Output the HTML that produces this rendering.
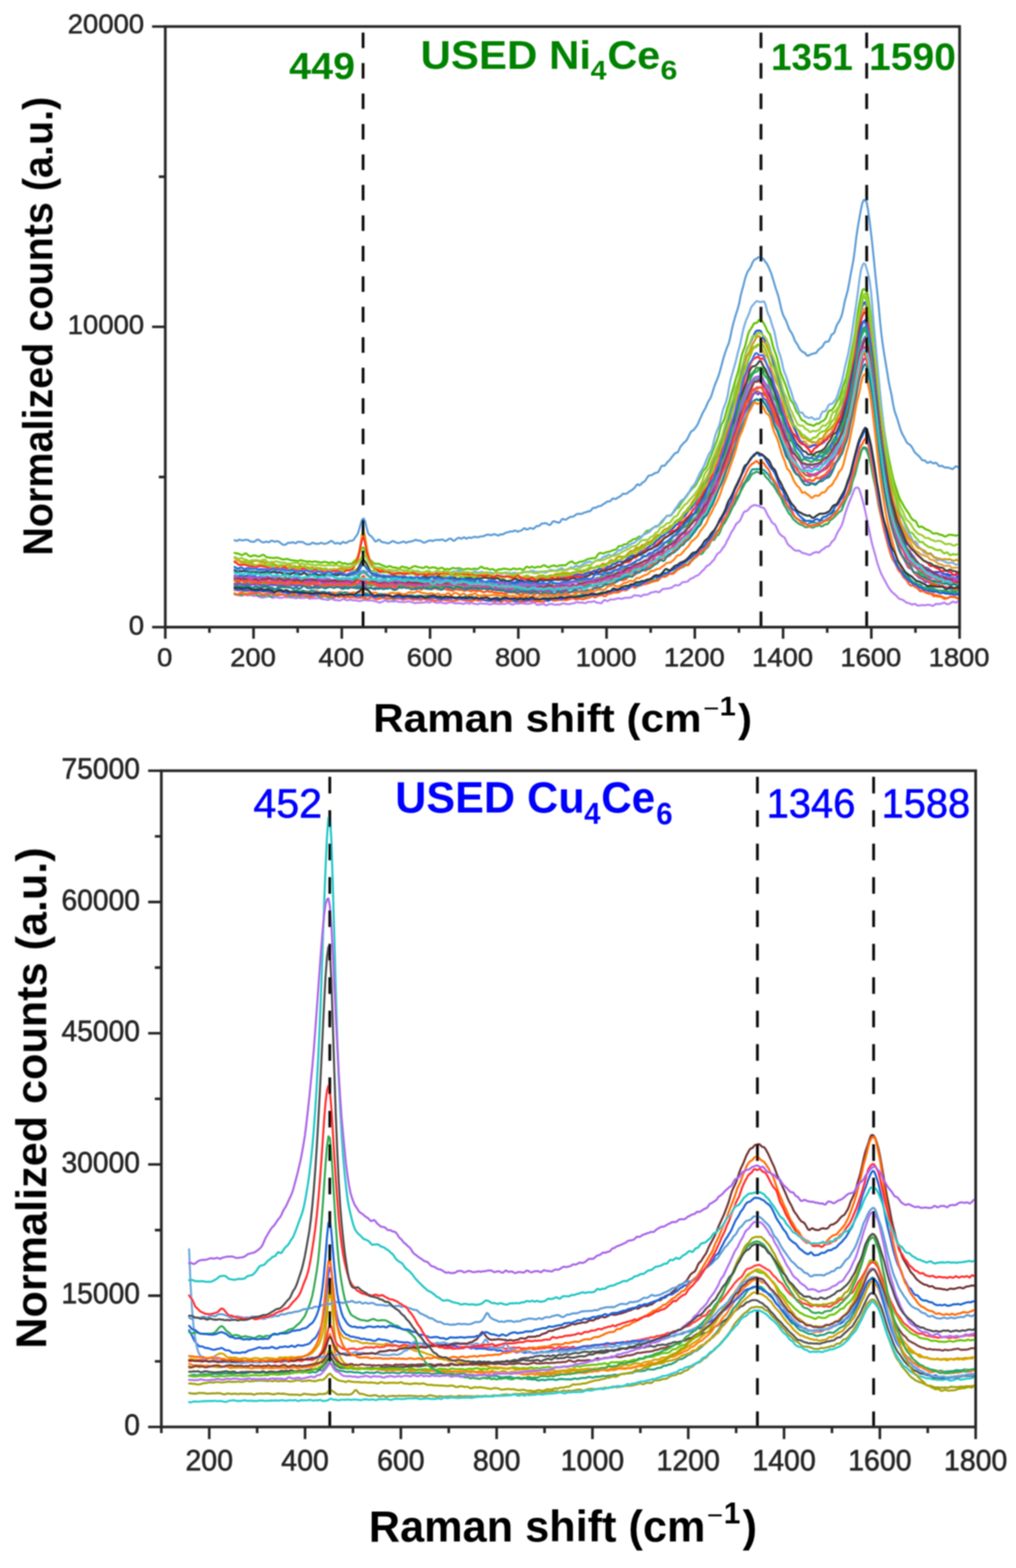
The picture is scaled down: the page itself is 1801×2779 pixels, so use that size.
<!DOCTYPE html><html><head><meta charset="utf-8"><title>Raman spectra</title><style>html,body{margin:0;padding:0;background:#fff}svg{display:block}text{font-family:"Liberation Sans", Arial, sans-serif;font-size:100px}</style></head><body>
<svg width="1801" height="2779" viewBox="0 0 1801 2779">
<rect width="1801" height="2779" fill="#fff"/>
<filter id="bl" filterUnits="userSpaceOnUse" x="0" y="0" width="1801" height="2779"><feGaussianBlur stdDeviation="0.85"/></filter>
<g filter="url(#bl)">
<defs><clipPath id="ct"><rect x="293" y="47" width="1408" height="1064.5"/></clipPath><clipPath id="cb"><rect x="286" y="1366" width="1443.5" height="1163"/></clipPath></defs>
<g clip-path="url(#ct)" fill="none" stroke-linejoin="round" stroke-linecap="round">
<path d="M415.8 1053.3l2.6 0.2 2.6 0.8 2.6 0.8 2.6 0.3 2.6 0 2.6-1.2 2.6-0.7 2.6 1.3 2.6 0.6 2.6-0.8 2.6-0.1 2.6 0.9 2.6 0.8 2.6-0.5 2.6 0 2.6 1.3 2.6 0.9 2.6 0.8 2.6 0.5 2.6-0.4 2.6-0.6 2.6-0.4 2.6-0.7 2.6-0.3 2.6 1.6 2.6 1.5 2.6-0.8 2.6-1.4 2.6 0.6 2.6 1.1 2.6 0.1 2.6 0.1 2.6-0.7 2.6-0.8 2.6 0.6 2.6-0.1 2.6-0.4 2.6 0.8 2.6 0.3 2.6-0.3 2.6 0.7 2.6 0.7 2.6-1.1 2.6-0.3 2.6 1.1 2.6-0.4 2.6 0.1 2.6-0.1 2.6-1.4 2.6 1 2.6 1.9 2.6-0.4 2.6-0.6 2.6 0.2 2.6 0 2.6 0.1 2.6-0.6 2.6 0.1 2.6 1.3 2.6 0.6 2.6 0 2.6 0.5 2.6 0.8 2.6 0 2.6-1.1 2.6-1.2 2.6 0.6 2.6 2 2.6 0.1 2.6-0.3 2.6 1.2 2.6-0.2 2.6-1.6 2.6-1.1 2.6 0.5 2.6 1.3 2.6 0.6 2.6-0.8 2.6-0.7 2.6 1 2.6 0.6 2.6-0.3 2.6 0.2 2.6 0.8 2.6 0.5 2.6-0.3 2.6-0.8 2.6-0.9 2.6 0.1 2.6 0.6 2.6 0.2 2.6 0.1 2.6-0.3 2.6 0.2 2.6 0.9 2.6 0.7 2.6 0.4 2.6 1.3 2.6 0.6 2.6-1.1 2.6-0.7 2.6-1.6 2.6-0.9 2.6 1.9 2.6 0.9 2.6-1 2.6-0.2 2.6 0.5 2.6 0 2.6-0.7 2.6 0.6 2.6 1.1 2.6-0.2 2.6 0.1 2.6 0.4 2.6-0.2 2.6-0.3 2.6-0.8 2.6 0 2.6 0.8 2.6 0.5 2.6 0.8 2.6 1.2 2.6-0.6 2.6-0.5 2.6 0.3 2.6-0.4 2.6-0.1 2.6-0.3 2.6-0.4 2.6-0.4 2.6 0.7 2.6 0.6 2.6-1.8 2.6-0.7 2.6 1.4 2.6 0.9 2.6 0.4 2.6-0.2 2.6-0.7 2.6 0.4 2.6 0.7 2.6 0.4 2.6 0.6 2.6-0.6 2.6-1.3 2.6-0.3 2.6 0.1 2.6 0.7 2.6 1 2.6 0.2 2.6-0.2 2.6-0.2 2.6 0.2 2.6 0.6 2.6 0.8 2.6-1.1 2.6-1.4 2.6 1.2 2.6 0.9 2.6-1.6 2.6-0.2 2.6 1.6 2.6 0.4 2.6 0.4 2.6 0.2 2.6-1.4 2.6-0.4 2.6 0.7 2.6 0.2 2.6-0.2 2.6 0.2 2.6 0.6 2.6 0.8 2.6-0.6 2.6-1.4 2.6 0.2 2.6 0.3 2.6 0.2 2.6 0.6 2.6-0.2 2.6-0.6 2.6 0.3 2.6 0.3 2.6-0.7 2.6-0.9 2.6 0.1 2.6 1 2.6 1.4 2.6 0.1 2.6-1.7 2.6-0.6 2.6 0.7 2.6-0.2 2.6-0.5 2.6-0.2 2.6 0.6 2.6 0.3 2.6 0.1 2.6 0.6 2.6-0.5 2.6-0.8 2.6-0.6 2.6-0.9 2.6 1.1 2.6 2.8 2.6 0.5 2.6-1.2 2.6 0 2.6-0.5 2.6-0.1 2.6 2.1 2.6 0.4 2.6-1.9 2.6-0.8 2.6 0.2 2.6 0.2 2.6 0.9 2.6 0.4 2.6-0.7 2.6 0.4 2.6-0.1 2.6-1.5 2.6-0.7 2.6 0.3 2.6 0.8 2.6 0.4 2.6 0 2.6-0.5 2.6-0.8 2.6-0.2 2.6-0.7 2.6-1.4 2.6-0.2 2.6 1.2 2.6-0.2 2.6-0.4 2.6 0.9 2.6 0.6 2.6-1 2.6-1.4 2.6 0 2.6 0.2 2.6-0.7 2.6-0.8 2.6 1.2 2.6 1.6 2.6-0.1 2.6 0.9 2.6 0.2 2.6-3 2.6-2.7 2.6 0.6 2.6 1.3 2.6-0.9 2.6-1.9 2.6-0.3 2.6 0.2 2.6-0.2 2.6-0.7 2.6-1 2.6-0.3 2.6 0.6 2.6 0.3 2.6-0.7 2.6-0.8 2.6-0.4 2.6 0.5 2.6-0.5 2.6-0.4 2.6-0.7 2.6-2.5 2.6-0.8 2.6 0.9 2.6-0.5 2.6 0.7 2.6 1.2 2.6-1.6 2.6-1.7 2.6 0.1 2.6 0.1 2.6-0.8 2.6-1.7 2.6-1.5 2.6-0.3 2.6-0.6 2.6-0.9 2.6 0.5 2.6 0.9 2.6-1 2.6-3 2.6-1.8 2.6-0.2 2.6-0.3 2.6-0.2 2.6-0.4 2.6-0.5 2.6-0.8 2.6-1.9 2.6-2 2.6-0.5 2.6 0.4 2.6-0.3 2.6-1.8 2.6-2.8 2.6-1 2.6-0.1 2.6-0.3 2.6-0.8 2.6-2.6 2.6-2.3 2.6-0.8 2.6-1.1 2.6-2 2.6-1.2 2.6-0.9 2.6-2.2 2.6-2.9 2.6-2.8 2.6-2.1 2.6-3.3 2.6-3.2 2.6-1 2.6-1.8 2.6-3.3 2.6-2.6 2.6-2.7 2.6-5 2.6-4.6 2.6-1.9 2.6-1.9 2.6-3.5 2.6-4 2.6-3 2.6-4.7 2.6-5.8 2.6-4.2 2.6-5.7 2.6-5.3 2.6-3.4 2.6-4.9 2.6-5 2.6-2.3 2.6-1.9 2.6-3.8 2.6-6 2.6-6 2.6-2.5 2.6-0.3 2.6-1.8 2.6-3.3 2.6-2.8 2.6-1.4 2.6-1.2 2.6-0.3 2.6 0.8 2.6 0.6 2.6 0.9 2.6 1.5 2.6 0.7 2.6 1.2 2.6 4.1 2.6 5.8 2.6 4.7 2.6 3.7 2.6 5.1 2.6 3.4 2.6 1 2.6 3.4 2.6 6.2 2.6 5.5 2.6 3.4 2.6 2.5 2.6 1.3 2.6 2 2.6 5.3 2.6 5.5 2.6 3.2 2.6 1.6 2.6 2.4 2.6 2.6 2.6 1.7 2.6 1 2.6-0.3 2.6 0 2.6 1.8 2.6 2 2.6 0.7 2.6 0.7 2.6 0.8 2.6 0.7 2.6 1 2.6-0.8 2.6-2.2 2.6-0.9 2.6-1 2.6-0.4 2.6 1.2 2.6-1.2 2.6-2.9 2.6-1.7 2.6-1.6 2.6-2.5 2.6-1 2.6-0.2 2.6-2.9 2.6-4.7 2.6-2.4 2.6-2.4 2.6-5.9 2.6-6 2.6-4.4 2.6-4.1 2.6-4.7 2.6-8.2 2.6-9.8 2.6-8 2.6-7.4 2.6-7 2.6-6.4 2.6-6.2 2.6-7.3 2.6-5.2 2.6-1.2 2.6-0.2 2.6 4 2.6 8.3 2.6 8.8 2.6 9.7 2.6 11.3 2.6 12.8 2.6 12.8 2.6 12.2 2.6 12.5 2.6 11.2 2.6 8.7 2.6 9.2 2.6 10.2 2.6 8 2.6 7.4 2.6 6.4 2.6 5 2.6 4.9 2.6 4.7 2.6 5.1 2.6 4.2 2.6 3.9 2.6 3.4 2.6 2.2 2.6 2.3 2.6 2.2 2.6 2.9 2.6 2.6 2.6 1.2 2.6 0.5 2.6 1.2 2.6 2.1 2.6 1.9 2.6 1 2.6 0.2 2.6 1.5 2.6 1.2 2.6-1.2 2.6-0.3 2.6 2.1 2.6 0.9 2.6-0.1 2.6-0.3 2.6-0.5 2.6 0.4 2.6-0.1 2.6-0.6 2.6 0 2.6 0.1 2.6 0.8 2.6 1 2.6-1.2 2.6-2.3 2.6-0.2 2.6 0.4 2.6-0.4 2.6-0.3 2.6-1.2 2.6-0.6 2.6 1.7 2.6 1.2 2.6-0.5 2.6-1.3 2.6-2.2 2.6-0.7 2.6 1.4 2.6 0.3 2.6-2.1 2.6-0.6 0.8 1.6" stroke="#b57ff0" stroke-width="3.6"/>
<path d="M415.8 980l2.6 0.6 2.6 0.1 2.6 1 2.6 1.3 2.6 0.9 2.6-0.9 2.6-2.2 2.6 0.3 2.6 2.2 2.6 2.1 2.6 0.8 2.6-1 2.6-0.9 2.6 0.2 2.6 0.9 2.6 0.9 2.6-0.3 2.6-1.1 2.6-1.5 2.6 0.1 2.6 2.5 2.6 1.7 2.6 0.1 2.6 0.6 2.6 0.4 2.6 0.1 2.6 0.1 2.6-0.6 2.6-0.1 2.6 0.6 2.6 0.8 2.6 1.2 2.6 0.5 2.6-0.3 2.6-0.2 2.6-0.3 2.6 0.9 2.6 1.1 2.6 0.2 2.6 0.6 2.6 0.1 2.6 0.4 2.6 0.9 2.6-1.2 2.6-0.8 2.6 0.7 2.6 0.6 2.6 0.7 2.6 0.5 2.6-0.1 2.6-0.2 2.6 0.4 2.6 0.5 2.6-0.6 2.6-0.3 2.6 0.8 2.6 0.1 2.6 0.5 2.6 0.9 2.6-0.8 2.6-0.7 2.6 0.2 2.6 0.6 2.6 1 2.6-0.1 2.6-0.9 2.6 0 2.6 1.4 2.6 1 2.6-1.5 2.6-1.6 2.6 0.3 2.6 1.9 2.6 1 2.6-1.1 2.6 1 2.6 1.4 2.6-1.1 2.6-0.1 2.6-0.2 2.6-2.7 2.6-2.9 2.6-1.7 2.6-3.8 2.6-6.6 2.6-6.2 2.6-4.4 2.6-0.5 2.6 5.2 2.6 6.4 2.6 4.7 2.6 4.1 2.6 3 2.6 2.3 2.6 2.6 2.6 0.9 2.6-0.2 2.6 0.1 2.6 0.5 2.6 1.3 2.6 1.2 2.6 0.7 2.6 1.7 2.6 0.5 2.6-1.4 2.6-0.5 2.6 1.2 2.6 1.4 2.6 0 2.6-0.1 2.6 1.2 2.6 0.8 2.6-1.8 2.6-1.9 2.6 0.5 2.6 1.2 2.6-0.4 2.6 0.8 2.6 2 2.6-1.1 2.6-2.1 2.6-0.9 2.6-0.8 2.6 0.6 2.6 1.3 2.6 0.3 2.6 0.2 2.6 1 2.6-0.2 2.6-1.8 2.6-0.4 2.6 1.7 2.6 0.9 2.6-0.8 2.6-0.6 2.6 0.2 2.6 0.4 2.6 1.5 2.6 0.5 2.6-0.9 2.6-1.1 2.6 0.6 2.6 2.3 2.6 0.1 2.6-1 2.6 0.8 2.6 0.2 2.6-1.9 2.6-0.8 2.6 0.8 2.6 0.3 2.6-0.4 2.6-0.1 2.6 0.4 2.6 1.4 2.6 0.5 2.6-0.6 2.6-0.3 2.6-0.7 2.6 0.3 2.6 1 2.6-0.2 2.6-0.7 2.6-0.2 2.6 0.9 2.6-0.3 2.6-2.3 2.6-1.8 2.6 0.8 2.6 2.1 2.6 0.1 2.6-0.5 2.6 1.5 2.6 1.2 2.6-0.9 2.6-0.2 2.6 1.6 2.6 1.4 2.6-0.9 2.6-1.6 2.6 0.1 2.6-0.1 2.6-1 2.6-0.1 2.6 0.3 2.6 0.3 2.6 0.7 2.6 0.5 2.6-0.8 2.6-1.4 2.6 0.4 2.6 1.1 2.6-0.2 2.6-0.9 2.6 0.1 2.6 1.5 2.6 0.2 2.6-2.7 2.6-2.7 2.6 0.6 2.6 1.3 2.6-1.1 2.6-0.8 2.6 1.5 2.6 0.4 2.6-1.4 2.6-0.4 2.6 0.6 2.6-0.4 2.6-2 2.6-0.8 2.6 1 2.6 1.7 2.6 1.1 2.6-1.3 2.6-1.1 2.6-0.7 2.6-0.4 2.6 1.3 2.6 0.5 2.6-1.2 2.6-0.6 2.6-0.1 2.6-0.5 2.6 0.5 2.6-0.4 2.6-2.6 2.6-1.9 2.6-1.3 2.6-0.9 2.6 2.1 2.6 1.9 2.6-0.4 2.6-1.1 2.6-1.5 2.6-0.5 2.6 0 2.6-1.1 2.6-0.9 2.6-1.5 2.6-1.1 2.6-0.5 2.6-0.6 2.6-0.4 2.6 0.1 2.6-0.5 2.6-3.1 2.6-4 2.6-1.7 2.6 0 2.6 0.9 2.6-0.3 2.6-1.8 2.6-0.5 2.6-0.1 2.6-1 2.6-1.1 2.6-0.9 2.6-0.7 2.6-0.6 2.6-2.9 2.6-3.3 2.6 0 2.6-0.1 2.6-2.2 2.6-0.8 2.6 0.1 2.6-1.9 2.6-2.8 2.6-1.2 2.6-1.7 2.6-1.7 2.6-0.2 2.6-0.7 2.6-2.4 2.6-1.5 2.6 0.6 2.6-1.2 2.6-3.2 2.6-3.1 2.6-2.8 2.6-0.8 2.6-0.1 2.6-2.1 2.6-1.7 2.6-1.5 2.6-2.2 2.6-0.2 2.6-0.7 2.6-2.6 2.6-2.2 2.6-3.1 2.6-3.9 2.6-3.5 2.6-2.6 2.6 0 2.6 0 2.6-2.4 2.6-2.6 2.6-3 2.6-3.8 2.6-1.5 2.6-2 2.6-4.9 2.6-3.9 2.6-2.9 2.6-3.3 2.6-3.4 2.6-3.6 2.6-4 2.6-3.2 2.6-3.1 2.6-2.5 2.6-2.2 2.6-4.4 2.6-5.3 2.6-3.9 2.6-4.7 2.6-6.8 2.6-3.9 2.6-1.7 2.6-4.6 2.6-7.4 2.6-6.6 2.6-5.8 2.6-6.4 2.6-6.9 2.6-7 2.6-6.4 2.6-8.2 2.6-10.9 2.6-8.4 2.6-4 2.6-6.1 2.6-9.7 2.6-9.6 2.6-7.8 2.6-9.1 2.6-10 2.6-8.3 2.6-9.3 2.6-9.1 2.6-7.7 2.6-10.2 2.6-12.5 2.6-10.9 2.6-7.3 2.6-6.3 2.6-10.2 2.6-10.8 2.6-6.8 2.6-3.5 2.6-4.3 2.6-5 2.6-1.4 2.6 0.1 2.6-3.2 2.6-3.4 2.6 0.6 2.6 3.4 2.6 4.4 2.6 4.7 2.6 6.5 2.6 4 2.6 2.8 2.6 9.4 2.6 11.4 2.6 8.1 2.6 6.4 2.6 8.1 2.6 12.1 2.6 11 2.6 6.6 2.6 6.3 2.6 6.6 2.6 6.4 2.6 7.7 2.6 8.7 2.6 7.7 2.6 3.4 2.6 3.2 2.6 6.9 2.6 6.8 2.6 3.5 2.6 3.5 2.6 5.8 2.6 3.3 2.6 0.6 2.6 2 2.6 2.7 2.6 1.4 2.6 0.8 2.6 0.4 2.6 1 2.6 0.7 2.6-2.3 2.6-1.7 2.6 0.5 2.6-1.8 2.6-2.3 2.6-0.8 2.6-1.7 2.6-3.1 2.6-6.2 2.6-6.3 2.6-1.7 2.6-0.2 2.6-2.9 2.6-3.8 2.6-5.1 2.6-5 2.6-3.8 2.6-6.7 2.6-8.3 2.6-8.1 2.6-6.9 2.6-7.8 2.6-12.1 2.6-13 2.6-12.7 2.6-13.5 2.6-12.2 2.6-14.9 2.6-20.6 2.6-18.3 2.6-13.5 2.6-13.1 2.6-9.9 2.6-2.9 2.6 1.4 2.6 2.9 2.6 9.8 2.6 16.6 2.6 18.6 2.6 23.8 2.6 24.4 2.6 22.1 2.6 26.3 2.6 26.5 2.6 21.3 2.6 18.4 2.6 20 2.6 20.2 2.6 16.7 2.6 15.5 2.6 15.1 2.6 12.6 2.6 11.9 2.6 11.4 2.6 9.5 2.6 7.9 2.6 7.9 2.6 7.8 2.6 5.7 2.6 4.4 2.6 5 2.6 4.4 2.6 4 2.6 3.6 2.6 3.9 2.6 5.1 2.6 3.6 2.6 1.9 2.6 0.6 2.6 3.4 2.6 6.1 2.6 1.9 2.6-0.9 2.6 0.5 2.6 2 2.6 2 2.6 1 2.6 1 2.6 1.1 2.6 2 2.6 2.4 2.6 0.3 2.6-0.3 2.6 0 2.6 1.2 2.6 1.3 2.6 0.1 2.6 1.2 2.6 1.5 2.6 0.2 2.6-1.5 2.6-1.6 2.6 0 2.6 0.6 2.6 0 2.6 0.7 2.6 0.4 2.6-0.9 2.6-0.1 0.8 1.2" stroke="#5fbf00" stroke-width="3.6"/>
<path d="M415.8 1007.9l2.6 0 2.6 0.3 2.6 0 2.6-0.7 2.6 0.1 2.6 0.6 2.6 0.4 2.6-0.5 2.6-0.2 2.6-0.4 2.6-1.2 2.6-0.2 2.6-0.1 2.6 1.1 2.6 2 2.6 0.2 2.6-0.7 2.6 0 2.6 0.5 2.6 1.2 2.6 1 2.6 0.3 2.6 0 2.6-1.1 2.6-0.1 2.6 0.4 2.6-0.7 2.6 0.2 2.6 1.7 2.6 1 2.6 0 2.6 0.2 2.6-1.9 2.6-1.8 2.6 0.6 2.6 0.8 2.6 0.4 2.6-0.3 2.6-0.3 2.6-0.2 2.6-1.3 2.6-0.7 2.6 1.1 2.6 1.5 2.6 0.5 2.6-0.6 2.6-0.4 2.6-0.2 2.6-0.5 2.6 0.6 2.6 2.1 2.6-0.3 2.6-1.4 2.6 0.9 2.6 0.9 2.6 0.4 2.6 0.1 2.6-2.1 2.6-2.4 2.6 1.3 2.6 3 2.6 0.7 2.6-1.2 2.6-0.7 2.6 1.1 2.6 0.1 2.6-1.7 2.6-0.1 2.6 1.8 2.6 1.7 2.6 0.4 2.6 0.2 2.6-0.3 2.6-1.5 2.6-0.7 2.6-1.1 2.6-1.6 2.6 1.3 2.6 1.8 2.6-1 2.6-0.3 2.6 1.9 2.6 0.9 2.6 0 2.6-0.4 2.6-0.4 2.6 1.8 2.6 0.3 2.6-1.5 2.6-0.7 2.6-0.4 2.6-0.1 2.6-0.2 2.6 0.6 2.6 1.6 2.6-0.1 2.6-0.8 2.6-0.5 2.6 0.1 2.6 1 2.6-0.4 2.6-1.4 2.6 0.3 2.6-0.1 2.6-2.4 2.6 0.3 2.6 2.9 2.6-1 2.6-2.3 2.6 0.9 2.6 1.8 2.6 0.9 2.6 0.4 2.6 0 2.6-0.5 2.6-0.5 2.6 0.5 2.6 1.1 2.6 0.2 2.6-0.4 2.6-0.1 2.6-0.9 2.6-1.3 2.6 0 2.6 0.3 2.6 0.3 2.6 0.5 2.6 0.4 2.6-0.3 2.6 0 2.6 0.1 2.6-0.9 2.6 0.5 2.6 1.3 2.6 0.3 2.6-0.4 2.6-0.3 2.6-0.5 2.6-0.5 2.6 1.8 2.6 1.7 2.6-0.2 2.6-0.5 2.6-1.9 2.6-2 2.6 0.9 2.6 2 2.6-0.9 2.6-2.2 2.6 0.3 2.6 0.6 2.6-1.7 2.6-1.4 2.6 1.1 2.6 1.7 2.6 0.3 2.6 0.2 2.6 1.4 2.6 0.6 2.6-0.4 2.6 0 2.6-0.4 2.6-1.8 2.6-0.7 2.6 1.8 2.6 1 2.6-0.6 2.6-0.9 2.6-0.1 2.6 1.5 2.6 1.6 2.6 0.7 2.6-1.1 2.6-1.6 2.6 0.4 2.6 1 2.6-0.3 2.6-0.9 2.6-0.1 2.6 0.7 2.6 1 2.6 1.2 2.6-1.3 2.6-1.3 2.6 1.6 2.6-0.2 2.6-1.3 2.6 0.6 2.6 0.3 2.6-0.6 2.6-0.4 2.6 1 2.6 0.9 2.6-0.5 2.6-0.4 2.6-0.4 2.6-1.2 2.6-1.1 2.6 0.2 2.6 0.5 2.6-1 2.6-1.1 2.6-0.3 2.6 0.4 2.6 1.3 2.6 0.2 2.6-0.1 2.6 0.8 2.6-0.3 2.6-0.4 2.6 0.8 2.6 0.6 2.6-0.8 2.6-2.1 2.6-1.7 2.6-0.3 2.6 0.8 2.6 0.7 2.6-0.2 2.6-1 2.6-0.8 2.6-1.5 2.6-1.1 2.6 1.6 2.6 1.7 2.6 0 2.6-0.3 2.6-1.8 2.6-2.7 2.6 0.2 2.6 0.7 2.6-2.2 2.6-1.5 2.6 0.9 2.6 0.4 2.6-1.2 2.6-1.7 2.6-1.7 2.6-1.5 2.6-1.1 2.6-0.8 2.6-0.6 2.6 1 2.6 1.1 2.6-1.4 2.6-1.8 2.6-1.1 2.6-1.3 2.6 0 2.6-1 2.6-2.9 2.6-1.3 2.6-0.6 2.6-1.7 2.6-1.3 2.6 1 2.6 1.3 2.6-1.7 2.6-2.2 2.6-1.5 2.6-2.8 2.6-2.2 2.6 0.4 2.6-1.5 2.6-3.2 2.6 0.1 2.6 0 2.6-2.8 2.6-1.8 2.6-1.2 2.6-1.9 2.6-0.7 2.6-0.9 2.6-3 2.6-2.2 2.6-0.9 2.6-1.8 2.6-3.5 2.6-2.8 2.6-0.6 2.6-1.4 2.6-1.3 2.6-1.5 2.6-3 2.6-2.9 2.6-2 2.6-0.6 2.6-0.4 2.6-2.3 2.6-3.5 2.6-3.5 2.6-2.7 2.6-2 2.6-2.8 2.6-2.6 2.6-0.1 2.6 0.2 2.6-1.8 2.6-4.4 2.6-4.9 2.6-3 2.6-3.6 2.6-4.2 2.6-3.7 2.6-2.3 2.6-1.3 2.6-2.7 2.6-3.8 2.6-3.5 2.6-3.1 2.6-5.2 2.6-4.3 2.6-2.1 2.6-3.9 2.6-5 2.6-5.8 2.6-5.9 2.6-4.8 2.6-4.1 2.6-4.6 2.6-6.6 2.6-6.3 2.6-6.4 2.6-4.6 2.6-3.5 2.6-8.4 2.6-11.1 2.6-9.5 2.6-6.8 2.6-5.8 2.6-8 2.6-12.4 2.6-10.6 2.6-6.6 2.6-6.5 2.6-9.5 2.6-14.9 2.6-14.1 2.6-9.3 2.6-9.4 2.6-8.7 2.6-9.6 2.6-11.4 2.6-9.1 2.6-10.6 2.6-12.9 2.6-11.2 2.6-9.2 2.6-7.2 2.6-5.3 2.6-6.5 2.6-8 2.6-4.6 2.6-2.4 2.6-3.5 2.6-2.2 2.6 0.7 2.6 1.1 2.6-0.1 2.6-0.8 2.6 0 2.6 5.3 2.6 10.8 2.6 7.3 2.6 4.9 2.6 9.2 2.6 8.3 2.6 7.5 2.6 12.5 2.6 13.6 2.6 9.3 2.6 6.9 2.6 9.9 2.6 12.3 2.6 8.6 2.6 5.8 2.6 8.2 2.6 9.1 2.6 6.5 2.6 8.2 2.6 9.4 2.6 4.9 2.6 3.9 2.6 7.3 2.6 6.3 2.6 1.2 2.6-0.6 2.6 3.7 2.6 3.9 2.6 0.1 2.6 1.9 2.6 0.3 2.6-1.4 2.6 1 2.6 2.3 2.6 0.8 2.6-1.7 2.6 0.9 2.6-1.9 2.6-7.4 2.6-4 2.6-0.2 2.6-1 2.6-4.7 2.6-5.4 2.6-2.2 2.6-0.1 2.6-1.7 2.6-3.6 2.6-2.9 2.6-6.2 2.6-8.8 2.6-7.4 2.6-8.3 2.6-11.4 2.6-13.1 2.6-10.5 2.6-10.5 2.6-13 2.6-13 2.6-16.7 2.6-18.5 2.6-16.5 2.6-17.7 2.6-18.9 2.6-20.8 2.6-17.1 2.6-8.4 2.6-4.2 2.6 1.6 2.6 8.3 2.6 10 2.6 11.6 2.6 20.3 2.6 30.7 2.6 31.4 2.6 28.8 2.6 28.9 2.6 27.9 2.6 27.2 2.6 25.8 2.6 24.3 2.6 23.5 2.6 21.8 2.6 19.3 2.6 16.6 2.6 14.8 2.6 13.3 2.6 12.2 2.6 10.3 2.6 10.6 2.6 11.3 2.6 9.1 2.6 6.6 2.6 4.6 2.6 4.9 2.6 7.2 2.6 6.4 2.6 5.4 2.6 5.3 2.6 3.7 2.6 5.9 2.6 4.1 2.6-1.1 2.6 2.7 2.6 5.7 2.6 2.9 2.6 2 2.6 3 2.6 3.2 2.6 1.3 2.6 0.2 2.6 0.7 2.6 1.3 2.6 0.9 2.6 1.1 2.6 2.9 2.6 2.9 2.6 2.6 2.6 0.1 2.6-0.9 2.6 1.1 2.6 0.8 2.6 1.2 2.6 1.8 2.6 0.5 2.6 0.5 2.6 0 2.6-0.7 2.6 0.7 2.6 2 2.6 0.9 2.6-0.4 2.6-0.4 0.8-0.4" stroke="#78aee2" stroke-width="3.6"/>
<path d="M415.8 988.5l2.6 1.3 2.6 2.3 2.6 1.4 2.6 1.1 2.6 0.8 2.6 0.2 2.6-0.3 2.6-0.6 2.6-0.3 2.6 0.8 2.6 1.3 2.6-0.2 2.6-1.6 2.6-0.7 2.6 0 2.6 0.4 2.6 1 2.6 1.3 2.6-0.9 2.6-0.2 2.6 2.1 2.6-0.4 2.6-0.9 2.6 1.2 2.6 0.3 2.6 0.6 2.6 1.6 2.6 0.8 2.6 1 2.6 0.7 2.6-0.1 2.6-0.4 2.6-0.5 2.6 0.8 2.6 0.3 2.6-2 2.6-0.4 2.6 1.7 2.6 1.6 2.6 0.2 2.6-0.5 2.6 1.1 2.6 1.3 2.6-2.4 2.6-0.9 2.6 2.7 2.6 0.1 2.6-0.4 2.6 0.3 2.6 0.3 2.6 1.4 2.6-0.5 2.6-1.1 2.6 1.4 2.6 1.1 2.6 0 2.6-0.5 2.6-0.4 2.6 0.8 2.6 0.7 2.6 0.5 2.6-0.4 2.6 1.3 2.6 1.8 2.6-0.8 2.6-0.4 2.6-1.1 2.6-1 2.6 1.8 2.6 0 2.6-2.1 2.6-0.7 2.6-0.3 2.6 0.9 2.6 1.2 2.6-1.3 2.6-2.3 2.6-0.7 2.6 0 2.6-1.1 2.6-1.8 2.6-4 2.6-6.3 2.6-5.7 2.6-8.5 2.6-14.9 2.6-16 2.6-5.2 2.6 10.5 2.6 15.9 2.6 13.9 2.6 10.9 2.6 5.9 2.6 2.7 2.6 3 2.6 1.6 2.6 0.7 2.6 1.8 2.6 0.9 2.6-0.3 2.6 1.6 2.6 1.9 2.6 0 2.6 0.9 2.6 1.3 2.6 0.2 2.6 1 2.6 1.3 2.6-0.7 2.6-0.5 2.6 1 2.6 0.9 2.6-0.8 2.6-0.9 2.6 0.5 2.6 0.4 2.6-0.1 2.6 0.6 2.6-0.8 2.6-1 2.6 1.3 2.6 0.2 2.6-1 2.6 0.8 2.6 0.5 2.6-1 2.6 0.7 2.6 2.3 2.6 0.5 2.6-0.5 2.6 0.2 2.6-0.2 2.6-0.7 2.6-0.5 2.6 0.2 2.6-0.5 2.6-0.2 2.6 0.7 2.6-1.1 2.6-1.3 2.6 1.2 2.6 1.4 2.6 0.4 2.6 0.1 2.6-1.1 2.6-0.3 2.6 1.2 2.6-0.4 2.6-0.8 2.6 0.7 2.6 0.8 2.6 0.9 2.6 0.3 2.6-1.7 2.6-1.5 2.6 1.4 2.6 1.5 2.6 0 2.6-0.7 2.6-0.7 2.6-0.9 2.6-0.6 2.6 0.4 2.6 0.4 2.6 0.5 2.6 1.4 2.6 1.3 2.6-0.2 2.6-0.6 2.6 1.3 2.6 0.6 2.6-1.4 2.6-0.2 2.6 0.7 2.6-0.1 2.6-0.3 2.6 0.3 2.6 1.3 2.6-0.1 2.6-1.2 2.6-0.2 2.6 0.8 2.6 0.7 2.6 0 2.6-1.2 2.6-0.5 2.6 0.4 2.6-1.1 2.6 0.1 2.6 1.1 2.6 0.5 2.6 1.8 2.6 1.3 2.6-0.8 2.6-1.2 2.6-0.4 2.6-0.2 2.6 0.6 2.6 0.6 2.6-0.6 2.6 0.2 2.6 0 2.6-0.3 2.6 0.6 2.6 0.4 2.6-0.9 2.6-1.6 2.6-1.2 2.6 0.3 2.6 1.4 2.6 0.5 2.6-0.8 2.6-0.3 2.6 0 2.6-1.4 2.6 0 2.6 0.4 2.6-1.6 2.6-1.2 2.6-0.3 2.6-0.2 2.6-0.3 2.6-1 2.6-0.2 2.6 0.2 2.6-0.6 2.6 0.2 2.6 0.8 2.6 0.4 2.6-1.2 2.6-0.8 2.6 0.1 2.6-1.3 2.6-1.2 2.6 1 2.6 1 2.6-1.9 2.6-1.7 2.6 0 2.6 0.4 2.6-0.1 2.6-1.9 2.6-1.7 2.6-0.3 2.6 0 2.6-1.6 2.6-1.7 2.6-0.5 2.6 0.2 2.6-1.8 2.6-2.5 2.6 0.7 2.6 0.3 2.6-1.1 2.6-1.7 2.6-3.3 2.6-1.5 2.6 1.8 2.6-0.3 2.6-3.7 2.6-2.5 2.6-1 2.6-0.3 2.6 0.5 2.6-0.2 2.6-0.3 2.6-1.9 2.6-3 2.6-2.4 2.6-2.5 2.6-0.1 2.6-0.2 2.6-3.1 2.6-2.7 2.6 0.5 2.6 0.3 2.6-2.9 2.6-2.5 2.6 0.1 2.6-1.2 2.6-3 2.6-0.9 2.6-0.2 2.6-1.5 2.6-2.4 2.6-2.6 2.6-2.8 2.6-2.7 2.6-0.6 2.6-0.2 2.6-3.2 2.6-3.5 2.6-2.1 2.6-1.6 2.6-0.3 2.6-1.9 2.6-3 2.6-0.3 2.6-1.8 2.6-4.5 2.6-2.6 2.6-1.3 2.6-1.5 2.6-2.2 2.6-3.5 2.6-4.4 2.6-2.7 2.6-2 2.6-4.1 2.6-2.8 2.6-3.4 2.6-5.3 2.6-2.9 2.6-3.5 2.6-5.6 2.6-3.4 2.6-3.9 2.6-5.9 2.6-4.9 2.6-4 2.6-4.4 2.6-5 2.6-5.4 2.6-4.5 2.6-6.7 2.6-8.4 2.6-5.5 2.6-6.7 2.6-8.4 2.6-5 2.6-5.3 2.6-7.5 2.6-7.9 2.6-10.3 2.6-8.9 2.6-5.8 2.6-8 2.6-10.1 2.6-8.8 2.6-8.8 2.6-8.9 2.6-7.7 2.6-9.9 2.6-11 2.6-9.9 2.6-8.8 2.6-8 2.6-9.4 2.6-7.6 2.6-4.8 2.6-4.7 2.6-6.8 2.6-6.6 2.6-3.8 2.6-4.5 2.6-4.7 2.6-2.1 2.6 1.2 2.6 5.3 2.6 3.7 2.6 0.9 2.6 2.9 2.6 5.5 2.6 6.2 2.6 5.8 2.6 7 2.6 8.4 2.6 8.7 2.6 8.8 2.6 8.9 2.6 7.9 2.6 8.5 2.6 8.4 2.6 7.1 2.6 8.3 2.6 8.3 2.6 8.3 2.6 6.2 2.6 4.8 2.6 8.9 2.6 8.6 2.6 4.7 2.6 1.6 2.6 1.6 2.6 4.3 2.6 5.2 2.6 4.2 2.6 1.5 2.6-0.5 2.6 1.5 2.6 3.1 2.6 0.9 2.6 0.8 2.6 1.6 2.6-0.7 2.6 0.6 2.6 0.3 2.6-4.1 2.6-2.8 2.6 0.6 2.6-1.9 2.6-4.9 2.6-3.2 2.6-3.2 2.6-2.5 2.6-1.4 2.6-3.1 2.6-3.2 2.6-3.5 2.6-4.6 2.6-5.9 2.6-6.6 2.6-5.1 2.6-5.5 2.6-7.7 2.6-8.5 2.6-8.3 2.6-10.7 2.6-12.7 2.6-13 2.6-14.3 2.6-17.3 2.6-20.1 2.6-17 2.6-13.4 2.6-15.4 2.6-15.1 2.6-7.6 2.6-2.8 2.6-0.6 2.6 3.9 2.6 10 2.6 15.4 2.6 20 2.6 24.9 2.6 25.9 2.6 24.4 2.6 23.7 2.6 25.6 2.6 23.9 2.6 20 2.6 21.1 2.6 21.7 2.6 18.7 2.6 15.6 2.6 13.1 2.6 12.5 2.6 12.7 2.6 11.2 2.6 9.8 2.6 8.4 2.6 6.1 2.6 7.5 2.6 9.2 2.6 6.2 2.6 4.2 2.6 5.1 2.6 5.3 2.6 4.6 2.6 3.5 2.6 2.3 2.6 3.1 2.6 3.3 2.6 2.7 2.6 3.6 2.6 2.9 2.6 0.6 2.6 1.3 2.6 1.9 2.6 0.5 2.6 1.9 2.6 3.7 2.6 0.9 2.6-1.4 2.6 1.1 2.6 3.8 2.6 2.3 2.6 0.5 2.6 0.9 2.6 1 2.6 0.3 2.6 1.1 2.6 0.1 2.6-0.9 2.6 0.8 2.6 0.3 2.6-0.8 2.6 0.5 2.6 1.3 2.6 1 2.6-0.3 2.6-1.5 2.6 1 2.6 2.2 0.8-0.2" stroke="#c99a00" stroke-width="3.6"/>
<path d="M415.8 994.3l2.6-0.6 2.6-0.7 2.6 1.1 2.6 2.4 2.6 1.5 2.6 0.5 2.6-0.7 2.6-1.7 2.6-1 2.6 2.9 2.6 3.2 2.6-0.4 2.6-0.6 2.6 1.1 2.6 0.4 2.6-0.9 2.6-0.4 2.6 0.8 2.6 0.4 2.6-0.4 2.6 0.8 2.6 1.4 2.6 0.9 2.6-0.7 2.6-0.3 2.6 1.1 2.6-0.6 2.6-0.8 2.6 0.6 2.6 0.9 2.6 0.1 2.6-1.5 2.6-0.3 2.6 2.3 2.6 2.4 2.6-0.5 2.6-2.6 2.6-0.9 2.6 0.8 2.6 1 2.6 1.5 2.6 0.6 2.6-0.4 2.6 0.7 2.6 0.7 2.6-1.5 2.6-0.2 2.6 2.7 2.6 0.8 2.6-0.9 2.6 1.2 2.6 0.9 2.6-1.9 2.6-0.5 2.6-0.2 2.6-1.2 2.6 1.4 2.6 1.6 2.6 0.4 2.6 0.7 2.6-0.2 2.6-0.7 2.6 0.4 2.6-0.6 2.6-1.7 2.6-0.2 2.6 0.7 2.6 0.3 2.6-0.3 2.6-0.2 2.6 0 2.6 0.1 2.6 1.5 2.6 1.1 2.6-0.1 2.6-1.4 2.6-2.5 2.6-1.1 2.6 0.2 2.6-0.9 2.6-2 2.6-2.3 2.6-4.5 2.6-7 2.6-9.7 2.6-14.5 2.6-14.3 2.6-3.7 2.6 9.7 2.6 13.3 2.6 11.1 2.6 9.3 2.6 5.4 2.6 4.3 2.6 5 2.6 2.3 2.6-0.6 2.6 0.7 2.6 3.1 2.6 0.7 2.6-0.7 2.6-0.3 2.6 0.4 2.6 1.5 2.6 1.4 2.6-0.2 2.6-0.8 2.6 2.1 2.6 2.1 2.6-1.2 2.6-2 2.6-0.8 2.6 1.2 2.6 0.6 2.6-1.2 2.6-0.4 2.6 0.7 2.6 0.1 2.6 0.4 2.6 1 2.6 0.1 2.6 0.4 2.6 0 2.6-0.4 2.6 0.4 2.6-1.2 2.6-0.5 2.6 1.6 2.6 1 2.6-0.6 2.6-1.1 2.6-0.3 2.6 0 2.6 0.3 2.6 0.9 2.6 0.9 2.6 0.3 2.6-1.1 2.6-0.3 2.6 0.2 2.6-1.1 2.6 1.5 2.6 2.4 2.6-0.3 2.6-1.2 2.6-2.5 2.6-1.2 2.6 2.1 2.6 1.2 2.6-0.3 2.6-0.5 2.6-0.9 2.6 0.5 2.6 0.7 2.6-0.1 2.6 0.8 2.6-0.3 2.6-1.2 2.6 0.9 2.6 1.9 2.6 0.6 2.6-0.4 2.6-1 2.6-0.1 2.6 1.1 2.6-0.5 2.6-0.9 2.6 0.2 2.6-0.3 2.6-0.3 2.6 0.5 2.6 0.4 2.6-0.4 2.6 1 2.6 1.6 2.6-0.4 2.6 0.1 2.6 1.3 2.6 1.3 2.6 0.7 2.6-0.8 2.6-0.9 2.6 0.1 2.6 0.1 2.6-1.2 2.6 0.1 2.6 1.4 2.6 0.9 2.6 0.7 2.6 0.2 2.6-0.6 2.6-0.7 2.6 0.6 2.6 0.9 2.6-0.1 2.6-0.4 2.6-1.6 2.6-1.5 2.6 0.9 2.6 2.3 2.6 1.7 2.6 0.7 2.6-1.1 2.6-1.5 2.6-0.1 2.6 0.2 2.6-0.1 2.6-1 2.6-0.7 2.6 1.2 2.6 0.9 2.6-0.6 2.6-0.6 2.6 1 2.6 1.1 2.6 0.2 2.6-0.9 2.6-3.2 2.6-1.4 2.6 1.4 2.6 0 2.6 0.2 2.6 1 2.6-0.4 2.6-0.5 2.6-1.2 2.6-0.8 2.6 1.1 2.6-0.7 2.6-1 2.6 0.2 2.6-1.1 2.6-1.2 2.6-0.2 2.6-0.5 2.6 0.5 2.6 0.3 2.6-3.1 2.6-2.6 2.6 0.3 2.6 1.3 2.6 1.2 2.6-0.4 2.6-0.8 2.6-1.4 2.6-1.5 2.6-0.1 2.6 0.3 2.6-0.2 2.6-1.9 2.6-1.6 2.6-0.3 2.6-1.8 2.6-2.1 2.6 0.8 2.6 0.3 2.6-2.4 2.6-3.8 2.6-2.2 2.6 0.9 2.6 0.8 2.6-1.7 2.6-1.9 2.6-1.1 2.6-2.6 2.6-1.8 2.6 0 2.6-1.2 2.6-2.2 2.6-0.8 2.6-0.1 2.6-1.5 2.6-0.7 2.6-0.6 2.6-1.9 2.6-1.2 2.6-0.1 2.6-0.7 2.6-3.2 2.6-4.9 2.6-2.8 2.6-0.7 2.6-0.5 2.6-0.3 2.6-1.4 2.6-1.6 2.6-0.5 2.6-1.7 2.6-2.9 2.6-1.6 2.6-1.6 2.6-2.8 2.6-2.9 2.6-2.5 2.6-1.5 2.6-1.4 2.6-2.3 2.6-1.9 2.6-1.7 2.6-3 2.6-3.9 2.6-3.5 2.6-1.5 2.6-0.1 2.6-2.5 2.6-3.9 2.6-3.2 2.6-2.5 2.6-3.4 2.6-4.4 2.6-2.5 2.6-2.9 2.6-5.7 2.6-3.8 2.6-2.5 2.6-3.7 2.6-4.2 2.6-4.8 2.6-3.5 2.6-3.2 2.6-4.7 2.6-5.4 2.6-6.2 2.6-6 2.6-5 2.6-2.7 2.6-3.9 2.6-8.1 2.6-7.9 2.6-9.3 2.6-9.4 2.6-6.2 2.6-6.2 2.6-7.7 2.6-8.1 2.6-7.7 2.6-7.9 2.6-9.9 2.6-11.1 2.6-9.7 2.6-8.7 2.6-8.3 2.6-8.5 2.6-9.5 2.6-10.2 2.6-9.4 2.6-6.9 2.6-5.7 2.6-8.7 2.6-9.6 2.6-4.9 2.6-5.3 2.6-7.6 2.6-4.2 2.6-0.5 2.6-2.1 2.6-3.3 2.6 1.3 2.6 3.6 2.6 4.8 2.6 6.2 2.6 3.6 2.6 1.7 2.6 4.7 2.6 8.4 2.6 9.5 2.6 7.7 2.6 6.9 2.6 6.9 2.6 4.6 2.6 4.2 2.6 6.8 2.6 11.2 2.6 12.3 2.6 11.4 2.6 9.4 2.6 4 2.6 2.6 2.6 4.3 2.6 5.5 2.6 6 2.6 5.1 2.6 3.4 2.6 4.4 2.6 6.3 2.6 4.8 2.6 1.2 2.6-1.5 2.6 0.4 2.6 3.9 2.6 3.3 2.6 0.3 2.6-0.5 2.6-0.1 2.6-0.8 2.6-0.9 2.6-1.1 2.6-2 2.6-1.2 2.6-0.6 2.6-1.5 2.6-2.8 2.6-3.3 2.6-2.4 2.6-2.3 2.6-1.6 2.6-3 2.6-5.1 2.6-4.2 2.6-5.4 2.6-4.2 2.6-2.4 2.6-5.8 2.6-7.8 2.6-7.1 2.6-9.2 2.6-11.7 2.6-11.1 2.6-11.3 2.6-12.8 2.6-13.9 2.6-14.6 2.6-16.9 2.6-17.7 2.6-15 2.6-12.7 2.6-12.1 2.6-11.4 2.6-6.2 2.6 1.5 2.6 5.7 2.6 6.7 2.6 13.3 2.6 22.6 2.6 23.9 2.6 26.4 2.6 27.9 2.6 23.6 2.6 21.6 2.6 21.9 2.6 23.3 2.6 22 2.6 18 2.6 16.8 2.6 16.1 2.6 15.1 2.6 13.7 2.6 10.6 2.6 7.9 2.6 8.6 2.6 10.1 2.6 8.9 2.6 6.7 2.6 6.1 2.6 5.8 2.6 6.7 2.6 6.8 2.6 5 2.6 4.1 2.6 4 2.6 4.2 2.6 5.3 2.6 4.3 2.6 2.8 2.6 2.1 2.6 0.9 2.6 2.1 2.6 2.6 2.6 0.2 2.6 0.7 2.6 1.6 2.6 0.1 2.6 2.1 2.6 3.4 2.6 0.8 2.6 0.6 2.6 1.2 2.6 1.4 2.6 2.4 2.6 1.8 2.6 1 2.6 0.5 2.6 0.8 2.6 1.5 2.6 0.1 2.6-0.9 2.6 0.2 2.6 1.6 2.6 2.1 2.6 0.4 2.6-0.6 2.6 0 2.6 0 2.6-0.4 0.8 0.4" stroke="#e0a030" stroke-width="3.6"/>
<path d="M415.8 1021l2.6-0.3 2.6 0 2.6 0.2 2.6-0.6 2.6 0.1 2.6 0.8 2.6 0.1 2.6-0.6 2.6-0.6 2.6 0.2 2.6 0.5 2.6 0.3 2.6 0 2.6 0 2.6 1.8 2.6 1.1 2.6-1.7 2.6 0.3 2.6 1.5 2.6 0.1 2.6-1.2 2.6-1.7 2.6 1.2 2.6 2 2.6-0.6 2.6-1.1 2.6-0.3 2.6 2.5 2.6 1.7 2.6-1.5 2.6-0.6 2.6 1.3 2.6 0.5 2.6-2.2 2.6-0.7 2.6 1.6 2.6-0.4 2.6-1.1 2.6-1 2.6 0.8 2.6 1.1 2.6-0.6 2.6 0.6 2.6 0.8 2.6 0 2.6 1.3 2.6 0.1 2.6-1.9 2.6 0.7 2.6 1 2.6 0.3 2.6 1.4 2.6 0.4 2.6-0.9 2.6-0.6 2.6-1 2.6-0.5 2.6 0.7 2.6-0.1 2.6 0.3 2.6 1.1 2.6 0.2 2.6-0.4 2.6-1 2.6-0.1 2.6 1.5 2.6 0.9 2.6-0.2 2.6-0.5 2.6-0.5 2.6 0.5 2.6 0.3 2.6-1.2 2.6 0.1 2.6 0.6 2.6-0.3 2.6 0.7 2.6 0.6 2.6 0.1 2.6 0.6 2.6 0 2.6-1.2 2.6-1.7 2.6 0.1 2.6 0.9 2.6-0.1 2.6 0.6 2.6 0.2 2.6-0.3 2.6-0.7 2.6-0.6 2.6 1.9 2.6 1.3 2.6-0.9 2.6 0.5 2.6 2.2 2.6 0.7 2.6-2.5 2.6-1.8 2.6 0.1 2.6-0.4 2.6 0.1 2.6 0.9 2.6 0.8 2.6 1.1 2.6-0.2 2.6-1.3 2.6 0.9 2.6 1.3 2.6-0.5 2.6 0 2.6 0.4 2.6-0.5 2.6 0.8 2.6 1.4 2.6-1.2 2.6-1.5 2.6 1.1 2.6-0.3 2.6-1.2 2.6 0.7 2.6 1.5 2.6-0.2 2.6-1.2 2.6-0.1 2.6 1.4 2.6 0.2 2.6-1.9 2.6-0.8 2.6 1.2 2.6 0.8 2.6-0.3 2.6-0.6 2.6 0.5 2.6 1.1 2.6-0.2 2.6 0.1 2.6 0.5 2.6-0.8 2.6-0.2 2.6 0.2 2.6 0.3 2.6 0.7 2.6-0.6 2.6-1.1 2.6-0.5 2.6 0.4 2.6 2.1 2.6 0.5 2.6-1.6 2.6-1.9 2.6-1 2.6 1.4 2.6 1.4 2.6-0.1 2.6 1.1 2.6-0.5 2.6-2.6 2.6 0 2.6 0.9 2.6-0.7 2.6-0.4 2.6 0.5 2.6 0.9 2.6 2 2.6 0.1 2.6-2.7 2.6-0.9 2.6 1 2.6 0.8 2.6 0.7 2.6-0.3 2.6-1.3 2.6-0.2 2.6 0.7 2.6-0.2 2.6-0.3 2.6 0 2.6 1 2.6 0.9 2.6-1.6 2.6-1.2 2.6 1.7 2.6 0.4 2.6-1.3 2.6-0.5 2.6 1.4 2.6 1.3 2.6-0.2 2.6 0.3 2.6-0.2 2.6-1.3 2.6-0.4 2.6-2 2.6-1.8 2.6 1.1 2.6 2 2.6 1.4 2.6 0.6 2.6-0.1 2.6-0.2 2.6-0.1 2.6-0.5 2.6-0.4 2.6 0.6 2.6 0.6 2.6-1 2.6-1.8 2.6-1.3 2.6-1 2.6 0 2.6 0.6 2.6 0.5 2.6-0.5 2.6-2.4 2.6-0.4 2.6 2.2 2.6 0.5 2.6-0.2 2.6 0.6 2.6-1.1 2.6-2.1 2.6-0.2 2.6-0.2 2.6-0.6 2.6 0.2 2.6-0.3 2.6-0.2 2.6-0.3 2.6-0.9 2.6-1.2 2.6-1.4 2.6-0.8 2.6-0.3 2.6 0.4 2.6 0.2 2.6 0.4 2.6-0.3 2.6-2.3 2.6-1 2.6-0.2 2.6-1.2 2.6-0.4 2.6-0.7 2.6-1.6 2.6 0.1 2.6-0.2 2.6-2.6 2.6-1 2.6 1.1 2.6 0.6 2.6 0 2.6-1.9 2.6-2.7 2.6-0.6 2.6 0 2.6-2.3 2.6-2.6 2.6 0 2.6-0.8 2.6-2.5 2.6-1 2.6 0.2 2.6 0.3 2.6 0 2.6-1.4 2.6-2.3 2.6-2.2 2.6-2.1 2.6-1.7 2.6-1 2.6-0.5 2.6 0.7 2.6-0.4 2.6-2.3 2.6-2 2.6-1.8 2.6-1.5 2.6-0.7 2.6-1.7 2.6-2.9 2.6-2 2.6-1.5 2.6-2.2 2.6-1.1 2.6-1 2.6-3.6 2.6-3.1 2.6-1 2.6-2.7 2.6-3.3 2.6-0.9 2.6-1.1 2.6-2.9 2.6-1.4 2.6-0.7 2.6-2.5 2.6-3 2.6-2.1 2.6-2.7 2.6-3 2.6-0.8 2.6-2.2 2.6-4.8 2.6-4.1 2.6-2 2.6-2 2.6-4.1 2.6-4.7 2.6-2.7 2.6-1.4 2.6-3.3 2.6-3.2 2.6-2.4 2.6-5.6 2.6-6.2 2.6-3.4 2.6-4.2 2.6-6.9 2.6-6.3 2.6-4 2.6-3.5 2.6-6.2 2.6-6.8 2.6-4.5 2.6-6.2 2.6-9.5 2.6-7.2 2.6-2.7 2.6-4.2 2.6-8.7 2.6-10.4 2.6-10.7 2.6-9.9 2.6-8 2.6-8.4 2.6-9.5 2.6-9.3 2.6-10 2.6-12.6 2.6-13.8 2.6-8.5 2.6-5.5 2.6-8.7 2.6-9.7 2.6-8.8 2.6-9.8 2.6-11.2 2.6-10.1 2.6-6.3 2.6-4.4 2.6-4.8 2.6-5.9 2.6-6.2 2.6-5.1 2.6-2.6 2.6-0.1 2.6-0.3 2.6 1.9 2.6 6.1 2.6 7.4 2.6 3.4 2.6 0.6 2.6 4.7 2.6 8.5 2.6 9.2 2.6 10.2 2.6 10.2 2.6 8.2 2.6 7.2 2.6 9.6 2.6 11 2.6 9.2 2.6 7.8 2.6 9.5 2.6 8.5 2.6 6 2.6 8.2 2.6 7.7 2.6 5 2.6 6.8 2.6 7.4 2.6 6.5 2.6 6.4 2.6 6.1 2.6 3.2 2.6 1.5 2.6 2.9 2.6 1.9 2.6 2.2 2.6 2.2 2.6-0.5 2.6-1 2.6-1.6 2.6-1.1 2.6 0.4 2.6 0.6 2.6-0.3 2.6-1.8 2.6-1.3 2.6-0.9 2.6-2.2 2.6-3 2.6-3.2 2.6-2.8 2.6-1.8 2.6-3.6 2.6-4 2.6-2.4 2.6-6.2 2.6-6.1 2.6-2.3 2.6-7.4 2.6-9.2 2.6-9 2.6-9.9 2.6-8.5 2.6-14.1 2.6-16 2.6-12.1 2.6-13.3 2.6-15.4 2.6-17.1 2.6-17.9 2.6-16.1 2.6-17.1 2.6-15 2.6-8 2.6-5.4 2.6-0.5 2.6 5.8 2.6 8.9 2.6 17.9 2.6 24.2 2.6 24 2.6 26.1 2.6 26.9 2.6 26.4 2.6 25.6 2.6 24.4 2.6 23.7 2.6 21.5 2.6 19.9 2.6 19.1 2.6 18.3 2.6 16.8 2.6 13.7 2.6 10.7 2.6 9.3 2.6 9.4 2.6 10.6 2.6 10.8 2.6 8.7 2.6 7 2.6 5.8 2.6 4.8 2.6 6.2 2.6 7.2 2.6 4.2 2.6 2.4 2.6 4.1 2.6 3.9 2.6 2.7 2.6 3.8 2.6 3.5 2.6 3.4 2.6 2.4 2.6 1 2.6 2.2 2.6 2.3 2.6 0.7 2.6 0.4 2.6 1.4 2.6 2.5 2.6 2 2.6 1 2.6 0.7 2.6-0.3 2.6 0.1 2.6 0 2.6-0.4 2.6 1.1 2.6 1.6 2.6 1.1 2.6 0.5 2.6-0.6 2.6 0.9 2.6 1.5 2.6-0.5 2.6-0.6 2.6 0.3 2.6 1.4 2.6 2.2 2.6-0.5 0.8-2.1" stroke="#1f50d0" stroke-width="3.6"/>
<path d="M415.8 1024l2.6 0.7 2.6-0.5 2.6 0.7 2.6 2.1 2.6 1 2.6-1.4 2.6-2 2.6-0.5 2.6 0.2 2.6-0.5 2.6 0.8 2.6 1.8 2.6-0.2 2.6-0.1 2.6 0.4 2.6-0.6 2.6-0.6 2.6 0.6 2.6 0.8 2.6-1.5 2.6-1.4 2.6 2.2 2.6 1.3 2.6-1.8 2.6-1.2 2.6 0.9 2.6 0.6 2.6-0.3 2.6 1 2.6 1 2.6-0.5 2.6-1.1 2.6-1 2.6 0.1 2.6 0.3 2.6-0.2 2.6 0.1 2.6 0.8 2.6 2.1 2.6 0.2 2.6-1.1 2.6 0.5 2.6-0.1 2.6-0.5 2.6 0.4 2.6-0.7 2.6 0.2 2.6 1.3 2.6-2.1 2.6-1.9 2.6 1.7 2.6 0.8 2.6-1.2 2.6 0.1 2.6 1.9 2.6 0.4 2.6-0.6 2.6-0.4 2.6-0.2 2.6 0.3 2.6 0.7 2.6 0.5 2.6 0.5 2.6 0.1 2.6-0.4 2.6 0.3 2.6-0.3 2.6-1.4 2.6 1 2.6 0.9 2.6-0.9 2.6-0.1 2.6 0 2.6-0.3 2.6 0 2.6 0.2 2.6 0.4 2.6-1.4 2.6-0.4 2.6 1.8 2.6-0.8 2.6-1.5 2.6 0.4 2.6-2.2 2.6-4.5 2.6-3.6 2.6-3.6 2.6-0.5 2.6 3.1 2.6 3.2 2.6 2.3 2.6 2 2.6 2.1 2.6 1.7 2.6 0.2 2.6-0.4 2.6 1.3 2.6 2.2 2.6 0.3 2.6-0.5 2.6 0.6 2.6 0.6 2.6 0.2 2.6-0.6 2.6-1.2 2.6-0.3 2.6-0.3 2.6-0.4 2.6-0.5 2.6-1 2.6 0.9 2.6 2.1 2.6 2.5 2.6 1.5 2.6-1.6 2.6-2.5 2.6-0.2 2.6 0.8 2.6-0.5 2.6 0.1 2.6 1.8 2.6 1.4 2.6-0.7 2.6-1.4 2.6-0.4 2.6 0.7 2.6 0.5 2.6-1.3 2.6-0.7 2.6 0.1 2.6-0.4 2.6 0.3 2.6 1.8 2.6 1.9 2.6-0.6 2.6-2.4 2.6-0.4 2.6 1.2 2.6 0.7 2.6-0.2 2.6 0 2.6 0.6 2.6-0.9 2.6-1.7 2.6 1 2.6 2.1 2.6 0.9 2.6-0.9 2.6-1.7 2.6-0.3 2.6 0.9 2.6 0.4 2.6 0.7 2.6-0.2 2.6-1.4 2.6-1.3 2.6 0.1 2.6 1.9 2.6 0.6 2.6-0.6 2.6 1.2 2.6 1.6 2.6-0.3 2.6-1.2 2.6-0.4 2.6-0.2 2.6-0.7 2.6-0.1 2.6 1 2.6 0.9 2.6 0.1 2.6-0.7 2.6-0.2 2.6 0.6 2.6 0.6 2.6 1.2 2.6 1.4 2.6-0.6 2.6-1.6 2.6-1 2.6-0.1 2.6 0.7 2.6-0.2 2.6-0.5 2.6 1 2.6 1.6 2.6 0.4 2.6 0.1 2.6 0.4 2.6-1.1 2.6-0.4 2.6 0.1 2.6-0.5 2.6 1.1 2.6 1.1 2.6 0.3 2.6 0 2.6-0.6 2.6-0.9 2.6-0.9 2.6 0.3 2.6 1 2.6 1.4 2.6 0.9 2.6-0.3 2.6-0.8 2.6-1 2.6-0.7 2.6-0.8 2.6 0 2.6 0.6 2.6 0.5 2.6 0 2.6-0.7 2.6 0.2 2.6 0.8 2.6-1.6 2.6-1.5 2.6 1.6 2.6 1.5 2.6 0.7 2.6-0.5 2.6-1.9 2.6-0.6 2.6-0.7 2.6-2.2 2.6-0.1 2.6 1.8 2.6-0.4 2.6-0.7 2.6 0 2.6-0.1 2.6-0.8 2.6-1.3 2.6-0.1 2.6-0.2 2.6-1.1 2.6-0.4 2.6 0.2 2.6-1 2.6-1.3 2.6 0.2 2.6 1 2.6 0.2 2.6-0.5 2.6-0.8 2.6-1.6 2.6-0.3 2.6 0.4 2.6-2.1 2.6-2.3 2.6-0.1 2.6-0.6 2.6-1.7 2.6 0.2 2.6 0.6 2.6-1.4 2.6-2.7 2.6-2.7 2.6-1.3 2.6 0.6 2.6 0.6 2.6-0.8 2.6-1.5 2.6-0.9 2.6-0.9 2.6-2.6 2.6-2.3 2.6-1 2.6-0.7 2.6 0.2 2.6-0.4 2.6-2.9 2.6-3.6 2.6-1.4 2.6-0.5 2.6-1.6 2.6-1.7 2.6-2 2.6-0.9 2.6-0.6 2.6-1.5 2.6-0.4 2.6-0.2 2.6-1.9 2.6-3.1 2.6-2.3 2.6-1.3 2.6-2.4 2.6-2.6 2.6-0.6 2.6-1.6 2.6-4.1 2.6-2.6 2.6 0.3 2.6 0.4 2.6-2.9 2.6-3.9 2.6-3.1 2.6-2 2.6-0.9 2.6-2.3 2.6-3.3 2.6-3.2 2.6-2.7 2.6-2.2 2.6-0.9 2.6-1.1 2.6-3.1 2.6-3.5 2.6-4.3 2.6-5.8 2.6-4.3 2.6-1.4 2.6-1.9 2.6-3.7 2.6-5.1 2.6-5.7 2.6-4.3 2.6-3.3 2.6-2.4 2.6-2.8 2.6-5.3 2.6-6.5 2.6-6.9 2.6-5.6 2.6-4.6 2.6-7.4 2.6-7.5 2.6-4.3 2.6-5.5 2.6-7.7 2.6-7.2 2.6-8.2 2.6-10.3 2.6-7.8 2.6-5 2.6-8.4 2.6-9.8 2.6-8.4 2.6-8.2 2.6-9.5 2.6-9.6 2.6-7.6 2.6-7.9 2.6-8.8 2.6-8 2.6-8.3 2.6-8 2.6-6 2.6-5.2 2.6-4.1 2.6-2.6 2.6-2.8 2.6-3.6 2.6-2.9 2.6 0.1 2.6 0.6 2.6-1.1 2.6 2.5 2.6 3.9 2.6 1.2 2.6 4.7 2.6 6.1 2.6 5 2.6 7.8 2.6 6.5 2.6 5.8 2.6 9.9 2.6 7.9 2.6 6.8 2.6 9.3 2.6 7 2.6 4.1 2.6 6.2 2.6 9.8 2.6 7.3 2.6 4.8 2.6 7.1 2.6 6.6 2.6 3.7 2.6 3.5 2.6 3.3 2.6 2.4 2.6 3.4 2.6 3.8 2.6 4 2.6 3.4 2.6 0.9 2.6 0.3 2.6 1.1 2.6 0.8 2.6-0.7 2.6-3.5 2.6-1.3 2.6 1.9 2.6 0.1 2.6-2.1 2.6-2.7 2.6-1.4 2.6-0.6 2.6-1.8 2.6-1.8 2.6-2.4 2.6-3.5 2.6-3.1 2.6-3.9 2.6-4.7 2.6-4.2 2.6-4.2 2.6-4 2.6-4.2 2.6-6.1 2.6-6.7 2.6-7.3 2.6-9 2.6-8.1 2.6-8 2.6-11.3 2.6-13.8 2.6-14.1 2.6-12.2 2.6-13.7 2.6-18.4 2.6-18.3 2.6-13.2 2.6-11.4 2.6-7.8 2.6-3.2 2.6-2.6 2.6 2.7 2.6 10.1 2.6 15.1 2.6 20.2 2.6 22.8 2.6 23.4 2.6 22.2 2.6 22.5 2.6 25.3 2.6 24.8 2.6 22.8 2.6 19 2.6 17.1 2.6 18.8 2.6 16.3 2.6 13 2.6 11.2 2.6 11.6 2.6 12.9 2.6 8.7 2.6 7.8 2.6 9.8 2.6 7.2 2.6 4.5 2.6 5.6 2.6 8.2 2.6 5.9 2.6 1.9 2.6 3.4 2.6 6.8 2.6 4.8 2.6 1.3 2.6 2.2 2.6 3.1 2.6 3.4 2.6 3.6 2.6 1.5 2.6 0.3 2.6 2.9 2.6 5.1 2.6 1 2.6-0.7 2.6 2.9 2.6 2.9 2.6 0.6 2.6 0.7 2.6 1.5 2.6 1.5 2.6 1.3 2.6 0.7 2.6 0.9 2.6 1.4 2.6 0.9 2.6-0.2 2.6-0.3 2.6 1.3 2.6 1.4 2.6 0.4 2.6 0.2 2.6 0.3 2.6 0.3 2.6-0.2 2.6 1.1 2.6 2.4 0.8 1" stroke="#3a9a3a" stroke-width="3.6"/>
<path d="M415.8 996.4l2.6 0.4 2.6 1.8 2.6 2.2 2.6 0.1 2.6-2.1 2.6-1.5 2.6 1.1 2.6 1.1 2.6-0.3 2.6 0.1 2.6 0.1 2.6 0.3 2.6 1.3 2.6 1.4 2.6 1.1 2.6 0.2 2.6-0.7 2.6-1.5 2.6-1.1 2.6-0.2 2.6 0.9 2.6 1 2.6 0 2.6 0 2.6-0.4 2.6 0.7 2.6 1.2 2.6-0.2 2.6-0.2 2.6-0.1 2.6-1.3 2.6-0.2 2.6 1.9 2.6 2.3 2.6 1 2.6-0.9 2.6 0.3 2.6 0.9 2.6-1.6 2.6-0.8 2.6 1.3 2.6 0.8 2.6-0.3 2.6-0.2 2.6 1.1 2.6-1.1 2.6-1.8 2.6 0.7 2.6 1.1 2.6 1.1 2.6 1 2.6-0.7 2.6-0.1 2.6 0.7 2.6-1 2.6-1.4 2.6 1.3 2.6 2.7 2.6 1.2 2.6-0.9 2.6-2 2.6-0.8 2.6 1.1 2.6 1.9 2.6 0.6 2.6-1 2.6 0 2.6 0.6 2.6-0.7 2.6-0.7 2.6 1 2.6 2.2 2.6 0.9 2.6-1.5 2.6-1.1 2.6 0.3 2.6 0.5 2.6-0.4 2.6-1.1 2.6-0.2 2.6 0.4 2.6 0.3 2.6-1.2 2.6-1.8 2.6-1.2 2.6-2.7 2.6-4.7 2.6-2.5 2.6 1.7 2.6 3.6 2.6 4.2 2.6 3.9 2.6 2.4 2.6-0.2 2.6-1.1 2.6 0.5 2.6 0.7 2.6 0.6 2.6 1.2 2.6 0.7 2.6-0.2 2.6-0.4 2.6 0.2 2.6 0.4 2.6 1 2.6 1.1 2.6 0.5 2.6-0.4 2.6 0.1 2.6 1.4 2.6-1.5 2.6-2.1 2.6 2 2.6 1.8 2.6-1.2 2.6-1.1 2.6 0.6 2.6 0.4 2.6 0.5 2.6-0.9 2.6-1.7 2.6 1.8 2.6 2.3 2.6-0.1 2.6-0.8 2.6-0.5 2.6 0.1 2.6 1.3 2.6 1.1 2.6-0.7 2.6 0 2.6 1.1 2.6 0.9 2.6-0.2 2.6-0.5 2.6 0.2 2.6 0.4 2.6-0.7 2.6-0.1 2.6 1 2.6 0.4 2.6-0.9 2.6 0.2 2.6 1.6 2.6 0.2 2.6-0.3 2.6-1.1 2.6-1.1 2.6 0.5 2.6 0.6 2.6-0.8 2.6-1.7 2.6-0.4 2.6 1.6 2.6 2.4 2.6 0 2.6-1.6 2.6 0.3 2.6 0.5 2.6 0.3 2.6 0.4 2.6-0.8 2.6-0.4 2.6 0.6 2.6 0.4 2.6 0.1 2.6-0.1 2.6-1.1 2.6-0.8 2.6 0.4 2.6 0.5 2.6 1.9 2.6 1.6 2.6-1.3 2.6-0.8 2.6 0.5 2.6 0.8 2.6 1 2.6-0.9 2.6-2 2.6-0.3 2.6 1.9 2.6 0.2 2.6-1 2.6-0.3 2.6-0.8 2.6 1 2.6 1.1 2.6-1.8 2.6-0.1 2.6 1.3 2.6-0.5 2.6-0.5 2.6 0 2.6 1.6 2.6 1.1 2.6-1.8 2.6-2.1 2.6-1.3 2.6 0.3 2.6 1.6 2.6 1.5 2.6 0.6 2.6 0 2.6 0.1 2.6 0.7 2.6 0.5 2.6-1.6 2.6-2.7 2.6-1.8 2.6 1 2.6 1.5 2.6 0.3 2.6 0.7 2.6 0.7 2.6-0.9 2.6-2.6 2.6-0.2 2.6 1.4 2.6-1 2.6-1.7 2.6-0.3 2.6 0.6 2.6 0.9 2.6-0.4 2.6-1.6 2.6-0.7 2.6 1.1 2.6-0.4 2.6-1.6 2.6-0.5 2.6-1.1 2.6-1 2.6-1.2 2.6-1.2 2.6 0 2.6 0.8 2.6 1 2.6-0.7 2.6-2.6 2.6-2.2 2.6-1.5 2.6-0.6 2.6 1 2.6 0 2.6-1.1 2.6-0.1 2.6 0.3 2.6-0.8 2.6-1.5 2.6-0.6 2.6-0.5 2.6-1 2.6-1.5 2.6-1.1 2.6-0.5 2.6-0.1 2.6-1.8 2.6-2.4 2.6-0.3 2.6-0.6 2.6-0.1 2.6-0.2 2.6-3.1 2.6-1.9 2.6-0.5 2.6-1.5 2.6-0.6 2.6-0.8 2.6-1.9 2.6-2.8 2.6-2.1 2.6-0.1 2.6-1.9 2.6-1.3 2.6 1.6 2.6-1.4 2.6-3.6 2.6-2.2 2.6-2.3 2.6-2.1 2.6 0.1 2.6 0.9 2.6-1 2.6-3.5 2.6-2.8 2.6-2.5 2.6-1.5 2.6-1.7 2.6-4.2 2.6-2.9 2.6-0.1 2.6 0.1 2.6-1.7 2.6-2.5 2.6-1.8 2.6-2.4 2.6-3.5 2.6-3.1 2.6-1.9 2.6-2.6 2.6-3.5 2.6-0.5 2.6 0.4 2.6-3.9 2.6-5.5 2.6-3.8 2.6-2 2.6-2.1 2.6-3.6 2.6-4 2.6-2.7 2.6-2.6 2.6-4.2 2.6-4.7 2.6-2.6 2.6-3.4 2.6-5.7 2.6-4.9 2.6-5.2 2.6-6.1 2.6-6.1 2.6-4.4 2.6-3.3 2.6-4.3 2.6-6.7 2.6-8.6 2.6-7.5 2.6-5.8 2.6-3.7 2.6-5.9 2.6-10.4 2.6-8.2 2.6-6.7 2.6-8.5 2.6-9.1 2.6-7.2 2.6-7.3 2.6-10.2 2.6-8.6 2.6-9.7 2.6-12.3 2.6-8.6 2.6-4.8 2.6-6.9 2.6-11.2 2.6-10.3 2.6-6.2 2.6-5.2 2.6-6.2 2.6-7.2 2.6-8.4 2.6-7.4 2.6-3.1 2.6-0.6 2.6-2.3 2.6-1.4 2.6 1.6 2.6-0.6 2.6-0.7 2.6 4 2.6 5.8 2.6 6.3 2.6 7.5 2.6 7.4 2.6 4.1 2.6 2.5 2.6 5.6 2.6 9 2.6 10.2 2.6 10 2.6 9.2 2.6 6.8 2.6 7.1 2.6 7.6 2.6 6.9 2.6 9.2 2.6 8.6 2.6 5.8 2.6 5.7 2.6 3.1 2.6 1.5 2.6 3.9 2.6 3.4 2.6 1.4 2.6 3.3 2.6 3.6 2.6 1.2 2.6 1.9 2.6 2.1 2.6 1.8 2.6 2.4 2.6 0 2.6-2.5 2.6-1.5 2.6-0.1 2.6-1.7 2.6-3.7 2.6-2.8 2.6-1.6 2.6-1.2 2.6-0.2 2.6-1.9 2.6-3.4 2.6-2.3 2.6-4.2 2.6-5.4 2.6-2 2.6-2.6 2.6-7.4 2.6-7.1 2.6-4.8 2.6-5.3 2.6-5 2.6-6 2.6-8.8 2.6-12.1 2.6-12.2 2.6-10.9 2.6-13.2 2.6-12.8 2.6-15.4 2.6-18.8 2.6-16.8 2.6-13.4 2.6-12.7 2.6-13.5 2.6-12.5 2.6-8.4 2.6 1.4 2.6 8.8 2.6 12.3 2.6 16.4 2.6 18.2 2.6 20 2.6 23.8 2.6 25.9 2.6 26.3 2.6 23.6 2.6 22 2.6 24.7 2.6 21.7 2.6 17.1 2.6 17.3 2.6 14.8 2.6 13.1 2.6 13.3 2.6 11.8 2.6 10.3 2.6 8 2.6 8.9 2.6 10.4 2.6 8.6 2.6 6.6 2.6 4.6 2.6 5.4 2.6 6.2 2.6 4.7 2.6 5.2 2.6 5.3 2.6 2 2.6 0.4 2.6 3 2.6 4.3 2.6 2.5 2.6 2.7 2.6 3.6 2.6 0.1 2.6-0.4 2.6 3.2 2.6 2.2 2.6 1.4 2.6 2.2 2.6 0.6 2.6 0.1 2.6 1.3 2.6 1.6 2.6 1.3 2.6 0.7 2.6 0 2.6-0.3 2.6 1.3 2.6 3.4 2.6 1.8 2.6-1.7 2.6-0.3 2.6 2.9 2.6 2.1 2.6-1.1 2.6-1.2 2.6 1.1 2.6 0.4 2.6-1.3 2.6-0.5 0.8 0.9" stroke="#84cc1c" stroke-width="3.6"/>
<path d="M415.8 1026.3l2.6-0.5 2.6-1.6 2.6 0.1 2.6 2.2 2.6 1.7 2.6-0.6 2.6-0.9 2.6-0.1 2.6-0.7 2.6-0.1 2.6 0.2 2.6-0.1 2.6 0.7 2.6 1.3 2.6-1.1 2.6-1.1 2.6 1.9 2.6 0.4 2.6-1.2 2.6 0.9 2.6 1.6 2.6 0 2.6-1.8 2.6-1.5 2.6 0.1 2.6 0.8 2.6 0.8 2.6 1.1 2.6 0.3 2.6-0.1 2.6-0.6 2.6-1.1 2.6 0.5 2.6 0.9 2.6-0.3 2.6 1 2.6 1.1 2.6 0.2 2.6 0.2 2.6-0.9 2.6-0.7 2.6 0.1 2.6 0 2.6 0.4 2.6 1 2.6 0.6 2.6-0.2 2.6 0 2.6 0 2.6-0.6 2.6 0.5 2.6 1.8 2.6 0.3 2.6-1.6 2.6-1.3 2.6-0.4 2.6-0.6 2.6-0.2 2.6 0.9 2.6 1.5 2.6 1.3 2.6 0.3 2.6-0.8 2.6-0.9 2.6-0.1 2.6 0.4 2.6 0 2.6-0.5 2.6 0.1 2.6 0.2 2.6 0.4 2.6 1.2 2.6 0.2 2.6-1.2 2.6-0.4 2.6 0.8 2.6-0.8 2.6-1.1 2.6 1.3 2.6 0.6 2.6-0.2 2.6 0.2 2.6-1.9 2.6-2.6 2.6-1 2.6-0.9 2.6-1.2 2.6-0.4 2.6 1.1 2.6 2.7 2.6 2.2 2.6 0.4 2.6 0.1 2.6 0.6 2.6 1.7 2.6 1.3 2.6-2.2 2.6-2 2.6 1.5 2.6 2.5 2.6 0.9 2.6 0 2.6-0.1 2.6-0.3 2.6-0.3 2.6-0.9 2.6 0.6 2.6 2.1 2.6 0 2.6 0.3 2.6 0.9 2.6-0.6 2.6-1.3 2.6-0.1 2.6 0.7 2.6-1.6 2.6-1.5 2.6 1.1 2.6 1.1 2.6 1.2 2.6 0.6 2.6-0.9 2.6-0.8 2.6-1.1 2.6-1 2.6 1.1 2.6 0.7 2.6 0.6 2.6 2.3 2.6 0.9 2.6-0.7 2.6-0.7 2.6-0.6 2.6-0.6 2.6-1.3 2.6-0.4 2.6 1.5 2.6 1.1 2.6-0.5 2.6 0.4 2.6 1.1 2.6-0.6 2.6-0.7 2.6-0.3 2.6-0.9 2.6 0.8 2.6 1.8 2.6 0.6 2.6-0.2 2.6-0.1 2.6-0.1 2.6-0.7 2.6-0.5 2.6 0.3 2.6 1.6 2.6 0.4 2.6-1.5 2.6-0.3 2.6 0 2.6 0.2 2.6-0.2 2.6-0.4 2.6 0.5 2.6 1.3 2.6 1.3 2.6-0.2 2.6 0 2.6 0.5 2.6-0.2 2.6-0.9 2.6 0.5 2.6 2 2.6 0.4 2.6-1 2.6-0.5 2.6 0.4 2.6 0.5 2.6 0 2.6-0.6 2.6 0 2.6 1.1 2.6 1.1 2.6 0.6 2.6-1.1 2.6-0.6 2.6 0.5 2.6 0.7 2.6 2.3 2.6 1.3 2.6-0.9 2.6-1.2 2.6-0.8 2.6 0 2.6-0.2 2.6-0.1 2.6 1.2 2.6 1.4 2.6-1.1 2.6-1 2.6 1.7 2.6-0.7 2.6-2.1 2.6 0.8 2.6 1.4 2.6-0.5 2.6-1.4 2.6 0.3 2.6 1 2.6-0.3 2.6-0.8 2.6-0.7 2.6 0.1 2.6 2 2.6 1 2.6-2 2.6-1.8 2.6 0.5 2.6-0.2 2.6-0.3 2.6 1.2 2.6 0.3 2.6 0 2.6-0.1 2.6-1.2 2.6-0.4 2.6 1.2 2.6 1.1 2.6-0.4 2.6-1.4 2.6-0.8 2.6 0 2.6 0.4 2.6-1 2.6-1.5 2.6-0.3 2.6-0.6 2.6-0.3 2.6 1.1 2.6-0.1 2.6-2 2.6-1.4 2.6 0.5 2.6 1.8 2.6 0.8 2.6-0.9 2.6-2.6 2.6-3 2.6-0.8 2.6 0 2.6-0.9 2.6-0.9 2.6-0.4 2.6-0.9 2.6 0.2 2.6 0.7 2.6-2.4 2.6-2.6 2.6-0.2 2.6 0 2.6-0.7 2.6-1.7 2.6-1.9 2.6-0.1 2.6 1.6 2.6 0.2 2.6-1.9 2.6-1 2.6-1.9 2.6-3.8 2.6-1 2.6 0.1 2.6-2.4 2.6-1.6 2.6-0.5 2.6-1 2.6 0.2 2.6-0.3 2.6-1.5 2.6-2.6 2.6-2.4 2.6-0.2 2.6-0.5 2.6-2.4 2.6-2.5 2.6-2.2 2.6-1.7 2.6-0.2 2.6-0.5 2.6-2.4 2.6-2.2 2.6-1.6 2.6-3.4 2.6-2.8 2.6-0.3 2.6-2 2.6-2.6 2.6-0.3 2.6-0.5 2.6-2.5 2.6-3.7 2.6-2.8 2.6-1.6 2.6-2.9 2.6-3.7 2.6-1.3 2.6-0.5 2.6-2.9 2.6-4 2.6-3.1 2.6-1.8 2.6-2 2.6-2.3 2.6-2.8 2.6-4.3 2.6-4.4 2.6-3.7 2.6-2.9 2.6-3.3 2.6-3.7 2.6-4.9 2.6-5.8 2.6-4.8 2.6-4.2 2.6-4.3 2.6-4.5 2.6-4.6 2.6-6 2.6-7.4 2.6-7.3 2.6-6.2 2.6-6.5 2.6-7.6 2.6-7.1 2.6-7.5 2.6-7.5 2.6-6.5 2.6-7.4 2.6-8.3 2.6-8.2 2.6-9.6 2.6-10.1 2.6-7.7 2.6-5.6 2.6-6.9 2.6-9.5 2.6-9.9 2.6-8.6 2.6-6 2.6-6.8 2.6-7.1 2.6-4.8 2.6-6.1 2.6-7.7 2.6-3.9 2.6-0.5 2.6 0.9 2.6 0.6 2.6-0.8 2.6 0.7 2.6 3.1 2.6 3.9 2.6 3.9 2.6 4.2 2.6 3.7 2.6 4.7 2.6 9.2 2.6 10.7 2.6 8.3 2.6 7.2 2.6 5.7 2.6 5 2.6 7.6 2.6 8.6 2.6 7.6 2.6 8.6 2.6 8.7 2.6 6.6 2.6 3.7 2.6 4.1 2.6 5.9 2.6 3.3 2.6 3.7 2.6 6.3 2.6 5.1 2.6 3.6 2.6 2 2.6 1.5 2.6 1.9 2.6 0.6 2.6 0.9 2.6 2.1 2.6 1.5 2.6 0.5 2.6 0.7 2.6 0.4 2.6-1.6 2.6-1 2.6-1.6 2.6-2.6 2.6 0.6 2.6-0.5 2.6-2.2 2.6-0.6 2.6-2 2.6-2.8 2.6-3.8 2.6-5 2.6-5.3 2.6-5.1 2.6-4.6 2.6-4.4 2.6-3.7 2.6-4.8 2.6-6.8 2.6-5.7 2.6-8.2 2.6-11.6 2.6-10.1 2.6-10 2.6-12.8 2.6-12.1 2.6-11.6 2.6-14.3 2.6-15.6 2.6-15.6 2.6-15.5 2.6-14.2 2.6-7.9 2.6-2.3 2.6 0.7 2.6 5.3 2.6 8.3 2.6 12.6 2.6 20.3 2.6 23.7 2.6 21 2.6 20.7 2.6 22.3 2.6 23.5 2.6 23.3 2.6 20.4 2.6 18.6 2.6 17 2.6 14.9 2.6 15 2.6 14.3 2.6 12.8 2.6 12.4 2.6 9.8 2.6 7.2 2.6 8.7 2.6 9.2 2.6 6.3 2.6 3.9 2.6 3.7 2.6 5 2.6 6.7 2.6 6.3 2.6 3.2 2.6 2 2.6 3.1 2.6 3.3 2.6 2.4 2.6 0.9 2.6 2.4 2.6 4.4 2.6 2.1 2.6 0.4 2.6 1.9 2.6 0.7 2.6 1.3 2.6 3.2 2.6 1.7 2.6 0.7 2.6 0.6 2.6-0.1 2.6 0 2.6 1.6 2.6 1.5 2.6 0.6 2.6 1.5 2.6 0.1 2.6-0.5 2.6 2.1 2.6 1.4 2.6 0.3 2.6 1.7 2.6 0.4 2.6-1.4 2.6 0.5 2.6 0.8 2.6 0.3 2.6 0.8 2.6 0 0.8-1.1" stroke="#d05090" stroke-width="3.6"/>
<path d="M415.8 996l2.6 0.8 2.6 2.4 2.6 1.9 2.6 0.5 2.6-0.3 2.6-0.7 2.6 0.2 2.6 0.6 2.6 0.6 2.6 1.3 2.6 0.4 2.6-0.4 2.6 1.2 2.6 0.6 2.6-0.6 2.6-0.2 2.6-1 2.6-0.6 2.6 0.7 2.6 0.8 2.6 0 2.6 0.9 2.6 1.5 2.6 0.1 2.6 0.6 2.6 0.6 2.6-0.7 2.6-0.5 2.6-0.9 2.6 1 2.6 2.4 2.6-1.4 2.6-2.5 2.6 0 2.6 0.9 2.6 2.1 2.6 2.4 2.6-0.3 2.6-2 2.6-0.1 2.6 1.6 2.6 0.3 2.6 0.5 2.6 1.2 2.6-1.2 2.6-2.9 2.6-0.2 2.6 1.2 2.6 0.6 2.6 1.8 2.6 2.4 2.6 0.2 2.6-1.8 2.6-1.5 2.6-1 2.6 0.9 2.6 2.4 2.6 0.6 2.6-1.4 2.6 0.3 2.6 1.9 2.6 0.5 2.6-2.2 2.6-0.7 2.6 1.3 2.6 0 2.6-1 2.6-0.3 2.6-0.2 2.6-0.3 2.6 1.3 2.6 1.2 2.6 0.9 2.6 0.9 2.6-2 2.6-2.8 2.6-0.2 2.6 0.1 2.6-0.5 2.6-0.6 2.6-3.1 2.6-4.9 2.6-4.2 2.6-6 2.6-11.2 2.6-13.7 2.6-11.7 2.6-3.3 2.6 10.5 2.6 14.1 2.6 9.8 2.6 7.8 2.6 6.5 2.6 4.6 2.6 2.4 2.6 0.2 2.6 1 2.6 3.4 2.6 1.9 2.6-1.3 2.6-0.3 2.6 1 2.6-0.3 2.6-0.5 2.6 1.2 2.6 2.2 2.6 1.7 2.6 0.1 2.6-0.7 2.6-0.7 2.6-0.1 2.6-0.3 2.6-0.4 2.6 1.3 2.6 0.5 2.6-0.2 2.6 0.3 2.6-1.1 2.6-0.5 2.6-0.2 2.6-0.8 2.6 0.6 2.6 1.4 2.6 1.6 2.6 0.8 2.6-0.8 2.6-0.8 2.6-0.7 2.6 0.5 2.6 1.9 2.6 0.7 2.6-1.5 2.6-2 2.6 0.4 2.6 1.2 2.6-0.5 2.6-1 2.6 0 2.6 1.1 2.6 0.4 2.6-1.7 2.6-1 2.6-0.1 2.6 0 2.6 1.1 2.6 0.3 2.6-0.8 2.6 0.2 2.6 0.7 2.6 0.4 2.6-0.2 2.6-1 2.6-0.3 2.6-0.1 2.6 0.4 2.6 2 2.6-0.5 2.6-1.5 2.6 2 2.6 0.9 2.6-2 2.6 0.4 2.6 1.4 2.6-0.1 2.6 1.2 2.6 0.8 2.6-0.7 2.6 0.2 2.6 0.6 2.6 0.1 2.6-0.1 2.6-0.5 2.6-0.6 2.6 0 2.6 1.5 2.6 1.7 2.6 0.1 2.6-1.8 2.6-1.8 2.6 0.8 2.6 1.3 2.6 0.4 2.6 0.4 2.6-0.2 2.6 0 2.6-0.2 2.6 0.2 2.6 0.9 2.6 0.8 2.6 0.8 2.6-0.7 2.6-3 2.6-1.8 2.6 2.4 2.6 3.1 2.6 0.6 2.6 0 2.6 1.4 2.6 0.1 2.6-0.7 2.6-0.3 2.6-1.6 2.6 0 2.6 2.1 2.6 1.3 2.6 0.9 2.6-0.4 2.6-1.9 2.6-0.9 2.6 0.3 2.6 0.7 2.6 0.4 2.6 0.4 2.6 0.7 2.6-1.4 2.6-2.1 2.6 0.2 2.6 1.8 2.6-0.2 2.6-2.1 2.6 0.3 2.6 2.4 2.6 0.1 2.6-1.9 2.6-0.4 2.6 0.6 2.6-0.2 2.6-1.4 2.6-1.5 2.6 0.6 2.6 1.4 2.6-0.6 2.6-1.5 2.6 0.2 2.6 1 2.6-0.1 2.6 0.2 2.6 0 2.6-0.2 2.6-0.6 2.6-1 2.6-1.4 2.6-2.1 2.6-1.2 2.6 0.7 2.6-0.2 2.6-0.8 2.6 1.1 2.6-0.8 2.6-3.6 2.6-2.3 2.6-0.5 2.6 0.7 2.6 0.4 2.6-1.8 2.6-1.8 2.6-0.2 2.6 0 2.6-0.5 2.6-2 2.6-3.1 2.6-0.9 2.6 0.7 2.6-0.6 2.6-2.3 2.6-1.8 2.6-0.5 2.6-0.3 2.6-0.1 2.6-2.1 2.6-3.8 2.6-1.6 2.6 0.4 2.6-1.5 2.6-2.7 2.6-0.9 2.6-1.2 2.6-2.3 2.6-2.3 2.6-2.1 2.6-1 2.6-0.1 2.6-1.4 2.6-1.2 2.6-0.4 2.6-2.5 2.6-2.7 2.6-1.4 2.6-2.9 2.6-2.3 2.6-1.3 2.6-2.4 2.6-2.8 2.6-1.8 2.6-0.7 2.6-1.4 2.6-3.4 2.6-4.2 2.6-1.3 2.6 0.1 2.6-1.7 2.6-2.8 2.6-3.2 2.6-4.6 2.6-2.8 2.6-0.7 2.6-3.4 2.6-3.3 2.6-1.5 2.6-2.9 2.6-3.5 2.6-4.4 2.6-3.4 2.6-2.7 2.6-4.7 2.6-4.7 2.6-4.7 2.6-4.5 2.6-4.2 2.6-4.6 2.6-4.2 2.6-3.2 2.6-4.2 2.6-6.8 2.6-7.6 2.6-4.8 2.6-2.4 2.6-6.7 2.6-7.9 2.6-5 2.6-8.4 2.6-10.9 2.6-6.5 2.6-5.4 2.6-9.5 2.6-9.3 2.6-7.2 2.6-7.5 2.6-7.2 2.6-7.2 2.6-9.6 2.6-10.8 2.6-10.4 2.6-9.4 2.6-4.6 2.6-4.8 2.6-10.5 2.6-10.8 2.6-7.7 2.6-5.5 2.6-6.3 2.6-6.8 2.6-4 2.6-3.3 2.6-1.3 2.6-1.5 2.6-1.2 2.6 3.6 2.6 0.6 2.6-1 2.6 2.4 2.6 3.5 2.6 5.6 2.6 4.6 2.6 3.8 2.6 8.6 2.6 9.9 2.6 8.7 2.6 6.5 2.6 5.1 2.6 7.3 2.6 9.4 2.6 8.1 2.6 7.7 2.6 9 2.6 6.6 2.6 5.8 2.6 6.4 2.6 5.4 2.6 6.1 2.6 3.8 2.6 1.5 2.6 3.5 2.6 4.7 2.6 4 2.6 2.4 2.6 1.7 2.6 0.5 2.6 1.5 2.6 3.8 2.6 2.2 2.6 3.2 2.6 3.9 2.6-1.9 2.6-4.8 2.6-1.9 2.6-1.1 2.6-3.1 2.6-1.9 2.6-0.8 2.6-3.8 2.6-3.2 2.6 0.4 2.6-1.3 2.6-4.3 2.6-2.4 2.6-2.1 2.6-3.8 2.6-4.7 2.6-6.2 2.6-6.1 2.6-5.3 2.6-4.3 2.6-4.4 2.6-8.3 2.6-9.5 2.6-11 2.6-12.5 2.6-8.8 2.6-11 2.6-16.5 2.6-15.2 2.6-13.9 2.6-15.6 2.6-17.3 2.6-16 2.6-11.7 2.6-7.8 2.6-5.8 2.6-1.5 2.6 9 2.6 16.4 2.6 14.8 2.6 16.5 2.6 20.8 2.6 22.2 2.6 23.5 2.6 25.5 2.6 25.7 2.6 22.1 2.6 20.8 2.6 21.9 2.6 18.2 2.6 15.6 2.6 18.3 2.6 16.8 2.6 11.9 2.6 11.1 2.6 10.2 2.6 8.6 2.6 9.5 2.6 8.8 2.6 6.8 2.6 6.8 2.6 6.9 2.6 5.7 2.6 5.5 2.6 5.6 2.6 4.6 2.6 4.1 2.6 4.8 2.6 2.9 2.6 1.4 2.6 3.1 2.6 3.4 2.6 2.5 2.6 2.2 2.6 2.1 2.6 2.5 2.6 1.9 2.6 1.3 2.6 1.6 2.6 2.2 2.6 3.3 2.6 0.9 2.6-0.7 2.6 1.7 2.6 1.8 2.6 1 2.6 1.4 2.6 1.8 2.6 1.9 2.6 0.3 2.6-0.4 2.6-0.5 2.6 0.7 2.6 1.1 2.6 0.2 2.6 2.5 2.6 3.5 2.6-0.3 2.6-2.5 2.6 0.6 2.6 2 0.8 0.2" stroke="#ff2424" stroke-width="3.6"/>
<path d="M415.8 1011.2l2.6-1.1 2.6-0.6 2.6-0.1 2.6 2.4 2.6 1.7 2.6-1.4 2.6-0.4 2.6-0.3 2.6-0.8 2.6 0.3 2.6 0.2 2.6 1 2.6 0.9 2.6-0.2 2.6-0.3 2.6-1.1 2.6-0.1 2.6 1 2.6 0 2.6 0.3 2.6 0.5 2.6-0.1 2.6 0.3 2.6 0.6 2.6 0.8 2.6-0.3 2.6-0.1 2.6 1 2.6 0.4 2.6-0.6 2.6-0.3 2.6 0.4 2.6-0.9 2.6-1 2.6 1.8 2.6 1.9 2.6-1.1 2.6-1.1 2.6 0.4 2.6-0.4 2.6 0 2.6 1 2.6 1 2.6 0.6 2.6-0.1 2.6-0.6 2.6-0.4 2.6 0.3 2.6 0.8 2.6-0.1 2.6 0.7 2.6 1.6 2.6 0.3 2.6-0.6 2.6-0.4 2.6-0.1 2.6 0.4 2.6 0 2.6-1 2.6 0.8 2.6 1.4 2.6 0 2.6-1 2.6-1.1 2.6 0.9 2.6 0.9 2.6-0.3 2.6 0.1 2.6-0.7 2.6-0.9 2.6 0.3 2.6 0 2.6 0.6 2.6 0.7 2.6-1.1 2.6-0.4 2.6 1.2 2.6 0.9 2.6-0.6 2.6-0.1 2.6-0.4 2.6-1.8 2.6 0.2 2.6 0.7 2.6-1.5 2.6-2.7 2.6-2 2.6-0.4 2.6 0.7 2.6 2.8 2.6 4 2.6 2.1 2.6 0.5 2.6-0.9 2.6-1 2.6 1.4 2.6 2.1 2.6-0.4 2.6-0.7 2.6 0.9 2.6 0.4 2.6 0.6 2.6 0.8 2.6-1.2 2.6-0.9 2.6 1 2.6 1.4 2.6 0.6 2.6-0.5 2.6-0.8 2.6-0.1 2.6-0.7 2.6-1.4 2.6 0.8 2.6 2.4 2.6-0.1 2.6-1.3 2.6 0.1 2.6-0.7 2.6 0.1 2.6 2 2.6 0.8 2.6 0.1 2.6 0.9 2.6 0.4 2.6-1 2.6-0.8 2.6 0.6 2.6 0.7 2.6 0.7 2.6-0.3 2.6-0.4 2.6 1.7 2.6-0.3 2.6-1 2.6 0.5 2.6-1.3 2.6-0.5 2.6 1.4 2.6 0.8 2.6 0 2.6-0.6 2.6-0.4 2.6-0.3 2.6-0.7 2.6 0 2.6 0 2.6 1.3 2.6 1.6 2.6-0.6 2.6 0.2 2.6 0.5 2.6-1 2.6-0.1 2.6 1.1 2.6 0.8 2.6-0.3 2.6-0.2 2.6 0.5 2.6 1.1 2.6 0.5 2.6-1 2.6 1.5 2.6 1.9 2.6-0.5 2.6-1.3 2.6-0.4 2.6 0.3 2.6 0.4 2.6-0.7 2.6-1.5 2.6-0.4 2.6 1.1 2.6 1.7 2.6 0.8 2.6 0.3 2.6-0.6 2.6 0.5 2.6 2.2 2.6 0.9 2.6 0.2 2.6 0.2 2.6-0.2 2.6 0.3 2.6 0 2.6-1.3 2.6-0.1 2.6 1.5 2.6 0.1 2.6-0.6 2.6 0.3 2.6 0.1 2.6-1.1 2.6-0.5 2.6 0.7 2.6 0.1 2.6-1.5 2.6 0.4 2.6 2.2 2.6 0.3 2.6-0.3 2.6 0.8 2.6 0.1 2.6 0.2 2.6 0.8 2.6 0.6 2.6 0.7 2.6 0.4 2.6-1.1 2.6-3.1 2.6-1.2 2.6 1.1 2.6 0.7 2.6-0.3 2.6-0.6 2.6 0.2 2.6 1 2.6 1.1 2.6 0 2.6 0.5 2.6 1 2.6-0.7 2.6-2 2.6-0.3 2.6 0.3 2.6-1.9 2.6-0.6 2.6 1.7 2.6 0.6 2.6-1.2 2.6-0.8 2.6 0.8 2.6 0.3 2.6-0.2 2.6 0.2 2.6-1.9 2.6-2.1 2.6-0.4 2.6-0.4 2.6-0.6 2.6-0.3 2.6 0.4 2.6 0.4 2.6-0.8 2.6-1.8 2.6-2.3 2.6-1.1 2.6 0.9 2.6 1 2.6-0.4 2.6-2.2 2.6-2.2 2.6-0.4 2.6 0.4 2.6-0.8 2.6-2 2.6-1 2.6-0.4 2.6-1.8 2.6-1.7 2.6-0.9 2.6-1.8 2.6-0.9 2.6 0 2.6-0.9 2.6-0.1 2.6-0.1 2.6-1.1 2.6-1.5 2.6-2.1 2.6-1.7 2.6-1.7 2.6 0.3 2.6 0.9 2.6-1.7 2.6-1.9 2.6-1.8 2.6-1.8 2.6-2.5 2.6-1.7 2.6 0.2 2.6-1.7 2.6-1.3 2.6-0.7 2.6-3 2.6-2 2.6-0.6 2.6-3.3 2.6-3.9 2.6 0.9 2.6 1.4 2.6-2.3 2.6-2.9 2.6-2.4 2.6-1.7 2.6-1.9 2.6-2.7 2.6-1.2 2.6-0.8 2.6-2.6 2.6-3.7 2.6-3.8 2.6-2.1 2.6-1.4 2.6-2.6 2.6-4.1 2.6-3.3 2.6-1.3 2.6-2.7 2.6-2.9 2.6-1.8 2.6-3.4 2.6-3.6 2.6-3.2 2.6-4.6 2.6-4.9 2.6-3.4 2.6-2.5 2.6-5.1 2.6-5 2.6-2.2 2.6-4.5 2.6-6.1 2.6-4.7 2.6-5.1 2.6-5.4 2.6-6.5 2.6-5.9 2.6-4.6 2.6-5.7 2.6-6.2 2.6-6.3 2.6-6.5 2.6-7.3 2.6-10.1 2.6-10.5 2.6-8.3 2.6-5.7 2.6-6.3 2.6-8.7 2.6-7.4 2.6-9.2 2.6-9.7 2.6-6.6 2.6-8.5 2.6-8.3 2.6-5.9 2.6-6.8 2.6-7.8 2.6-7.2 2.6-7.8 2.6-4.4 2.6-0.6 2.6-2.8 2.6-2.9 2.6-0.3 2.6-1.1 2.6-1.7 2.6 1.9 2.6 4 2.6 1.4 2.6 2.4 2.6 6.5 2.6 4 2.6 1.4 2.6 7.2 2.6 11.8 2.6 7.5 2.6 5.4 2.6 7.8 2.6 7.3 2.6 6.1 2.6 8.3 2.6 10.9 2.6 8 2.6 3.1 2.6 2.9 2.6 7.3 2.6 7.1 2.6 2.9 2.6 3.5 2.6 5.8 2.6 4.2 2.6 1.9 2.6 2.1 2.6 3.4 2.6 2.9 2.6 2.7 2.6 2.8 2.6 1.2 2.6-0.1 2.6 0.3 2.6-0.5 2.6-1.7 2.6-1 2.6 0.7 2.6 0.7 2.6-1.8 2.6-1.3 2.6-0.5 2.6-3.3 2.6-4.8 2.6-2.2 2.6 0.3 2.6-1.8 2.6-4 2.6-5 2.6-4 2.6-0.5 2.6-2.4 2.6-7 2.6-6.9 2.6-6.6 2.6-8.5 2.6-7.8 2.6-5.1 2.6-5.7 2.6-9.5 2.6-13.9 2.6-14.1 2.6-13.2 2.6-14.9 2.6-15.7 2.6-16 2.6-13 2.6-10.6 2.6-10.4 2.6-7.3 2.6-5.4 2.6-4.4 2.6 0.9 2.6 9.5 2.6 17.7 2.6 21.5 2.6 21 2.6 20.5 2.6 23.8 2.6 24.7 2.6 21.8 2.6 23 2.6 22.5 2.6 17.5 2.6 17.1 2.6 17.4 2.6 13.8 2.6 10.9 2.6 11.1 2.6 13 2.6 13.5 2.6 9.6 2.6 7.5 2.6 9 2.6 8.4 2.6 5.2 2.6 2.7 2.6 4.6 2.6 6.1 2.6 5.5 2.6 5 2.6 3.5 2.6 3.1 2.6 3.1 2.6 2.5 2.6 3.8 2.6 2.7 2.6 1 2.6 2.1 2.6 2.6 2.6 3.5 2.6 2.7 2.6 0.7 2.6 0.8 2.6 1.2 2.6 3 2.6 1.8 2.6-1 2.6 0.1 2.6 2 2.6 1.4 2.6 0.7 2.6 1.7 2.6 1.1 2.6 0.4 2.6-0.1 2.6 0 2.6 0.9 2.6 0.2 2.6 1 2.6 2.7 2.6 0.8 2.6-0.4 2.6-0.2 2.6 0.8 2.6 0.9 0.8-1" stroke="#4aa0c8" stroke-width="3.6"/>
<path d="M415.8 1011.1l2.6 1.4 2.6 1.1 2.6-0.4 2.6-0.6 2.6-0.3 2.6-0.2 2.6 0.2 2.6 0 2.6 0.7 2.6 2.4 2.6-0.1 2.6-1 2.6 0.3 2.6-0.2 2.6 0.3 2.6 0.3 2.6 0.3 2.6-0.2 2.6-0.6 2.6 0.3 2.6-0.8 2.6-1.2 2.6 1.5 2.6 1.3 2.6-1.3 2.6-0.9 2.6-0.5 2.6 0.7 2.6 1.6 2.6-0.6 2.6-0.4 2.6 1.2 2.6 2.1 2.6 2.1 2.6-1.9 2.6-1.8 2.6 2 2.6 0.2 2.6-1.5 2.6-1.1 2.6 0.6 2.6 2.1 2.6-0.4 2.6-0.6 2.6 1.3 2.6-1.1 2.6-2.2 2.6 0.1 2.6 2.8 2.6 2.5 2.6-1.1 2.6-1.4 2.6 0.5 2.6-1.4 2.6-1.6 2.6 2.2 2.6 2 2.6-0.5 2.6 0 2.6 0.3 2.6-0.6 2.6-0.7 2.6 0.9 2.6 1.3 2.6-0.6 2.6-0.7 2.6-0.1 2.6-0.9 2.6 0.4 2.6 1.4 2.6-1.3 2.6-2.2 2.6 0.3 2.6 1.3 2.6 0.6 2.6 1.3 2.6 0.3 2.6-1.9 2.6-1.3 2.6-0.5 2.6-0.8 2.6-1.1 2.6-1.9 2.6-4 2.6-5.1 2.6-5.9 2.6-5.5 2.6-0.4 2.6 3.2 2.6 3.7 2.6 5.3 2.6 5.9 2.6 4.7 2.6 2.5 2.6 0.2 2.6 0.9 2.6 1.8 2.6-0.3 2.6-0.5 2.6 1.2 2.6 1.1 2.6 0.4 2.6-0.1 2.6-1.1 2.6 0.7 2.6 0.8 2.6-1.7 2.6 0 2.6 0.6 2.6-0.3 2.6 1.2 2.6-0.1 2.6 0.3 2.6 1.5 2.6-1 2.6-0.6 2.6 1.1 2.6 0.4 2.6-0.1 2.6 0.7 2.6 0.4 2.6-0.2 2.6-0.9 2.6-0.9 2.6 1.3 2.6 0.7 2.6-0.9 2.6-0.9 2.6-1 2.6 0.2 2.6 1.2 2.6 0.5 2.6-0.8 2.6-0.9 2.6 0.4 2.6 2.1 2.6 0 2.6-2.8 2.6-0.6 2.6 1.3 2.6 0.8 2.6 1.1 2.6 0.6 2.6-0.5 2.6-0.2 2.6 0.8 2.6 0.5 2.6-1.2 2.6-0.9 2.6 0.4 2.6 1.2 2.6 0.9 2.6-0.8 2.6-0.4 2.6 1.4 2.6 0.1 2.6-1.2 2.6-0.5 2.6-0.1 2.6-0.2 2.6 0 2.6 1.2 2.6 1 2.6-0.6 2.6-0.8 2.6-0.2 2.6 0.7 2.6 0 2.6-1.3 2.6-0.7 2.6 0.3 2.6 0.3 2.6 0.5 2.6 0 2.6 0.1 2.6 0.8 2.6 0.6 2.6-0.9 2.6-0.9 2.6 1.5 2.6 1.6 2.6 0.2 2.6-0.2 2.6 0.3 2.6 1.8 2.6 0.6 2.6-0.8 2.6-0.1 2.6-0.7 2.6-1.3 2.6-1.1 2.6-0.2 2.6 1.6 2.6 1.9 2.6 1 2.6-0.4 2.6 0.1 2.6 0.7 2.6-1 2.6-1.3 2.6-0.1 2.6 0.5 2.6 0.5 2.6 0.5 2.6 0.8 2.6 0.2 2.6-2 2.6-1.7 2.6 0.5 2.6 1.2 2.6-0.1 2.6-0.7 2.6 0.2 2.6-0.3 2.6 0.4 2.6 0.3 2.6-1.1 2.6-0.2 2.6 0 2.6-0.3 2.6 0.4 2.6-0.1 2.6-0.4 2.6-0.1 2.6 0.1 2.6 0.6 2.6 0.5 2.6-0.8 2.6-1.1 2.6-1.6 2.6-0.3 2.6 1 2.6 0.4 2.6 0.4 2.6-0.7 2.6-0.7 2.6 0.8 2.6-1.1 2.6-2.7 2.6-1.4 2.6 0 2.6-1.3 2.6-2.1 2.6 0.5 2.6-0.1 2.6-2.4 2.6-0.4 2.6 0 2.6-1.4 2.6-0.8 2.6-0.6 2.6 0 2.6-0.4 2.6-1.9 2.6-0.6 2.6 0.6 2.6-1.5 2.6-2.3 2.6-0.7 2.6-1.1 2.6-1.6 2.6 0 2.6-0.2 2.6-2.7 2.6-2.5 2.6-1.7 2.6-1.2 2.6-0.5 2.6-1.4 2.6-1.3 2.6-0.8 2.6-2.5 2.6-1.8 2.6-0.9 2.6-1.4 2.6 0 2.6 0 2.6-2.2 2.6-1.7 2.6-1 2.6-1.9 2.6-2.3 2.6-0.6 2.6-0.4 2.6-2.4 2.6-1.7 2.6-0.3 2.6-1.3 2.6-1.8 2.6-2.1 2.6-3.1 2.6-3.7 2.6-2.9 2.6-1.5 2.6-1.5 2.6-2.2 2.6-1.3 2.6-0.9 2.6-2.2 2.6-2.2 2.6-1.3 2.6-1.7 2.6-2.3 2.6-2.1 2.6-2.6 2.6-3.9 2.6-3.2 2.6-2.8 2.6-3.5 2.6-2.8 2.6-2 2.6-2.1 2.6-1.3 2.6-1.9 2.6-5.8 2.6-6.2 2.6-3.2 2.6-5.5 2.6-5.8 2.6-3.8 2.6-6.2 2.6-5.9 2.6-4.8 2.6-5.3 2.6-3 2.6-3.4 2.6-5.9 2.6-4.9 2.6-4.3 2.6-8.5 2.6-9.9 2.6-5.8 2.6-5.4 2.6-7.5 2.6-8.1 2.6-7.8 2.6-6.9 2.6-6.7 2.6-8 2.6-10.3 2.6-12.3 2.6-11.7 2.6-9.1 2.6-8 2.6-6.3 2.6-5.1 2.6-6.4 2.6-6.9 2.6-6.1 2.6-9.6 2.6-9.9 2.6-5.4 2.6-3.3 2.6-0.6 2.6-0.3 2.6-2.5 2.6-3.2 2.6-3.5 2.6 0.9 2.6 6.1 2.6 4.6 2.6 3.4 2.6 5.7 2.6 5.9 2.6 4.1 2.6 4.8 2.6 8.1 2.6 9 2.6 8.3 2.6 7.1 2.6 6.1 2.6 8 2.6 7.9 2.6 7.1 2.6 7.8 2.6 8.2 2.6 5.2 2.6 2.2 2.6 5.4 2.6 5 2.6 3.8 2.6 6 2.6 5.1 2.6 3.1 2.6 2.3 2.6 3 2.6 3.6 2.6 2.4 2.6 0.5 2.6 1.8 2.6 3.4 2.6 0.1 2.6-1.1 2.6 1 2.6-0.1 2.6-2.5 2.6-1.3 2.6-0.9 2.6-0.8 2.6-0.7 2.6-2 2.6-1.7 2.6-3.2 2.6-4.6 2.6-3.9 2.6-3.2 2.6-4.9 2.6-5.8 2.6-1.8 2.6-0.9 2.6-4.4 2.6-6.1 2.6-6.3 2.6-6.1 2.6-8.7 2.6-10.9 2.6-8.4 2.6-8.4 2.6-11.4 2.6-14.2 2.6-16 2.6-15.2 2.6-12.1 2.6-11.7 2.6-18.7 2.6-20.1 2.6-12.9 2.6-4.5 2.6-1.8 2.6-1.7 2.6 6.4 2.6 12.9 2.6 12.3 2.6 14.6 2.6 20.6 2.6 26.1 2.6 24.8 2.6 23 2.6 26 2.6 24.9 2.6 20.4 2.6 17.3 2.6 17.2 2.6 17.4 2.6 16.3 2.6 14.6 2.6 13.9 2.6 12.3 2.6 8.2 2.6 8.7 2.6 10.2 2.6 8.1 2.6 5.9 2.6 5.6 2.6 6.9 2.6 7 2.6 6.5 2.6 5.5 2.6 3.4 2.6 2.8 2.6 3.4 2.6 2.8 2.6 2.3 2.6 2.9 2.6 2.7 2.6 2.4 2.6 2.6 2.6 2.3 2.6 2.7 2.6 2.3 2.6 1.1 2.6 1.5 2.6 1 2.6 0.5 2.6 1.2 2.6 2.3 2.6 1.7 2.6-0.1 2.6 0.9 2.6 1.5 2.6 0.5 2.6 0 2.6 0.8 2.6 2.4 2.6 2.3 2.6 0.2 2.6-1.4 2.6-0.7 2.6 1.5 2.6 1.1 2.6 0.1 2.6 1.1 2.6 1 2.6 1.1 0.8 1" stroke="#404040" stroke-width="3.6"/>
<path d="M415.8 987.4l2.6 0.7 2.6 1.8 2.6 0.8 2.6-1.4 2.6-0.6 2.6 2 2.6 1 2.6 0 2.6 2 2.6 1 2.6-1.2 2.6-0.7 2.6 0.1 2.6-0.1 2.6-0.3 2.6 0.6 2.6 0.8 2.6-0.3 2.6-1.2 2.6-0.6 2.6 0.2 2.6 2.7 2.6 3.4 2.6-0.5 2.6-2 2.6 0.3 2.6 0.3 2.6-1.5 2.6 0.3 2.6 1.4 2.6 0.2 2.6 0.5 2.6 0.3 2.6-0.4 2.6 1.1 2.6 1.3 2.6-0.3 2.6-0.3 2.6-0.2 2.6-0.6 2.6 0 2.6-1.1 2.6 0.6 2.6 2 2.6-0.5 2.6-0.7 2.6 1.6 2.6 1.3 2.6-1.6 2.6-0.6 2.6 1.8 2.6 0.1 2.6-0.2 2.6 0.8 2.6 0.5 2.6-0.5 2.6-1 2.6 0.8 2.6 0.7 2.6-0.2 2.6 0.8 2.6-0.1 2.6-0.9 2.6-0.2 2.6 0.2 2.6 0.4 2.6 0.4 2.6 0 2.6-0.7 2.6 0 2.6 1.2 2.6 0 2.6 0 2.6 1.1 2.6 0.4 2.6 0.3 2.6 1.4 2.6-0.4 2.6-1.3 2.6-0.7 2.6-1.7 2.6-1.1 2.6-1 2.6-2.6 2.6-3.4 2.6-4.1 2.6-4.4 2.6-2.4 2.6 1.8 2.6 4.5 2.6 5 2.6 4.6 2.6 4.2 2.6 2.3 2.6-0.6 2.6 0.2 2.6 1.2 2.6-0.3 2.6 0 2.6 0.8 2.6 0.4 2.6 1.6 2.6 2.2 2.6-0.1 2.6-1 2.6 0 2.6 0.9 2.6 0.7 2.6 0.1 2.6-0.6 2.6-0.9 2.6-0.8 2.6 0.2 2.6 0.9 2.6 0.4 2.6 0.3 2.6-0.6 2.6 0.7 2.6 2.4 2.6-0.4 2.6-2 2.6 0.1 2.6 1.3 2.6-0.5 2.6-0.5 2.6 1.9 2.6 1.5 2.6-0.3 2.6-0.8 2.6-0.6 2.6-0.7 2.6-1 2.6 1 2.6 1.7 2.6 0.6 2.6-0.2 2.6-1.8 2.6-0.9 2.6 0.7 2.6 0.7 2.6 0.8 2.6-1.3 2.6-0.7 2.6 1.5 2.6-0.7 2.6 0.3 2.6 3 2.6 0.9 2.6-1.6 2.6-1.5 2.6 0.4 2.6 0 2.6-0.6 2.6 0.1 2.6 0.6 2.6-0.2 2.6-0.2 2.6 0.1 2.6-0.5 2.6 1.1 2.6 0.8 2.6-1 2.6 0.7 2.6 1.6 2.6-0.2 2.6 0.3 2.6-0.5 2.6-1 2.6 0.3 2.6 0 2.6-1 2.6-0.9 2.6 1.5 2.6 2.1 2.6 0.5 2.6-0.8 2.6-1 2.6-0.9 2.6-0.5 2.6 0.4 2.6 0.3 2.6 0.1 2.6 0.2 2.6-0.5 2.6-0.7 2.6 0.4 2.6 2 2.6 1.4 2.6-0.9 2.6-0.2 2.6 1.2 2.6-1.2 2.6-1.5 2.6 0.8 2.6-0.4 2.6-2.6 2.6-0.3 2.6 1 2.6-0.9 2.6 0.4 2.6 0.4 2.6-0.9 2.6 1.3 2.6 1.4 2.6-0.2 2.6-0.2 2.6 0 2.6-1.4 2.6-1.6 2.6 0.4 2.6-0.2 2.6-0.6 2.6 0.4 2.6-0.3 2.6-0.1 2.6-0.1 2.6-0.4 2.6-0.2 2.6 0.2 2.6 0.4 2.6-0.7 2.6-1.2 2.6 0.2 2.6 0.7 2.6-0.3 2.6-1 2.6-1.2 2.6-1 2.6-0.1 2.6 0 2.6-0.1 2.6 1.4 2.6 0.3 2.6-1.9 2.6-0.8 2.6-0.3 2.6-1.7 2.6-1.5 2.6-0.4 2.6-0.9 2.6-0.3 2.6 0.7 2.6-1.1 2.6-2.7 2.6-2 2.6-1.7 2.6-1.4 2.6 0.3 2.6 0.1 2.6-0.5 2.6-0.8 2.6-0.2 2.6-1.7 2.6-1.8 2.6 0.5 2.6-1.4 2.6-2.2 2.6-0.3 2.6-0.1 2.6-1.2 2.6-0.9 2.6-0.9 2.6-1.8 2.6-1.3 2.6-1.5 2.6-1.6 2.6-0.9 2.6-1.4 2.6-1.5 2.6-1.7 2.6-1.7 2.6-0.6 2.6-0.3 2.6-0.9 2.6-2.1 2.6-2.9 2.6-3 2.6-1.3 2.6-0.3 2.6-0.3 2.6 0.3 2.6-0.7 2.6-3 2.6-2.3 2.6-0.6 2.6-2.4 2.6-3.6 2.6-1.1 2.6-2.5 2.6-4.9 2.6-1.5 2.6-0.7 2.6-2.1 2.6-2.4 2.6-2.2 2.6 0 2.6-1.3 2.6-3.5 2.6-3.7 2.6-2.9 2.6-0.6 2.6-2.4 2.6-4.6 2.6-4 2.6-3.2 2.6-3.5 2.6-3.3 2.6-1.2 2.6-2.8 2.6-3.8 2.6-2.3 2.6-2.7 2.6-3.3 2.6-3.1 2.6-3.5 2.6-3.8 2.6-4.6 2.6-5 2.6-5.7 2.6-8.2 2.6-6.6 2.6-3.1 2.6-2.8 2.6-5.4 2.6-7.4 2.6-6.2 2.6-5.1 2.6-6.2 2.6-7.2 2.6-6.2 2.6-5.9 2.6-6.2 2.6-9 2.6-10 2.6-7.8 2.6-8.8 2.6-10.1 2.6-9.7 2.6-7.6 2.6-6.7 2.6-11.3 2.6-10.2 2.6-5.9 2.6-9.9 2.6-11.5 2.6-7.8 2.6-8.7 2.6-10.1 2.6-7.9 2.6-6.5 2.6-5.8 2.6-7.3 2.6-6.8 2.6-0.7 2.6 0 2.6-4.4 2.6-1.5 2.6 0.4 2.6 0.8 2.6 2.7 2.6 1.7 2.6 3.4 2.6 4.8 2.6 8 2.6 9.1 2.6 5.3 2.6 5.4 2.6 6.8 2.6 8.7 2.6 10 2.6 7.2 2.6 7.5 2.6 10.2 2.6 10 2.6 6.8 2.6 4.4 2.6 6.9 2.6 9.8 2.6 6.3 2.6 4.3 2.6 6.5 2.6 5.2 2.6 5.4 2.6 4.8 2.6 1.5 2.6 0.8 2.6-0.4 2.6 1.6 2.6 4 2.6 1.4 2.6 1.2 2.6 3.3 2.6 0 2.6-2.2 2.6 0.5 2.6 0.5 2.6-1.1 2.6-0.9 2.6-2 2.6-4 2.6-2.6 2.6 0.8 2.6-0.7 2.6-3 2.6-2.2 2.6-4.8 2.6-8.1 2.6-5.5 2.6-0.7 2.6-2 2.6-4.3 2.6-3.3 2.6-8.1 2.6-11.3 2.6-6.4 2.6-4 2.6-9.4 2.6-14.2 2.6-12.1 2.6-12.2 2.6-14.8 2.6-13.1 2.6-15.2 2.6-19 2.6-15.6 2.6-12.4 2.6-13.3 2.6-11.3 2.6-6.2 2.6-1.2 2.6 4.2 2.6 10.3 2.6 17.4 2.6 22.7 2.6 24.3 2.6 21.9 2.6 18.6 2.6 23 2.6 29.7 2.6 25.2 2.6 19.1 2.6 19.8 2.6 19.7 2.6 18.1 2.6 16.5 2.6 12.6 2.6 9.8 2.6 11.1 2.6 12.8 2.6 10.5 2.6 7.4 2.6 7.1 2.6 8.5 2.6 7.8 2.6 5 2.6 5 2.6 7.1 2.6 5.2 2.6 2.3 2.6 2.5 2.6 3.3 2.6 4.3 2.6 4.2 2.6 3.2 2.6 2.9 2.6 2.3 2.6 1.5 2.6 0.6 2.6 1.1 2.6 2.7 2.6 1.8 2.6 0.1 2.6-0.2 2.6 1.8 2.6 1.8 2.6 0.4 2.6 1.4 2.6 0.7 2.6-0.8 2.6-0.1 2.6 0.3 2.6 0.9 2.6 1.7 2.6 2.1 2.6 1.2 2.6-0.6 2.6-0.3 2.6 0.4 2.6 1.2 2.6 1.6 2.6 0 2.6-1.9 2.6-0.5 2.6 1.2 0.8 0.3" stroke="#9acd32" stroke-width="3.6"/>
<path d="M415.8 1004.6l2.6 1.5 2.6 1.2 2.6-0.5 2.6-1.3 2.6 0.2 2.6 2.1 2.6 1 2.6-1.4 2.6-1.2 2.6 0.9 2.6 0.4 2.6 0.1 2.6 0.9 2.6-0.5 2.6-0.4 2.6 1.3 2.6 0.4 2.6-0.8 2.6 0.1 2.6 0.2 2.6-0.3 2.6 0.5 2.6 1.2 2.6-0.1 2.6-1.4 2.6-1.3 2.6 0.7 2.6 1.3 2.6-0.5 2.6-0.1 2.6 0.8 2.6-0.1 2.6-1 2.6 0.5 2.6 1.7 2.6 0.3 2.6 0.1 2.6-0.1 2.6-1 2.6 0.7 2.6 1.8 2.6 0.1 2.6 0.1 2.6 0.4 2.6-0.9 2.6-0.1 2.6 0.3 2.6-0.9 2.6-0.6 2.6 1.4 2.6 0.4 2.6-0.6 2.6 1.3 2.6 1.8 2.6-0.2 2.6-1.6 2.6-0.3 2.6 0.5 2.6 0.5 2.6 0.9 2.6 1 2.6-0.2 2.6-1 2.6-0.9 2.6 0 2.6 1.6 2.6 1.4 2.6-0.7 2.6-0.8 2.6 0.5 2.6-0.9 2.6-0.8 2.6 0.9 2.6 1.4 2.6 1.6 2.6 0.3 2.6-0.6 2.6-1.2 2.6-0.5 2.6-0.3 2.6-1.5 2.6-0.5 2.6 0.1 2.6-0.7 2.6-2.1 2.6-5.4 2.6-5 2.6 0.1 2.6 3.1 2.6 3.6 2.6 2.7 2.6 2.5 2.6 3.3 2.6 2.5 2.6-0.5 2.6-0.9 2.6 0.6 2.6 0.9 2.6 1.7 2.6 1.1 2.6-1.3 2.6-0.3 2.6 1.1 2.6 0.1 2.6-0.1 2.6 0.2 2.6 0 2.6 1.3 2.6 1.5 2.6-0.7 2.6-0.4 2.6 0 2.6-0.6 2.6-0.1 2.6-0.7 2.6-0.4 2.6 1.6 2.6 1.9 2.6-0.6 2.6-1.4 2.6 0.8 2.6 0.9 2.6-0.6 2.6-0.7 2.6-0.1 2.6 0.6 2.6 1.1 2.6 0.3 2.6-0.3 2.6 0.9 2.6 1.2 2.6-0.2 2.6-1 2.6-2.2 2.6-1.4 2.6 0.3 2.6 1.6 2.6 1.1 2.6-0.1 2.6 0.1 2.6 0.7 2.6 1 2.6 0.1 2.6-1.8 2.6-0.8 2.6 0.1 2.6-1.5 2.6 0.5 2.6 3.3 2.6 1.3 2.6 0 2.6 0 2.6-0.1 2.6-0.7 2.6-1.1 2.6 0 2.6 1 2.6 0.7 2.6 0.1 2.6-0.1 2.6 0 2.6 0.2 2.6 0.9 2.6 0.7 2.6-1.5 2.6-1.1 2.6 2.1 2.6 1.1 2.6-0.9 2.6 1.7 2.6 2.3 2.6-1.7 2.6-1.9 2.6-0.4 2.6-0.3 2.6 0.6 2.6 2 2.6 2.1 2.6-0.3 2.6-1.8 2.6-0.1 2.6 1.3 2.6 0.1 2.6 0 2.6 2 2.6 0.5 2.6-1.8 2.6-0.8 2.6 1.5 2.6 1.1 2.6-0.6 2.6-0.7 2.6-0.8 2.6-0.3 2.6-0.1 2.6 0.1 2.6 0.4 2.6-0.9 2.6-0.6 2.6 0.3 2.6 0.5 2.6 0.7 2.6-0.2 2.6 0.5 2.6 1.1 2.6 0 2.6 0 2.6-0.1 2.6-1.1 2.6-0.7 2.6 0.6 2.6 1 2.6 0.5 2.6-1.4 2.6-1.7 2.6-0.1 2.6 0.8 2.6 1.2 2.6 0.4 2.6-0.2 2.6 0.5 2.6-0.7 2.6-1.5 2.6-0.8 2.6-0.4 2.6 0.6 2.6 0.3 2.6-0.3 2.6-0.3 2.6-0.3 2.6-0.7 2.6-0.6 2.6-0.5 2.6-1.7 2.6-0.8 2.6 0.4 2.6-0.5 2.6-0.4 2.6-1.1 2.6-0.5 2.6 1.9 2.6 0.7 2.6-1 2.6-1.6 2.6-3.5 2.6-3.1 2.6 0.1 2.6-0.2 2.6-0.2 2.6 0.8 2.6-1.4 2.6-1.8 2.6 0 2.6-0.3 2.6-0.2 2.6 0.6 2.6-1.2 2.6-2.6 2.6-1 2.6 0.1 2.6-1 2.6-1.5 2.6-1.6 2.6-1.6 2.6-1 2.6 0 2.6 0.3 2.6-1.5 2.6-1.8 2.6-0.9 2.6-1.7 2.6-1.1 2.6-1.4 2.6-2.1 2.6-0.6 2.6-0.5 2.6-1.9 2.6-3.8 2.6-2.1 2.6 1.3 2.6-1 2.6-3.1 2.6-2 2.6 0.3 2.6-0.6 2.6-3.4 2.6-1.6 2.6-0.8 2.6-1 2.6-1.7 2.6-3.4 2.6-3.8 2.6-1.8 2.6-1 2.6-1.9 2.6-2 2.6-2.2 2.6-2.8 2.6-2.1 2.6-1.4 2.6-2.4 2.6-3 2.6-2.1 2.6-2.9 2.6-3.9 2.6-2.4 2.6-2.6 2.6-3.7 2.6-1.8 2.6-2.2 2.6-5 2.6-2.6 2.6-1.7 2.6-6.1 2.6-6.2 2.6-2 2.6-1.2 2.6-5.4 2.6-5.5 2.6-3 2.6-4.6 2.6-7.3 2.6-6.8 2.6-5 2.6-4.9 2.6-4.2 2.6-5.9 2.6-8.6 2.6-5.8 2.6-5 2.6-9 2.6-8.4 2.6-6.5 2.6-8.4 2.6-8.4 2.6-7.4 2.6-7.9 2.6-9 2.6-8.9 2.6-8.9 2.6-9.4 2.6-9.3 2.6-10.6 2.6-9.6 2.6-9 2.6-12.3 2.6-11.6 2.6-5.7 2.6-4.7 2.6-8.5 2.6-6.6 2.6-3.6 2.6-4 2.6-5.6 2.6-5.1 2.6-0.6 2.6 2.2 2.6 1.6 2.6 0.3 2.6-0.7 2.6 3 2.6 7.7 2.6 6.4 2.6 6.2 2.6 6.7 2.6 5.5 2.6 8.2 2.6 11.1 2.6 7.5 2.6 5.1 2.6 8.1 2.6 9.8 2.6 9.9 2.6 8.2 2.6 7.3 2.6 9.1 2.6 8.3 2.6 5 2.6 5.8 2.6 6.9 2.6 4.3 2.6 5.4 2.6 6.7 2.6 4.2 2.6 2.8 2.6 2.4 2.6 3.8 2.6 5.3 2.6 1.8 2.6-1.2 2.6 0.6 2.6 1.1 2.6-0.5 2.6 0.4 2.6 1.2 2.6-0.5 2.6-0.8 2.6-2.5 2.6-1.4 2.6 0.7 2.6-2 2.6-2.4 2.6-2 2.6-2.2 2.6-1.5 2.6-3.5 2.6-6 2.6-4.1 2.6-1.3 2.6-4.8 2.6-9.1 2.6-5.9 2.6-2.9 2.6-4.4 2.6-7.9 2.6-9.2 2.6-10.4 2.6-12.8 2.6-11.9 2.6-11.1 2.6-12.2 2.6-14.5 2.6-17.4 2.6-18 2.6-16.2 2.6-15 2.6-13.9 2.6-11.2 2.6-6 2.6 2.8 2.6 7.6 2.6 8.2 2.6 13.9 2.6 21.6 2.6 23.7 2.6 24 2.6 24.4 2.6 25.8 2.6 25.8 2.6 22.4 2.6 19.7 2.6 19.5 2.6 19.1 2.6 18.4 2.6 17.5 2.6 14.4 2.6 12.8 2.6 13 2.6 11.8 2.6 10.4 2.6 8.3 2.6 7.9 2.6 7 2.6 5.6 2.6 6.4 2.6 5.8 2.6 4.9 2.6 3.9 2.6 3.1 2.6 4.4 2.6 4.6 2.6 4 2.6 2.7 2.6 2.1 2.6 2.5 2.6 2.1 2.6 0.8 2.6 0.9 2.6 2.8 2.6 2.6 2.6 0.2 2.6-1 2.6 1.3 2.6 2.6 2.6 2.2 2.6 2 2.6 0.9 2.6 0.2 2.6 1.2 2.6 1.7 2.6 0.4 2.6-0.7 2.6 1.4 2.6 1.9 2.6-1.1 2.6-1 2.6 1.3 2.6 1.3 2.6 0.4 2.6-0.2 2.6 1.1 2.6 0.9 2.6-2 2.6-1.5 0.8 1.4" stroke="#2f70e0" stroke-width="3.6"/>
<path d="M415.8 1034l2.6-0.9 2.6-1.3 2.6 0.2 2.6 2.4 2.6 1.1 2.6-1.3 2.6-1.3 2.6-0.6 2.6 0.6 2.6 1.8 2.6 0.4 2.6-1.5 2.6-1 2.6 0.3 2.6 1.4 2.6 0.1 2.6-1.5 2.6-1.8 2.6-0.3 2.6 1.1 2.6 1.1 2.6 1.6 2.6 0.8 2.6-0.2 2.6 0.1 2.6 0.1 2.6-0.3 2.6-0.4 2.6-0.3 2.6-0.5 2.6 0.2 2.6-0.4 2.6-0.9 2.6 0.6 2.6 0.8 2.6 0.3 2.6-0.2 2.6 0.2 2.6 0.1 2.6-1.3 2.6-1.1 2.6 1 2.6 2.4 2.6 1.3 2.6-0.8 2.6-1.4 2.6-0.4 2.6 0.7 2.6-0.2 2.6-0.6 2.6 0.5 2.6-0.5 2.6 0.4 2.6 1.5 2.6 0 2.6 0.3 2.6 1.2 2.6 1 2.6-0.8 2.6-1.6 2.6-0.4 2.6 0.4 2.6 0.7 2.6-0.1 2.6 0.3 2.6 1.3 2.6-0.3 2.6-1.8 2.6-0.1 2.6 0.8 2.6-0.6 2.6-1.7 2.6-0.1 2.6 1.4 2.6-0.8 2.6-1.2 2.6 0.6 2.6 1.7 2.6 1.3 2.6-1.2 2.6 0.4 2.6 1.3 2.6-1.8 2.6-1.6 2.6-0.2 2.6 0.5 2.6 1.6 2.6 1.2 2.6-0.1 2.6-0.7 2.6-0.2 2.6 0.4 2.6-0.4 2.6-0.8 2.6-0.8 2.6-1.5 2.6 0.8 2.6 3 2.6 1.4 2.6 0.4 2.6-0.6 2.6-0.9 2.6 0.7 2.6 0.4 2.6-1.2 2.6-0.8 2.6 0.6 2.6 0 2.6-1 2.6-0.2 2.6 0.1 2.6 0.5 2.6 1.1 2.6 0.2 2.6-0.6 2.6-1.1 2.6 0.4 2.6 0.7 2.6-0.1 2.6 0.1 2.6-0.5 2.6 0.3 2.6 1.7 2.6 0.3 2.6-0.7 2.6-0.3 2.6-0.1 2.6 0.1 2.6 0.6 2.6-0.4 2.6 0.3 2.6 0.7 2.6-0.4 2.6 1.1 2.6 1.1 2.6-1.4 2.6-1.8 2.6-0.6 2.6-0.1 2.6-1.2 2.6-0.7 2.6 0.2 2.6 0.5 2.6 1.3 2.6 0.8 2.6-0.9 2.6-0.5 2.6 0.8 2.6 1.5 2.6 0.4 2.6-1.3 2.6 0.1 2.6 1.1 2.6-0.8 2.6-0.8 2.6 0.2 2.6-0.4 2.6 0.8 2.6 1.7 2.6-0.3 2.6-1.4 2.6-0.9 2.6 1 2.6 2.2 2.6-0.4 2.6-1.7 2.6-1 2.6 0.7 2.6 2.2 2.6 1.2 2.6-0.3 2.6-0.3 2.6 0.1 2.6-1.1 2.6-0.6 2.6 2 2.6 2.3 2.6-0.7 2.6-0.9 2.6 1 2.6 0 2.6-1 2.6-0.5 2.6 0.3 2.6 0.8 2.6 0.6 2.6 0.2 2.6-0.4 2.6-0.1 2.6 0 2.6 0.7 2.6 0.8 2.6-0.6 2.6-0.6 2.6 0.1 2.6 0.1 2.6-0.4 2.6 0.1 2.6 1.4 2.6 0.6 2.6-0.1 2.6 0.7 2.6 1 2.6-0.4 2.6-0.3 2.6 0.3 2.6 0.4 2.6-0.4 2.6-1.7 2.6-1.1 2.6 0.4 2.6 2 2.6 0.9 2.6-0.3 2.6 0.2 2.6-0.5 2.6-0.2 2.6-0.3 2.6-0.7 2.6-1.1 2.6-1.2 2.6 1.1 2.6 1.2 2.6-0.3 2.6 0.2 2.6 0.2 2.6 0.2 2.6-1 2.6-1.6 2.6 0.5 2.6 0.6 2.6-0.4 2.6-1.5 2.6-0.9 2.6 1.3 2.6 0.1 2.6-1.1 2.6 0.2 2.6-1.3 2.6-2 2.6 0.1 2.6 0.6 2.6 0 2.6-0.4 2.6-1.2 2.6-2 2.6-2 2.6-0.2 2.6 1 2.6-0.5 2.6-0.9 2.6 0.3 2.6-1 2.6-1.2 2.6-0.2 2.6-1.3 2.6-1.3 2.6 0.1 2.6-0.8 2.6-2 2.6-1.1 2.6-1.1 2.6-2 2.6-0.9 2.6-0.3 2.6-0.8 2.6-0.6 2.6-1.7 2.6-2.6 2.6-1.1 2.6-0.9 2.6-1.3 2.6-0.6 2.6-1.4 2.6-0.8 2.6-0.9 2.6-1.3 2.6-0.9 2.6-1.6 2.6-1.5 2.6-2.5 2.6-2.6 2.6-0.5 2.6-0.1 2.6-1.2 2.6-1 2.6-0.6 2.6-1.8 2.6-3.1 2.6-1.5 2.6-0.3 2.6-2.6 2.6-3.1 2.6-1 2.6-1.5 2.6-2.2 2.6-1.6 2.6-3.3 2.6-2.1 2.6 0.3 2.6-2.7 2.6-3.5 2.6-1.6 2.6-1.3 2.6-1.7 2.6-2.3 2.6-3.9 2.6-3.2 2.6-1.3 2.6-2.1 2.6-3.5 2.6-3.8 2.6-3.3 2.6-3.1 2.6-2.6 2.6-1 2.6-3 2.6-7.4 2.6-5.1 2.6-1.5 2.6-3.9 2.6-6.4 2.6-5.8 2.6-5.1 2.6-4.7 2.6-4.1 2.6-5 2.6-5.3 2.6-5.7 2.6-7.2 2.6-6.7 2.6-5.6 2.6-6 2.6-6.4 2.6-6.2 2.6-5.6 2.6-5.3 2.6-9 2.6-10.6 2.6-7.9 2.6-6.6 2.6-8.1 2.6-10.7 2.6-8.4 2.6-6.4 2.6-7.7 2.6-8.4 2.6-7.7 2.6-4.1 2.6-3.2 2.6-7.4 2.6-7.7 2.6-3.4 2.6-1.8 2.6-2.9 2.6-2 2.6 0.8 2.6 2.9 2.6 0.5 2.6-0.4 2.6 2.5 2.6 2 2.6 3.1 2.6 7 2.6 7.1 2.6 6.9 2.6 6.6 2.6 6.9 2.6 9.2 2.6 6.3 2.6 3.2 2.6 5.6 2.6 6.9 2.6 7.3 2.6 6.9 2.6 5.4 2.6 7 2.6 6.7 2.6 4.7 2.6 5.5 2.6 2.8 2.6 1.7 2.6 4.5 2.6 4.3 2.6 3.9 2.6 3 2.6 2.1 2.6 2.5 2.6 2.9 2.6 1.2 2.6 0.3 2.6 1.6 2.6-0.6 2.6-1.9 2.6 0.4 2.6 0.6 2.6-1.4 2.6-2.5 2.6-1.9 2.6-1.8 2.6-3.1 2.6-3.1 2.6 0.6 2.6-0.1 2.6-4.4 2.6-4.2 2.6-1.9 2.6-2.9 2.6-5.5 2.6-4.3 2.6-2.4 2.6-4.1 2.6-6.9 2.6-7.8 2.6-7.2 2.6-5.3 2.6-6.9 2.6-10.1 2.6-11 2.6-11.7 2.6-12 2.6-13.8 2.6-15 2.6-14.4 2.6-13.2 2.6-12.9 2.6-11.8 2.6-8.8 2.6-5 2.6 1.9 2.6 6.7 2.6 6.1 2.6 10.3 2.6 17.9 2.6 20.6 2.6 22.4 2.6 24.6 2.6 22.6 2.6 18.9 2.6 19.2 2.6 20.1 2.6 18.7 2.6 17.2 2.6 15.7 2.6 14.1 2.6 12.8 2.6 12.2 2.6 11.7 2.6 9.3 2.6 7.7 2.6 9.5 2.6 8.7 2.6 6.3 2.6 4.9 2.6 2.9 2.6 4.1 2.6 6 2.6 6 2.6 4.5 2.6 2.8 2.6 2.9 2.6 3.2 2.6 2 2.6 1.6 2.6 3 2.6 4.5 2.6 2.9 2.6 0.6 2.6 0.8 2.6 0.2 2.6-0.2 2.6 1.6 2.6 2.2 2.6 0.9 2.6 1 2.6 2.3 2.6 1.3 2.6 0.7 2.6 1.7 2.6 1.9 2.6 0.9 2.6 0.4 2.6 0.3 2.6 0.2 2.6 0.1 2.6-0.4 2.6 1.1 2.6 1.9 2.6 0.2 2.6 0 2.6-0.1 2.6 0.6 2.6 1.1 2.6 0.5 0.8 0.7" stroke="#b85c2e" stroke-width="3.6"/>
<path d="M415.8 1034.9l2.6 0.1 2.6 0.2 2.6 0.4 2.6 0.3 2.6 0 2.6 0.1 2.6-0.8 2.6-0.8 2.6 0.4 2.6-0.6 2.6-1.3 2.6 1.3 2.6 1.6 2.6-0.4 2.6-0.7 2.6 0.1 2.6 0.4 2.6 0.6 2.6 0 2.6-0.5 2.6-0.3 2.6 0.8 2.6 0.5 2.6-0.2 2.6 0.9 2.6-0.3 2.6-0.5 2.6 0.5 2.6-0.7 2.6 0.1 2.6 0.5 2.6-1 2.6-0.3 2.6 0.8 2.6-0.2 2.6-1.1 2.6 0 2.6 1.1 2.6 1.2 2.6 0.3 2.6-0.8 2.6-1.2 2.6-0.4 2.6-0.2 2.6 0 2.6 1.1 2.6 0.9 2.6-1 2.6-0.3 2.6 1.6 2.6-0.4 2.6-1 2.6-0.8 2.6-1.3 2.6 0.2 2.6 1.7 2.6 1.1 2.6 0 2.6 0 2.6-0.1 2.6 0 2.6 0.1 2.6-1.1 2.6-1.2 2.6 0.5 2.6 2.1 2.6 1 2.6-1.8 2.6-0.8 2.6 1.4 2.6 0.3 2.6-0.2 2.6 0.1 2.6 0.1 2.6 1 2.6 0.3 2.6-0.3 2.6 0.3 2.6-0.9 2.6-0.2 2.6 0.4 2.6-0.5 2.6-0.1 2.6-0.2 2.6 0.1 2.6 0.9 2.6 0.9 2.6 0.7 2.6-0.3 2.6-1.5 2.6-1.9 2.6 0.6 2.6 1.6 2.6-0.6 2.6-0.2 2.6 0.5 2.6-0.6 2.6-0.1 2.6 1 2.6 0.2 2.6 0.1 2.6 0.3 2.6-0.4 2.6 0.1 2.6 0.8 2.6-0.1 2.6-1.2 2.6-0.8 2.6 0.9 2.6 0.6 2.6-0.6 2.6-0.4 2.6-0.3 2.6 0.3 2.6 1.3 2.6 0.5 2.6 0.2 2.6-0.8 2.6-2 2.6 1 2.6 2 2.6-0.3 2.6-0.8 2.6-0.6 2.6 0.4 2.6 0.6 2.6-0.3 2.6-0.1 2.6 0.3 2.6 0.4 2.6-0.2 2.6 0.2 2.6 0.7 2.6-0.2 2.6-0.2 2.6-0.1 2.6 0 2.6 0.9 2.6 0.4 2.6-0.6 2.6-0.6 2.6 0.1 2.6-0.1 2.6 0.4 2.6 0.7 2.6-0.4 2.6 0 2.6 0.1 2.6-0.8 2.6-0.8 2.6-0.8 2.6-0.1 2.6 1.3 2.6 1.4 2.6-0.1 2.6-1.4 2.6-0.8 2.6 1.3 2.6 1.1 2.6-0.3 2.6-0.1 2.6 0.6 2.6 1.8 2.6 1.2 2.6-1.7 2.6-1.8 2.6 1.3 2.6 1.7 2.6 0 2.6-0.9 2.6-1.7 2.6 0.6 2.6 1.4 2.6-0.4 2.6 0.1 2.6-0.1 2.6 0.5 2.6 0.6 2.6 0 2.6-0.1 2.6-0.8 2.6 0.5 2.6 2.1 2.6-0.2 2.6-2.6 2.6-0.1 2.6 1.4 2.6-0.6 2.6 0.3 2.6 1 2.6 0.3 2.6-0.6 2.6-0.8 2.6 1.4 2.6 0.7 2.6-2 2.6 0.2 2.6 2.1 2.6 0.5 2.6-0.2 2.6-0.7 2.6-0.7 2.6 0.4 2.6 0.9 2.6-0.1 2.6-1 2.6-1 2.6-0.3 2.6 0.9 2.6 0.3 2.6 0.2 2.6 0 2.6-1 2.6 0.5 2.6 1.1 2.6-0.8 2.6-0.6 2.6 0.1 2.6-1.2 2.6-0.3 2.6 0.3 2.6-1.4 2.6-0.8 2.6 0.8 2.6-0.1 2.6-1.5 2.6 0.4 2.6 1.7 2.6 0.1 2.6-0.5 2.6 0.3 2.6-0.4 2.6-1.8 2.6-0.7 2.6-0.7 2.6-0.8 2.6 0.5 2.6-0.2 2.6-0.8 2.6-0.2 2.6-1 2.6-1.2 2.6-0.9 2.6-0.6 2.6 0.2 2.6 0.1 2.6-0.2 2.6-1 2.6-1.8 2.6-2.2 2.6-1.1 2.6-1 2.6-1.9 2.6-0.8 2.6 0.6 2.6 1.1 2.6-0.3 2.6-1.8 2.6-1.3 2.6-0.7 2.6-0.6 2.6-1.5 2.6-2.2 2.6-0.3 2.6-0.9 2.6-1.6 2.6-0.9 2.6-2.6 2.6-1.9 2.6 0.4 2.6-0.2 2.6-0.8 2.6-1.9 2.6-3.2 2.6-1.2 2.6 0.1 2.6-1.6 2.6-3.3 2.6-1.7 2.6 0.5 2.6-0.2 2.6-1.9 2.6-3.2 2.6-3.4 2.6-2.4 2.6-0.1 2.6 0 2.6-2.1 2.6-1.9 2.6-1.3 2.6-2.8 2.6-2.2 2.6-0.6 2.6-2.2 2.6-4.3 2.6-2.7 2.6-0.6 2.6-2.6 2.6-2.8 2.6-0.6 2.6-0.9 2.6-2.1 2.6-3.1 2.6-3 2.6-2.1 2.6-1.6 2.6-1.8 2.6-2.8 2.6-4.4 2.6-4.5 2.6-2.5 2.6-3.1 2.6-4.9 2.6-3.5 2.6-2.1 2.6-3.9 2.6-5.3 2.6-3.8 2.6-3.2 2.6-4.8 2.6-5.7 2.6-4.7 2.6-4.3 2.6-5.9 2.6-5 2.6-4.7 2.6-7.5 2.6-5.8 2.6-5.4 2.6-7.3 2.6-4.9 2.6-5.6 2.6-9 2.6-9.3 2.6-7.8 2.6-7.8 2.6-9.1 2.6-8.8 2.6-10.3 2.6-9.6 2.6-3.6 2.6-4 2.6-9.4 2.6-10.2 2.6-9.8 2.6-8.1 2.6-5.9 2.6-7.3 2.6-8.7 2.6-5.4 2.6-4.9 2.6-8.4 2.6-5.9 2.6-2.9 2.6-2 2.6-0.5 2.6-2.2 2.6-2.6 2.6 0.8 2.6 3.9 2.6 5.4 2.6 3.7 2.6 2.1 2.6 5.8 2.6 9.8 2.6 9.2 2.6 7.1 2.6 5.2 2.6 4 2.6 7.5 2.6 9.7 2.6 5.3 2.6 3.7 2.6 9.3 2.6 11.3 2.6 7.8 2.6 7.7 2.6 6.3 2.6 1.6 2.6 1.3 2.6 5.8 2.6 7.7 2.6 5.5 2.6 2.5 2.6 3.5 2.6 6.1 2.6 2.1 2.6-2 2.6 0.2 2.6 1.4 2.6 1 2.6 1.1 2.6 1.5 2.6-1 2.6-2.5 2.6 0.4 2.6 0.5 2.6-1 2.6 0.3 2.6-0.9 2.6-4.8 2.6-4.4 2.6-0.7 2.6-0.6 2.6-4.2 2.6-3.4 2.6 0.1 2.6-2.2 2.6-7.5 2.6-6.4 2.6-2.3 2.6-1.6 2.6-6.4 2.6-10.4 2.6-8.6 2.6-6.9 2.6-8.2 2.6-9.9 2.6-10.5 2.6-11.6 2.6-13.9 2.6-15.5 2.6-16.4 2.6-17.3 2.6-14.8 2.6-13.7 2.6-12.9 2.6-7.3 2.6-5.6 2.6-2.9 2.6 7.8 2.6 14.1 2.6 12.3 2.6 15.6 2.6 24.9 2.6 28.6 2.6 24.5 2.6 22.4 2.6 22.5 2.6 21.8 2.6 21.7 2.6 19.1 2.6 19.5 2.6 19.9 2.6 15.8 2.6 12.7 2.6 11.3 2.6 11 2.6 11 2.6 10.6 2.6 12.1 2.6 9.7 2.6 4.6 2.6 4.8 2.6 7.1 2.6 6.1 2.6 3.1 2.6 3.5 2.6 6.2 2.6 6 2.6 2.7 2.6 1.7 2.6 3.5 2.6 3.1 2.6 1.9 2.6 3.5 2.6 3.7 2.6 1.4 2.6 1.5 2.6 2.2 2.6 2.3 2.6 2.9 2.6 2.2 2.6 1.1 2.6 1.2 2.6 1.7 2.6 1.7 2.6 1.8 2.6 1.1 2.6 0.8 2.6 0.9 2.6 0.9 2.6 1.2 2.6 2.1 2.6 1.2 2.6-0.4 2.6 0.8 2.6 1.6 2.6 0.4 2.6 0.2 2.6 1 2.6 0 2.6-0.8 2.6 0.1 0.8 1" stroke="#22aa55" stroke-width="3.6"/>
<path d="M415.8 1036.4l2.6 0.3 2.6-1.4 2.6-0.9 2.6 0.4 2.6 0.6 2.6 1.1 2.6 0.2 2.6-1.3 2.6 0.2 2.6 1.3 2.6-0.4 2.6-0.6 2.6 0 2.6 0 2.6-0.5 2.6-0.2 2.6 1.4 2.6 1.2 2.6-0.6 2.6 0.3 2.6 0.7 2.6-0.2 2.6 0.1 2.6-1.5 2.6-0.8 2.6 1.1 2.6 0 2.6-0.3 2.6 1.1 2.6 0.9 2.6-0.6 2.6-0.7 2.6 0 2.6 0 2.6-0.3 2.6 0.1 2.6-0.2 2.6-0.3 2.6 0.5 2.6 0.2 2.6 0.3 2.6 0.6 2.6 0.3 2.6-0.9 2.6-0.4 2.6 0.7 2.6 0 2.6 0.8 2.6 1 2.6-1.1 2.6-0.7 2.6 2 2.6 1.2 2.6-0.8 2.6-1.4 2.6-1 2.6 0.7 2.6 1.2 2.6 0.2 2.6-0.1 2.6 0.6 2.6 0.4 2.6-0.2 2.6-0.7 2.6-0.4 2.6 0.9 2.6 0.5 2.6 0.4 2.6-0.4 2.6-0.8 2.6 0.5 2.6-0.1 2.6 0.3 2.6-1 2.6-0.7 2.6 2.9 2.6 0.1 2.6-2.3 2.6 0.2 2.6 1 2.6 0.4 2.6 0.2 2.6-1.2 2.6-0.9 2.6 0.9 2.6 0 2.6-1.6 2.6 0 2.6 1.7 2.6 0.8 2.6 0.5 2.6 0.4 2.6 0 2.6 0.7 2.6 1.3 2.6 0.2 2.6-1.5 2.6-1.9 2.6-0.5 2.6 1 2.6 0.1 2.6-0.9 2.6-0.1 2.6 0.8 2.6-0.5 2.6-0.8 2.6 1.3 2.6 1.8 2.6 0.2 2.6-1 2.6-1.3 2.6-0.7 2.6 0.6 2.6 0 2.6-1 2.6 0.7 2.6 1.2 2.6-0.6 2.6 0.2 2.6 1 2.6 0.3 2.6 0.2 2.6 1 2.6 0.5 2.6-1.5 2.6-0.4 2.6 0.8 2.6-1.5 2.6-1.7 2.6 1.1 2.6 0.7 2.6-0.4 2.6 1.1 2.6 0.8 2.6 0 2.6-0.6 2.6-0.9 2.6 0.3 2.6 1.1 2.6 0 2.6-0.3 2.6 0.3 2.6 0.2 2.6 0.5 2.6 0 2.6-0.2 2.6 0 2.6-0.5 2.6 0.3 2.6 0.8 2.6 0.1 2.6-0.4 2.6-0.5 2.6-0.2 2.6 0.6 2.6-0.2 2.6-1.6 2.6-0.1 2.6 0.7 2.6-0.1 2.6 0.6 2.6 0.8 2.6-1.2 2.6-1.7 2.6 0.4 2.6 1.5 2.6 1 2.6-0.9 2.6-1.1 2.6 0.8 2.6 0.2 2.6 0 2.6 0.1 2.6 0.2 2.6 0.8 2.6 1 2.6-0.5 2.6-1.3 2.6 0.8 2.6 0.8 2.6-0.1 2.6 1 2.6 0.9 2.6 0.3 2.6-0.1 2.6-0.4 2.6-0.2 2.6 0.5 2.6 0.7 2.6-0.1 2.6 0 2.6-0.3 2.6-1 2.6-0.1 2.6 1.3 2.6 0.7 2.6 0 2.6 0.2 2.6-0.4 2.6-0.2 2.6 0.8 2.6 0.5 2.6-1.3 2.6-1.5 2.6 0.8 2.6 0.5 2.6-0.9 2.6-0.3 2.6 0.7 2.6 1.7 2.6-1.2 2.6-2.6 2.6 1.1 2.6 1.5 2.6-0.8 2.6-0.1 2.6 0.9 2.6-0.3 2.6-0.9 2.6-0.4 2.6 0.3 2.6 0.9 2.6 1.2 2.6-0.2 2.6-1.5 2.6 0 2.6-1.1 2.6-1.7 2.6 0.2 2.6 0.1 2.6-0.4 2.6-0.5 2.6 0.2 2.6-0.4 2.6-1.1 2.6 0.7 2.6 0.9 2.6-1.2 2.6-1 2.6-0.2 2.6-1.5 2.6-2 2.6-0.4 2.6 0.8 2.6 0.6 2.6 0.4 2.6-0.9 2.6-1.8 2.6-1 2.6-0.3 2.6-0.2 2.6-0.3 2.6-1 2.6-1.7 2.6-1.4 2.6-1.1 2.6-1.3 2.6 0.3 2.6 1.3 2.6-0.8 2.6-1.6 2.6-1.4 2.6-2.2 2.6-1 2.6-0.1 2.6-1.3 2.6-1.4 2.6 0 2.6-0.9 2.6-2 2.6-1.7 2.6-1.3 2.6-0.7 2.6-0.3 2.6 0.2 2.6-0.6 2.6-0.6 2.6-0.6 2.6-3.2 2.6-2.9 2.6-0.5 2.6-1.2 2.6-2 2.6-1.4 2.6-2.4 2.6-2.4 2.6-0.7 2.6-0.7 2.6-1.1 2.6-1 2.6-1.4 2.6-2 2.6-1.2 2.6-0.1 2.6-2.2 2.6-2.6 2.6-1.1 2.6-1.6 2.6-2.3 2.6-3.1 2.6-3.4 2.6-2.5 2.6-0.8 2.6-0.9 2.6-2.8 2.6-3.8 2.6-1.6 2.6-0.4 2.6-2.2 2.6-3.1 2.6-4.3 2.6-4.1 2.6-3.2 2.6-3.3 2.6-2.4 2.6-2.5 2.6-4.6 2.6-4.5 2.6-2.9 2.6-2.7 2.6-4.2 2.6-5.5 2.6-3.8 2.6-3.6 2.6-4.9 2.6-5.2 2.6-6.8 2.6-7.6 2.6-6.6 2.6-6.6 2.6-5.3 2.6-4.3 2.6-7.7 2.6-9.9 2.6-6.5 2.6-2.8 2.6-6.3 2.6-9.9 2.6-7.6 2.6-7.5 2.6-8.8 2.6-6.3 2.6-6.7 2.6-10.4 2.6-10.3 2.6-8.9 2.6-7.7 2.6-5.9 2.6-5 2.6-4.3 2.6-4.5 2.6-7.2 2.6-7.1 2.6-5.1 2.6-2.6 2.6 2.4 2.6 1.8 2.6-2.8 2.6 0.6 2.6 6.1 2.6 4.1 2.6 0.9 2.6 3.8 2.6 7.1 2.6 6.5 2.6 6.7 2.6 7.8 2.6 6.4 2.6 5.5 2.6 7.2 2.6 9.7 2.6 7.2 2.6 4.3 2.6 7.3 2.6 8.4 2.6 6.4 2.6 6.2 2.6 6.5 2.6 4.9 2.6 3.8 2.6 4.9 2.6 6.2 2.6 4.5 2.6 1.2 2.6 2.2 2.6 4.8 2.6 3 2.6 1.5 2.6 0.7 2.6 0.5 2.6 1.2 2.6 0.7 2.6 0.7 2.6 0.8 2.6 0.7 2.6 0.1 2.6-1.3 2.6-1.8 2.6-2.5 2.6-3 2.6-2 2.6-2.3 2.6-0.7 2.6-0.1 2.6-3.7 2.6-4.1 2.6-1.8 2.6-2.9 2.6-5.9 2.6-6 2.6-4 2.6-3.8 2.6-6 2.6-7.8 2.6-8 2.6-6.8 2.6-6.6 2.6-8.9 2.6-11 2.6-11.5 2.6-12.8 2.6-14.2 2.6-13.2 2.6-14.4 2.6-15.7 2.6-13.2 2.6-9.7 2.6-8.2 2.6-7.5 2.6-1.1 2.6 5.2 2.6 9 2.6 14.8 2.6 17.2 2.6 18.8 2.6 22.7 2.6 21.8 2.6 22.2 2.6 24.6 2.6 22.4 2.6 19.3 2.6 17.4 2.6 18.1 2.6 15.8 2.6 12 2.6 13.1 2.6 12.9 2.6 9.9 2.6 8.3 2.6 7.1 2.6 9.1 2.6 10.1 2.6 7.9 2.6 5.9 2.6 4.8 2.6 4.2 2.6 4.2 2.6 5.3 2.6 5.3 2.6 2.5 2.6 0.7 2.6 2.7 2.6 4.1 2.6 3 2.6 2.2 2.6 2.7 2.6 2.2 2.6 0.8 2.6 1.5 2.6 2.7 2.6 2.2 2.6-0.7 2.6 0.5 2.6 2.2 2.6-0.4 2.6 0.7 2.6 2.8 2.6 0.9 2.6-1.1 2.6 0.1 2.6 1.1 2.6 1.5 2.6 0.6 2.6 0 2.6 0.5 2.6 0.7 2.6 1.6 2.6 1 2.6-0.8 2.6-0.6 2.6 1.5 2.6 0.2 2.6-1.5 2.6-1.2 0.8-0.6" stroke="#7a50c0" stroke-width="3.6"/>
<path d="M415.8 1019.7l2.6 0.4 2.6 1.8 2.6 2 2.6 0.2 2.6-1 2.6 0.2 2.6 1 2.6 0.2 2.6-1.1 2.6-1.5 2.6 0.1 2.6 1.1 2.6 0.1 2.6 0 2.6 0.6 2.6 0.8 2.6 0.2 2.6-1.7 2.6-1.1 2.6 0.5 2.6 0.3 2.6-0.6 2.6-0.6 2.6 1.8 2.6 2.3 2.6-0.3 2.6-1.9 2.6-1 2.6 0.2 2.6 0.5 2.6 1.5 2.6 1.6 2.6 0.7 2.6 0.1 2.6-0.3 2.6-0.4 2.6-0.7 2.6 0.5 2.6 0.6 2.6-1.6 2.6-0.2 2.6 1.4 2.6-0.6 2.6-0.8 2.6 0.3 2.6-0.2 2.6-0.3 2.6 0 2.6 0.7 2.6 0.5 2.6-0.5 2.6-0.3 2.6 0.8 2.6 1.2 2.6 0.6 2.6-0.1 2.6-0.3 2.6-0.6 2.6-0.1 2.6 0.3 2.6 0 2.6-0.8 2.6-1.1 2.6 0.6 2.6 1.5 2.6 0.3 2.6 0.2 2.6 0.3 2.6 0.3 2.6 0.9 2.6 1.5 2.6 0.2 2.6-2.4 2.6-1.2 2.6 1 2.6 0.1 2.6-0.1 2.6 0.4 2.6 0.5 2.6 0 2.6 0.8 2.6 1 2.6-1.2 2.6 0.3 2.6 1 2.6-1.5 2.6-0.9 2.6 0 2.6 0.2 2.6 1.1 2.6 0.7 2.6-0.2 2.6-1.5 2.6-2.4 2.6 0.3 2.6 2.4 2.6 0.8 2.6-0.8 2.6 0 2.6 1.3 2.6-0.4 2.6-2.2 2.6 0.7 2.6 3.1 2.6 1.1 2.6-1.3 2.6-1.6 2.6-0.3 2.6 1.3 2.6 0.8 2.6-1.3 2.6-0.9 2.6 0.7 2.6 0.3 2.6-0.5 2.6 0.7 2.6 0.8 2.6 0 2.6-0.3 2.6-1.2 2.6 0.1 2.6 1.2 2.6-1 2.6 0.1 2.6 1.9 2.6-1.2 2.6-1.1 2.6 1.6 2.6 0.9 2.6-0.1 2.6 0.5 2.6 1.2 2.6-0.1 2.6-1.7 2.6-1.2 2.6-0.6 2.6-0.5 2.6-0.4 2.6 0.1 2.6 1 2.6 1.3 2.6-1.5 2.6-3.2 2.6 0 2.6 1.9 2.6 0.7 2.6 0.5 2.6 0.2 2.6-0.5 2.6 1.1 2.6-0.2 2.6-0.3 2.6 2 2.6 0.8 2.6 0.4 2.6-0.3 2.6-0.8 2.6-0.2 2.6 0.2 2.6 0.4 2.6 0.5 2.6 0.5 2.6 0.3 2.6-0.3 2.6-0.4 2.6 0.1 2.6-0.4 2.6 0.2 2.6-0.1 2.6-0.9 2.6 1.5 2.6 1.4 2.6 0.5 2.6 0.7 2.6-0.9 2.6-0.3 2.6 0.7 2.6-0.6 2.6-1.3 2.6-0.7 2.6 0.2 2.6-0.7 2.6 0.5 2.6 2.4 2.6 0.3 2.6-1.1 2.6 0.3 2.6 0.8 2.6 0.8 2.6 0.9 2.6 0 2.6 0.6 2.6 0.3 2.6-1.8 2.6-2.5 2.6 0.1 2.6 1.7 2.6 0.5 2.6-0.8 2.6-0.4 2.6 1 2.6 1.3 2.6-0.4 2.6-2.2 2.6-0.6 2.6 3.2 2.6 1.5 2.6-1.6 2.6-0.7 2.6-0.3 2.6-0.7 2.6 1.3 2.6 2.2 2.6 0.3 2.6-1.1 2.6-0.7 2.6-0.2 2.6 0.3 2.6 0.2 2.6 0 2.6-0.7 2.6-1.1 2.6-1.5 2.6-0.7 2.6 1.2 2.6-0.2 2.6-1.9 2.6-0.2 2.6 0.2 2.6-0.8 2.6-0.9 2.6-0.2 2.6 0.1 2.6 0.5 2.6 1.1 2.6-0.1 2.6-1.2 2.6-0.9 2.6-0.6 2.6-0.6 2.6-0.2 2.6 0.6 2.6-0.3 2.6-2.4 2.6-0.8 2.6 0.2 2.6-1.2 2.6-1.2 2.6 0.7 2.6 1 2.6-0.8 2.6-2.8 2.6-2.1 2.6 0.2 2.6 0.3 2.6-0.7 2.6-1.6 2.6-0.8 2.6 1.5 2.6-0.7 2.6-3.9 2.6-1.8 2.6-0.8 2.6-2.4 2.6-0.2 2.6 1.1 2.6-2.2 2.6-2.5 2.6-0.1 2.6-1.2 2.6-2.1 2.6-0.1 2.6 0.2 2.6-0.9 2.6-1.9 2.6-1.7 2.6-1.3 2.6-1.6 2.6-0.9 2.6-0.9 2.6-1.3 2.6-2.6 2.6-3.6 2.6-2.4 2.6-1 2.6-0.2 2.6-1.1 2.6-2.1 2.6-1.6 2.6-1.5 2.6-2.4 2.6-2.2 2.6-1.9 2.6-1.7 2.6-0.9 2.6-0.6 2.6-1 2.6-1.8 2.6-2.8 2.6-3.4 2.6-2.2 2.6-3 2.6-4.4 2.6-1.9 2.6-2 2.6-1 2.6 0.4 2.6-4.3 2.6-3.9 2.6-1.2 2.6-3.5 2.6-3.3 2.6-3.1 2.6-3.2 2.6-2.6 2.6-4.4 2.6-3.9 2.6-4.2 2.6-7.6 2.6-6.8 2.6-2.3 2.6-2.5 2.6-3.7 2.6-4.3 2.6-7 2.6-6.9 2.6-5.2 2.6-5.2 2.6-7 2.6-6.5 2.6-4.3 2.6-7 2.6-8.5 2.6-5.9 2.6-5.2 2.6-7.4 2.6-9.6 2.6-8.3 2.6-6.7 2.6-8.9 2.6-11.5 2.6-9.4 2.6-6.2 2.6-6.9 2.6-10.9 2.6-11.8 2.6-6.7 2.6-5.8 2.6-9.5 2.6-8.6 2.6-2.8 2.6-0.6 2.6-4.1 2.6-4.1 2.6-1.6 2.6-0.8 2.6-0.7 2.6-0.4 2.6-0.4 2.6 2.9 2.6 6.3 2.6 4.7 2.6 1.9 2.6 2.5 2.6 5.9 2.6 10.5 2.6 10.6 2.6 5.5 2.6 5.2 2.6 7.9 2.6 8.2 2.6 7.3 2.6 4.6 2.6 3.8 2.6 8.5 2.6 9.8 2.6 7.1 2.6 6 2.6 6 2.6 5.8 2.6 4.2 2.6 2.9 2.6 4.1 2.6 3.9 2.6 3.1 2.6 4.6 2.6 5.6 2.6 3.3 2.6 0.2 2.6-0.7 2.6-0.7 2.6 0.4 2.6 2.3 2.6 0.3 2.6-2.8 2.6-1.3 2.6 0.6 2.6-1.9 2.6-2.8 2.6-0.6 2.6 0.9 2.6-1.4 2.6-5.3 2.6-3.6 2.6-1 2.6-1.2 2.6-2.5 2.6-4.6 2.6-5.6 2.6-4.4 2.6-4.1 2.6-6.4 2.6-6.6 2.6-5.5 2.6-5.8 2.6-9.2 2.6-10.7 2.6-7.8 2.6-8.7 2.6-13.8 2.6-14.3 2.6-11.9 2.6-15 2.6-17.4 2.6-16.2 2.6-14.4 2.6-9.5 2.6-6.9 2.6-8.6 2.6-3.3 2.6 6.6 2.6 10.5 2.6 14.6 2.6 18.7 2.6 19.5 2.6 22.7 2.6 26 2.6 27 2.6 25.6 2.6 21.5 2.6 17.5 2.6 16.6 2.6 16 2.6 15.8 2.6 16.8 2.6 14.2 2.6 10.7 2.6 10.9 2.6 11.6 2.6 9.4 2.6 8.6 2.6 7.6 2.6 6.6 2.6 7.6 2.6 6 2.6 3.8 2.6 4.7 2.6 4.9 2.6 3.6 2.6 3.3 2.6 3.3 2.6 2.5 2.6 2 2.6 1.7 2.6 2.2 2.6 3.3 2.6 3.1 2.6 2.4 2.6 0.5 2.6-0.1 2.6 2.4 2.6 1.7 2.6 1.4 2.6 3.2 2.6 1.7 2.6 0.5 2.6 1.5 2.6 1 2.6-0.8 2.6-1.3 2.6 0.7 2.6 1.6 2.6 1.7 2.6 1.1 2.6-1 2.6 0.3 2.6 1.4 2.6 0 2.6 0.3 2.6 1.1 2.6 0.7 2.6 0.3 2.6-0.4 2.6-1 0.8-0.4" stroke="#a060d8" stroke-width="3.6"/>
<path d="M415.8 1025.7l2.6 0.6 2.6-0.8 2.6-0.3 2.6 1.2 2.6-0.6 2.6-0.5 2.6 1 2.6 0.6 2.6 0.6 2.6 1 2.6 0.1 2.6-0.4 2.6-0.3 2.6-1.8 2.6 0.8 2.6 3.6 2.6-0.5 2.6-2.7 2.6-0.8 2.6 0.1 2.6-0.4 2.6-0.5 2.6-0.7 2.6 0 2.6 0.9 2.6 1.4 2.6 1.4 2.6 0.3 2.6-0.9 2.6-2.5 2.6-1.3 2.6 2.3 2.6 2.2 2.6-0.2 2.6-0.8 2.6-0.6 2.6-0.9 2.6 1.6 2.6 1.7 2.6-1.2 2.6-0.1 2.6 0.1 2.6-1 2.6 1.3 2.6 2 2.6-0.2 2.6-1.7 2.6-1.8 2.6-0.1 2.6 1.6 2.6 0.1 2.6-0.8 2.6 0.1 2.6-0.2 2.6 0.4 2.6 0.9 2.6 0.2 2.6 0.2 2.6 0.6 2.6 0.4 2.6-0.1 2.6-0.2 2.6-0.5 2.6 0 2.6 0.5 2.6 0.2 2.6-0.9 2.6-1.1 2.6 1.2 2.6 1.3 2.6-0.4 2.6-0.6 2.6 0.4 2.6 0.5 2.6-0.1 2.6-0.4 2.6-0.4 2.6 1 2.6 1.8 2.6 1.3 2.6-0.4 2.6-2.7 2.6-2.1 2.6 0.3 2.6 0.6 2.6 0.3 2.6 0.7 2.6 1.5 2.6 1.1 2.6-0.1 2.6-1.2 2.6-1.9 2.6-0.4 2.6 1.4 2.6 0.3 2.6 0.3 2.6 1.6 2.6 1 2.6-0.1 2.6-0.3 2.6-0.8 2.6-0.6 2.6 0 2.6-0.3 2.6 0.1 2.6 0.2 2.6 0.3 2.6 0.8 2.6-0.6 2.6-0.5 2.6 1.5 2.6 0.3 2.6-1.1 2.6-0.5 2.6-0.7 2.6-0.3 2.6 0.8 2.6 0 2.6-0.7 2.6 0.9 2.6 1.1 2.6-0.6 2.6-0.7 2.6 0.2 2.6 0.4 2.6 0.4 2.6 0.6 2.6 1.1 2.6-0.3 2.6-1.4 2.6 0.1 2.6 0.9 2.6 0.5 2.6-0.2 2.6-1.7 2.6-1.2 2.6 2.1 2.6 1 2.6-2 2.6 0.5 2.6 2 2.6-1 2.6-0.7 2.6 0.9 2.6-0.2 2.6 0.5 2.6 0.8 2.6-0.3 2.6 0.3 2.6-0.7 2.6-1.8 2.6 1.1 2.6 0.9 2.6-0.9 2.6-0.5 2.6 0 2.6 0.7 2.6 0.4 2.6 0 2.6 0.3 2.6 0.4 2.6-0.7 2.6-0.5 2.6 1.5 2.6 1.1 2.6-0.6 2.6-0.8 2.6-0.4 2.6 0.8 2.6 1.3 2.6 0 2.6-0.2 2.6 0.2 2.6 0.8 2.6 0.9 2.6-0.9 2.6 0 2.6 1 2.6-1.1 2.6-1.2 2.6 0.7 2.6 0.6 2.6 0.7 2.6 1.2 2.6 0.2 2.6-1.1 2.6-1.6 2.6 0.6 2.6 1 2.6-0.3 2.6 0.7 2.6 0.6 2.6 0 2.6 1.1 2.6 0 2.6-0.8 2.6 0.5 2.6 0.3 2.6 0.2 2.6-0.3 2.6-0.4 2.6 1.2 2.6 0.9 2.6-1.2 2.6-0.6 2.6 0.4 2.6-0.9 2.6-0.6 2.6 0.6 2.6 0.6 2.6 0.1 2.6-1 2.6-1.9 2.6-1.3 2.6 0.8 2.6 0.7 2.6 0.3 2.6 0.7 2.6-0.2 2.6 0.5 2.6-0.2 2.6-1.3 2.6-0.8 2.6 0.5 2.6 1.1 2.6-0.1 2.6-0.5 2.6 0.7 2.6-0.2 2.6-2 2.6-0.4 2.6 1.4 2.6 0.3 2.6-1.8 2.6-2.1 2.6 0.1 2.6 0.1 2.6-1 2.6-0.5 2.6-0.7 2.6-1 2.6-0.6 2.6 0.1 2.6 0.5 2.6-0.6 2.6-1.1 2.6-0.8 2.6-0.5 2.6-0.2 2.6-1.4 2.6-1.4 2.6 0.3 2.6-0.3 2.6-2.5 2.6-1.5 2.6-0.1 2.6-0.2 2.6-0.4 2.6-1.8 2.6-2.4 2.6-1.1 2.6 0.1 2.6 0.4 2.6-0.4 2.6-2.5 2.6-2.5 2.6-2.3 2.6-1.5 2.6-0.3 2.6 0.2 2.6-0.6 2.6-2.4 2.6-2.3 2.6-1.2 2.6-0.7 2.6-1.3 2.6-1.1 2.6-0.4 2.6-1.8 2.6-1.6 2.6 0.5 2.6-0.9 2.6-2.8 2.6-2.3 2.6-1.9 2.6-1.1 2.6-0.7 2.6-2.4 2.6-2.4 2.6-0.5 2.6-0.5 2.6-2 2.6-4.1 2.6-2.3 2.6 0 2.6-2.6 2.6-2.5 2.6-0.6 2.6-1 2.6-1.7 2.6-2.6 2.6-3.7 2.6-3.1 2.6-2.5 2.6-2.6 2.6-1.4 2.6-2.1 2.6-4.8 2.6-2.9 2.6-1.9 2.6-4 2.6-2.8 2.6-3 2.6-2.6 2.6 0.4 2.6-3.3 2.6-6.5 2.6-3.6 2.6-4 2.6-6.1 2.6-3.4 2.6-1.9 2.6-5.2 2.6-7.8 2.6-4.7 2.6-2.3 2.6-5.5 2.6-5.3 2.6-4.6 2.6-6.3 2.6-6.1 2.6-8.4 2.6-9.7 2.6-7.1 2.6-6.7 2.6-7.1 2.6-7.5 2.6-6.9 2.6-5.7 2.6-8.4 2.6-9.3 2.6-6.8 2.6-8.5 2.6-11.1 2.6-8 2.6-4.3 2.6-6.4 2.6-8.9 2.6-6.5 2.6-5.3 2.6-6.8 2.6-5.5 2.6-5.7 2.6-6.5 2.6-1.8 2.6 0.5 2.6-2.3 2.6-1.8 2.6 4.2 2.6 5.8 2.6 2.7 2.6 3.6 2.6 4.9 2.6 4 2.6 5 2.6 6.8 2.6 6.2 2.6 6.7 2.6 7.7 2.6 5.6 2.6 6.1 2.6 9.2 2.6 7.6 2.6 5 2.6 7.9 2.6 6.3 2.6 3.9 2.6 6.2 2.6 7.2 2.6 6 2.6 2.7 2.6 1.4 2.6 3.2 2.6 4 2.6 2.6 2.6 2.6 2.6 3.5 2.6 0.7 2.6-0.5 2.6 1.5 2.6 0.5 2.6-0.6 2.6 0.3 2.6 0.9 2.6-0.6 2.6-1.1 2.6-0.5 2.6-0.9 2.6-0.9 2.6-1.7 2.6-2.8 2.6-3 2.6-0.9 2.6-0.7 2.6-3.5 2.6-3.4 2.6-3.8 2.6-5.5 2.6-4.3 2.6-2.9 2.6-2.6 2.6-5.4 2.6-6.1 2.6-4.9 2.6-7.5 2.6-8.3 2.6-7.9 2.6-9.2 2.6-10.3 2.6-11.8 2.6-11.5 2.6-14.7 2.6-17.3 2.6-12.1 2.6-12.8 2.6-16.1 2.6-8.5 2.6-4.9 2.6-9.4 2.6-4.6 2.6 3.8 2.6 9.6 2.6 15.8 2.6 19.8 2.6 21.7 2.6 20.4 2.6 20.5 2.6 23.8 2.6 25.4 2.6 23.5 2.6 19.8 2.6 17.2 2.6 16 2.6 15.7 2.6 14.9 2.6 12.3 2.6 11.2 2.6 12.2 2.6 8.7 2.6 6.8 2.6 10.3 2.6 9.5 2.6 5.5 2.6 5.1 2.6 7.4 2.6 7.3 2.6 5.3 2.6 3.6 2.6 2 2.6 3.8 2.6 4.5 2.6 2.4 2.6 3.5 2.6 3.1 2.6 1.5 2.6 3.7 2.6 3.1 2.6-0.5 2.6 0.4 2.6 2.4 2.6 3.3 2.6 2.6 2.6-0.1 2.6 0.1 2.6 1.5 2.6 2.3 2.6 2.3 2.6 0.6 2.6 1.5 2.6 3.6 2.6 1.9 2.6-0.3 2.6-0.5 2.6 0.4 2.6 1.3 2.6 1 2.6 0.6 2.6 0.3 2.6 0.2 2.6 0.8 2.6 1.1 2.6 1 2.6 0.5 2.6 0.4 0.8 0.6" stroke="#8b3a3a" stroke-width="3.6"/>
<path d="M415.8 1027.3l2.6 0.7 2.6 1.1 2.6 0.8 2.6-0.1 2.6-0.6 2.6 0.3 2.6 1 2.6 0.4 2.6-0.9 2.6-0.9 2.6-0.7 2.6-0.1 2.6 2.1 2.6 1.6 2.6 0 2.6 0.5 2.6-0.8 2.6-2.3 2.6 0 2.6 1.5 2.6 0.4 2.6 0.4 2.6 0.3 2.6-0.9 2.6-1.3 2.6-0.3 2.6 0.9 2.6 0.3 2.6-0.2 2.6 0.3 2.6 0.3 2.6 0 2.6 0.5 2.6 0.7 2.6-0.7 2.6-0.8 2.6-0.8 2.6-0.7 2.6 2 2.6 2.7 2.6 0.4 2.6-0.3 2.6-1.2 2.6-0.8 2.6 1.5 2.6 0.2 2.6-1.1 2.6-1.1 2.6-0.9 2.6 0.3 2.6-0.2 2.6-0.1 2.6 1.5 2.6 1.1 2.6 0.2 2.6-1 2.6-1.5 2.6 0 2.6 1.6 2.6 1.5 2.6 0.8 2.6-0.1 2.6-1.7 2.6-0.1 2.6 3.1 2.6-0.1 2.6-2.1 2.6 0.4 2.6 0.4 2.6-0.4 2.6-1.1 2.6-0.7 2.6 0.4 2.6 0.1 2.6 0.2 2.6-0.7 2.6-1.1 2.6 1.1 2.6 2.2 2.6 0.8 2.6-0.4 2.6-0.4 2.6 0.1 2.6-0.1 2.6-0.5 2.6-0.2 2.6 0.3 2.6-0.1 2.6 0.5 2.6 0.2 2.6-1.2 2.6-0.2 2.6 0.5 2.6-0.4 2.6-0.3 2.6 0.4 2.6 0.9 2.6 1.4 2.6 0.8 2.6-0.8 2.6-0.4 2.6-1 2.6-0.6 2.6 2 2.6-0.3 2.6-1.9 2.6-0.5 2.6 1.2 2.6 2.2 2.6 0.2 2.6-1.3 2.6-0.8 2.6-0.8 2.6 0.6 2.6 0.6 2.6 0.2 2.6 0.4 2.6 0.4 2.6 0.3 2.6 0 2.6-0.2 2.6 0.4 2.6 1.3 2.6 0 2.6-1.7 2.6-0.2 2.6 1 2.6 0.3 2.6-1 2.6-0.9 2.6 0.5 2.6-0.2 2.6 0.3 2.6 0.4 2.6 0.1 2.6-0.1 2.6-1.2 2.6 0.1 2.6 1.5 2.6-0.3 2.6-2.3 2.6-0.2 2.6 1.9 2.6 0.8 2.6-0.3 2.6-0.6 2.6 0.1 2.6 1.2 2.6 0.5 2.6-0.7 2.6-1.9 2.6-0.5 2.6 1.4 2.6-0.1 2.6-0.2 2.6 1.6 2.6 0.6 2.6-1.3 2.6 0 2.6 0.3 2.6-0.6 2.6 1.4 2.6 1.7 2.6-0.8 2.6-1.5 2.6-0.6 2.6 1.1 2.6 0.9 2.6-0.3 2.6 0.8 2.6 1.1 2.6-0.3 2.6-1 2.6-1.9 2.6 0.1 2.6 3 2.6 1.6 2.6-0.1 2.6-0.1 2.6-0.3 2.6-1.1 2.6 0 2.6 2 2.6 1.7 2.6-0.9 2.6-2.7 2.6-0.1 2.6 2.8 2.6 0.8 2.6-2.1 2.6-1.6 2.6 0.1 2.6 0.7 2.6 0.2 2.6 0.6 2.6-0.1 2.6-0.9 2.6 1.3 2.6 1.7 2.6 0.5 2.6 0 2.6-1.4 2.6-0.7 2.6 0.7 2.6-1.6 2.6-1.3 2.6 1.9 2.6 2.2 2.6 0.2 2.6-0.2 2.6 0.6 2.6-0.1 2.6-1.1 2.6-1 2.6 0 2.6-0.2 2.6-1.8 2.6-0.8 2.6 1.2 2.6 0.3 2.6-0.7 2.6-0.4 2.6-0.9 2.6 0.4 2.6 1.9 2.6-0.9 2.6-2.3 2.6 0 2.6 1.1 2.6-0.1 2.6 0 2.6 0.4 2.6-0.3 2.6-0.3 2.6-0.8 2.6-0.7 2.6-0.3 2.6-1.1 2.6-1 2.6-0.9 2.6-1.2 2.6-0.6 2.6-0.2 2.6 0.1 2.6-0.2 2.6-0.2 2.6 0.2 2.6-1.1 2.6-1.7 2.6-0.6 2.6-0.1 2.6-0.8 2.6-1.5 2.6-0.6 2.6-0.6 2.6-1.4 2.6-1 2.6 0.3 2.6 0.8 2.6-0.5 2.6-1.7 2.6-1.7 2.6-2.8 2.6-0.9 2.6 1.8 2.6-0.9 2.6-3.7 2.6-2.4 2.6-0.6 2.6-0.7 2.6-1.4 2.6-1.9 2.6-1.8 2.6 0.3 2.6 0.9 2.6-1.4 2.6-1.8 2.6-0.9 2.6-1.2 2.6-1.2 2.6-1.8 2.6-2.2 2.6-0.6 2.6-0.2 2.6-1.9 2.6-3.7 2.6-3.2 2.6-1.3 2.6-1.3 2.6 0.2 2.6 0.5 2.6-2.4 2.6-1.4 2.6-0.7 2.6-3.4 2.6-3.4 2.6-0.2 2.6-2.1 2.6-4.3 2.6-1.1 2.6 0 2.6-2.4 2.6-2.9 2.6-3 2.6-2.8 2.6-1.6 2.6-3.1 2.6-2.9 2.6-0.7 2.6-3 2.6-3.8 2.6-1.7 2.6-2.4 2.6-3.6 2.6-4.3 2.6-4.2 2.6-5.1 2.6-4.3 2.6-2.5 2.6-3.3 2.6-4.7 2.6-3.7 2.6-4.3 2.6-6.3 2.6-5.8 2.6-3.9 2.6-4.4 2.6-8.1 2.6-8 2.6-3.5 2.6-3.4 2.6-7.1 2.6-7.8 2.6-7 2.6-7.3 2.6-7.5 2.6-7.2 2.6-7.4 2.6-7.6 2.6-9.3 2.6-8.9 2.6-7.5 2.6-7.5 2.6-6.9 2.6-7.6 2.6-9.6 2.6-8.4 2.6-6.6 2.6-6.1 2.6-4.3 2.6-6.4 2.6-7.6 2.6-3.2 2.6 0.1 2.6-2.4 2.6-3.2 2.6-0.3 2.6 0 2.6 1.1 2.6 0.1 2.6-0.8 2.6 3.7 2.6 8.4 2.6 8.2 2.6 5 2.6 5.3 2.6 5.9 2.6 7.2 2.6 9.4 2.6 6.5 2.6 6.7 2.6 6.8 2.6 6.3 2.6 8.8 2.6 7.1 2.6 7.2 2.6 9 2.6 6.1 2.6 2.9 2.6 2 2.6 3.5 2.6 5 2.6 6.5 2.6 5.5 2.6 1.9 2.6 0.7 2.6 0.2 2.6-0.2 2.6 1.2 2.6 2.6 2.6 3 2.6 2.2 2.6 0.7 2.6-0.6 2.6-1.1 2.6 0 2.6-0.5 2.6-1.3 2.6-2.2 2.6-2.6 2.6-1.6 2.6-1.7 2.6-2.8 2.6-3.6 2.6-2.7 2.6-4.8 2.6-2.7 2.6 1.5 2.6-3.1 2.6-7.5 2.6-6 2.6-4.3 2.6-4.9 2.6-6.3 2.6-6.8 2.6-7.7 2.6-7.7 2.6-6.2 2.6-12.6 2.6-17.9 2.6-12.7 2.6-13.6 2.6-18.4 2.6-16.1 2.6-12.6 2.6-11.9 2.6-12.2 2.6-7.5 2.6-2.7 2.6-1.6 2.6 2.7 2.6 7.8 2.6 14.9 2.6 21.6 2.6 21.7 2.6 20.6 2.6 22.6 2.6 24.2 2.6 22.3 2.6 20.2 2.6 19.4 2.6 18.5 2.6 18.9 2.6 18.7 2.6 14.6 2.6 11.1 2.6 11.8 2.6 11.7 2.6 10.6 2.6 9.8 2.6 8.8 2.6 8 2.6 5.7 2.6 3.9 2.6 3.5 2.6 5.5 2.6 6 2.6 3.9 2.6 3.9 2.6 4.6 2.6 3.5 2.6 1.3 2.6 1.1 2.6 4.7 2.6 4.3 2.6-0.7 2.6 0.5 2.6 2.3 2.6 0.7 2.6 2.4 2.6 3 2.6 2.2 2.6 2.3 2.6 1.9 2.6 1.9 2.6 0.3 2.6-0.7 2.6 0.7 2.6 0.4 2.6 0.5 2.6 1.4 2.6 0.4 2.6 0.6 2.6 0.8 2.6 0.1 2.6 0.8 2.6 1.7 2.6 1 2.6-0.5 2.6-1.5 2.6-1.5 2.6 0.2 2.6 1 2.6 0.7 0.8 0.7" stroke="#cc44aa" stroke-width="3.6"/>
<path d="M415.8 1028.7l2.6 0.4 2.6 0.6 2.6 0.5 2.6-0.8 2.6-0.5 2.6 1.7 2.6 0.8 2.6-0.8 2.6-1.6 2.6-0.5 2.6 3.1 2.6 2 2.6-2.2 2.6-0.5 2.6 1.8 2.6-0.3 2.6 0.3 2.6 0.8 2.6-1.8 2.6-1.1 2.6 1.1 2.6 1.4 2.6 0.3 2.6-0.7 2.6-0.3 2.6-0.3 2.6-1.1 2.6 1.3 2.6 1.3 2.6-1.8 2.6 0 2.6 1.3 2.6 0.8 2.6 0.7 2.6 0.4 2.6 1 2.6-1.2 2.6-3 2.6-0.2 2.6 2.1 2.6 0.6 2.6-1.1 2.6 0 2.6 0.2 2.6 0.4 2.6 0.6 2.6 0.6 2.6 0.3 2.6-0.5 2.6 0.9 2.6 0.7 2.6-1.1 2.6-1.3 2.6-0.5 2.6 0.4 2.6 0.2 2.6 0.3 2.6 1.7 2.6 2.4 2.6 1.5 2.6-0.9 2.6-2.1 2.6-1 2.6-0.1 2.6-0.1 2.6 0.8 2.6 1.3 2.6 1.2 2.6-0.8 2.6-2.8 2.6-0.1 2.6 2 2.6-0.3 2.6-1.9 2.6-0.4 2.6 1.2 2.6-0.2 2.6-0.1 2.6 1.8 2.6-0.3 2.6-1.3 2.6-1.8 2.6-3 2.6-1.5 2.6-0.5 2.6-2.6 2.6-4.5 2.6-1.3 2.6 3.6 2.6 4.7 2.6 3.6 2.6 0.9 2.6-0.1 2.6 0.8 2.6 1 2.6 1.4 2.6 1.7 2.6 0.2 2.6-1.1 2.6 0.8 2.6 1.3 2.6-0.7 2.6-0.7 2.6 0.4 2.6 1.2 2.6 0.6 2.6-1.1 2.6-0.8 2.6 1.4 2.6 1.3 2.6 0.3 2.6 0.5 2.6-0.3 2.6-0.7 2.6-0.5 2.6-0.1 2.6-1 2.6-0.4 2.6 2.4 2.6 1.3 2.6-0.6 2.6-0.1 2.6 0.6 2.6 0.1 2.6-0.4 2.6 1.1 2.6 1.7 2.6-1 2.6-1.9 2.6-0.1 2.6 1.5 2.6 0.3 2.6-0.9 2.6 0.5 2.6 0.1 2.6-0.7 2.6 0 2.6 1.3 2.6 0.5 2.6-0.7 2.6 0.5 2.6-0.4 2.6-1.8 2.6 0.9 2.6 2.4 2.6 0.3 2.6-0.1 2.6 1 2.6 0.2 2.6-2 2.6-1 2.6 1 2.6 0.7 2.6-0.4 2.6 0.3 2.6 1.2 2.6 0.4 2.6-0.6 2.6-0.8 2.6 0.8 2.6 1.5 2.6-0.9 2.6-1.2 2.6 1.2 2.6 0.8 2.6-0.6 2.6-0.6 2.6 0.7 2.6 1.6 2.6 0.6 2.6-0.9 2.6-1.3 2.6 0.8 2.6 0.8 2.6-0.8 2.6 0.9 2.6 1.3 2.6-0.2 2.6 0.3 2.6 0.5 2.6 0 2.6-0.2 2.6 0.9 2.6 0.5 2.6-1 2.6-0.7 2.6-0.7 2.6-0.1 2.6 0.6 2.6 0 2.6 0 2.6 1.5 2.6 1 2.6 0.6 2.6 1.3 2.6-1 2.6-1.3 2.6-0.4 2.6-1 2.6 0.1 2.6 1.2 2.6 0.1 2.6-0.3 2.6 1 2.6 0 2.6-1.1 2.6-1.1 2.6-0.3 2.6 2.4 2.6 1.4 2.6-1.9 2.6-1.2 2.6 0.2 2.6-1.2 2.6 0.1 2.6 2.1 2.6 1.3 2.6-0.3 2.6-1.6 2.6-1.1 2.6 0.8 2.6 1.4 2.6 0.6 2.6 0.3 2.6 0.2 2.6-0.3 2.6-0.8 2.6-1.8 2.6-1.7 2.6-0.4 2.6 0.5 2.6 0.3 2.6-1 2.6-0.8 2.6 0 2.6-0.1 2.6-0.2 2.6-0.3 2.6-0.4 2.6-0.7 2.6-0.8 2.6 0 2.6-0.3 2.6-1.2 2.6-2.3 2.6-0.6 2.6 1.2 2.6 0.1 2.6-0.7 2.6-1.7 2.6-2.8 2.6-1.3 2.6 0.8 2.6-0.6 2.6-0.7 2.6-1.1 2.6-1.8 2.6-0.8 2.6-0.3 2.6-0.4 2.6-0.9 2.6-1.7 2.6-0.8 2.6 0.7 2.6-0.3 2.6-0.9 2.6-1 2.6-2.4 2.6-3.7 2.6-2.8 2.6 0.4 2.6 1.3 2.6-0.5 2.6-1.5 2.6-2.7 2.6-2.6 2.6-1.1 2.6-0.7 2.6 0.6 2.6 1.2 2.6-1.4 2.6-3.8 2.6-3.5 2.6-1.7 2.6-0.4 2.6-1.2 2.6-2.4 2.6-1.9 2.6-0.3 2.6-1 2.6-3.2 2.6-2.2 2.6-0.4 2.6-0.6 2.6-1.4 2.6-0.5 2.6-1.6 2.6-3.7 2.6-3.4 2.6-3.6 2.6-2.9 2.6-2.1 2.6-2.2 2.6-1.4 2.6-1.4 2.6-1.7 2.6-2.8 2.6-3 2.6-3.1 2.6-2.4 2.6-1.7 2.6-3.4 2.6-3.8 2.6-4.1 2.6-3.8 2.6-2.8 2.6-2.8 2.6-3.9 2.6-4.9 2.6-4.4 2.6-3.8 2.6-4.7 2.6-5.6 2.6-5 2.6-5.4 2.6-5.3 2.6-5.4 2.6-6.1 2.6-6.3 2.6-6.8 2.6-7.4 2.6-6.8 2.6-7.3 2.6-7 2.6-6.2 2.6-8 2.6-6.3 2.6-6.2 2.6-9.5 2.6-10.3 2.6-9.1 2.6-6.9 2.6-7.7 2.6-7.4 2.6-6.7 2.6-9 2.6-9.2 2.6-10.4 2.6-8 2.6-2.3 2.6-3 2.6-6.7 2.6-6.3 2.6-3.5 2.6-0.3 2.6 0 2.6-1 2.6-1.6 2.6-0.5 2.6 4.2 2.6 4.7 2.6 3.9 2.6 5.6 2.6 4.8 2.6 5.1 2.6 6.7 2.6 5.5 2.6 5.2 2.6 9.1 2.6 10.5 2.6 6.6 2.6 6.1 2.6 8.2 2.6 7.4 2.6 6.3 2.6 6.6 2.6 7.3 2.6 7.2 2.6 6 2.6 5.1 2.6 4.1 2.6 3 2.6 5 2.6 4.6 2.6 2.7 2.6 3.3 2.6 3.1 2.6 2.6 2.6 3 2.6 1.9 2.6-0.5 2.6-0.8 2.6 1.3 2.6 1 2.6-1.2 2.6-3 2.6-1.4 2.6 1.1 2.6-1 2.6-1.7 2.6-1.4 2.6-1.5 2.6-1.6 2.6-3.7 2.6-2.3 2.6-2.5 2.6-5.4 2.6-4.4 2.6-1.7 2.6-1.2 2.6-4.1 2.6-6.3 2.6-7.6 2.6-5.7 2.6-4 2.6-8.1 2.6-10.9 2.6-10.6 2.6-9.1 2.6-9.9 2.6-13.1 2.6-13.6 2.6-15.1 2.6-16.2 2.6-15.2 2.6-12.8 2.6-12.6 2.6-13.3 2.6-5.9 2.6 3.9 2.6 10.1 2.6 12.1 2.6 11.9 2.6 13.3 2.6 16.5 2.6 23.4 2.6 25.5 2.6 21.6 2.6 21.9 2.6 22.2 2.6 19.8 2.6 19.8 2.6 19.5 2.6 16.3 2.6 12.6 2.6 12.4 2.6 14.4 2.6 11.2 2.6 9.3 2.6 8.7 2.6 6 2.6 6.7 2.6 6 2.6 6 2.6 8.5 2.6 4.6 2.6 2.1 2.6 5.1 2.6 4.8 2.6 2.6 2.6 2 2.6 2.9 2.6 4.1 2.6 3.4 2.6 2 2.6 1.1 2.6 1.3 2.6 1.6 2.6 1.9 2.6 2.7 2.6 0.7 2.6-0.5 2.6 1.6 2.6 2.9 2.6 2.6 2.6 1.1 2.6 0 2.6 0.3 2.6 1.7 2.6 1.8 2.6-0.1 2.6-1.2 2.6 0.8 2.6 2 2.6 1.2 2.6 0.7 2.6-2.1 2.6-2.6 2.6 2 2.6 2.6 2.6 1 2.6 1.3 2.6 0.3 2.6-1.2 0.8-0.7" stroke="#ff5500" stroke-width="3.6"/>
<path d="M415.8 1015.2l2.6 1.5 2.6-0.9 2.6-0.1 2.6 1.7 2.6 0.3 2.6 0 2.6-1.4 2.6-1.3 2.6 1.1 2.6 1.1 2.6 0.4 2.6-0.8 2.6-0.6 2.6 1 2.6 0.5 2.6-0.7 2.6 0.7 2.6 1.6 2.6 0 2.6-0.6 2.6-1 2.6-0.7 2.6 0.1 2.6 0.7 2.6 1.7 2.6 1 2.6-0.2 2.6-0.6 2.6-0.4 2.6 1 2.6 0.7 2.6-0.3 2.6-0.7 2.6-0.3 2.6-0.3 2.6-0.4 2.6 1.5 2.6 1.9 2.6 0.1 2.6-0.7 2.6-2 2.6-0.9 2.6 1.2 2.6 1.4 2.6 2.2 2.6 1.1 2.6-1.4 2.6-0.4 2.6 0.4 2.6-1 2.6-1.1 2.6-0.8 2.6-0.6 2.6 1 2.6 1.5 2.6 0 2.6 0.2 2.6 0.3 2.6-1.2 2.6-0.1 2.6 1.7 2.6-1.2 2.6-2.7 2.6 0.8 2.6 1.1 2.6-0.4 2.6 0.9 2.6 1.1 2.6 0.9 2.6 0.6 2.6 0.5 2.6 0.6 2.6-0.9 2.6 0.1 2.6 0.4 2.6-0.8 2.6 0.4 2.6 0.2 2.6 0.2 2.6 0.5 2.6-0.9 2.6-1.9 2.6-0.4 2.6 0.6 2.6 0.8 2.6 1 2.6 0.9 2.6 0.3 2.6-0.3 2.6 0.3 2.6 1.3 2.6 0.9 2.6-0.8 2.6-0.9 2.6 0.4 2.6 0 2.6 0.6 2.6 1.2 2.6 0.4 2.6-0.4 2.6-0.5 2.6-0.9 2.6-0.2 2.6 2.2 2.6 0.8 2.6-1.7 2.6-0.3 2.6-1 2.6-2.3 2.6 0.3 2.6 1.3 2.6 0.6 2.6 0.3 2.6 0.5 2.6 1.3 2.6 0.9 2.6-1.2 2.6-2.1 2.6 0.2 2.6 1.4 2.6 0 2.6-0.1 2.6 0.2 2.6 0.3 2.6 0 2.6 0.6 2.6 0.7 2.6-0.2 2.6 0.2 2.6 1.1 2.6-0.3 2.6-1.6 2.6 1.4 2.6 2.9 2.6 1.5 2.6-0.2 2.6-2.9 2.6-1.5 2.6 1.4 2.6 1.1 2.6-0.5 2.6-1.8 2.6-0.6 2.6 0 2.6-1.1 2.6-0.4 2.6 1.4 2.6 2.4 2.6 1.5 2.6 0.6 2.6-1.1 2.6-2.1 2.6 0.2 2.6 0.8 2.6-1.1 2.6-0.4 2.6 1 2.6 0.2 2.6 0.4 2.6 2 2.6 0.8 2.6-1 2.6 0.3 2.6 0.5 2.6-0.6 2.6-0.5 2.6 0.1 2.6 1.1 2.6 0.3 2.6-0.2 2.6 0.1 2.6 0.2 2.6 0.1 2.6 0.2 2.6 1.8 2.6 1.3 2.6-1.4 2.6-0.9 2.6 1.4 2.6 1.1 2.6-0.2 2.6-0.3 2.6 0.1 2.6 1 2.6 0.4 2.6-1.5 2.6 0.2 2.6 1.1 2.6-0.8 2.6-0.5 2.6 1 2.6 0.9 2.6-0.5 2.6 1.5 2.6 1.7 2.6-1 2.6 0.2 2.6 1 2.6 0.6 2.6 0.3 2.6-1.1 2.6-0.3 2.6-0.2 2.6-0.8 2.6 1 2.6 1.7 2.6 0.3 2.6-1.2 2.6-0.7 2.6 1.4 2.6 0.4 2.6-1.2 2.6 0 2.6-0.5 2.6-0.4 2.6 1.5 2.6 1.3 2.6 0.5 2.6-1 2.6-1.9 2.6 0.2 2.6 1 2.6-1 2.6-0.6 2.6-0.5 2.6-1 2.6 1.4 2.6 1.3 2.6 0.1 2.6-0.2 2.6-2.3 2.6-0.6 2.6 0.9 2.6-0.6 2.6-1.4 2.6-0.4 2.6 1.8 2.6 2 2.6-0.2 2.6-1.1 2.6-0.8 2.6-1.5 2.6-1.3 2.6 0.3 2.6-0.7 2.6-1.7 2.6-0.5 2.6-0.7 2.6-0.5 2.6 1.1 2.6-1.6 2.6-3.1 2.6 0.7 2.6 1.1 2.6-1 2.6-0.6 2.6-0.4 2.6-1.6 2.6-1.7 2.6-1.4 2.6-0.3 2.6 1.1 2.6-1.3 2.6-2.8 2.6-1.8 2.6-1.6 2.6-0.1 2.6 0.2 2.6-1.4 2.6-1.2 2.6-2.2 2.6-3.3 2.6-1.5 2.6 0.3 2.6-0.7 2.6-1.5 2.6 0.2 2.6 0.9 2.6-2.2 2.6-3.4 2.6-1.2 2.6-1.1 2.6-2.6 2.6-2.1 2.6-0.3 2.6-0.5 2.6-1.5 2.6-2.7 2.6-3.2 2.6-1.5 2.6 0.7 2.6-0.2 2.6-2.6 2.6-3.5 2.6-2 2.6-1.6 2.6-2.1 2.6-1.6 2.6-0.9 2.6-0.9 2.6-2.5 2.6-3.4 2.6-2.5 2.6-1.5 2.6-2.9 2.6-3.4 2.6-1.7 2.6-2 2.6-2.1 2.6-1.3 2.6-2.2 2.6-3.5 2.6-4.3 2.6-3.7 2.6-2.2 2.6-3.7 2.6-4.8 2.6-3.6 2.6-4.2 2.6-3.1 2.6-1.8 2.6-3.8 2.6-5.9 2.6-6.2 2.6-4.6 2.6-5.5 2.6-5.7 2.6-3.6 2.6-4.8 2.6-5.9 2.6-6.2 2.6-7.4 2.6-6.8 2.6-5.8 2.6-5 2.6-5.6 2.6-6.6 2.6-6.1 2.6-6.8 2.6-9.8 2.6-9 2.6-6.2 2.6-6.4 2.6-8 2.6-8 2.6-8.6 2.6-7.2 2.6-4.3 2.6-6.2 2.6-6.7 2.6-4.1 2.6-2.8 2.6-2.6 2.6-4.3 2.6-5.7 2.6-2.1 2.6 1.2 2.6-0.1 2.6-0.6 2.6 1.4 2.6 3.2 2.6 3 2.6 4.6 2.6 6.5 2.6 6 2.6 7.5 2.6 6.4 2.6 4.7 2.6 4.6 2.6 3 2.6 4.8 2.6 7.7 2.6 7 2.6 5.9 2.6 5.5 2.6 4.8 2.6 5.2 2.6 6.2 2.6 5.5 2.6 3.1 2.6 2.6 2.6 3 2.6 2.5 2.6 2.7 2.6 3.2 2.6 4.2 2.6 1.9 2.6-0.7 2.6 0.6 2.6-0.1 2.6-0.9 2.6 1.1 2.6 1.5 2.6-1.1 2.6-2.7 2.6-1.2 2.6 1.5 2.6 0.4 2.6-2.5 2.6-2.6 2.6-3.1 2.6-2.3 2.6-1 2.6-3.2 2.6-3.9 2.6-1.9 2.6-1.4 2.6-2.2 2.6-3.2 2.6-5.1 2.6-6.7 2.6-4.2 2.6-3.6 2.6-5.8 2.6-4.1 2.6-6.8 2.6-13.9 2.6-10.8 2.6-6.6 2.6-11.2 2.6-14.2 2.6-12.7 2.6-12.9 2.6-14.7 2.6-14.4 2.6-13.3 2.6-11.8 2.6-7.5 2.6-3.8 2.6 0.7 2.6 4.3 2.6 8.2 2.6 15.3 2.6 16.8 2.6 17.5 2.6 21.1 2.6 21.6 2.6 22.6 2.6 23.7 2.6 20.5 2.6 18.7 2.6 18.8 2.6 15.9 2.6 14.2 2.6 15.3 2.6 13.6 2.6 11.2 2.6 10.2 2.6 9.4 2.6 8.7 2.6 7.7 2.6 7.1 2.6 5.9 2.6 6.3 2.6 6.2 2.6 4.8 2.6 5.1 2.6 4.6 2.6 4.3 2.6 5.4 2.6 3.5 2.6 1.5 2.6 3.7 2.6 3 2.6 1.2 2.6 1.5 2.6 1 2.6 1.9 2.6 3.3 2.6 2.6 2.6 2.6 2.6 2.7 2.6 1.2 2.6 1 2.6 1.7 2.6 1.8 2.6 1.5 2.6-0.5 2.6 0.9 2.6 2.8 2.6 0.2 2.6-0.5 2.6 2.2 2.6 2.9 2.6 0.7 2.6-1.4 2.6 0.5 2.6 2.7 2.6 1.5 2.6 0.8 2.6 0.4 2.6 0.1 2.6 1.1 2.6 0.2 0.8-1.2" stroke="#22d0d0" stroke-width="3.6"/>
<path d="M415.8 1040.2l2.6-0.5 2.6-0.7 2.6 0.6 2.6 0.2 2.6 0 2.6 0.5 2.6-0.8 2.6-1 2.6 0.7 2.6 0.9 2.6 1.1 2.6 0.9 2.6-0.9 2.6-1.4 2.6-0.4 2.6 0.7 2.6 1.1 2.6 0.3 2.6-0.6 2.6-1 2.6-0.5 2.6 0.9 2.6 0.9 2.6 0.1 2.6 0.1 2.6 0.9 2.6 1.5 2.6 0.2 2.6-1.4 2.6-1.5 2.6-0.4 2.6-0.4 2.6 0 2.6 0.6 2.6-0.6 2.6 0.2 2.6 0.4 2.6-0.2 2.6 1.7 2.6 0.7 2.6-1.3 2.6-0.7 2.6 1.2 2.6 1.3 2.6-0.9 2.6-2.3 2.6-2 2.6 0.5 2.6 2.3 2.6 1.1 2.6 0 2.6 0.1 2.6-0.6 2.6-0.4 2.6 0.4 2.6 0 2.6 0.4 2.6-0.5 2.6-1.4 2.6 0.4 2.6 1.5 2.6 0.5 2.6-0.9 2.6-0.9 2.6-0.8 2.6-0.2 2.6 1.5 2.6 0.5 2.6-1.8 2.6-0.5 2.6 0.5 2.6 1.1 2.6 1.9 2.6 0.4 2.6-1.2 2.6-0.4 2.6 1 2.6-0.5 2.6-1.7 2.6 0.4 2.6 0.4 2.6-0.1 2.6 1.1 2.6 0.2 2.6-0.6 2.6 0 2.6 0.7 2.6 0.4 2.6 0.1 2.6 0 2.6-0.6 2.6-0.6 2.6-0.2 2.6 0.9 2.6 0.3 2.6-1.3 2.6 0.3 2.6 1.7 2.6-0.7 2.6-0.6 2.6 1.5 2.6-0.3 2.6-1 2.6 0.6 2.6-0.6 2.6-1.1 2.6 1.4 2.6 1.9 2.6 0.7 2.6-0.4 2.6-1.8 2.6-2.6 2.6 0.3 2.6 1.1 2.6-1.4 2.6 0.1 2.6 1 2.6-0.3 2.6 0.5 2.6 1.7 2.6 1.1 2.6-0.8 2.6-1.1 2.6 0.1 2.6-0.3 2.6-0.5 2.6 0.2 2.6-0.2 2.6 0.1 2.6 0.6 2.6 0.4 2.6-0.1 2.6 0.6 2.6 0.5 2.6-1.2 2.6-1.2 2.6-0.6 2.6 0.7 2.6 1.4 2.6 1.1 2.6 0.9 2.6-1.5 2.6-3.1 2.6-1 2.6 0.8 2.6 0.7 2.6 0 2.6 1 2.6 1.7 2.6-0.7 2.6-2.4 2.6-0.5 2.6 1.3 2.6 1 2.6 0.5 2.6 0.4 2.6 1 2.6 0.3 2.6-1.1 2.6-0.5 2.6-0.7 2.6-1.3 2.6 0.9 2.6 1.3 2.6 0.5 2.6 0.3 2.6-0.9 2.6-0.1 2.6 0.6 2.6-0.8 2.6-0.1 2.6 1.8 2.6 0.2 2.6-1.6 2.6 0 2.6 0.8 2.6 1.1 2.6 0.7 2.6 0.1 2.6-0.1 2.6 0.6 2.6-0.1 2.6-1.1 2.6 1.4 2.6 2.2 2.6-0.1 2.6 0.1 2.6 0.5 2.6-0.3 2.6-0.4 2.6 0 2.6 1.2 2.6 1 2.6-1.3 2.6-0.7 2.6 0.7 2.6-0.6 2.6-0.2 2.6 0.7 2.6 0.4 2.6 0.6 2.6 0.6 2.6-0.2 2.6-1.4 2.6-0.5 2.6 0.7 2.6 0.9 2.6 1.7 2.6 0.5 2.6-1.7 2.6-1.3 2.6 0.2 2.6 1.2 2.6 1 2.6-0.9 2.6-1.2 2.6 1.6 2.6 1.4 2.6-1.8 2.6-2.3 2.6-0.4 2.6 1.5 2.6 1.6 2.6-1.1 2.6-1 2.6 0.2 2.6-0.1 2.6-0.2 2.6-0.6 2.6-0.4 2.6-0.9 2.6-1.7 2.6 0.5 2.6 1.3 2.6 0.3 2.6-0.5 2.6 0.2 2.6 0.9 2.6-0.7 2.6-1.9 2.6 0.2 2.6 1.9 2.6-0.6 2.6-2.7 2.6-2 2.6-0.5 2.6-0.1 2.6-1.1 2.6-0.5 2.6-0.3 2.6-1.5 2.6-1.9 2.6-1.1 2.6-0.1 2.6 0.3 2.6 0 2.6-0.5 2.6-1.2 2.6-1.3 2.6-1.5 2.6-1.9 2.6-1.4 2.6-0.9 2.6-1 2.6-1.1 2.6-1 2.6-1.2 2.6-1.1 2.6-0.7 2.6 0.3 2.6 0.6 2.6-2.1 2.6-3.7 2.6-1.3 2.6-0.2 2.6-0.4 2.6-2.3 2.6-2.5 2.6 0.6 2.6-0.3 2.6-1.4 2.6-0.1 2.6-0.9 2.6-2.1 2.6-2.1 2.6-2.1 2.6-1.8 2.6-0.9 2.6-2.7 2.6-3.3 2.6-0.4 2.6 1.8 2.6-0.6 2.6-4.7 2.6-2.8 2.6-1.5 2.6-2.3 2.6-1.4 2.6-0.9 2.6-1.7 2.6-2.5 2.6-2 2.6-2.5 2.6-3.5 2.6-1.3 2.6-1.1 2.6-4.1 2.6-2.9 2.6-1.1 2.6-2.4 2.6-3.4 2.6-3 2.6-3.6 2.6-3.3 2.6-3.7 2.6-4.1 2.6-1.7 2.6-3.7 2.6-7.2 2.6-4.6 2.6-1.3 2.6-1.9 2.6-4.6 2.6-6.2 2.6-4.4 2.6-3.9 2.6-6.8 2.6-7.1 2.6-6.4 2.6-6.7 2.6-5.3 2.6-4.3 2.6-5.8 2.6-7.7 2.6-8.1 2.6-7.3 2.6-6.8 2.6-6.8 2.6-8.2 2.6-7.8 2.6-5.3 2.6-7.4 2.6-10.7 2.6-7.6 2.6-5.7 2.6-7.3 2.6-5.8 2.6-5.3 2.6-6.7 2.6-6.4 2.6-6.8 2.6-6.6 2.6-4.7 2.6-2.5 2.6-1.6 2.6-0.6 2.6 1 2.6 0.1 2.6-1.3 2.6 2 2.6 4.2 2.6 3.5 2.6 5.1 2.6 5.2 2.6 3.4 2.6 4.9 2.6 9 2.6 9.1 2.6 4.6 2.6 4.6 2.6 7.7 2.6 7.1 2.6 6.9 2.6 7 2.6 8.3 2.6 8.3 2.6 3.5 2.6 2.8 2.6 6.3 2.6 6.3 2.6 5.3 2.6 4.3 2.6 2.9 2.6 1.7 2.6 2.1 2.6 4.7 2.6 4.4 2.6 3.1 2.6 2.9 2.6 0.5 2.6-0.4 2.6 0.2 2.6-2.2 2.6-0.8 2.6 2.2 2.6 0.6 2.6-1.9 2.6-2.7 2.6-1.6 2.6 0.1 2.6-1.2 2.6-2.4 2.6-1.8 2.6-0.9 2.6-0.8 2.6-2.7 2.6-4.7 2.6-5.4 2.6-6.6 2.6-6.2 2.6-3.5 2.6-3.5 2.6-5.1 2.6-3.8 2.6-6.6 2.6-8.9 2.6-5.9 2.6-7.8 2.6-12.5 2.6-12.6 2.6-11.7 2.6-13 2.6-12.4 2.6-13.1 2.6-15.8 2.6-13 2.6-8.9 2.6-7.6 2.6-6.6 2.6-2.9 2.6 4.1 2.6 9.9 2.6 14.2 2.6 17.7 2.6 19.6 2.6 22.7 2.6 23.3 2.6 20.6 2.6 19.3 2.6 19 2.6 19.6 2.6 19.8 2.6 15.7 2.6 14 2.6 14.2 2.6 12.2 2.6 11.8 2.6 10.1 2.6 8.5 2.6 8.7 2.6 7.2 2.6 7.5 2.6 7.7 2.6 5.9 2.6 5.1 2.6 4.2 2.6 4.4 2.6 4 2.6 1.7 2.6 1.8 2.6 3.9 2.6 5.7 2.6 4.3 2.6 1 2.6 0.6 2.6 1.6 2.6 2.2 2.6 1.5 2.6 2 2.6 1.3 2.6 0.3 2.6 1.7 2.6 0.8 2.6 0.5 2.6 2 2.6 0.2 2.6-0.2 2.6 1.2 2.6 0.7 2.6 0.7 2.6 0.8 2.6 0.6 2.6 1.2 2.6 0.3 2.6-0.3 2.6 0.4 2.6 1.3 2.6 1.3 2.6-0.6 2.6-1.4 2.6 0.3 2.6 1.4 2.6 1.3 2.6 0.3 0.8-0.8" stroke="#178080" stroke-width="3.6"/>
<path d="M415.8 1046.2l2.6 0.1 2.6 0.2 2.6 0.2 2.6 0.4 2.6 0.9 2.6 0.5 2.6-0.2 2.6-1 2.6 0.1 2.6 1.4 2.6 0.4 2.6 0.1 2.6 0.6 2.6 0 2.6-1.1 2.6-1.9 2.6-0.4 2.6 1.4 2.6 0.5 2.6-0.2 2.6 0.4 2.6-0.4 2.6-0.8 2.6 0.2 2.6 0.8 2.6-0.3 2.6-0.7 2.6 0.7 2.6 0.9 2.6 0.6 2.6-0.2 2.6-0.6 2.6-0.3 2.6-0.4 2.6 0.8 2.6 2.1 2.6 0 2.6-1.9 2.6-1 2.6-0.5 2.6 0.8 2.6 0.9 2.6-0.5 2.6 0.1 2.6 0.6 2.6 0 2.6-1.2 2.6-0.4 2.6 0.3 2.6-0.3 2.6 0.8 2.6 1.3 2.6 1.6 2.6-0.7 2.6-3.3 2.6-1.1 2.6 1.9 2.6 2 2.6-0.5 2.6-0.9 2.6 0.1 2.6 0.6 2.6 0.8 2.6 0.3 2.6 0.3 2.6-0.6 2.6-0.5 2.6 0.5 2.6 0.2 2.6-0.2 2.6-0.8 2.6-0.7 2.6 0.2 2.6 1.1 2.6 1.2 2.6-0.7 2.6-0.8 2.6 0.9 2.6 0.7 2.6-0.8 2.6-1.1 2.6 0.8 2.6 0.5 2.6-1.3 2.6-0.8 2.6 0.2 2.6 0.2 2.6 0.7 2.6 0.9 2.6 0.5 2.6 0.3 2.6-0.3 2.6-0.6 2.6-0.1 2.6-0.2 2.6-0.2 2.6 1.1 2.6 1.3 2.6 0.3 2.6 0.4 2.6 0 2.6-0.9 2.6 0.4 2.6 0.6 2.6-1 2.6-1.4 2.6-0.3 2.6-0.2 2.6 0.6 2.6 0.5 2.6-0.8 2.6-0.2 2.6 1 2.6 1.1 2.6 0.4 2.6 0 2.6-0.7 2.6-1.4 2.6-1.4 2.6-0.2 2.6 0.7 2.6 0.4 2.6-0.6 2.6-1.4 2.6-0.5 2.6 0.6 2.6 1.6 2.6 0.8 2.6-0.1 2.6 0.5 2.6 0.9 2.6 0.3 2.6-0.8 2.6-0.4 2.6 0.3 2.6 1.4 2.6 0.9 2.6-1.7 2.6-0.5 2.6 1.9 2.6 0.6 2.6-0.8 2.6 0.4 2.6-0.3 2.6-2.2 2.6-0.1 2.6 2.5 2.6 0.9 2.6-2.3 2.6-1.9 2.6 0.2 2.6 1.3 2.6 1.3 2.6 0.7 2.6-0.5 2.6-1.7 2.6 1 2.6 3.1 2.6 0 2.6-2.1 2.6-0.5 2.6 0.3 2.6-1.3 2.6-0.9 2.6 2 2.6 2.1 2.6 0.1 2.6 0.2 2.6-0.4 2.6-1 2.6 0.5 2.6 0.6 2.6-0.1 2.6-0.3 2.6-0.4 2.6-0.1 2.6 0.1 2.6 0 2.6-0.2 2.6 0.4 2.6 0.7 2.6 0.2 2.6 0.5 2.6-0.5 2.6-1.6 2.6 0.7 2.6 1.2 2.6 0.3 2.6-0.1 2.6-0.4 2.6 0.5 2.6 0.9 2.6 0.6 2.6 0.2 2.6-1.3 2.6-1.2 2.6 1.5 2.6 0.6 2.6-1.8 2.6-0.3 2.6 2.3 2.6 0.5 2.6-1.7 2.6-0.2 2.6 1.8 2.6 0.7 2.6-1.4 2.6-1.7 2.6-0.5 2.6 0 2.6 0.4 2.6-0.1 2.6-0.3 2.6 0.1 2.6 0.4 2.6 0.7 2.6-0.4 2.6-0.9 2.6 0.3 2.6 0 2.6-1.2 2.6-0.5 2.6 0.8 2.6 0 2.6-2.2 2.6-0.9 2.6 2.5 2.6 1.7 2.6-0.6 2.6-0.3 2.6 0.1 2.6-1.2 2.6-2.3 2.6-1.6 2.6-0.6 2.6 0.7 2.6 0.4 2.6-0.5 2.6 0.4 2.6 0.5 2.6-0.9 2.6-2.2 2.6-0.7 2.6 0.9 2.6-0.1 2.6-1 2.6-1.1 2.6-0.9 2.6-0.3 2.6 0.4 2.6 0.5 2.6-0.2 2.6-1.5 2.6-3.2 2.6-1.8 2.6 0 2.6-1.2 2.6-1.3 2.6 1.1 2.6 1.6 2.6 0.1 2.6-0.1 2.6-1 2.6-1.8 2.6-2.1 2.6-1.2 2.6-0.1 2.6-1.1 2.6-1.6 2.6-0.8 2.6 0.4 2.6 0.3 2.6-2.5 2.6-2.9 2.6-0.3 2.6 0.4 2.6-1.7 2.6-1.7 2.6-0.9 2.6-1.5 2.6-0.7 2.6-1.1 2.6-2.9 2.6-2.4 2.6 0.2 2.6-0.4 2.6-1.9 2.6-1.2 2.6-0.2 2.6-0.5 2.6-2.7 2.6-1.9 2.6-1.4 2.6-2.9 2.6-1.4 2.6-0.2 2.6-0.4 2.6-1.4 2.6-2.3 2.6-2.5 2.6-3.8 2.6-2.7 2.6-0.1 2.6-0.9 2.6-2.6 2.6-2.9 2.6-3.4 2.6-2.8 2.6-2.2 2.6-3.4 2.6-4.5 2.6-2.9 2.6-1.5 2.6-2.7 2.6-2.3 2.6-3.2 2.6-5.2 2.6-3.8 2.6-3.1 2.6-3.8 2.6-3 2.6-4.7 2.6-6.9 2.6-5 2.6-4 2.6-5.8 2.6-5.2 2.6-4.4 2.6-5.2 2.6-6 2.6-6.3 2.6-7.8 2.6-7.9 2.6-5.5 2.6-6.5 2.6-7.3 2.6-7.4 2.6-8.2 2.6-7.2 2.6-7.1 2.6-7.9 2.6-8.8 2.6-10.1 2.6-9 2.6-6.2 2.6-5.6 2.6-7.3 2.6-7.4 2.6-8.1 2.6-8 2.6-4.4 2.6-4.3 2.6-5.8 2.6-4.8 2.6-0.6 2.6 2.3 2.6-0.4 2.6 0.3 2.6 2 2.6 2.1 2.6 5.4 2.6 5.7 2.6 2.9 2.6 1.5 2.6 4.1 2.6 9.4 2.6 10.3 2.6 7.5 2.6 5.4 2.6 5.8 2.6 8.1 2.6 9.2 2.6 8.8 2.6 7.2 2.6 5.8 2.6 8.4 2.6 6.7 2.6 1.9 2.6 4.1 2.6 6.1 2.6 6.2 2.6 5.1 2.6 3.7 2.6 3.3 2.6 1.9 2.6 4.7 2.6 4.7 2.6-0.8 2.6 0 2.6 2.7 2.6 1.7 2.6 1.8 2.6 3.1 2.6 0.4 2.6-2.8 2.6-1.3 2.6 0.3 2.6 0.4 2.6-1.9 2.6-3.2 2.6-1 2.6-0.2 2.6-1.8 2.6-4 2.6-3.4 2.6-1.6 2.6-1.7 2.6-3.7 2.6-5.1 2.6-3.2 2.6-4.8 2.6-6.3 2.6-3 2.6-3.1 2.6-7 2.6-10.4 2.6-10.9 2.6-8.4 2.6-9.4 2.6-13.2 2.6-12.6 2.6-12.4 2.6-15.7 2.6-15 2.6-10.7 2.6-10.1 2.6-14.3 2.6-11.3 2.6-5.1 2.6-1.2 2.6 7.3 2.6 12 2.6 12.1 2.6 16 2.6 20.1 2.6 21.5 2.6 22 2.6 23.3 2.6 22.8 2.6 21.6 2.6 18.8 2.6 16.8 2.6 16.8 2.6 15.2 2.6 13.1 2.6 11.6 2.6 10.5 2.6 10 2.6 9.6 2.6 9.8 2.6 9.6 2.6 7.9 2.6 5.8 2.6 6.2 2.6 4.7 2.6 3.5 2.6 5.1 2.6 3.4 2.6 2.7 2.6 2.6 2.6 1.8 2.6 4.3 2.6 3.4 2.6 1.4 2.6 3.7 2.6 3.6 2.6 1.5 2.6 0.7 2.6 0.5 2.6 1.6 2.6 2 2.6-0.7 2.6-0.3 2.6 2.6 2.6 1.4 2.6-0.6 2.6 0.8 2.6 2.3 2.6 1.8 2.6-0.2 2.6-1.4 2.6 1 2.6 3.4 2.6 1.4 2.6-0.4 2.6-0.8 2.6-1.4 2.6-1.3 2.6-0.8 2.6 0.7 2.6 0.8 2.6 0.4 2.6 1.8 2.6 0.9 0.8-1.1" stroke="#ff7f0e" stroke-width="3.6"/>
<path d="M415.8 1039.9l2.6 1.1 2.6-1.1 2.6-0.3 2.6 1.2 2.6 0.5 2.6 0.1 2.6-0.3 2.6 0.1 2.6 0.5 2.6-0.7 2.6-0.6 2.6 1.6 2.6 3 2.6 0.2 2.6-1.7 2.6 0.2 2.6 1 2.6 0.6 2.6 0.2 2.6-0.3 2.6 0 2.6-0.2 2.6-0.1 2.6 0.1 2.6 0.4 2.6 0 2.6-1 2.6 0.7 2.6 0 2.6-0.6 2.6 0.5 2.6 0.3 2.6 1.5 2.6 1.2 2.6-1.5 2.6-0.8 2.6 2 2.6 1.6 2.6-0.8 2.6-1.3 2.6-0.7 2.6-0.3 2.6 0.3 2.6 1.7 2.6 0.6 2.6-1.7 2.6-0.2 2.6 1.1 2.6 0.8 2.6 0.4 2.6-0.8 2.6-1.4 2.6-0.1 2.6 0.4 2.6 0.4 2.6 1.3 2.6 0.9 2.6-0.2 2.6-0.5 2.6 0.1 2.6-0.5 2.6 0.8 2.6 1.4 2.6-1.2 2.6 0.1 2.6 2.5 2.6 1.2 2.6 0.3 2.6 0.1 2.6-1.1 2.6-1.7 2.6-0.6 2.6 0.5 2.6-0.2 2.6-1.1 2.6 0.3 2.6 1.5 2.6 1.4 2.6 1.6 2.6 0.4 2.6-1 2.6 0.1 2.6 0.7 2.6-0.6 2.6-0.8 2.6 0.5 2.6 0.8 2.6-0.5 2.6-1.9 2.6-0.6 2.6 1.6 2.6 0.3 2.6-0.9 2.6 0.9 2.6 2.1 2.6 1 2.6-1.7 2.6-1.6 2.6-0.2 2.6-0.6 2.6 1.3 2.6 1 2.6-0.6 2.6 0.6 2.6 0.9 2.6 1.2 2.6 0.8 2.6-0.8 2.6-0.7 2.6 1.1 2.6 0.6 2.6-1.3 2.6-0.5 2.6 0.7 2.6 1.2 2.6 0 2.6-1.9 2.6-0.3 2.6-0.3 2.6-1.1 2.6 0.3 2.6 1.2 2.6 0.6 2.6-0.4 2.6-0.5 2.6 0.5 2.6 0.8 2.6-0.3 2.6-0.4 2.6 0 2.6-0.2 2.6-0.2 2.6 0.3 2.6 0.3 2.6 0.9 2.6 1.2 2.6 0.3 2.6-0.8 2.6-1.4 2.6-0.3 2.6 1.2 2.6 1.1 2.6-0.6 2.6-1.1 2.6 0.6 2.6 0.6 2.6 0.2 2.6 0.7 2.6-0.2 2.6-0.5 2.6 0.7 2.6 0.1 2.6-1.9 2.6-0.1 2.6 1.9 2.6-0.2 2.6-1.9 2.6-0.4 2.6 2.1 2.6 1.4 2.6-1.5 2.6-1.4 2.6 0.9 2.6 0.1 2.6 0.4 2.6 3.1 2.6 0.5 2.6-2.8 2.6-0.3 2.6 1.3 2.6-0.4 2.6-0.5 2.6 0.6 2.6 0.8 2.6 0.4 2.6-0.1 2.6-0.5 2.6-1 2.6-1.2 2.6 1.3 2.6 1.7 2.6-1.3 2.6-1.3 2.6 0.3 2.6 0.3 2.6 0.4 2.6 0.7 2.6 0.4 2.6 0.2 2.6 0 2.6-0.1 2.6 1.7 2.6 0.7 2.6-1.9 2.6-0.7 2.6-0.1 2.6-0.2 2.6 0.7 2.6 0.5 2.6-0.7 2.6-0.8 2.6-0.9 2.6-0.2 2.6 1.5 2.6 0.2 2.6-0.4 2.6 1.1 2.6 0.8 2.6-1.1 2.6-1.3 2.6 0 2.6 0.4 2.6 0.2 2.6 0 2.6 0.4 2.6 0.2 2.6-0.9 2.6-1.2 2.6 0 2.6 1.1 2.6-1.2 2.6-2.2 2.6 0.4 2.6 1.8 2.6 0.8 2.6-0.6 2.6-1 2.6-0.6 2.6-0.4 2.6 0.2 2.6 1.3 2.6 0.6 2.6-0.1 2.6-0.7 2.6-1.6 2.6-2.4 2.6-1.7 2.6 0.8 2.6 0.4 2.6-0.4 2.6 0.5 2.6-0.6 2.6-1.5 2.6-0.3 2.6 0.4 2.6 0.9 2.6 0.2 2.6-0.8 2.6-1.2 2.6-1.2 2.6-0.6 2.6 0.2 2.6 0 2.6-1.1 2.6 0.3 2.6 0.9 2.6-0.8 2.6-2.3 2.6-2.5 2.6-0.1 2.6 0.8 2.6-0.9 2.6-0.3 2.6 0.6 2.6 0 2.6-0.5 2.6-0.4 2.6-0.5 2.6-1.6 2.6-1.6 2.6-0.8 2.6-1.8 2.6-2 2.6-0.5 2.6-0.9 2.6-1.7 2.6-1.1 2.6-0.1 2.6 0.8 2.6 0.2 2.6-1.1 2.6-1.7 2.6-1.5 2.6-1.7 2.6-1.5 2.6-1.3 2.6-1.9 2.6-0.4 2.6 0.2 2.6 0.3 2.6-0.1 2.6-3.1 2.6-2.3 2.6 0.5 2.6-1.2 2.6-3.1 2.6-0.6 2.6-0.6 2.6-2 2.6-0.2 2.6-0.8 2.6-1.7 2.6-1.4 2.6-2.2 2.6-2.3 2.6-1.1 2.6-0.9 2.6-2.6 2.6-3 2.6-1.6 2.6-1.3 2.6-2.6 2.6-2.2 2.6-0.6 2.6-1.2 2.6-2.9 2.6-2.3 2.6-0.6 2.6-1.5 2.6-4.1 2.6-4.8 2.6-3.1 2.6-2.7 2.6-2.6 2.6-2.7 2.6-2.9 2.6-3.8 2.6-4.5 2.6-3.5 2.6-2.3 2.6-3.1 2.6-4.7 2.6-4.2 2.6-5.1 2.6-5.3 2.6-3.5 2.6-5.2 2.6-6.9 2.6-5.2 2.6-3.9 2.6-5.1 2.6-4.8 2.6-2.5 2.6-2.9 2.6-6.4 2.6-8.2 2.6-4.8 2.6-2.6 2.6-4.4 2.6-4.8 2.6-4 2.6-5.2 2.6-4 2.6 0 2.6-0.1 2.6-0.4 2.6 0.2 2.6 0 2.6 0.3 2.6 0.6 2.6 0.9 2.6 2.8 2.6 2.5 2.6 2.2 2.6 5 2.6 2.6 2.6 2.6 2.6 5.8 2.6 3.6 2.6 3.8 2.6 7.6 2.6 6.1 2.6 2.5 2.6 4.4 2.6 4.9 2.6 3.5 2.6 4.2 2.6 3.8 2.6 3.7 2.6 4 2.6 3.9 2.6 3.3 2.6 2.6 2.6 1.7 2.6 1 2.6 1.4 2.6 0.5 2.6 0.5 2.6 3.2 2.6 2.8 2.6-0.6 2.6-1.7 2.6-1.3 2.6-0.6 2.6 0.6 2.6 0.6 2.6 0.3 2.6-0.3 2.6-2.5 2.6-1.7 2.6-0.1 2.6-0.4 2.6-0.9 2.6-1.7 2.6-1.5 2.6-1.6 2.6-3.4 2.6-3.9 2.6-2.7 2.6-0.7 2.6-1.6 2.6-3.3 2.6-3.3 2.6-2.9 2.6-2.9 2.6-4.5 2.6-6.3 2.6-6.1 2.6-5.7 2.6-7.4 2.6-10 2.6-10.1 2.6-9.2 2.6-10.1 2.6-10 2.6-7.5 2.6-5.2 2.6-3.3 2.6-1.6 2.6-1.6 2.6 1.6 2.6 5.7 2.6 6.3 2.6 10.7 2.6 14.5 2.6 15 2.6 16.4 2.6 14.9 2.6 12.4 2.6 12.4 2.6 12.9 2.6 10.8 2.6 8.7 2.6 10.2 2.6 9.8 2.6 8 2.6 8.1 2.6 7.7 2.6 7.4 2.6 5.2 2.6 3.6 2.6 6 2.6 5.9 2.6 3.7 2.6 2 2.6 0.7 2.6 2.2 2.6 2.5 2.6 2.4 2.6 3.1 2.6 3.3 2.6 2.9 2.6 2 2.6 1.5 2.6 1.5 2.6 0.8 2.6 0 2.6 1.2 2.6 3 2.6 1.8 2.6-0.7 2.6 0 2.6 2.3 2.6 1.6 2.6-0.6 2.6 0.7 2.6 2 2.6 0.8 2.6 0.8 2.6-1 2.6-1.2 2.6 1.1 2.6 1.2 2.6 0.9 2.6-0.7 2.6-1.5 2.6 1 2.6 2.4 2.6 1 2.6-1.1 2.6-1 2.6 0.7 2.6 1 2.6 1.7 0.8 1.1" stroke="#1a9090" stroke-width="3.6"/>
<path d="M415.8 1051.7l2.6 1.1 2.6 1.4 2.6 0.3 2.6 0 2.6 0.5 2.6-0.4 2.6-1.7 2.6-0.8 2.6 0.5 2.6 0.8 2.6 0.1 2.6-0.6 2.6-0.6 2.6 0.1 2.6 1.2 2.6 1.5 2.6 0.9 2.6-0.1 2.6-0.3 2.6 0.2 2.6-0.7 2.6-1.7 2.6 1.1 2.6 2.5 2.6 0.4 2.6-0.9 2.6-1.7 2.6-0.5 2.6 0.9 2.6-0.1 2.6-0.5 2.6-1 2.6-0.3 2.6 0.8 2.6 0.5 2.6 0.7 2.6 1.2 2.6 0.3 2.6-0.8 2.6-0.1 2.6 0.4 2.6 0 2.6 0.4 2.6 0.7 2.6-0.8 2.6-1.1 2.6-0.2 2.6 0.3 2.6 1.9 2.6 0.7 2.6-1.5 2.6-0.6 2.6 0.5 2.6-0.6 2.6-0.9 2.6 0.3 2.6 1.1 2.6 1.4 2.6 0.7 2.6-0.9 2.6-1.5 2.6 0.2 2.6 1.8 2.6 1 2.6-0.9 2.6 0 2.6 1.7 2.6-1.1 2.6-3 2.6 0.9 2.6 2 2.6-0.7 2.6-1.2 2.6 0.3 2.6 1.2 2.6 0.2 2.6-0.9 2.6-0.3 2.6-0.1 2.6 0.5 2.6 0.2 2.6-0.5 2.6 0.6 2.6 0.6 2.6 0.4 2.6 0.2 2.6 0.1 2.6 0 2.6-1.1 2.6-1.7 2.6-0.7 2.6 0.9 2.6 1 2.6-0.2 2.6-0.4 2.6 0.7 2.6 0.9 2.6-0.1 2.6-0.1 2.6 0.1 2.6 0.1 2.6 0.1 2.6 1.3 2.6 1.7 2.6-0.4 2.6-1.2 2.6 0.5 2.6 1.5 2.6-0.1 2.6-1.1 2.6-0.9 2.6-0.1 2.6 1.1 2.6 0.4 2.6-1.1 2.6-0.8 2.6-0.1 2.6 0.2 2.6 0.3 2.6 0.4 2.6-0.2 2.6-0.5 2.6 0.4 2.6 0.8 2.6 0.2 2.6 0 2.6-0.6 2.6-2.1 2.6-1.2 2.6 1.4 2.6 1 2.6-0.2 2.6-0.3 2.6-0.1 2.6 0.1 2.6-0.5 2.6-1.1 2.6 1.5 2.6 2.4 2.6-0.3 2.6 0.4 2.6 1.6 2.6-0.3 2.6-0.9 2.6-0.3 2.6 0.2 2.6 0.3 2.6-1.5 2.6-1 2.6 0.7 2.6 0.7 2.6 0.3 2.6-0.4 2.6-1 2.6-0.8 2.6 0 2.6 0.7 2.6 0.4 2.6 0.9 2.6 1 2.6 0 2.6-0.8 2.6-0.4 2.6-0.8 2.6-0.3 2.6 0.8 2.6 0.2 2.6-0.2 2.6 0.9 2.6 0.5 2.6-0.6 2.6-0.7 2.6-0.3 2.6 0.6 2.6 0.9 2.6-0.7 2.6-0.4 2.6 0.8 2.6 0.5 2.6 0.2 2.6-0.9 2.6-1.1 2.6 1.3 2.6 1.2 2.6-0.6 2.6-0.9 2.6 0.4 2.6 1.7 2.6 0.3 2.6-0.3 2.6-0.2 2.6-0.4 2.6 1.2 2.6 0.6 2.6-0.3 2.6-1.2 2.6-1.6 2.6-0.7 2.6-0.1 2.6 1.4 2.6 1.5 2.6 0 2.6 0.3 2.6-0.4 2.6-0.7 2.6-0.4 2.6-0.4 2.6-0.5 2.6-1.3 2.6-0.5 2.6 0.1 2.6 0 2.6 0.4 2.6-0.2 2.6-0.2 2.6 1.1 2.6 0.1 2.6-0.3 2.6 0 2.6 0 2.6-0.2 2.6-1.1 2.6-0.5 2.6 0.2 2.6 0.4 2.6 1.5 2.6 0.8 2.6-1.2 2.6-2.4 2.6-1.7 2.6 0.5 2.6-0.1 2.6-1.2 2.6-0.5 2.6 0.8 2.6 0.5 2.6 0.6 2.6 0.8 2.6 0 2.6-1.5 2.6-2 2.6-0.1 2.6 0.5 2.6 0 2.6-0.2 2.6-0.6 2.6-1 2.6-1.2 2.6 0.2 2.6 0.9 2.6-1.5 2.6-1.4 2.6 0.9 2.6-0.3 2.6-1.7 2.6-1.4 2.6-0.1 2.6 0.1 2.6-1.1 2.6-1.1 2.6-0.9 2.6-1 2.6 0.8 2.6 1.4 2.6-0.5 2.6-1.4 2.6-1.3 2.6-1.3 2.6-1.4 2.6-1.5 2.6-0.8 2.6 0.2 2.6 1 2.6-0.5 2.6-1.7 2.6-1 2.6-0.8 2.6-0.3 2.6-0.9 2.6-2.4 2.6-0.1 2.6 1.6 2.6-0.7 2.6-2.3 2.6-1.5 2.6 0.1 2.6-0.3 2.6-2 2.6-1.8 2.6-1.4 2.6-1.2 2.6-1.2 2.6-1.3 2.6-0.4 2.6-0.5 2.6-1.6 2.6-0.3 2.6 0.3 2.6-1.4 2.6-2.2 2.6-2.3 2.6-1.1 2.6-0.6 2.6-2 2.6-1 2.6-1.1 2.6-2.2 2.6-0.7 2.6-1.4 2.6-3.7 2.6-2.1 2.6-1.2 2.6-2.9 2.6-2.1 2.6-1.8 2.6-3 2.6-1.5 2.6-0.1 2.6-1.4 2.6-3.7 2.6-3.5 2.6-2.1 2.6-2.6 2.6-5.3 2.6-5.3 2.6-1.2 2.6-0.1 2.6-4.7 2.6-3.5 2.6-1 2.6-5 2.6-7.2 2.6-5.1 2.6-3.2 2.6-4.3 2.6-5.3 2.6-4.6 2.6-5.1 2.6-6.2 2.6-4.5 2.6-3.7 2.6-5.7 2.6-4.6 2.6-5.4 2.6-6.5 2.6-4.8 2.6-4.8 2.6-5 2.6-3.3 2.6-1.8 2.6-3.3 2.6-5.1 2.6-3.5 2.6-1.2 2.6-1.2 2.6-1.4 2.6 1 2.6 1.6 2.6-0.7 2.6-0.3 2.6 2.5 2.6 4.5 2.6 3.1 2.6 2.2 2.6 3.8 2.6 3.2 2.6 3 2.6 3.5 2.6 4 2.6 4.8 2.6 4.2 2.6 3.6 2.6 4.7 2.6 6.9 2.6 5.2 2.6 3.6 2.6 5.4 2.6 4.4 2.6 2.5 2.6 3.8 2.6 4.1 2.6 2.2 2.6 2 2.6 2.2 2.6 1.8 2.6 1.3 2.6 0.5 2.6 1.6 2.6 2 2.6 0.3 2.6-0.7 2.6-0.2 2.6 0.5 2.6 1.2 2.6-0.8 2.6-1.6 2.6-0.3 2.6-1.1 2.6-0.1 2.6 1.6 2.6-0.4 2.6-2.4 2.6-1 2.6 0 2.6-2.2 2.6-4.1 2.6-2.4 2.6-1.6 2.6-2.7 2.6-2.5 2.6-2.8 2.6-3.1 2.6-1.3 2.6-2.6 2.6-7 2.6-6.4 2.6-5.8 2.6-6 2.6-2.9 2.6-6.4 2.6-12.4 2.6-8.9 2.6-6.5 2.6-10.4 2.6-10.3 2.6-7.9 2.6-9.8 2.6-8.6 2.6-2 2.6 2.3 2.6 4.4 2.6 6.9 2.6 8.5 2.6 11.5 2.6 14.2 2.6 12.5 2.6 11.2 2.6 15.3 2.6 16.1 2.6 11.9 2.6 9.5 2.6 11.6 2.6 12.8 2.6 9.7 2.6 8.3 2.6 9.6 2.6 8.8 2.6 6.4 2.6 5.3 2.6 6 2.6 5.4 2.6 3 2.6 2.5 2.6 3.8 2.6 3.4 2.6 2.7 2.6 4.1 2.6 3.8 2.6 2.2 2.6 1.1 2.6 2.5 2.6 3.3 2.6 0.2 2.6-1 2.6 1.4 2.6 2 2.6 1.9 2.6 2.7 2.6 1.6 2.6 0.7 2.6 0.3 2.6-0.4 2.6-0.7 2.6-0.3 2.6-0.4 2.6 0.4 2.6 2.4 2.6 1.3 2.6 0.3 2.6 1.1 2.6 0.1 2.6-0.1 2.6 0.5 2.6-0.8 2.6 0 2.6 2.6 2.6 1.3 2.6-1.1 2.6-0.5 2.6-0.2 2.6-0.2 2.6-0.8 2.6-0.9 2.6 0.5 0.8 1.1" stroke="#30a060" stroke-width="3.6"/>
<path d="M415.8 1052.4l2.6 1.8 2.6-0.3 2.6-1.7 2.6-1.1 2.6 0.4 2.6 0.9 2.6 1 2.6 0.7 2.6-0.9 2.6-0.9 2.6 0.2 2.6-0.4 2.6-0.3 2.6-0.4 2.6-0.5 2.6-0.4 2.6 0.3 2.6 1.9 2.6 1 2.6-0.2 2.6-0.5 2.6-0.7 2.6 0.1 2.6 0.2 2.6 0 2.6 0.1 2.6 0.4 2.6 1.1 2.6-0.5 2.6-0.6 2.6 1.2 2.6-0.2 2.6-0.8 2.6 1.2 2.6 2 2.6-0.8 2.6-1.5 2.6-0.3 2.6-1.1 2.6-0.2 2.6 1.2 2.6 0.8 2.6 0.8 2.6 0.5 2.6-0.4 2.6-0.1 2.6 0.7 2.6-0.2 2.6-0.8 2.6 0.8 2.6 2.2 2.6 0.6 2.6-1.2 2.6-1.1 2.6-0.6 2.6-1 2.6-1 2.6 0.6 2.6 1.3 2.6 0.5 2.6-0.5 2.6-0.4 2.6 0.5 2.6 0.5 2.6-0.6 2.6 0 2.6 2.5 2.6 1 2.6-2 2.6-0.7 2.6 1.1 2.6-0.7 2.6-1.3 2.6 1.9 2.6 2 2.6-0.7 2.6-0.7 2.6 0.6 2.6 0.1 2.6-0.3 2.6 0.2 2.6 0 2.6 0.4 2.6 0.6 2.6 0.1 2.6-0.2 2.6-0.5 2.6 0.6 2.6 1 2.6 0.6 2.6-0.1 2.6-1 2.6-1.4 2.6 0 2.6 1.3 2.6 1.7 2.6 0.2 2.6-0.6 2.6-0.5 2.6-1 2.6 0.1 2.6 0.3 2.6-0.1 2.6 0 2.6 0.1 2.6 0.5 2.6-0.6 2.6-0.7 2.6 0.6 2.6 0.9 2.6 0.3 2.6-0.3 2.6-0.3 2.6 1.3 2.6 1 2.6-0.8 2.6-0.8 2.6-0.1 2.6-0.6 2.6 0.2 2.6 1.8 2.6 0.4 2.6-0.8 2.6 0.3 2.6-0.3 2.6 0.7 2.6 0.8 2.6-1.8 2.6-1.2 2.6 1.5 2.6 1.1 2.6-0.4 2.6 0.4 2.6-0.2 2.6-0.3 2.6 1.3 2.6 0.7 2.6-0.9 2.6-0.4 2.6 0.7 2.6-0.3 2.6-1 2.6 0.3 2.6 0.8 2.6 0 2.6-0.5 2.6-0.1 2.6 0.9 2.6 0.8 2.6-0.2 2.6-0.5 2.6-0.9 2.6-1.2 2.6-0.1 2.6 0.7 2.6 0.9 2.6 0.4 2.6 0 2.6 0.4 2.6 0.6 2.6 0.1 2.6-0.4 2.6-1.2 2.6-1 2.6 0.7 2.6 1 2.6 0 2.6 0 2.6-0.6 2.6-1.3 2.6 0 2.6 2.2 2.6 1 2.6-0.6 2.6-0.4 2.6 0.2 2.6 1.3 2.6 0.1 2.6-1.3 2.6-0.1 2.6 1.9 2.6 0.1 2.6-2 2.6-1 2.6 0.8 2.6 1.4 2.6 0.1 2.6-0.8 2.6-0.1 2.6 0.4 2.6-0.3 2.6-0.3 2.6 0.9 2.6 0.7 2.6 0 2.6-0.3 2.6-0.4 2.6 0.1 2.6-0.5 2.6-1 2.6 0.4 2.6 0.3 2.6-0.3 2.6 0.6 2.6 0.3 2.6 0 2.6 0.3 2.6-0.2 2.6 0.1 2.6 0.6 2.6-0.6 2.6-1.2 2.6-0.4 2.6-1 2.6-1.2 2.6 0.8 2.6 1.3 2.6 0.2 2.6-0.4 2.6-0.3 2.6-0.5 2.6-0.3 2.6 0.6 2.6-0.5 2.6-0.1 2.6 0.5 2.6-1 2.6-0.4 2.6-0.5 2.6-1.6 2.6 0.3 2.6 1.5 2.6 0.4 2.6-0.4 2.6-1 2.6 0.1 2.6 1 2.6-0.2 2.6-0.9 2.6-0.8 2.6-0.4 2.6-0.7 2.6-1.5 2.6-0.9 2.6 1.3 2.6 1 2.6-1.5 2.6-1.7 2.6-0.4 2.6-0.4 2.6 0.2 2.6 1.5 2.6-0.3 2.6-2.4 2.6-1.3 2.6-0.6 2.6-0.4 2.6-1.1 2.6-0.8 2.6 0.4 2.6 0 2.6-0.7 2.6-1.4 2.6-1.6 2.6-0.8 2.6 0.4 2.6 0.2 2.6-1.7 2.6-2.1 2.6-1.7 2.6-1.1 2.6 0.9 2.6 1.2 2.6-0.8 2.6-2 2.6-1 2.6-0.2 2.6-1.6 2.6-0.9 2.6 0 2.6-0.9 2.6-0.7 2.6-0.8 2.6-1.3 2.6-0.7 2.6-0.7 2.6-0.7 2.6-0.1 2.6-1.3 2.6-2.8 2.6-2.6 2.6-0.7 2.6 0.5 2.6-0.7 2.6-1.6 2.6-2.4 2.6-1.3 2.6 0.8 2.6-0.5 2.6-2 2.6-2.7 2.6-2.5 2.6-2 2.6-1.4 2.6-1.7 2.6-2.1 2.6-1.7 2.6 0.4 2.6 0.7 2.6-2.2 2.6-3.6 2.6-4 2.6-2.7 2.6-1.7 2.6-2.3 2.6-2 2.6-2.8 2.6-4 2.6-2 2.6-0.7 2.6-1.8 2.6-3.6 2.6-4.2 2.6-3.3 2.6-3.2 2.6-3.3 2.6-3.4 2.6-3.7 2.6-3.4 2.6-4.1 2.6-5.9 2.6-6.2 2.6-5 2.6-3.4 2.6-3.8 2.6-6 2.6-7.5 2.6-5.1 2.6-3.1 2.6-5.5 2.6-7.1 2.6-6.2 2.6-5.8 2.6-4.9 2.6-5.2 2.6-6.1 2.6-4.4 2.6-5.1 2.6-6.5 2.6-5.3 2.6-3.9 2.6-3.5 2.6-2.4 2.6-1.2 2.6-2.5 2.6-1.1 2.6 2.7 2.6 2.5 2.6-0.9 2.6-2 2.6 1.9 2.6 4.6 2.6 3.3 2.6 2.6 2.6 5.2 2.6 7.1 2.6 4.6 2.6 3.3 2.6 4.3 2.6 5.3 2.6 5.5 2.6 6.5 2.6 4.7 2.6 1.1 2.6 4.1 2.6 7 2.6 5.6 2.6 2.9 2.6 1.5 2.6 4 2.6 6.5 2.6 5 2.6 2.2 2.6 1.6 2.6 2.4 2.6 3.2 2.6 1.4 2.6 0.7 2.6 0.9 2.6 0.8 2.6 2.4 2.6 1.3 2.6-1.5 2.6-1.2 2.6 0.6 2.6-0.2 2.6-1.7 2.6-0.4 2.6-0.1 2.6-1.1 2.6-1.7 2.6-1.8 2.6-0.9 2.6-0.4 2.6-1.6 2.6-2.7 2.6-3 2.6-2.1 2.6-1.4 2.6-3.1 2.6-4.5 2.6-4.2 2.6-4.2 2.6-4.7 2.6-3.8 2.6-4.4 2.6-4.6 2.6-5.8 2.6-8.6 2.6-9.3 2.6-8.8 2.6-8.9 2.6-8.9 2.6-9.6 2.6-10.9 2.6-11.1 2.6-6.1 2.6-2.9 2.6-6.2 2.6-3.8 2.6 3.3 2.6 7.7 2.6 10.7 2.6 13.3 2.6 13.9 2.6 15.1 2.6 17.2 2.6 15.5 2.6 14.7 2.6 14.8 2.6 13.8 2.6 12.6 2.6 10.6 2.6 10.3 2.6 10.7 2.6 9.4 2.6 8.7 2.6 7.9 2.6 5.4 2.6 4 2.6 5 2.6 6 2.6 4.3 2.6 2.2 2.6 3.8 2.6 4.7 2.6 2.6 2.6 2.3 2.6 3.9 2.6 4.1 2.6 2.1 2.6-0.3 2.6 0.6 2.6 2.4 2.6 1 2.6 1.7 2.6 3.7 2.6 1.1 2.6-0.9 2.6 0.7 2.6 1.8 2.6 1.3 2.6 1 2.6 0.2 2.6 0 2.6 2.8 2.6 2 2.6-1.6 2.6-0.7 2.6 1.4 2.6 1.4 2.6 0.6 2.6 0.3 2.6 0.8 2.6 0.9 2.6 0.2 2.6-1.4 2.6-1.5 2.6 0.7 2.6-0.1 2.6-0.5 2.6 2 2.6 1 2.6-0.3 0.8 0.4" stroke="#ff6010" stroke-width="3.6"/>
<path d="M415.8 1044.2l2.6 0.2 2.6 1.6 2.6-0.4 2.6-0.9 2.6 1.5 2.6 0.6 2.6-0.6 2.6 0.5 2.6-0.3 2.6-0.8 2.6 0.6 2.6 0.6 2.6 0.3 2.6 0.9 2.6 0 2.6-0.8 2.6-0.5 2.6 0.3 2.6 1.3 2.6 0.2 2.6-0.9 2.6 0.4 2.6 0.8 2.6 0.5 2.6 0.3 2.6 0.7 2.6 0.7 2.6-1.8 2.6-2 2.6 0 2.6 1 2.6 0.9 2.6 0.3 2.6 0.4 2.6 0.2 2.6 1.5 2.6 1.2 2.6-2.1 2.6-1.6 2.6 0.8 2.6 0.9 2.6-0.5 2.6 0.8 2.6 2.5 2.6 0.1 2.6-1.4 2.6-0.3 2.6 0.1 2.6-0.6 2.6 0 2.6 2 2.6 1.1 2.6-0.3 2.6-0.1 2.6-0.7 2.6-0.1 2.6 0.3 2.6-1.3 2.6-1.4 2.6-0.5 2.6-0.3 2.6 1.1 2.6 0.7 2.6-0.5 2.6-0.2 2.6 0.4 2.6 2.4 2.6 2.4 2.6-0.5 2.6-1.7 2.6-0.5 2.6 0.1 2.6 0.3 2.6 1.3 2.6 0 2.6-1.3 2.6 0.2 2.6-0.1 2.6-0.9 2.6 0.6 2.6 1.5 2.6 1 2.6 0.6 2.6-0.8 2.6 0 2.6 0.3 2.6-2.1 2.6-1.1 2.6 1.1 2.6 0.1 2.6 0.2 2.6 0.8 2.6 0 2.6 1 2.6 1.9 2.6 0.2 2.6-1.2 2.6-1.1 2.6-0.2 2.6 0.4 2.6 1.4 2.6-0.1 2.6-2.8 2.6-1 2.6 2.2 2.6 1 2.6 0.2 2.6 1.1 2.6 0.9 2.6-0.1 2.6-1 2.6-0.3 2.6 0.9 2.6 1 2.6 0.7 2.6-1.1 2.6-1.4 2.6-0.1 2.6 0.3 2.6 0.9 2.6 0.5 2.6 0 2.6-0.4 2.6 0.3 2.6 0.9 2.6-1.1 2.6-0.9 2.6 0.7 2.6 0.5 2.6-0.1 2.6-0.4 2.6 0.7 2.6 0.7 2.6-0.8 2.6-0.8 2.6 0.4 2.6 0.5 2.6 0.4 2.6 0.6 2.6 1 2.6 0.5 2.6-1.3 2.6-1.1 2.6 1 2.6 0.3 2.6-1 2.6-0.1 2.6 0.3 2.6-0.3 2.6 0 2.6 1 2.6-0.1 2.6-1.1 2.6 0.8 2.6 1.1 2.6-0.8 2.6-0.1 2.6 0.7 2.6-0.5 2.6-0.9 2.6-0.5 2.6 0.6 2.6 0.7 2.6-0.8 2.6 0.2 2.6 1.2 2.6 0.6 2.6-0.1 2.6 0.1 2.6 1 2.6 0.8 2.6 0.1 2.6-0.2 2.6 0.8 2.6-0.3 2.6-1.4 2.6 0.1 2.6 0.6 2.6 0.3 2.6 0.4 2.6 0.1 2.6-1.5 2.6-1.2 2.6 0.2 2.6 0.2 2.6-0.4 2.6-0.1 2.6 0.2 2.6 0.5 2.6 0.9 2.6 1.7 2.6 0.6 2.6-1.8 2.6-1.7 2.6 0.3 2.6 1.3 2.6 0 2.6-0.1 2.6 0.4 2.6-0.2 2.6-0.6 2.6-0.6 2.6-0.4 2.6 0.1 2.6-0.4 2.6-0.6 2.6 0.6 2.6 0.2 2.6-0.4 2.6 0.3 2.6 0.4 2.6 0.4 2.6 1.6 2.6 0.5 2.6-1.6 2.6-0.9 2.6-1.5 2.6-0.5 2.6 1.2 2.6-0.3 2.6-0.5 2.6 0.5 2.6 0.5 2.6-0.6 2.6-1.5 2.6-1.7 2.6-0.6 2.6 1.4 2.6 0 2.6-1.2 2.6 0.7 2.6 0.6 2.6-0.6 2.6-0.8 2.6-0.1 2.6 0.5 2.6-1 2.6-2.2 2.6-0.5 2.6 0.9 2.6 0.5 2.6-0.4 2.6-0.6 2.6 0.1 2.6 0 2.6-0.1 2.6-0.4 2.6-0.9 2.6-0.5 2.6-0.2 2.6-0.8 2.6-0.6 2.6 0 2.6-0.4 2.6-1.3 2.6-1.8 2.6-0.9 2.6 0.3 2.6 0.1 2.6-1.5 2.6-2.1 2.6 0.3 2.6 1.1 2.6-0.4 2.6-0.8 2.6 0 2.6-0.3 2.6-1.1 2.6-0.6 2.6-1.8 2.6-2.8 2.6-0.4 2.6 1.2 2.6 0.2 2.6-0.4 2.6-0.4 2.6-1.6 2.6-1.6 2.6-1.3 2.6-1.9 2.6-0.8 2.6-1.2 2.6-2.4 2.6-0.8 2.6-0.7 2.6-2.2 2.6-0.4 2.6 0.6 2.6-0.7 2.6-0.4 2.6-1.4 2.6-3.8 2.6-1.1 2.6 0.8 2.6-0.5 2.6-1.4 2.6-2.4 2.6-1.5 2.6-1.4 2.6-2.2 2.6-0.9 2.6-1.2 2.6-2 2.6-1.6 2.6-1.8 2.6-1.9 2.6-2.1 2.6-2.1 2.6-1.1 2.6-1.7 2.6-3.1 2.6-2.5 2.6-1.9 2.6-1 2.6-1.5 2.6-3.4 2.6-3.3 2.6-2.2 2.6-1.8 2.6-1.8 2.6-3.6 2.6-4.3 2.6-2.4 2.6-2.6 2.6-4.5 2.6-5 2.6-5.2 2.6-4.8 2.6-4.9 2.6-3.9 2.6-2.9 2.6-3.7 2.6-5.1 2.6-4.6 2.6-4.4 2.6-6.2 2.6-5.3 2.6-3.9 2.6-5.2 2.6-8.5 2.6-8.1 2.6-5.6 2.6-5.2 2.6-5.4 2.6-6.7 2.6-6.3 2.6-4.6 2.6-5.5 2.6-5.1 2.6-3.7 2.6-4 2.6-3.3 2.6-4 2.6-4 2.6-1.3 2.6-1.7 2.6 1.3 2.6 3.5 2.6-0.6 2.6-1 2.6 3.2 2.6 4.7 2.6 4 2.6 5 2.6 4.5 2.6 3.1 2.6 2.8 2.6 3.8 2.6 5.6 2.6 6.8 2.6 8 2.6 6.4 2.6 2.9 2.6 3.9 2.6 7.8 2.6 6.2 2.6 2.1 2.6 3.6 2.6 6.1 2.6 4.6 2.6 2.3 2.6 1 2.6 2.5 2.6 3.9 2.6 3.1 2.6 2.3 2.6 1.9 2.6 2.4 2.6 2.1 2.6 0.7 2.6-0.1 2.6-0.2 2.6 0.4 2.6 1 2.6-1.6 2.6-2.4 2.6-0.5 2.6 1.3 2.6 1.1 2.6-2.3 2.6-3.2 2.6-0.8 2.6-0.5 2.6-1.7 2.6-2.3 2.6-1.3 2.6-1.1 2.6-3.7 2.6-5.5 2.6-3.5 2.6-1.3 2.6-3.3 2.6-5.1 2.6-3.1 2.6-3.3 2.6-6.9 2.6-8.6 2.6-7.3 2.6-6.4 2.6-8 2.6-9.9 2.6-10.8 2.6-10.4 2.6-9.2 2.6-9.2 2.6-9.8 2.6-6.4 2.6-4.5 2.6-7.1 2.6-2.1 2.6 4.5 2.6 7 2.6 9.5 2.6 13.3 2.6 15.7 2.6 14.8 2.6 15.4 2.6 17.4 2.6 17 2.6 15 2.6 13.7 2.6 11.3 2.6 10.4 2.6 11.8 2.6 12 2.6 10.2 2.6 8 2.6 7.2 2.6 7.5 2.6 7.7 2.6 6.8 2.6 4.4 2.6 3.7 2.6 3 2.6 3.3 2.6 5.2 2.6 3.5 2.6 1.8 2.6 2.9 2.6 2.2 2.6 1.6 2.6 2.3 2.6 1.9 2.6 0.2 2.6 1.4 2.6 3.1 2.6 1.2 2.6 0.3 2.6 1.9 2.6 2 2.6 0.2 2.6 0.2 2.6 1.3 2.6 0.3 2.6 0.4 2.6 0.9 2.6-0.1 2.6-0.4 2.6 0.2 2.6 1.4 2.6 1.5 2.6-0.6 2.6-0.7 2.6 0.9 2.6 0.9 2.6-0.3 2.6 0.6 2.6 0.7 2.6-0.5 2.6 1 2.6 0.7 2.6-0.7 2.6-0.1 2.6-0.1 0.8 0" stroke="#1560d0" stroke-width="3.6"/>
<path d="M415.8 1041.6l2.6 0 2.6 0.3 2.6-0.2 2.6 0.5 2.6 1 2.6-0.5 2.6-0.1 2.6 0.2 2.6-0.7 2.6-0.4 2.6 1.8 2.6 1.8 2.6-0.3 2.6-0.1 2.6 0.3 2.6 0 2.6-0.4 2.6-0.7 2.6 0.6 2.6 0.7 2.6-0.4 2.6-0.4 2.6 0.1 2.6 0.8 2.6 0.9 2.6 1.4 2.6 1.9 2.6-0.5 2.6-1.9 2.6-0.7 2.6-1.2 2.6 0.6 2.6 2.3 2.6-1.1 2.6-1.3 2.6 1.9 2.6 1 2.6 0.2 2.6 0.5 2.6 0 2.6-0.4 2.6 0 2.6 0.7 2.6 0.2 2.6 0.1 2.6-0.4 2.6 0.3 2.6 0.8 2.6 0.2 2.6 0.6 2.6-0.3 2.6-0.3 2.6 0.9 2.6-0.7 2.6-0.6 2.6 0.5 2.6-0.7 2.6 0.5 2.6 1.4 2.6-0.5 2.6-0.1 2.6 0.6 2.6-0.6 2.6 0 2.6 2 2.6 0.9 2.6-1 2.6 0.5 2.6 0.9 2.6 0.2 2.6 0.3 2.6-1.7 2.6-0.6 2.6 1.7 2.6-0.4 2.6-0.5 2.6 0.4 2.6-0.6 2.6-1 2.6 0 2.6 0.9 2.6-0.1 2.6-2.1 2.6-2 2.6-1.2 2.6-2.9 2.6-2.2 2.6-0.1 2.6 0.5 2.6 1.4 2.6 1.2 2.6 2.2 2.6 3.3 2.6 2.1 2.6 1.6 2.6 0.2 2.6-1 2.6 0.3 2.6 0.8 2.6-0.4 2.6-0.8 2.6-0.1 2.6 1 2.6 0.6 2.6-1 2.6 0.1 2.6 2.6 2.6 0.4 2.6-1.7 2.6-0.9 2.6-0.8 2.6-0.8 2.6 0.7 2.6 1.6 2.6 0.4 2.6-0.3 2.6-0.3 2.6-0.1 2.6 0.5 2.6 0.8 2.6 0.3 2.6 0.1 2.6 0.2 2.6 0.4 2.6-0.3 2.6-1.3 2.6-0.6 2.6 0.7 2.6 2 2.6 1.3 2.6-0.9 2.6-1.5 2.6-1.2 2.6-0.7 2.6-0.3 2.6 0 2.6 0.9 2.6 1.4 2.6 0.5 2.6-0.4 2.6 0.6 2.6 0.3 2.6-1 2.6-0.5 2.6 0.3 2.6 0.4 2.6-0.6 2.6 0.1 2.6 1.2 2.6 1 2.6 0.7 2.6-0.8 2.6-1 2.6 0.4 2.6-0.1 2.6 0.1 2.6 0.7 2.6-0.1 2.6-0.8 2.6-0.8 2.6 0.2 2.6 1.3 2.6 1.8 2.6-0.6 2.6-1.7 2.6 1.3 2.6 0.7 2.6-1 2.6 0.2 2.6-0.8 2.6-0.8 2.6 0.3 2.6 0.8 2.6 1.8 2.6 0.6 2.6-1.1 2.6-0.5 2.6-0.2 2.6 0.2 2.6 1.5 2.6 0.8 2.6-1.4 2.6-0.9 2.6-1.2 2.6-0.7 2.6 1.1 2.6 1.2 2.6 0.3 2.6-0.6 2.6-0.2 2.6 0.1 2.6 0.4 2.6 0.8 2.6-0.5 2.6-1.2 2.6 0.6 2.6 1.8 2.6-1 2.6-1.7 2.6 1.4 2.6 0.2 2.6-2.4 2.6-0.6 2.6 2.2 2.6 1.8 2.6 0.2 2.6-0.1 2.6 0.3 2.6-0.4 2.6-0.9 2.6-0.6 2.6-0.2 2.6 0.7 2.6 0.4 2.6-1.1 2.6-0.2 2.6 0.8 2.6-0.3 2.6-0.7 2.6-0.1 2.6-0.3 2.6-1 2.6-0.2 2.6 0.8 2.6 0.7 2.6 0.2 2.6-0.9 2.6-1.4 2.6-0.6 2.6 0.4 2.6 0.6 2.6 0 2.6-0.3 2.6-0.1 2.6-0.7 2.6-0.4 2.6 0 2.6-0.8 2.6-0.8 2.6-0.4 2.6-0.2 2.6-1.3 2.6-1.2 2.6 0 2.6 0.3 2.6 0.5 2.6 0.6 2.6 0 2.6-1 2.6-1 2.6-0.2 2.6 0.3 2.6-1.1 2.6-2.2 2.6-0.4 2.6 0.6 2.6-2.2 2.6-3.3 2.6 0 2.6 2.1 2.6 1.5 2.6-1.7 2.6-2.8 2.6-1.3 2.6-1 2.6-0.9 2.6-0.6 2.6 0.2 2.6-0.7 2.6-2.3 2.6 0 2.6-0.2 2.6-2.3 2.6-1.2 2.6 0 2.6 0 2.6-1.2 2.6-0.9 2.6 0.2 2.6-0.9 2.6-1.4 2.6-0.7 2.6-0.3 2.6-1.1 2.6-2.4 2.6-2.2 2.6-1.3 2.6 0 2.6 0.5 2.6-0.9 2.6-2.1 2.6-2.8 2.6-3.5 2.6-2.4 2.6 0.5 2.6 1.8 2.6-0.1 2.6-2 2.6-2.6 2.6-2.8 2.6-1.1 2.6-0.6 2.6-2.4 2.6-2 2.6-0.8 2.6-1.2 2.6-1.2 2.6-1.9 2.6-2.6 2.6-2.7 2.6-3 2.6-2.9 2.6-1.6 2.6-0.2 2.6-1.2 2.6-2.9 2.6-3.4 2.6-2.9 2.6-3.3 2.6-4.7 2.6-3.2 2.6-1.6 2.6-2.6 2.6-3.7 2.6-4 2.6-3 2.6-2.7 2.6-3.7 2.6-4.3 2.6-6.2 2.6-5.5 2.6-3.7 2.6-4.9 2.6-4.8 2.6-6.3 2.6-8 2.6-5.6 2.6-3.9 2.6-4.8 2.6-6 2.6-6 2.6-5.5 2.6-5.1 2.6-5.8 2.6-5.2 2.6-6.1 2.6-8.4 2.6-5 2.6-1.4 2.6-2.9 2.6-4.5 2.6-4 2.6-2.6 2.6-1.7 2.6-2.7 2.6-3.2 2.6 0.2 2.6 2 2.6 0.5 2.6 1.6 2.6 2.5 2.6 2 2.6 2.3 2.6 2.1 2.6 3.9 2.6 6.3 2.6 4.3 2.6 1.8 2.6 4.5 2.6 7.7 2.6 6.3 2.6 3.9 2.6 5.2 2.6 5.9 2.6 4.5 2.6 5.1 2.6 5.3 2.6 5.2 2.6 4.7 2.6 3.8 2.6 2.6 2.6 2.9 2.6 4.4 2.6 2.5 2.6 1.6 2.6 1.2 2.6 1.4 2.6 1.8 2.6 0.4 2.6 1.4 2.6 0.2 2.6-0.7 2.6 2.3 2.6 2.4 2.6-0.6 2.6-1.9 2.6-1.7 2.6-1.7 2.6-1.6 2.6-0.1 2.6 0.3 2.6-0.6 2.6-0.5 2.6-1.6 2.6-1.1 2.6-2 2.6-4.6 2.6-3.6 2.6-1.7 2.6-0.4 2.6-2.8 2.6-4.8 2.6-4.5 2.6-4.5 2.6-4.7 2.6-5 2.6-6.9 2.6-8.7 2.6-6.6 2.6-7.4 2.6-11.2 2.6-10.9 2.6-9.9 2.6-10 2.6-9.8 2.6-8 2.6-5.7 2.6-5.8 2.6-5.7 2.6-3.6 2.6 1.8 2.6 8.4 2.6 10.2 2.6 11.6 2.6 14.9 2.6 15.4 2.6 17 2.6 17.6 2.6 14.6 2.6 14.9 2.6 15.7 2.6 13.9 2.6 10.5 2.6 7.5 2.6 8.5 2.6 9.9 2.6 9.9 2.6 8.8 2.6 5 2.6 4.3 2.6 7.2 2.6 6.9 2.6 4.5 2.6 3.8 2.6 4 2.6 4.3 2.6 3.7 2.6 2.6 2.6 2.1 2.6 1.8 2.6 1.4 2.6 1.8 2.6 2.6 2.6 2.4 2.6 1.8 2.6 0.9 2.6 0.6 2.6 1.3 2.6 1.4 2.6 1.2 2.6 1.3 2.6 2 2.6 1 2.6-1.2 2.6 0.2 2.6 0.6 2.6 0 2.6 1 2.6 0.1 2.6 0 2.6 0.3 2.6-0.5 2.6 0.5 2.6 1.8 2.6 1.8 2.6 0.1 2.6-1.8 2.6-1.5 2.6 0.6 2.6 1.1 2.6 0 2.6-1 2.6 0.1 2.6 1.2 0.8 0.2" stroke="#303030" stroke-width="3.6"/>
<path d="M415.8 957.3l2.6 1.3 2.6-0.3 2.6-1.8 2.6 0.3 2.6 1.1 2.6-0.4 2.6-0.6 2.6-0.2 2.6 0 2.6 1.7 2.6 1.5 2.6 0.1 2.6 0.4 2.6-1 2.6-2.3 2.6-0.7 2.6 1.3 2.6 1.9 2.6 1.7 2.6 0 2.6-1.2 2.6-0.1 2.6 1.1 2.6-0.8 2.6-2 2.6 0.2 2.6 1.4 2.6-0.2 2.6-0.7 2.6 0.7 2.6 1.8 2.6 2.3 2.6 1.4 2.6 0.6 2.6-0.7 2.6-2.5 2.6-0.9 2.6 0.5 2.6-0.8 2.6-0.3 2.6 1.4 2.6 0.3 2.6-2.4 2.6-0.4 2.6 0.9 2.6-0.7 2.6 1.3 2.6 1.9 2.6 0.9 2.6 0.6 2.6-0.1 2.6-1 2.6-1.9 2.6 0.4 2.6 1.3 2.6 0 2.6 0.5 2.6-1 2.6-1.2 2.6 0.9 2.6 1.1 2.6-0.5 2.6-0.6 2.6-1.1 2.6-2 2.6-1 2.6 1.2 2.6 2.6 2.6 0.9 2.6-1.2 2.6 0.3 2.6 1.7 2.6-1.9 2.6-2.1 2.6 1.5 2.6 0.7 2.6-1.5 2.6-1.7 2.6-0.8 2.6 0.1 2.6-1.3 2.6-3.7 2.6-3.5 2.6-4.1 2.6-8 2.6-9.5 2.6-7.3 2.6-2.2 2.6 5.2 2.6 10.8 2.6 9.8 2.6 3.7 2.6 1.6 2.6 2.8 2.6 3.5 2.6 3.6 2.6-0.8 2.6-2.7 2.6 0.7 2.6 2.9 2.6 1.1 2.6 0 2.6 0.8 2.6 0.9 2.6 0.1 2.6-1.2 2.6-1.8 2.6-1.1 2.6 1.2 2.6 1.5 2.6 0.6 2.6 0.3 2.6-0.8 2.6-0.9 2.6-0.9 2.6 0.7 2.6 1.6 2.6-1.3 2.6-0.8 2.6 0.1 2.6-1 2.6-0.7 2.6-1.3 2.6-0.2 2.6 1.1 2.6 0.1 2.6 0.6 2.6 1.7 2.6 1.4 2.6-0.4 2.6-1.6 2.6-1 2.6-1.1 2.6 0.3 2.6 1 2.6-1.1 2.6-0.9 2.6 0 2.6-0.1 2.6 0.2 2.6-0.6 2.6-0.2 2.6 1.7 2.6 0.9 2.6-1.6 2.6-1.8 2.6-1 2.6 0.9 2.6 2.9 2.6-0.2 2.6-2.4 2.6-1.8 2.6-1 2.6 1.4 2.6 0.5 2.6-2.4 2.6 0.2 2.6 2.3 2.6-1.4 2.6-1.1 2.6 1 2.6-0.5 2.6-1.2 2.6-0.3 2.6 0.7 2.6 0.1 2.6-0.9 2.6-0.5 2.6-0.3 2.6-0.4 2.6-1.2 2.6-1.2 2.6-0.3 2.6 0.7 2.6 0.7 2.6-1.3 2.6-0.7 2.6 0.5 2.6 1.2 2.6 0.8 2.6-2 2.6-0.4 2.6 0.4 2.6-1.9 2.6-1.3 2.6-0.5 2.6-0.8 2.6-0.7 2.6-0.2 2.6-0.3 2.6-1.4 2.6 0.6 2.6 1.6 2.6-1 2.6-0.8 2.6-1 2.6-2.9 2.6-0.3 2.6 2.1 2.6-0.4 2.6-2 2.6-0.1 2.6 0.9 2.6 0.2 2.6-2.6 2.6-2.3 2.6 0.4 2.6-1.2 2.6-2.6 2.6-1 2.6-0.3 2.6-0.4 2.6 0.9 2.6 1.9 2.6 0.6 2.6-2.6 2.6-3.7 2.6-0.4 2.6 1.3 2.6 0.4 2.6 1.1 2.6-1.5 2.6-4.5 2.6-1.1 2.6 1.4 2.6 0.1 2.6-1.9 2.6-1.9 2.6-1 2.6-0.5 2.6-0.2 2.6-1.8 2.6-2.2 2.6-0.7 2.6-0.2 2.6 0.4 2.6-0.6 2.6-1.7 2.6-0.4 2.6-0.8 2.6-1.4 2.6 0.3 2.6-1.8 2.6-3.5 2.6-1.3 2.6 0.2 2.6-1.2 2.6-1.6 2.6-0.2 2.6-0.7 2.6-2.1 2.6-1.6 2.6-1.6 2.6-2 2.6-0.4 2.6-0.2 2.6-2.7 2.6-2.4 2.6 0.7 2.6 0.2 2.6-1.8 2.6-1.5 2.6-1.2 2.6-2.8 2.6-2 2.6 0.4 2.6 0 2.6-1.6 2.6-2.4 2.6-1.4 2.6-1.7 2.6-2 2.6-2.5 2.6-4.1 2.6-1.3 2.6 2 2.6-1.7 2.6-3.3 2.6-1.1 2.6-2.2 2.6-4.1 2.6-4 2.6-1.4 2.6-0.1 2.6-1.2 2.6-1.8 2.6-1.3 2.6-0.4 2.6-1.6 2.6-4.7 2.6-5.1 2.6-1.1 2.6 0.5 2.6-2.6 2.6-3.7 2.6-2.5 2.6-2.7 2.6-3.7 2.6-3.1 2.6-3.3 2.6-1.7 2.6-0.2 2.6-4.7 2.6-5.8 2.6-3 2.6-3.1 2.6-2.5 2.6-2.1 2.6-4.6 2.6-5.6 2.6-4.9 2.6-2.3 2.6-1.6 2.6-3.4 2.6-3.3 2.6-4.6 2.6-6.2 2.6-5.8 2.6-5.9 2.6-4.9 2.6-4.3 2.6-6.1 2.6-5.9 2.6-3.9 2.6-5.4 2.6-8.3 2.6-8.3 2.6-6.9 2.6-6.1 2.6-7 2.6-8.8 2.6-9.1 2.6-10 2.6-8.8 2.6-7.8 2.6-7.1 2.6-6.1 2.6-10.7 2.6-12.9 2.6-10.9 2.6-9 2.6-9 2.6-7.7 2.6-9.5 2.6-13.7 2.6-10.1 2.6-9.3 2.6-10.9 2.6-7.8 2.6-6 2.6-3.4 2.6-4.5 2.6-6.4 2.6-4.6 2.6-2.4 2.6-0.6 2.6-2.5 2.6-0.5 2.6 1.5 2.6 0.5 2.6 3.1 2.6 3.8 2.6 3 2.6 5.5 2.6 5.8 2.6 6.5 2.6 8.6 2.6 8.8 2.6 8.8 2.6 7.5 2.6 8.6 2.6 11.6 2.6 11 2.6 8.2 2.6 5.2 2.6 4.8 2.6 7.1 2.6 7 2.6 4.6 2.6 4 2.6 5.7 2.6 7 2.6 3.9 2.6 4.1 2.6 5.4 2.6 3.4 2.6 2.7 2.6 1 2.6 1.6 2.6 3.7 2.6 1 2.6-1.5 2.6-1.1 2.6-0.9 2.6-0.9 2.6-0.2 2.6-2 2.6-3.9 2.6-2.3 2.6-1.5 2.6-2.9 2.6-4.8 2.6-3 2.6 0.2 2.6-0.7 2.6-5.4 2.6-6.5 2.6-1.4 2.6-2.7 2.6-8.6 2.6-6.4 2.6-3.4 2.6-5.4 2.6-6.7 2.6-10.9 2.6-13.4 2.6-9.4 2.6-9.6 2.6-13.4 2.6-14.6 2.6-13.7 2.6-13.7 2.6-19.7 2.6-21.9 2.6-16.9 2.6-15.2 2.6-14 2.6-12.2 2.6-5.6 2.6-0.1 2.6 4.8 2.6 14.8 2.6 19.1 2.6 21.1 2.6 23.8 2.6 25.3 2.6 26.7 2.6 23.7 2.6 24.6 2.6 28.9 2.6 25 2.6 19.9 2.6 17.2 2.6 15.2 2.6 16.1 2.6 16.1 2.6 12.5 2.6 12 2.6 15.5 2.6 12.3 2.6 7.3 2.6 7.5 2.6 8.7 2.6 8.6 2.6 6.8 2.6 4.8 2.6 4.9 2.6 5.3 2.6 3.2 2.6 1.5 2.6 2.1 2.6 3.7 2.6 5.1 2.6 3.9 2.6 2.4 2.6 2.4 2.6 2.3 2.6 3.4 2.6 3.1 2.6-0.2 2.6 0.9 2.6 3.4 2.6 0.2 2.6-1.8 2.6 0.4 2.6 2.1 2.6 0.2 2.6-1.1 2.6 1.8 2.6 3.6 2.6 1 2.6-1 2.6 1.1 2.6 1.9 2.6 0.2 2.6-0.2 2.6 0.7 2.6 0.8 2.6 1.2 2.6-0.2 2.6-3.1 2.6-1.6 2.6 1.3 2.6 2.1 0.8 1" stroke="#5b9bd5" stroke-width="3.6"/>
</g>
<g clip-path="url(#cb)" fill="none" stroke-linejoin="round" stroke-linecap="round">
<path d="M335.2 2468.8l2.6 0.4 2.6 0.8 2.6-0.1 2.6 0 2.6 0 2.6-0.6 2.6-0.7 2.6 0.1 2.6 0.3 2.6-0.2 2.6 0.6 2.6 0.6 2.6 0 2.6-0.1 2.6-0.4 2.6-0.3 2.6 0.4 2.6-0.1 2.6-0.4 2.6 0 2.6 0.1 2.6 0.7 2.6 0.9 2.6 0.5 2.6-0.5 2.6-1.1 2.6-0.1 2.6 0.8 2.6 0.2 2.6-0.4 2.6-0.2 2.6 0.2 2.6 0.6 2.6-0.2 2.6-0.7 2.6 0.4 2.6-0.1 2.6-0.1 2.6 0.7 2.6-0.4 2.6-0.2 2.6 0.2 2.6 0.3 2.6 1 2.6-0.2 2.6-1.3 2.6-0.2 2.6-0.1 2.6-0.2 2.6 0.4 2.6 0.1 2.6-0.4 2.6-0.2 2.6 0.1 2.6 0.4 2.6 0.7 2.6 0.4 2.6-0.3 2.6-0.3 2.6-0.5 2.6-0.5 2.6 0.5 2.6 0.2 2.6-0.4 2.6 0.4 2.6 0.5 2.6 0.2 2.6 0.6 2.6 0.3 2.6-0.3 2.6 0.1 2.6 0.2 2.6-0.2 2.6 0 2.6 0.7 2.6 0.3 2.6-1.1 2.6-1.2 2.6-0.1 2.6 0.5 2.6 0.3 2.6 0.1 2.6 0.6 2.6 0.1 2.6-0.1 2.6 0.4 2.6-0.4 2.6-1 2.6-0.4 2.6 0.4 2.6-0.1 2.6-0.3 2.6-0.3 2.6-1.1 2.6-3.5 2.6-3 2.6 1.4 2.6 2.3 2.6 1.2 2.6 2.1 2.6 1.9 2.6 0.3 2.6-0.5 2.6-0.1 2.6 0.6 2.6-0.2 2.6-0.2 2.6 0.4 2.6 0.1 2.6-0.4 2.6-1.3 2.6-2.3 2.6-3.5 2.6-0.6 2.6 3.3 2.6 2.7 2.6 0.7 2.6 0 2.6 0.7 2.6 0.8 2.6 0.9 2.6 0.7 2.6 0.3 2.6-0.1 2.6-0.3 2.6-0.6 2.6 0 2.6 0.6 2.6 1.2 2.6 0.8 2.6-0.8 2.6-1.2 2.6 0.6 2.6 1.8 2.6 0 2.6-1.3 2.6-0.2 2.6 0 2.6-0.4 2.6 0.2 2.6 0.7 2.6-0.4 2.6-0.9 2.6 0.3 2.6 0.4 2.6-0.3 2.6 0.1 2.6 0.3 2.6-0.5 2.6-0.2 2.6 0.2 2.6 0.2 2.6 0.4 2.6-0.2 2.6 0.2 2.6 0.6 2.6-0.4 2.6-0.5 2.6 0.4 2.6 0.5 2.6 0.1 2.6-0.2 2.6-1.3 2.6-0.8 2.6 0.3 2.6 0.7 2.6 0.4 2.6 0.6 2.6 0.6 2.6-0.3 2.6-0.7 2.6 0.4 2.6 0.6 2.6-0.1 2.6-0.3 2.6 0.1 2.6-0.2 2.6-0.5 2.6 0 2.6 0.7 2.6 0.1 2.6 0.1 2.6-0.5 2.6-0.9 2.6 0.2 2.6 0.6 2.6-0.1 2.6-0.3 2.6 0 2.6 0.2 2.6 0.1 2.6 0 2.6 0.1 2.6 0.1 2.6 0 2.6-0.5 2.6-0.3 2.6 0.5 2.6 0 2.6-0.2 2.6-0.2 2.6-0.6 2.6 0.4 2.6 1.1 2.6 0 2.6-0.9 2.6-1 2.6-0.1 2.6 0.8 2.6 0 2.6-0.5 2.6-0.4 2.6-0.7 2.6-0.5 2.6-0.1 2.6-0.3 2.6 0.1 2.6 0.5 2.6 0.4 2.6-0.3 2.6-1 2.6-0.6 2.6 0.1 2.6 0.6 2.6 0 2.6-0.8 2.6-0.6 2.6 0.1 2.6 0.4 2.6 0.1 2.6-0.6 2.6-0.2 2.6-0.2 2.6-0.5 2.6 0 2.6-0.1 2.6-0.2 2.6 0.1 2.6 0.2 2.6-0.4 2.6-0.7 2.6-0.1 2.6-0.2 2.6-0.8 2.6-0.3 2.6 0.1 2.6-0.5 2.6-0.5 2.6 0.3 2.6 0.1 2.6 0.1 2.6 1 2.6 0.1 2.6-1.3 2.6-0.9 2.6 0.2 2.6 0.5 2.6-0.3 2.6-0.6 2.6 0.5 2.6 0.2 2.6-0.9 2.6-0.5 2.6-0.3 2.6-0.6 2.6-0.3 2.6 0.4 2.6 1 2.6 0.5 2.6-0.9 2.6-1 2.6-0.8 2.6-0.4 2.6 0 2.6-0.1 2.6 0.3 2.6 0.4 2.6 0.1 2.6-0.4 2.6-0.9 2.6-0.4 2.6 0.1 2.6-1 2.6-0.5 2.6 1.1 2.6 0.1 2.6-1 2.6-1.1 2.6-0.9 2.6 0.3 2.6 0.9 2.6 0.3 2.6-0.5 2.6-0.6 2.6-0.1 2.6-0.5 2.6-0.7 2.6-0.1 2.6-0.3 2.6-0.1 2.6 0.2 2.6-0.6 2.6-0.6 2.6-0.6 2.6-0.5 2.6-0.8 2.6-1.4 2.6 0.1 2.6 1.6 2.6 0 2.6-1.9 2.6-0.9 2.6 0.2 2.6 0.2 2.6 0.2 2.6-1.5 2.6-2.7 2.6-0.7 2.6 0.2 2.6-0.3 2.6 0 2.6-1.1 2.6-1 2.6 0 2.6-0.3 2.6-0.9 2.6-1.7 2.6-1.9 2.6-0.9 2.6-0.7 2.6-0.4 2.6-0.6 2.6-1.9 2.6-0.6 2.6 0 2.6-1.3 2.6-1.5 2.6-1.7 2.6-0.9 2.6-0.8 2.6-3 2.6-1.9 2.6-0.7 2.6-2.2 2.6-2.2 2.6-1.6 2.6-1.1 2.6-0.7 2.6-1.7 2.6-2.5 2.6-2.6 2.6-0.9 2.6-1.6 2.6-3.5 2.6-2.6 2.6-1.9 2.6-2.5 2.6-3.3 2.6-2.7 2.6-1.6 2.6-2.1 2.6-3.1 2.6-3.4 2.6-2.9 2.6-2.8 2.6-3.3 2.6-3.1 2.6-3.5 2.6-3.8 2.6-4.1 2.6-4.7 2.6-4 2.6-3.2 2.6-2.8 2.6-2.7 2.6-3.2 2.6-2.7 2.6-2.6 2.6-2.2 2.6-1.5 2.6-2.4 2.6-2.8 2.6-2 2.6-0.9 2.6-0.2 2.6-0.6 2.6-0.6 2.6 0.5 2.6 0.5 2.6-0.2 2.6 0.9 2.6 2.5 2.6 2 2.6 0.6 2.6 1.5 2.6 3.2 2.6 3.9 2.6 3 2.6 2 2.6 2.6 2.6 3 2.6 3.3 2.6 3.3 2.6 3.5 2.6 2.6 2.6 1.9 2.6 3.8 2.6 3.5 2.6 2.5 2.6 1.9 2.6 2.3 2.6 3.4 2.6 1.9 2.6 1.1 2.6 1.8 2.6 2.1 2.6 2.5 2.6 2.3 2.6 1 2.6 0 2.6 0.1 2.6 0.4 2.6 0.4 2.6 1 2.6 0.9 2.6 0.9 2.6 0.7 2.6-0.2 2.6 0.1 2.6-1 2.6-1.1 2.6 0.7 2.6-0.1 2.6-1 2.6-0.5 2.6-0.3 2.6-1.1 2.6-1 2.6 0.7 2.6-1.1 2.6-2.8 2.6-0.9 2.6 0.1 2.6-1.1 2.6-2.9 2.6-3.1 2.6-0.8 2.6-0.7 2.6-2.3 2.6-3 2.6-3.6 2.6-3.4 2.6-3.3 2.6-4.1 2.6-4.5 2.6-4.1 2.6-3.7 2.6-4.5 2.6-5.7 2.6-6 2.6-6.3 2.6-6.1 2.6-3.3 2.6-2.6 2.6-2.7 2.6-0.6 2.6 0.9 2.6 2.9 2.6 4.1 2.6 4.8 2.6 6.6 2.6 8 2.6 9.3 2.6 9.6 2.6 8.4 2.6 7.4 2.6 7.3 2.6 7 2.6 7.2 2.6 7.1 2.6 6.1 2.6 5.8 2.6 4.1 2.6 2.9 2.6 4.5 2.6 4.7 2.6 2.8 2.6 3 2.6 3.2 2.6 3.1 2.6 3.3 2.6 2.9 2.6 2 2.6 1.8 2.6 2.2 2.6 1.3 2.6 1 2.6 1.3 2.6 0.6 2.6 0.8 2.6 1.5 2.6 0.9 2.6 1.5 2.6 1.1 2.6-0.1 2.6 0.3 2.6 1.3 2.6 0.9 2.6 0.3 2.6 0.1 2.6 0.1 2.6 0.4 2.6 0 2.6-0.2 2.6-0.1 2.6-0.1 2.6 0.6 2.6-0.2 2.6-1.5 2.6-0.2 2.6 0.6 2.6 0 2.6 0.1 2.6 0.1 2.6-0.5 2.6-0.7 2.6 0.2 2.6 0.5 2.6-0.8 2.6-0.4 2.6 0.3 2.6-0.3 2.6-0.1 2.6-0.1 2.6-0.9 2.6-0.7 0.7 0.4" stroke="#9c9c12" stroke-width="3.6"/>
<path d="M335.2 2484.9l2.6 0.6 2.6-0.7 2.6-0.9 2.6-0.1 2.6 0.3 2.6 0.1 2.6-0.2 2.6-0.2 2.6-0.4 2.6 0 2.6 0 2.6-0.4 2.6 0.1 2.6-0.1 2.6 0.1 2.6 0 2.6-0.4 2.6 0.1 2.6 0.4 2.6 0.1 2.6-0.2 2.6 0.1 2.6 0.4 2.6 0.8 2.6 0.4 2.6-0.9 2.6-1.1 2.6-0.5 2.6-0.2 2.6-0.4 2.6 0 2.6 1 2.6 0.4 2.6-0.4 2.6 0.2 2.6-0.3 2.6-0.7 2.6-0.2 2.6 0.6 2.6 0.7 2.6-0.4 2.6-0.3 2.6 0.6 2.6-0.2 2.6 0.2 2.6 0.3 2.6-0.8 2.6 0 2.6-0.2 2.6-0.2 2.6 0.8 2.6-0.1 2.6-0.2 2.6 0.1 2.6-0.2 2.6-0.3 2.6 0.3 2.6-0.2 2.6-0.3 2.6 0.3 2.6 0.2 2.6-0.3 2.6-0.6 2.6 0.1 2.6 0.7 2.6 0.3 2.6-0.5 2.6-0.4 2.6-0.2 2.6 0.3 2.6 0.2 2.6-0.8 2.6 0.5 2.6 1.3 2.6-0.1 2.6-1.2 2.6-0.3 2.6 0.4 2.6 0 2.6 0 2.6-0.2 2.6-0.5 2.6 0 2.6 0.9 2.6 0.2 2.6-0.7 2.6 0.3 2.6 0.1 2.6-0.9 2.6 0.5 2.6 1.4 2.6 0.1 2.6-0.5 2.6-0.2 2.6-1.2 2.6-1.9 2.6-0.1 2.6 1.2 2.6 0.3 2.6 0 2.6 0.9 2.6 0.3 2.6-0.7 2.6-0.3 2.6-0.1 2.6 0.1 2.6 0.1 2.6-0.6 2.6 0.2 2.6 0.5 2.6-0.1 2.6-0.5 2.6-0.1 2.6 0.4 2.6 0.1 2.6 0.4 2.6 0.4 2.6-0.5 2.6-0.8 2.6-0.4 2.6 0.2 2.6 0.6 2.6 0.2 2.6-0.5 2.6-0.3 2.6 0.5 2.6 0.8 2.6-0.3 2.6-1.3 2.6-0.2 2.6 0.3 2.6-0.3 2.6 0.1 2.6-0.2 2.6-0.1 2.6 0.8 2.6 0.8 2.6 0 2.6-0.9 2.6-0.8 2.6-0.2 2.6 0.1 2.6 0 2.6 0.1 2.6 0.5 2.6-0.3 2.6-0.3 2.6-0.3 2.6-0.5 2.6-0.1 2.6-0.1 2.6 0.3 2.6 0 2.6-0.6 2.6 0.1 2.6 0.8 2.6 0.5 2.6 0.3 2.6-0.3 2.6-0.4 2.6-0.1 2.6-0.1 2.6-0.2 2.6 0.4 2.6 0.6 2.6-0.1 2.6 0 2.6-0.1 2.6-0.8 2.6-0.4 2.6 0.9 2.6 0.5 2.6-1.7 2.6-1.3 2.6 0.8 2.6 0.6 2.6-0.3 2.6-0.7 2.6-0.3 2.6 0.2 2.6 0.3 2.6 0.4 2.6 0.3 2.6-0.1 2.6-0.2 2.6-0.3 2.6 0.1 2.6 0 2.6-0.4 2.6-0.2 2.6 0.4 2.6 0.3 2.6 0 2.6-0.7 2.6-0.6 2.6-0.1 2.6-0.4 2.6-0.3 2.6 0.3 2.6-0.2 2.6-0.4 2.6-0.1 2.6 0.1 2.6-0.4 2.6-0.4 2.6 0.5 2.6 0.4 2.6-0.9 2.6-0.9 2.6 0.1 2.6 0.5 2.6-0.1 2.6 0 2.6 0 2.6-0.3 2.6-0.1 2.6-0.3 2.6-0.3 2.6 0.2 2.6-0.8 2.6-1 2.6 0.2 2.6 1 2.6 1 2.6 0.4 2.6-1.3 2.6-0.8 2.6 1.4 2.6 0.3 2.6-1.4 2.6 0 2.6 0.8 2.6-0.6 2.6-0.3 2.6 0 2.6-0.3 2.6-0.3 2.6-0.6 2.6-0.1 2.6 0.9 2.6 0.2 2.6-0.7 2.6-0.6 2.6-0.1 2.6 0 2.6-0.6 2.6-0.3 2.6 0.3 2.6-0.2 2.6-0.6 2.6-0.3 2.6-0.8 2.6-0.2 2.6 0.5 2.6 1 2.6 0.7 2.6-1 2.6-1 2.6-0.1 2.6-0.2 2.6 0.1 2.6-0.6 2.6 0.1 2.6 0.4 2.6-0.4 2.6-0.3 2.6 0.3 2.6-0.1 2.6-1 2.6-1.2 2.6-0.6 2.6-0.2 2.6 0.5 2.6 0.1 2.6-0.5 2.6-0.7 2.6-1 2.6-0.9 2.6 0.1 2.6-0.1 2.6-0.3 2.6 0.7 2.6-0.1 2.6-1.2 2.6-0.6 2.6-0.5 2.6-0.5 2.6 0.1 2.6-0.4 2.6-0.8 2.6-0.8 2.6-0.5 2.6-0.1 2.6 0.5 2.6 0 2.6-0.9 2.6-0.4 2.6-1.3 2.6-1.6 2.6 0.8 2.6 0.1 2.6-1.4 2.6-0.3 2.6-0.1 2.6-0.9 2.6-1.1 2.6-0.6 2.6-0.4 2.6-0.4 2.6-0.3 2.6-0.5 2.6-0.7 2.6-0.6 2.6-0.3 2.6-1 2.6-1 2.6 0.3 2.6-0.4 2.6-1.5 2.6-0.7 2.6-0.4 2.6-1.6 2.6-1.2 2.6 0.2 2.6-0.5 2.6-0.9 2.6-0.6 2.6-1.2 2.6-1.1 2.6-0.8 2.6-1.1 2.6-0.4 2.6-1.1 2.6-2.5 2.6-1.4 2.6 0.5 2.6-1.5 2.6-2.2 2.6-0.5 2.6-1 2.6-0.7 2.6-0.6 2.6-1.5 2.6-1.5 2.6-1.1 2.6-1.5 2.6-1.4 2.6-1.1 2.6-2.5 2.6-3.2 2.6-1.4 2.6-1.1 2.6-1.7 2.6-2.9 2.6-3.2 2.6-1.4 2.6-1.1 2.6-1.9 2.6-2.7 2.6-2.9 2.6-2.1 2.6-2.1 2.6-2.9 2.6-3.2 2.6-3.1 2.6-2.8 2.6-2.8 2.6-3.4 2.6-3.9 2.6-2.9 2.6-2.6 2.6-3.3 2.6-2.5 2.6-2.3 2.6-4.1 2.6-4.3 2.6-2.8 2.6-2 2.6-1 2.6-1.1 2.6-3.1 2.6-2.7 2.6-0.5 2.6-1.1 2.6-1.9 2.6-0.2 2.6 0.1 2.6-0.2 2.6 0.7 2.6 1 2.6 1.3 2.6 1.7 2.6 1.3 2.6 1.9 2.6 3 2.6 2.8 2.6 2.3 2.6 1.7 2.6 2.2 2.6 2.7 2.6 2.8 2.6 3.2 2.6 3.8 2.6 3.6 2.6 2.9 2.6 2.5 2.6 1.9 2.6 3 2.6 3.8 2.6 2.8 2.6 1.4 2.6 2.4 2.6 3.6 2.6 2.2 2.6 1.4 2.6 1.1 2.6 0 2.6 1.2 2.6 2.4 2.6 1.2 2.6 0.6 2.6 1.4 2.6 2.1 2.6-0.1 2.6-0.7 2.6 0.4 2.6 0.1 2.6 0 2.6-0.4 2.6 0 2.6 0.8 2.6 0 2.6-1.2 2.6-1.2 2.6 0 2.6-1.2 2.6-1.6 2.6 0.7 2.6-0.5 2.6-1.4 2.6-0.7 2.6-1.2 2.6-1 2.6-1.2 2.6-2 2.6-1.4 2.6-2.3 2.6-2.8 2.6-2 2.6-3.1 2.6-3.8 2.6-3 2.6-2.8 2.6-2.7 2.6-3.6 2.6-5.3 2.6-5.4 2.6-4.4 2.6-5.3 2.6-6 2.6-5.1 2.6-5.1 2.6-3.8 2.6-3.5 2.6-4.1 2.6-1.5 2.6 1.9 2.6 3.3 2.6 3.3 2.6 4.7 2.6 5.8 2.6 7 2.6 8.2 2.6 8 2.6 8.4 2.6 8 2.6 6.2 2.6 5.8 2.6 6.6 2.6 6.3 2.6 5.7 2.6 5.3 2.6 4.3 2.6 3.8 2.6 3.4 2.6 3.9 2.6 3.8 2.6 1.8 2.6 1.3 2.6 2.7 2.6 2.6 2.6 2.1 2.6 1.7 2.6 1.6 2.6 1.6 2.6 1.4 2.6 1.1 2.6 0.9 2.6 0.8 2.6 0 2.6 0.6 2.6 1.5 2.6 0.4 2.6 0 2.6 0.4 2.6 0.9 2.6 0.8 2.6-0.2 2.6 0.3 2.6 0.9 2.6-0.3 2.6-0.1 2.6 0.6 2.6-0.2 2.6-0.7 2.6-0.5 2.6 0.2 2.6 1.5 2.6 0.9 2.6-0.6 2.6-0.6 2.6-0.5 2.6-1.4 2.6-0.7 2.6 1.3 2.6 0.8 2.6-0.7 2.6-0.2 2.6-0.4 2.6-0.8 2.6 0 2.6 0 2.6-0.5 2.6-0.6 2.6-0.7 2.6 0.4 0.7 1.6" stroke="#22cccc" stroke-width="3.6"/>
<path d="M335.2 2438.3l2.6-0.5 2.6-0.8 2.6-0.4 2.6 0.3 2.6 0.7 2.6-0.4 2.6-0.8 2.6 0.1 2.6 0.1 2.6-0.8 2.6-0.1 2.6 0.6 2.6-0.8 2.6-0.1 2.6 0.5 2.6-0.5 2.6-0.6 2.6 0 2.6 0.2 2.6 0 2.6 0.1 2.6-0.4 2.6-0.5 2.6 0 2.6 0.1 2.6-0.1 2.6-0.2 2.6 0.4 2.6 0.3 2.6-0.4 2.6-0.1 2.6-0.1 2.6-0.6 2.6-0.2 2.6 0.4 2.6 0.9 2.6 0.2 2.6-0.6 2.6-0.2 2.6-0.5 2.6-0.9 2.6-0.8 2.6-0.2 2.6 0.8 2.6 0.7 2.6-0.1 2.6 0 2.6 0.1 2.6-0.1 2.6-0.7 2.6 0 2.6 1 2.6 0.4 2.6-0.5 2.6-0.3 2.6 0.1 2.6 0.3 2.6-0.2 2.6-1.1 2.6 0 2.6 1 2.6 0 2.6-0.5 2.6 0.2 2.6-0.5 2.6-0.6 2.6 0.7 2.6 0.4 2.6 0 2.6 0.6 2.6 0.3 2.6-1 2.6-0.1 2.6-0.1 2.6-0.8 2.6 0.5 2.6 0.8 2.6-0.4 2.6-0.9 2.6 0.1 2.6 0.7 2.6 0.5 2.6-0.5 2.6-0.9 2.6 0.2 2.6 0.7 2.6-0.8 2.6-2.3 2.6-1.4 2.6 0.9 2.6-0.3 2.6-2.8 2.6-2.6 2.6-3.1 2.6-4.1 2.6-1.5 2.6 2.4 2.6 3.5 2.6 2.7 2.6 2.8 2.6 2.1 2.6 0.9 2.6 0.7 2.6 0 2.6 0.5 2.6 0.9 2.6 0.4 2.6 0.5 2.6-0.4 2.6-0.4 2.6 0.6 2.6 0.4 2.6 0.5 2.6-0.3 2.6-0.1 2.6 0.6 2.6 0.5 2.6 0.8 2.6 0 2.6-1.1 2.6-0.9 2.6 0.2 2.6 0.8 2.6 0 2.6 0.1 2.6 0.4 2.6-1 2.6-1.1 2.6 0.4 2.6 1.1 2.6 0.6 2.6 0.2 2.6-0.2 2.6-0.5 2.6-0.5 2.6 0.4 2.6 0.3 2.6-0.8 2.6-0.1 2.6 0.8 2.6 0.2 2.6 0.3 2.6 0.4 2.6-0.8 2.6-1.3 2.6-0.4 2.6 0.9 2.6 0.8 2.6-0.1 2.6-0.6 2.6 0.2 2.6 0.7 2.6-0.2 2.6 0.2 2.6 0.5 2.6-0.7 2.6-0.3 2.6 0.1 2.6 0.4 2.6 0.4 2.6-0.1 2.6-0.4 2.6 0 2.6 0.8 2.6 0.9 2.6 0.1 2.6-0.4 2.6-0.3 2.6-0.2 2.6-0.4 2.6 0.2 2.6 0.3 2.6-0.2 2.6 0.7 2.6 0.2 2.6-0.6 2.6 0.4 2.6 0.1 2.6-0.9 2.6 0.8 2.6 1.5 2.6-0.4 2.6-0.6 2.6 0 2.6-0.5 2.6-0.5 2.6 0.2 2.6 0.3 2.6 1 2.6 0.7 2.6-0.2 2.6 0.3 2.6-0.1 2.6 0.3 2.6 1.1 2.6 0.3 2.6-0.4 2.6-0.7 2.6-0.2 2.6 0.1 2.6-0.3 2.6 0.6 2.6 1.3 2.6 0.4 2.6-0.1 2.6 0.1 2.6-0.2 2.6-0.4 2.6 0 2.6 0.3 2.6 1 2.6 0.9 2.6 0.6 2.6 0.2 2.6-0.6 2.6-0.5 2.6 0.2 2.6-0.4 2.6-0.1 2.6 1.2 2.6 0.8 2.6 0.3 2.6-0.2 2.6-0.5 2.6 0 2.6 0.6 2.6 0.4 2.6-0.9 2.6 0 2.6 1.8 2.6 0.7 2.6-0.2 2.6 0.4 2.6 0.5 2.6-0.3 2.6-0.2 2.6 1.4 2.6 1 2.6-0.4 2.6-0.9 2.6-0.3 2.6 0.7 2.6 0.2 2.6-0.8 2.6-0.5 2.6 0 2.6 0 2.6-0.3 2.6 0.6 2.6 0.9 2.6-0.8 2.6-0.8 2.6-0.3 2.6-0.2 2.6 0.3 2.6 0.3 2.6 0.3 2.6-0.2 2.6-0.1 2.6 0.4 2.6-0.3 2.6-1.1 2.6-0.4 2.6 0.5 2.6 0.4 2.6-0.7 2.6-0.7 2.6-0.3 2.6-0.2 2.6 0.2 2.6-0.6 2.6-1.2 2.6-0.2 2.6 0.7 2.6 0.6 2.6-0.4 2.6-1.1 2.6-0.2 2.6 0.2 2.6-0.3 2.6-0.6 2.6-0.7 2.6 0.2 2.6 0.5 2.6-0.6 2.6-0.5 2.6-0.1 2.6-0.3 2.6-0.6 2.6-0.7 2.6 0.3 2.6 0.5 2.6-0.6 2.6-0.9 2.6-0.4 2.6-0.3 2.6-0.5 2.6-0.3 2.6-0.4 2.6-0.8 2.6 0.4 2.6 0.2 2.6-1.4 2.6-1.2 2.6-0.7 2.6-0.3 2.6 0.2 2.6 0 2.6-0.4 2.6-0.2 2.6-0.7 2.6-1.7 2.6-0.8 2.6 0.6 2.6 0.2 2.6 0 2.6-0.1 2.6-1 2.6-1.2 2.6-0.7 2.6 0 2.6-0.6 2.6-2.4 2.6-1.1 2.6 0.6 2.6-1.2 2.6-1.5 2.6 0.2 2.6-0.6 2.6-1.8 2.6-1.2 2.6-1.4 2.6-2.4 2.6-1.6 2.6-0.3 2.6-0.4 2.6-1.3 2.6-1.7 2.6-1.6 2.6-2.1 2.6-1.2 2.6-0.7 2.6-2.2 2.6-2.3 2.6-0.8 2.6-0.7 2.6-1.7 2.6-2.2 2.6-2.3 2.6-2 2.6-2.3 2.6-3.1 2.6-2.5 2.6-0.9 2.6-1.9 2.6-3.4 2.6-3.3 2.6-2.6 2.6-2.6 2.6-2.9 2.6-3.3 2.6-4.4 2.6-3.5 2.6-1.1 2.6-2.1 2.6-4.5 2.6-4.6 2.6-4.2 2.6-4.1 2.6-4.9 2.6-4.4 2.6-2.2 2.6-2.9 2.6-3.5 2.6-3.2 2.6-4.1 2.6-2.9 2.6-2.2 2.6-3.7 2.6-4.2 2.6-3.4 2.6-2.3 2.6-0.9 2.6-0.6 2.6-1.4 2.6-1.7 2.6-0.2 2.6 1.2 2.6-0.3 2.6 0.2 2.6 2.2 2.6 2.4 2.6 2.8 2.6 3 2.6 1.8 2.6 0.6 2.6 2.6 2.6 4 2.6 4.6 2.6 4.8 2.6 2.9 2.6 2.2 2.6 3.4 2.6 4.4 2.6 3.5 2.6 3.2 2.6 3.6 2.6 3.3 2.6 2.7 2.6 3.4 2.6 3.2 2.6 0.7 2.6 1.8 2.6 3.5 2.6 2.5 2.6 2.6 2.6 1.4 2.6 0.4 2.6 1.3 2.6 1.3 2.6 1.3 2.6 1.3 2.6 0.8 2.6-0.2 2.6 0.1 2.6 1.5 2.6 1.4 2.6 0.6 2.6-0.2 2.6-1.1 2.6-0.3 2.6-0.1 2.6-0.6 2.6-1 2.6-1.5 2.6-1.2 2.6-0.2 2.6 0.5 2.6 0.3 2.6-1.4 2.6-2.1 2.6-1.8 2.6-2.3 2.6-1.8 2.6-1.1 2.6-1 2.6-2.2 2.6-3.5 2.6-2.6 2.6-2.2 2.6-3.4 2.6-4 2.6-4.4 2.6-4.3 2.6-4.7 2.6-6.1 2.6-6.1 2.6-5.8 2.6-6 2.6-5.7 2.6-5.9 2.6-5.8 2.6-5.2 2.6-4.1 2.6-3.3 2.6-1.3 2.6 2.2 2.6 3.4 2.6 3.2 2.6 5 2.6 7.8 2.6 8.7 2.6 8.4 2.6 8.9 2.6 9.4 2.6 9.3 2.6 7.9 2.6 7.8 2.6 8.5 2.6 7.1 2.6 5.8 2.6 5.7 2.6 5.8 2.6 5.9 2.6 5.1 2.6 4 2.6 3.6 2.6 3.7 2.6 3 2.6 1 2.6 1.5 2.6 3.5 2.6 3.2 2.6 1.6 2.6 0.9 2.6 1.8 2.6 1.7 2.6 0.7 2.6 0.9 2.6 1.6 2.6 1.4 2.6 1.2 2.6 0.8 2.6 0.6 2.6 0.3 2.6 0.1 2.6 0.5 2.6 0.6 2.6 0.3 2.6 0.8 2.6 0.5 2.6-0.6 2.6 0.2 2.6 1 2.6 0.5 2.6-0.1 2.6-0.3 2.6-0.2 2.6 0 2.6-0.4 2.6-0.2 2.6-0.5 2.6-1 2.6 0.3 2.6 0.3 2.6-0.2 2.6-0.2 2.6-0.9 2.6-0.5 2.6 0.6 2.6 0.2 2.6-0.1 2.6 0.2 2.6-0.8 2.6-1 2.6 0 0.7 0.4" stroke="#1f9e7a" stroke-width="3.6"/>
<path d="M335.2 2431l2.6 0.4 2.6-0.4 2.6-0.6 2.6 0.3 2.6 0 2.6-0.5 2.6 0.8 2.6 1.3 2.6-0.4 2.6-1.1 2.6-0.4 2.6 0.2 2.6 0.4 2.6 0.5 2.6 0.2 2.6 0.4 2.6 0.1 2.6 0 2.6-0.2 2.6-0.3 2.6 0 2.6-0.2 2.6-0.5 2.6-0.2 2.6-0.6 2.6 0.4 2.6 0.9 2.6 0.1 2.6-0.1 2.6-0.7 2.6 0.2 2.6 1.5 2.6 0.6 2.6-0.4 2.6-0.7 2.6-0.5 2.6 0.4 2.6-0.1 2.6-0.6 2.6 0 2.6 0.1 2.6-0.1 2.6 0.1 2.6 0.2 2.6 0.1 2.6 0.2 2.6 0.1 2.6 0.1 2.6-0.5 2.6-1 2.6 0.3 2.6 1.3 2.6 0.3 2.6-0.9 2.6-0.7 2.6 0.1 2.6 0 2.6 0.5 2.6 0.4 2.6-0.3 2.6-0.4 2.6-0.8 2.6-0.8 2.6 0.3 2.6 0.4 2.6-0.8 2.6 0.4 2.6 0.5 2.6-1.5 2.6-0.2 2.6 1.3 2.6 0.4 2.6 0.2 2.6-0.5 2.6-0.8 2.6 0 2.6 0.3 2.6 0.1 2.6-0.3 2.6-0.8 2.6-0.6 2.6-0.2 2.6-0.7 2.6-0.2 2.6-0.3 2.6-0.1 2.6 0.3 2.6-0.1 2.6-0.8 2.6-1.7 2.6-2.3 2.6-2.7 2.6-3 2.6-4 2.6-4.8 2.6-2.5 2.6 1.9 2.6 5.1 2.6 5.1 2.6 2.6 2.6 1.3 2.6 2 2.6 1.5 2.6 0.2 2.6 0 2.6 0.1 2.6 0.1 2.6 0.5 2.6 0 2.6-0.6 2.6 0.4 2.6 1.1 2.6 0 2.6 0.1 2.6 0.2 2.6-1 2.6-0.7 2.6 0.6 2.6 0.6 2.6-0.6 2.6-0.9 2.6 0 2.6 0.3 2.6-0.8 2.6-0.5 2.6 1 2.6 0.6 2.6 0.2 2.6 0.3 2.6-1.1 2.6-0.9 2.6 0.7 2.6-0.2 2.6-1 2.6-0.1 2.6 0.5 2.6 0.3 2.6-0.1 2.6-0.5 2.6-0.3 2.6-0.2 2.6 0.4 2.6 0.5 2.6-0.5 2.6-0.2 2.6 0.1 2.6-0.3 2.6-0.4 2.6-0.2 2.6 0.1 2.6 0.3 2.6-0.6 2.6-1 2.6 0.1 2.6 0.6 2.6 0.2 2.6 0 2.6-0.1 2.6-0.6 2.6-0.7 2.6-0.4 2.6-0.5 2.6 0.5 2.6 1.1 2.6 0 2.6 0.3 2.6 0.7 2.6-0.3 2.6-1.3 2.6-1.2 2.6 0.3 2.6 0.5 2.6 0.1 2.6 0 2.6-0.4 2.6 0.3 2.6 0.6 2.6-1.6 2.6-2 2.6 0.6 2.6 0.9 2.6 0.1 2.6 0.4 2.6-0.6 2.6-0.1 2.6 0.9 2.6-0.1 2.6-0.6 2.6-0.3 2.6-0.2 2.6-0.8 2.6-0.7 2.6-0.2 2.6-0.3 2.6 0.1 2.6 0.6 2.6 0 2.6-0.4 2.6-0.3 2.6 0.1 2.6-0.5 2.6-0.8 2.6 0.8 2.6 0.7 2.6-0.8 2.6-0.6 2.6 0.1 2.6-0.6 2.6-0.5 2.6 0.3 2.6 0.2 2.6-0.3 2.6-0.6 2.6-0.1 2.6 0.1 2.6-1.2 2.6-0.7 2.6 1.2 2.6 0 2.6-1 2.6-0.9 2.6-0.9 2.6 0.7 2.6 0.3 2.6-1.4 2.6-1.6 2.6-0.6 2.6-0.1 2.6-0.5 2.6 0 2.6 0.6 2.6-1 2.6-1 2.6 0.4 2.6-0.8 2.6-1.3 2.6-0.2 2.6-0.1 2.6-0.7 2.6-0.3 2.6 0.5 2.6 0.9 2.6 0.2 2.6-1.1 2.6-0.5 2.6 1.5 2.6-0.1 2.6-1.8 2.6 0.3 2.6 1.2 2.6-0.9 2.6-1.5 2.6-0.2 2.6 0.8 2.6-0.6 2.6-1.6 2.6 0 2.6 0.8 2.6 0.3 2.6-0.6 2.6-1.1 2.6-0.5 2.6-0.6 2.6 0 2.6 0.8 2.6-0.5 2.6-0.9 2.6-0.7 2.6-0.8 2.6-0.1 2.6 0.3 2.6 0.2 2.6 0.5 2.6-0.3 2.6-1 2.6 0 2.6 0.4 2.6-0.2 2.6-0.2 2.6-0.8 2.6-0.8 2.6 0.5 2.6-0.1 2.6-1 2.6-0.3 2.6 0.4 2.6 0.3 2.6-0.5 2.6-0.3 2.6 0.1 2.6-0.4 2.6-0.8 2.6-1.4 2.6-0.7 2.6 0.2 2.6-0.1 2.6 0.7 2.6 0.8 2.6-1.1 2.6-1.6 2.6 0.1 2.6 0.2 2.6-0.6 2.6 0.7 2.6 0.7 2.6-1 2.6-1.3 2.6-0.3 2.6 0.7 2.6 1 2.6-0.7 2.6-1.2 2.6-0.4 2.6-0.3 2.6-0.4 2.6 0.6 2.6 0.8 2.6-0.8 2.6-2 2.6-0.5 2.6 0.2 2.6-0.7 2.6-0.2 2.6 0.4 2.6 0.2 2.6-0.9 2.6-1.2 2.6-0.5 2.6-0.6 2.6-1.4 2.6-0.6 2.6 0.3 2.6 0 2.6-0.4 2.6-0.8 2.6-0.6 2.6-0.9 2.6-1 2.6-1 2.6-0.8 2.6-0.1 2.6-0.6 2.6-1.3 2.6-1 2.6-0.7 2.6-0.5 2.6-0.9 2.6-1.6 2.6-1.4 2.6-1.6 2.6-1.1 2.6-0.1 2.6-0.5 2.6-1.3 2.6-0.9 2.6-1.7 2.6-3.1 2.6-2.7 2.6-1.6 2.6-0.7 2.6-1.5 2.6-1.9 2.6-2 2.6-2.2 2.6-1.8 2.6-1.7 2.6-1.5 2.6-1.1 2.6-2.4 2.6-3.7 2.6-3.7 2.6-2.4 2.6-1.9 2.6-1.9 2.6-2.2 2.6-2.4 2.6-0.8 2.6-0.9 2.6-3 2.6-2.3 2.6-0.7 2.6-1.1 2.6-1.5 2.6-0.9 2.6-0.1 2.6 0.1 2.6 0.3 2.6 1.2 2.6 2 2.6 1.1 2.6 1.2 2.6 2.7 2.6 2.3 2.6 1.5 2.6 2.9 2.6 3.6 2.6 2.6 2.6 2.4 2.6 3 2.6 3.7 2.6 3 2.6 2.3 2.6 2.3 2.6 2.6 2.6 3.6 2.6 2.6 2.6 2.4 2.6 3.3 2.6 2.7 2.6 2.6 2.6 2.2 2.6 2.2 2.6 3.1 2.6 2.9 2.6 1.8 2.6 0.5 2.6 0.5 2.6 1.4 2.6 1.3 2.6 1 2.6 0.4 2.6 1 2.6 0.4 2.6-0.4 2.6 0.5 2.6 0.3 2.6-0.1 2.6-0.1 2.6 0.4 2.6 0.3 2.6-1 2.6-1.1 2.6-0.4 2.6-0.8 2.6-1 2.6-0.1 2.6-0.5 2.6-0.9 2.6-0.1 2.6-1.1 2.6-2.4 2.6-1.7 2.6-0.3 2.6-0.6 2.6-2 2.6-2.7 2.6-2.5 2.6-2.3 2.6-2.2 2.6-2.9 2.6-2.1 2.6-1.7 2.6-3.9 2.6-4.3 2.6-4.3 2.6-4.2 2.6-3.9 2.6-5.4 2.6-6.2 2.6-5.8 2.6-5.4 2.6-5.5 2.6-5 2.6-3.5 2.6-2.1 2.6 0 2.6 0.7 2.6 2.5 2.6 5.5 2.6 5.6 2.6 5.1 2.6 6.2 2.6 7.8 2.6 8.4 2.6 8.9 2.6 9 2.6 7.2 2.6 6.3 2.6 7.4 2.6 7.2 2.6 6.1 2.6 5.2 2.6 4.7 2.6 3.3 2.6 3.1 2.6 4.2 2.6 4 2.6 3.2 2.6 2.9 2.6 3.1 2.6 1.7 2.6 1.4 2.6 3 2.6 2.6 2.6 1.1 2.6 0.6 2.6 1.8 2.6 2.2 2.6 0.8 2.6-0.3 2.6 0.5 2.6 1.2 2.6 0.9 2.6 0.3 2.6 0.3 2.6 1.5 2.6 2.1 2.6 1.1 2.6-0.3 2.6-0.4 2.6 0.7 2.6 0.1 2.6-0.3 2.6 0.4 2.6-0.1 2.6-1 2.6-0.4 2.6-0.1 2.6-0.4 2.6 0 2.6 0.6 2.6 0.8 2.6 0.4 2.6-0.5 2.6-0.9 2.6-1 2.6-0.7 2.6-0.5 2.6-0.3 2.6-0.1 2.6 0.2 2.6 0.3 2.6 0 2.6-0.2 2.6-0.2 2.6-0.7 0.7-0.3" stroke="#505050" stroke-width="3.6"/>
<path d="M335.2 2424l2.6 0.5 2.6-1 2.6-0.8 2.6-0.6 2.6-0.4 2.6 0.9 2.6 0.5 2.6-1 2.6-1 2.6 0.3 2.6 1.2 2.6 0.4 2.6-0.7 2.6-0.8 2.6 0.1 2.6 0.5 2.6 0.2 2.6 0.4 2.6 0.2 2.6 0 2.6 0.2 2.6-0.1 2.6-0.4 2.6-0.5 2.6-0.4 2.6 0.3 2.6 1.4 2.6 1.4 2.6-0.1 2.6-0.8 2.6 0 2.6 0.2 2.6-0.4 2.6-0.3 2.6 0.2 2.6 0 2.6 0 2.6 0.4 2.6 0.1 2.6-0.5 2.6 0 2.6 1 2.6 0.7 2.6-0.8 2.6-0.5 2.6 0.1 2.6-0.4 2.6 0 2.6 0.3 2.6-0.1 2.6-0.3 2.6-0.2 2.6 0.7 2.6 0.5 2.6-0.2 2.6 0.3 2.6-0.4 2.6-0.7 2.6 0 2.6-0.1 2.6 0 2.6 0.4 2.6 0 2.6-0.9 2.6-0.1 2.6 1 2.6 0.4 2.6-0.4 2.6 0 2.6-0.6 2.6-0.7 2.6-0.4 2.6-0.3 2.6 0.6 2.6 1 2.6-0.3 2.6-1.6 2.6-0.8 2.6 0.7 2.6-0.1 2.6-1.4 2.6-0.7 2.6-1 2.6-0.9 2.6-0.4 2.6-1.4 2.6-2.7 2.6-3.7 2.6-4.3 2.6-5.7 2.6-8.3 2.6-12.5 2.6-19.8 2.6-27.5 2.6-28.9 2.6-14.1 2.6 14 2.6 28.9 2.6 26.3 2.6 19.9 2.6 13.7 2.6 8.7 2.6 5.9 2.6 4.3 2.6 3.5 2.6 2.6 2.6 1.5 2.6 1.5 2.6 1 2.6 0.6 2.6 0.8 2.6 1.5 2.6 1.6 2.6 0.5 2.6-0.7 2.6-0.4 2.6 0.8 2.6 0.2 2.6-0.1 2.6 0.7 2.6 0.3 2.6 0.2 2.6 0.4 2.6-0.3 2.6-0.5 2.6 0.3 2.6-0.1 2.6-0.6 2.6 0.9 2.6 1.3 2.6 0.6 2.6-0.1 2.6 0.2 2.6 0.9 2.6 0 2.6-0.4 2.6-0.3 2.6 0 2.6 0.7 2.6-0.4 2.6-0.8 2.6 0.3 2.6 0.4 2.6-0.2 2.6-0.6 2.6-0.5 2.6 0.3 2.6 0.3 2.6 0.7 2.6 0.4 2.6-0.4 2.6 0.5 2.6 0.7 2.6 0 2.6-0.2 2.6-0.6 2.6-0.7 2.6 0.1 2.6 0.8 2.6 0.7 2.6 0.2 2.6 0.4 2.6-0.7 2.6-0.9 2.6 0.8 2.6 0.3 2.6-0.5 2.6-0.2 2.6 0.3 2.6 0.9 2.6 0 2.6-0.7 2.6 0.3 2.6 0.2 2.6 0.3 2.6 0.7 2.6-0.2 2.6-0.5 2.6-0.2 2.6 0.7 2.6 0.5 2.6-0.1 2.6 0.4 2.6-0.1 2.6-0.4 2.6-0.1 2.6-0.6 2.6-0.2 2.6 0.7 2.6 0.1 2.6-0.8 2.6-0.2 2.6 0.1 2.6 0.3 2.6 0.6 2.6 0.3 2.6-0.3 2.6-0.9 2.6-0.9 2.6 0.5 2.6 1.4 2.6 0.4 2.6-0.3 2.6 0.3 2.6-0.3 2.6-1.4 2.6-0.1 2.6 1.3 2.6 0.5 2.6 0.2 2.6 0.4 2.6-0.5 2.6-1.1 2.6-0.6 2.6 0.2 2.6 0.7 2.6 1.9 2.6 0.6 2.6-1.6 2.6-0.6 2.6 0.1 2.6-0.2 2.6 1.1 2.6 0.7 2.6-0.8 2.6-1.2 2.6 0.6 2.6 0.8 2.6-0.7 2.6-0.2 2.6 0.6 2.6-0.1 2.6-0.8 2.6-0.2 2.6 0.6 2.6 0.6 2.6-0.1 2.6-0.1 2.6 0.5 2.6 0.4 2.6 0.3 2.6 0 2.6-0.4 2.6-0.7 2.6 0 2.6 0.9 2.6 0.1 2.6-0.1 2.6 0 2.6-0.6 2.6-0.5 2.6-0.3 2.6-0.6 2.6-0.6 2.6 0 2.6 0.1 2.6 0.3 2.6 0.6 2.6-0.1 2.6-1 2.6-1 2.6-0.3 2.6 1 2.6 0.6 2.6-0.4 2.6 0 2.6-0.3 2.6-1.5 2.6-0.7 2.6 0.9 2.6 0.6 2.6-0.3 2.6 0.1 2.6 0.1 2.6-0.9 2.6-0.8 2.6 0 2.6 0.4 2.6 0.1 2.6 0.2 2.6-0.4 2.6-0.8 2.6 1 2.6 0.4 2.6-0.5 2.6-0.3 2.6-0.7 2.6-0.4 2.6-0.2 2.6-0.4 2.6-0.1 2.6-0.1 2.6-0.2 2.6-0.6 2.6-0.3 2.6 0.4 2.6 0.2 2.6-0.4 2.6-0.4 2.6 0 2.6 0.3 2.6-0.6 2.6-1 2.6-0.3 2.6-0.8 2.6-0.7 2.6 0.1 2.6 0 2.6-0.2 2.6-0.4 2.6-0.5 2.6-0.8 2.6-0.1 2.6 0.4 2.6-0.9 2.6-1.5 2.6 0.1 2.6 0.7 2.6-0.6 2.6-0.9 2.6 0.3 2.6 0 2.6-1 2.6-1.2 2.6-1.7 2.6-0.7 2.6 0 2.6-0.8 2.6-0.5 2.6-0.4 2.6-1 2.6-1 2.6-0.8 2.6-1.7 2.6-1.7 2.6-1.2 2.6-1.1 2.6-1.1 2.6-1 2.6-1 2.6-0.7 2.6-1.5 2.6-2.3 2.6-1.3 2.6 0.2 2.6-1.3 2.6-3.2 2.6-2.5 2.6-1.5 2.6-1.2 2.6-0.9 2.6-1.1 2.6-2.3 2.6-3.5 2.6-2.5 2.6-1.2 2.6-1.4 2.6-2.4 2.6-2.9 2.6-1.9 2.6-2.2 2.6-4.6 2.6-4.3 2.6-2.2 2.6-2.9 2.6-3.2 2.6-2.9 2.6-3.5 2.6-3.1 2.6-3.5 2.6-3.9 2.6-3.5 2.6-3 2.6-3.3 2.6-3.4 2.6-3.1 2.6-3.3 2.6-2.3 2.6-2 2.6-2.7 2.6-2 2.6-2.1 2.6-2.5 2.6-2.1 2.6-1.2 2.6 0 2.6 1.1 2.6 1 2.6 0.1 2.6 0.4 2.6 1.4 2.6 1.8 2.6 1.6 2.6 2.1 2.6 3.1 2.6 2.1 2.6 2.2 2.6 4.3 2.6 3.8 2.6 2.9 2.6 2.9 2.6 2.6 2.6 2.9 2.6 3.9 2.6 3.8 2.6 3.8 2.6 3.2 2.6 2.9 2.6 2.7 2.6 2.4 2.6 3.1 2.6 3.2 2.6 2.7 2.6 2.3 2.6 2.1 2.6 2.2 2.6 1.8 2.6 0.2 2.6 0.9 2.6 1.9 2.6 0.5 2.6 0.7 2.6 1.4 2.6 0.6 2.6 0.2 2.6 1.1 2.6 0.1 2.6-0.4 2.6 1.7 2.6 0.7 2.6-1.2 2.6-0.6 2.6-0.2 2.6-0.4 2.6-1.3 2.6-2.6 2.6-0.9 2.6 0.4 2.6-1 2.6-1.9 2.6-1.7 2.6-1.5 2.6-2 2.6-1.2 2.6-1 2.6-2.1 2.6-3.1 2.6-3.6 2.6-2 2.6-2 2.6-4 2.6-3.9 2.6-2.4 2.6-4 2.6-6.5 2.6-5.4 2.6-4.5 2.6-6.2 2.6-5.6 2.6-5.2 2.6-7.1 2.6-6.5 2.6-4.9 2.6-5.2 2.6-3.6 2.6-0.3 2.6 2 2.6 3.3 2.6 2.7 2.6 4.4 2.6 8.1 2.6 7.5 2.6 5.7 2.6 6.3 2.6 8.1 2.6 8.6 2.6 8 2.6 6.6 2.6 5.6 2.6 5.9 2.6 5.5 2.6 5.5 2.6 4.5 2.6 3.6 2.6 4.1 2.6 3.3 2.6 3.6 2.6 3.6 2.6 2 2.6 1.3 2.6 2.2 2.6 2.8 2.6 1.5 2.6 0.1 2.6 0.7 2.6 1.6 2.6 2.3 2.6 2.5 2.6 0.1 2.6-0.6 2.6 0.7 2.6 0.8 2.6 0.6 2.6 0.8 2.6 0.9 2.6 0.3 2.6-0.1 2.6 0.3 2.6-0.3 2.6-0.6 2.6 0.4 2.6 1.1 2.6 0.7 2.6-0.6 2.6-1.1 2.6-0.1 2.6 0.6 2.6 0.2 2.6-0.3 2.6-0.1 2.6 1 2.6 0 2.6-2 2.6-0.6 2.6 0.4 2.6 0.2 2.6 0.2 2.6-0.6 2.6-0.5 2.6 0.1 2.6 0.2 2.6-0.3 2.6-0.8 2.6-0.5 2.6 0 2.6 0.3 0.7 0.4" stroke="#c9a000" stroke-width="3.6"/>
<path d="M335.2 2417.3l2.6 0.7 2.6 0.9 2.6 0.6 2.6 0.6 2.6 0.3 2.6-0.1 2.6-0.6 2.6-0.3 2.6 0.5 2.6 0.7 2.6 0.1 2.6-0.5 2.6-0.1 2.6 1.2 2.6 0.1 2.6-1.4 2.6 0.5 2.6 0.7 2.6-1.2 2.6-0.8 2.6 1.3 2.6 1.6 2.6 0 2.6-0.1 2.6 0.5 2.6-0.3 2.6-0.8 2.6 0.3 2.6 0 2.6-0.4 2.6 0.1 2.6 0.5 2.6 0.5 2.6 0.1 2.6 0.8 2.6 0.5 2.6-0.8 2.6 0.1 2.6 0.5 2.6 0.3 2.6 0.6 2.6 0.5 2.6-0.4 2.6-1.3 2.6-0.8 2.6 1 2.6 0.4 2.6-0.6 2.6 0.7 2.6 1.5 2.6 0 2.6-1.5 2.6-0.8 2.6 0.8 2.6 0.7 2.6 0.1 2.6 0.2 2.6-0.2 2.6-0.3 2.6-0.1 2.6-0.1 2.6 0.2 2.6-0.3 2.6-0.1 2.6 0.6 2.6 0.2 2.6-0.6 2.6-0.5 2.6 0.3 2.6-0.4 2.6-0.1 2.6 0.2 2.6 0.4 2.6 1 2.6-0.4 2.6-0.8 2.6-0.3 2.6-0.2 2.6 0.2 2.6-0.4 2.6-0.8 2.6 0.3 2.6 0.1 2.6-1.1 2.6-0.6 2.6-0.8 2.6-1.3 2.6-1.1 2.6-1.8 2.6-3.4 2.6-4.7 2.6-6 2.6-8.9 2.6-12.6 2.6-11.8 2.6-4.7 2.6 6.3 2.6 12.3 2.6 10.7 2.6 8.6 2.6 6.5 2.6 4.3 2.6 2.8 2.6 2.5 2.6 1.4 2.6 0.2 2.6 1.5 2.6 2.3 2.6 0.6 2.6-0.1 2.6 0.1 2.6 0.3 2.6 1.3 2.6 1.2 2.6-0.2 2.6-0.8 2.6-0.6 2.6-0.3 2.6 0.1 2.6 0.7 2.6 0.4 2.6 0 2.6 0.4 2.6 0.6 2.6-0.2 2.6-1 2.6-0.6 2.6 0.9 2.6 1.1 2.6 0 2.6 0.4 2.6 0 2.6-0.2 2.6 1 2.6 0.4 2.6-1 2.6-1.4 2.6 0.3 2.6 1.1 2.6 0.1 2.6-0.3 2.6 0.2 2.6 0 2.6-0.4 2.6 0.2 2.6 0.6 2.6 0.6 2.6-0.3 2.6-0.8 2.6 0.6 2.6 1.2 2.6-0.8 2.6-0.7 2.6 0.2 2.6-0.9 2.6-0.5 2.6 0.6 2.6 0.3 2.6 0.1 2.6 0.2 2.6 0 2.6 0.7 2.6 1.1 2.6 0 2.6-1 2.6 0.2 2.6 0.8 2.6-0.4 2.6-0.1 2.6 1.3 2.6 0.1 2.6-1.2 2.6 0.1 2.6 1.2 2.6 0.2 2.6-1 2.6-0.6 2.6 1.2 2.6 0.9 2.6-0.9 2.6-0.2 2.6 0.9 2.6-0.1 2.6-0.9 2.6-0.1 2.6 0.3 2.6 0.1 2.6-0.1 2.6-0.5 2.6 0.3 2.6 1.2 2.6 0.4 2.6-0.6 2.6-0.6 2.6 1.1 2.6 1 2.6-0.3 2.6 0 2.6 0.2 2.6 0.2 2.6 0.7 2.6-0.5 2.6-1.5 2.6 0.4 2.6 0.8 2.6-0.9 2.6 0.1 2.6 1.3 2.6 0 2.6-0.4 2.6 0.2 2.6 0.1 2.6 0.6 2.6 0.1 2.6-0.6 2.6-0.3 2.6 0.4 2.6 0.6 2.6 0.7 2.6-0.2 2.6-1.2 2.6 0.4 2.6 0.7 2.6-0.4 2.6-0.1 2.6 0.5 2.6 1.1 2.6 0.6 2.6-0.3 2.6-0.1 2.6 0 2.6-0.4 2.6-0.5 2.6-0.2 2.6 1.1 2.6 0.8 2.6-1 2.6 0 2.6 0.8 2.6-0.4 2.6-0.2 2.6 0.3 2.6-0.3 2.6-0.4 2.6-0.4 2.6-0.1 2.6 0.5 2.6-0.5 2.6-0.5 2.6 1.1 2.6 0.5 2.6-0.6 2.6-0.9 2.6 0.1 2.6 0.4 2.6-0.2 2.6-0.6 2.6-0.7 2.6 0.2 2.6 0.1 2.6-0.1 2.6 0.1 2.6 0.1 2.6-0.2 2.6-0.4 2.6-0.5 2.6-0.2 2.6 0.3 2.6 0.4 2.6 0 2.6-0.6 2.6-0.7 2.6-0.9 2.6-0.1 2.6 0.3 2.6-0.8 2.6-0.6 2.6 0.7 2.6-0.3 2.6-1.6 2.6-0.3 2.6-0.3 2.6-0.4 2.6 0.9 2.6 0.7 2.6 0 2.6-1.1 2.6-0.6 2.6 0.5 2.6-0.1 2.6-0.7 2.6-1.1 2.6-0.9 2.6 0.2 2.6 0.2 2.6 0.1 2.6 0.2 2.6-0.4 2.6-0.7 2.6-0.3 2.6 0.3 2.6-0.8 2.6-0.9 2.6 0.4 2.6-0.9 2.6-1.5 2.6-0.2 2.6-0.7 2.6-0.7 2.6 0.5 2.6-0.8 2.6-1.7 2.6-0.6 2.6-0.2 2.6-0.5 2.6-0.4 2.6 0.1 2.6-0.2 2.6-1 2.6-1.1 2.6-0.9 2.6-1.2 2.6-1.1 2.6-0.8 2.6-1 2.6-0.7 2.6-1.5 2.6-1.9 2.6-0.2 2.6 0.1 2.6-1.1 2.6-1 2.6-1.6 2.6-1.4 2.6-0.5 2.6-1.1 2.6-2 2.6-1.3 2.6-0.4 2.6-1.5 2.6-2.5 2.6-2 2.6-1.1 2.6-0.9 2.6-1.9 2.6-2.5 2.6-2.2 2.6-1.8 2.6-1.1 2.6-1.5 2.6-2.6 2.6-2.4 2.6-2.1 2.6-2.3 2.6-2.4 2.6-2.6 2.6-3.6 2.6-4.2 2.6-2.9 2.6-1.5 2.6-1.7 2.6-3.5 2.6-4.5 2.6-3.7 2.6-2.9 2.6-2.4 2.6-3.7 2.6-4.9 2.6-3.8 2.6-3.1 2.6-4.5 2.6-4.8 2.6-3.9 2.6-4.6 2.6-4.5 2.6-2.8 2.6-2.5 2.6-3.3 2.6-3.1 2.6-1.5 2.6-2.1 2.6-2.6 2.6-2.1 2.6-2.2 2.6-1.2 2.6-0.6 2.6 0 2.6 0.4 2.6 1.2 2.6 2.3 2.6 1.2 2.6-0.2 2.6 0.2 2.6 2.6 2.6 4.3 2.6 3.7 2.6 2.3 2.6 2.5 2.6 3.1 2.6 4 2.6 6.1 2.6 4.8 2.6 3.4 2.6 3.5 2.6 3 2.6 3.1 2.6 3.7 2.6 3.4 2.6 2.8 2.6 3.3 2.6 3.9 2.6 2.6 2.6 1.8 2.6 3.1 2.6 2.7 2.6 1.7 2.6 1.7 2.6 1.6 2.6 1.2 2.6 0.8 2.6 1.3 2.6 2.2 2.6 0.7 2.6-0.4 2.6 1.4 2.6 1.9 2.6 0.1 2.6-1 2.6 0.1 2.6 0.5 2.6-0.5 2.6-1.4 2.6-1.7 2.6-0.8 2.6 0.2 2.6-0.3 2.6-1.5 2.6-1.9 2.6-1.4 2.6-1.4 2.6-1.2 2.6-1.4 2.6-1.3 2.6-1.7 2.6-2.6 2.6-2.2 2.6-1.6 2.6-1.4 2.6-2.4 2.6-3.6 2.6-4 2.6-4.7 2.6-5 2.6-5.1 2.6-4.4 2.6-4.9 2.6-6.5 2.6-6 2.6-6.4 2.6-7.5 2.6-7.5 2.6-8 2.6-6.5 2.6-3.5 2.6-2 2.6-0.3 2.6 1.6 2.6 3.5 2.6 4.5 2.6 5.6 2.6 8.2 2.6 10.1 2.6 9.8 2.6 9.3 2.6 10.8 2.6 10.6 2.6 8.9 2.6 8.1 2.6 7.8 2.6 8.2 2.6 8.5 2.6 6.3 2.6 4.2 2.6 5.4 2.6 6.6 2.6 5.7 2.6 4.7 2.6 3.8 2.6 3 2.6 3 2.6 2.7 2.6 1.9 2.6 2.4 2.6 2.2 2.6 1.6 2.6 2.5 2.6 2.2 2.6 0.3 2.6 0.3 2.6 1.7 2.6 1.7 2.6 1.3 2.6 1 2.6 1.3 2.6 2 2.6 0.6 2.6-0.4 2.6-0.4 2.6-1 2.6-0.3 2.6 1.2 2.6 0.8 2.6-0.1 2.6 0.3 2.6 1.2 2.6 0.3 2.6-0.6 2.6 0.3 2.6 0.5 2.6-0.2 2.6-0.3 2.6-1 2.6 0 2.6 0.8 2.6-0.9 2.6-0.7 2.6-0.1 2.6-1.4 2.6-0.9 2.6 0.7 2.6 1.2 2.6 0.3 2.6-0.5 2.6-1.2 2.6-1.5 2.6-0.5 0.7 0.3" stroke="#ff7f0e" stroke-width="3.6"/>
<path d="M335.2 2438.5l2.6 0.3 2.6 0.5 2.6 0.4 2.6-0.1 2.6-0.1 2.6-0.3 2.6-0.9 2.6 0.2 2.6 0.4 2.6-0.1 2.6 0.1 2.6-0.4 2.6-0.6 2.6-0.1 2.6 0.8 2.6 0.8 2.6 0.3 2.6-0.1 2.6-0.4 2.6-0.1 2.6-0.2 2.6-0.4 2.6 0.3 2.6 0.8 2.6-0.7 2.6-0.7 2.6 0.3 2.6-0.3 2.6-0.6 2.6 0.2 2.6 0.4 2.6 0.1 2.6 0.1 2.6-0.5 2.6 0.1 2.6 0.6 2.6 0.4 2.6-0.2 2.6-0.5 2.6 0.2 2.6-0.2 2.6-0.7 2.6-0.2 2.6 0.1 2.6-0.1 2.6-0.1 2.6 0.4 2.6 0.3 2.6-0.3 2.6-0.2 2.6-0.2 2.6-0.2 2.6 0.4 2.6-0.2 2.6-1.6 2.6-0.5 2.6 0.5 2.6-0.2 2.6 0.2 2.6 0.7 2.6 0.1 2.6-0.5 2.6-0.3 2.6-0.3 2.6 0 2.6-0.3 2.6-0.5 2.6 0.3 2.6-0.3 2.6-1.4 2.6-1 2.6-0.2 2.6 0.5 2.6 0 2.6-0.7 2.6-0.1 2.6 0.2 2.6-0.3 2.6 0 2.6 0 2.6-0.6 2.6-0.7 2.6-0.7 2.6-0.7 2.6-1.9 2.6-1.7 2.6 0.4 2.6-0.8 2.6-2.5 2.6-1.4 2.6-2.5 2.6-4.1 2.6-4.3 2.6-6.9 2.6-8.2 2.6-3.6 2.6 2.8 2.6 5.5 2.6 6.4 2.6 6.1 2.6 4.7 2.6 2.8 2.6 1.3 2.6 0.9 2.6 0.4 2.6 0.3 2.6 1.6 2.6 1.7 2.6-0.5 2.6-1.2 2.6-0.2 2.6 0.9 2.6 1.4 2.6-0.1 2.6 0 2.6 0.6 2.6-0.5 2.6-1.2 2.6 0.2 2.6 0.6 2.6-0.4 2.6-0.1 2.6 0.8 2.6-0.4 2.6-0.3 2.6 0.3 2.6-0.3 2.6-0.1 2.6-0.2 2.6 0 2.6 0.7 2.6 0.7 2.6 0.1 2.6-0.3 2.6-0.6 2.6-0.3 2.6 0.4 2.6-0.1 2.6-0.6 2.6 0.5 2.6 0 2.6-0.3 2.6 0.5 2.6 0.2 2.6 0 2.6 0.8 2.6 1 2.6 0.2 2.6-1.1 2.6-1.2 2.6-0.5 2.6-0.1 2.6 0.8 2.6 1.4 2.6 0.7 2.6-0.4 2.6-0.3 2.6-0.3 2.6-0.4 2.6 0.1 2.6-0.4 2.6 0.3 2.6 1 2.6-0.5 2.6-1.4 2.6 0 2.6 0.9 2.6 0.9 2.6-0.2 2.6-1 2.6-0.7 2.6 0.2 2.6 0.5 2.6-0.2 2.6 0.3 2.6 1.1 2.6 0 2.6-1.3 2.6-1 2.6 0.3 2.6 0.9 2.6 0.3 2.6 0 2.6-0.1 2.6-0.4 2.6 0.2 2.6 0.4 2.6 0.6 2.6-0.1 2.6-0.9 2.6-0.8 2.6 0 2.6 0.7 2.6-0.3 2.6-1 2.6-0.3 2.6 0.4 2.6 0.8 2.6 0.6 2.6-0.4 2.6-0.6 2.6 0.8 2.6 0.7 2.6-1.1 2.6-1.2 2.6 0 2.6 0.3 2.6 0 2.6 0.1 2.6 0.5 2.6-0.2 2.6-1 2.6-0.3 2.6 0.5 2.6 0.7 2.6 0 2.6 0.5 2.6 0.1 2.6-1.2 2.6-1.1 2.6-0.4 2.6 0.4 2.6 0.6 2.6 0.3 2.6 0.5 2.6 0.1 2.6-0.4 2.6-0.3 2.6 0.3 2.6 0.4 2.6-0.5 2.6-0.5 2.6-0.6 2.6 0.2 2.6 1.2 2.6-0.3 2.6-0.4 2.6 0.7 2.6 0.2 2.6-0.7 2.6-0.9 2.6-0.1 2.6 0.3 2.6-0.6 2.6-0.7 2.6 0.5 2.6 1.2 2.6 0.1 2.6-0.9 2.6-0.7 2.6 0.2 2.6 0.7 2.6-0.3 2.6-0.9 2.6-0.5 2.6 0 2.6 0.8 2.6 0.4 2.6-1 2.6-1.5 2.6 0 2.6 1.6 2.6 0.3 2.6-1.4 2.6-0.1 2.6 1 2.6-0.1 2.6-1.1 2.6-0.6 2.6-0.3 2.6-0.2 2.6 0.1 2.6-0.3 2.6-0.6 2.6 0 2.6-0.2 2.6 0 2.6 0.1 2.6-1.2 2.6-0.3 2.6 0.5 2.6-0.7 2.6-1.1 2.6 0.5 2.6 1.2 2.6-0.4 2.6-1.8 2.6-1.3 2.6 0.1 2.6 0.4 2.6-0.3 2.6 0 2.6-0.2 2.6 0.2 2.6 0 2.6-1.3 2.6-0.8 2.6 0.6 2.6 0.3 2.6-0.5 2.6-1.1 2.6-0.8 2.6-0.9 2.6-0.2 2.6 1.1 2.6-0.1 2.6-1.4 2.6-1.2 2.6-0.1 2.6 0 2.6-1.1 2.6-1.4 2.6-1 2.6 0.1 2.6 0.3 2.6-0.2 2.6-0.9 2.6-1.5 2.6-1 2.6-0.2 2.6-1 2.6-1.3 2.6-0.6 2.6-0.2 2.6-0.1 2.6-0.2 2.6-0.4 2.6-1.5 2.6-2.7 2.6-1.7 2.6-0.1 2.6-0.5 2.6-2.1 2.6-1.9 2.6-1.1 2.6-1.3 2.6-0.6 2.6-0.4 2.6-1.5 2.6-2.9 2.6-2.9 2.6-1.1 2.6-0.7 2.6-1.8 2.6-1.7 2.6-1.5 2.6-1.8 2.6-2.4 2.6-3 2.6-3.1 2.6-1.8 2.6-1.3 2.6-2 2.6-1.8 2.6-2.3 2.6-3.6 2.6-3.4 2.6-2.9 2.6-3.5 2.6-3.4 2.6-2.8 2.6-2.1 2.6-3.4 2.6-4.6 2.6-3.5 2.6-3.6 2.6-3.7 2.6-3.9 2.6-4.8 2.6-3.5 2.6-2.7 2.6-3.1 2.6-3.1 2.6-4 2.6-4.7 2.6-3.5 2.6-3.4 2.6-3.8 2.6-3.1 2.6-2.8 2.6-1.9 2.6-2.4 2.6-2.5 2.6-1.4 2.6-1.6 2.6-1 2.6 0.8 2.6 1.5 2.6 0.8 2.6 0.5 2.6 0.3 2.6 0.6 2.6 2.6 2.6 2.9 2.6 1.9 2.6 2.7 2.6 3.1 2.6 1.8 2.6 2.8 2.6 3.8 2.6 3.8 2.6 4.4 2.6 3.4 2.6 2.7 2.6 2.6 2.6 2.9 2.6 4.3 2.6 3.8 2.6 2.3 2.6 2.4 2.6 2.8 2.6 2.9 2.6 2.6 2.6 2.2 2.6 2 2.6 2.4 2.6 1.6 2.6 0.9 2.6 1.9 2.6 1.3 2.6 0.7 2.6 1 2.6 0.7 2.6 0.8 2.6 0.8 2.6 1.6 2.6 0.6 2.6-1.6 2.6-1.6 2.6 0.1 2.6 1.1 2.6 0.1 2.6 0.1 2.6-0.2 2.6-1.9 2.6-1.7 2.6-1.4 2.6-0.5 2.6-0.1 2.6-1 2.6-1.8 2.6-1.8 2.6-2.4 2.6-2.8 2.6-0.7 2.6-0.4 2.6-3.1 2.6-3.5 2.6-2.2 2.6-2 2.6-2.7 2.6-3.2 2.6-3.9 2.6-5 2.6-5.4 2.6-5.7 2.6-6.5 2.6-5.4 2.6-5.1 2.6-6.8 2.6-6.2 2.6-4.5 2.6-6.5 2.6-6.3 2.6-1.6 2.6 0.7 2.6 0.5 2.6 0.8 2.6 2.9 2.6 6.9 2.6 7.7 2.6 7.7 2.6 9.7 2.6 8.8 2.6 6.1 2.6 6.5 2.6 7.7 2.6 6.8 2.6 6.1 2.6 7.1 2.6 6.4 2.6 4 2.6 4 2.6 5 2.6 4.5 2.6 4 2.6 3.3 2.6 2.2 2.6 2.5 2.6 2.7 2.6 2.1 2.6 2 2.6 1.7 2.6 1.3 2.6 0.6 2.6 0.7 2.6 2.2 2.6 2 2.6 0.8 2.6 0.4 2.6 0.6 2.6 0.3 2.6 0.3 2.6 0.8 2.6 1.4 2.6 1.1 2.6 0 2.6-0.2 2.6 0.1 2.6 0.6 2.6 1 2.6 0 2.6-0.2 2.6 0.6 2.6 0.1 2.6-0.3 2.6-0.6 2.6-0.8 2.6-0.1 2.6 0.9 2.6 0.6 2.6-0.8 2.6-0.9 2.6-0.4 2.6-0.6 2.6-0.3 2.6 0.4 2.6 0.5 2.6 0.1 2.6-0.7 2.6-1.2 2.6 0.7 2.6 0.7 2.6-0.8 2.6 0.1 2.6-0.7 0.7-1.2" stroke="#66c400" stroke-width="3.6"/>
<path d="M335.2 2409.3l2.6-0.4 2.6-0.3 2.6 0.7 2.6 0.6 2.6-0.3 2.6 0.6 2.6 0.7 2.6-1.2 2.6-1.3 2.6-0.1 2.6-0.5 2.6-0.9 2.6-0.2 2.6-0.1 2.6-0.8 2.6-0.7 2.6-0.6 2.6-1.8 2.6-1.8 2.6-1.1 2.6-1 2.6 0 2.6 0.4 2.6 1.3 2.6 2.9 2.6 2 2.6 0.3 2.6 0.3 2.6 0.4 2.6 0 2.6-0.3 2.6 0 2.6 1.3 2.6 1 2.6-0.6 2.6-0.3 2.6-0.2 2.6-0.4 2.6 0.6 2.6 0.6 2.6 0.3 2.6 0.3 2.6-0.7 2.6-0.8 2.6-0.5 2.6 0.2 2.6 0.6 2.6 0.6 2.6 0.5 2.6-0.4 2.6-0.8 2.6-0.5 2.6 0 2.6 0 2.6 0.3 2.6 0.4 2.6 0 2.6 0.3 2.6 0.8 2.6-0.3 2.6-1.7 2.6-1.2 2.6 0.5 2.6 0.6 2.6-0.9 2.6-0.2 2.6 0.9 2.6-0.6 2.6-0.8 2.6 0.1 2.6 0.3 2.6 0.5 2.6-0.3 2.6-0.7 2.6-0.1 2.6-0.2 2.6-0.1 2.6-0.5 2.6-1.2 2.6-0.4 2.6-0.2 2.6-1.3 2.6-1.4 2.6-2 2.6-2.8 2.6-2.9 2.6-3.3 2.6-3.5 2.6-5 2.6-7.7 2.6-10.2 2.6-13.8 2.6-19.4 2.6-24.6 2.6-24.6 2.6-12.2 2.6 9.4 2.6 22.9 2.6 21.9 2.6 15.8 2.6 11.2 2.6 7.8 2.6 5.6 2.6 3.9 2.6 3.5 2.6 2 2.6 0.3 2.6 0.9 2.6 1.2 2.6 1.7 2.6 1.7 2.6-0.3 2.6-0.6 2.6 0.1 2.6 0.6 2.6 1.4 2.6 1.1 2.6 0.8 2.6 0.4 2.6-0.6 2.6-0.3 2.6 0.8 2.6 0.6 2.6-0.1 2.6-0.1 2.6-0.1 2.6 0.7 2.6 0.6 2.6 0.2 2.6 0.4 2.6 0.1 2.6 0.3 2.6-0.1 2.6-1.7 2.6-0.3 2.6 1.1 2.6 0.6 2.6-0.1 2.6-0.1 2.6 0.8 2.6 1 2.6 0.7 2.6 0.7 2.6 0.3 2.6 0.4 2.6 0.7 2.6 0.1 2.6-0.2 2.6 0.6 2.6 1.8 2.6 1.2 2.6 0.4 2.6 1.7 2.6 1.1 2.6 0.5 2.6 0.3 2.6-0.1 2.6 0.5 2.6 1 2.6 1.1 2.6 0.8 2.6 1.2 2.6 1 2.6 0.5 2.6 0.6 2.6 1 2.6 1.7 2.6 1.6 2.6 1.2 2.6 1.2 2.6 0.2 2.6-0.2 2.6 1 2.6 1 2.6-0.5 2.6 1 2.6 1.5 2.6-0.3 2.6-0.2 2.6 0 2.6 0.4 2.6 1.5 2.6 0.8 2.6 0.4 2.6 0.7 2.6-0.2 2.6 0.2 2.6 1 2.6 0.1 2.6-0.2 2.6 1.1 2.6 1.3 2.6 0.1 2.6-0.3 2.6 0 2.6 0 2.6 0.5 2.6 1.1 2.6 0.7 2.6-0.2 2.6-0.9 2.6 0.4 2.6 1.4 2.6 0.3 2.6 0.7 2.6 1.4 2.6 0 2.6-0.7 2.6-0.1 2.6 0.5 2.6 0.2 2.6 0 2.6 0.7 2.6 0.8 2.6-0.2 2.6 0.2 2.6 0.4 2.6-0.9 2.6-0.3 2.6 0.5 2.6 0.3 2.6 1.5 2.6 1 2.6 0.1 2.6-0.6 2.6-0.8 2.6 0.5 2.6 0.7 2.6-0.4 2.6-0.3 2.6 0.8 2.6 0.7 2.6-0.4 2.6-0.2 2.6 0.2 2.6-0.1 2.6 0.4 2.6 0.5 2.6-0.6 2.6-0.4 2.6 0.4 2.6 0 2.6 0.2 2.6 0.5 2.6 0 2.6-0.4 2.6-0.1 2.6 0.1 2.6 0.3 2.6 0.7 2.6 0.4 2.6-0.2 2.6-0.4 2.6-0.3 2.6-0.4 2.6-0.1 2.6 0.3 2.6-0.5 2.6-1.3 2.6-0.5 2.6 0.3 2.6-0.5 2.6 0.1 2.6 0.9 2.6 0.2 2.6 0 2.6-0.5 2.6-0.3 2.6 0 2.6-0.6 2.6-0.3 2.6-0.2 2.6-0.2 2.6 0.7 2.6 0.2 2.6-0.8 2.6-0.4 2.6 0 2.6 0.1 2.6 0 2.6-0.1 2.6-0.2 2.6-0.5 2.6-0.6 2.6-1.7 2.6-1.2 2.6 1.4 2.6 0.9 2.6-0.8 2.6 0.1 2.6 0 2.6-0.9 2.6-0.6 2.6-0.5 2.6-0.3 2.6-0.5 2.6-0.9 2.6-0.1 2.6 0.6 2.6 0.2 2.6-0.4 2.6-1 2.6-1.1 2.6-0.6 2.6-0.1 2.6-0.2 2.6 0.6 2.6 0.5 2.6-1.1 2.6-1.7 2.6-0.7 2.6-0.1 2.6-0.6 2.6-0.2 2.6-0.2 2.6-1.3 2.6-1.5 2.6-0.4 2.6 0.3 2.6-0.1 2.6-1.3 2.6-1.8 2.6-0.9 2.6 0.3 2.6-0.1 2.6-0.9 2.6-1.4 2.6-1.5 2.6-1.1 2.6-1.6 2.6-0.6 2.6-0.2 2.6-0.9 2.6-0.8 2.6-1.8 2.6-3 2.6-1.4 2.6-0.3 2.6-1.9 2.6-2.3 2.6-1.1 2.6-1.6 2.6-2 2.6-1.4 2.6-1.6 2.6-2 2.6-1.8 2.6-1.6 2.6-2.8 2.6-2.4 2.6-2 2.6-2.8 2.6-1.6 2.6-1.3 2.6-3.4 2.6-4.7 2.6-3.8 2.6-2.2 2.6-2.6 2.6-4.4 2.6-4.4 2.6-2.8 2.6-3 2.6-4.5 2.6-4.1 2.6-3.9 2.6-4.5 2.6-4.4 2.6-3.5 2.6-3.7 2.6-4.7 2.6-5.2 2.6-4.2 2.6-3.1 2.6-3.7 2.6-4.2 2.6-4.1 2.6-2.3 2.6-2.6 2.6-4.7 2.6-2.9 2.6-1.1 2.6-1.7 2.6-1.7 2.6-1.6 2.6-1.8 2.6-0.9 2.6 0.1 2.6 0.9 2.6 1.4 2.6 1.1 2.6 1.8 2.6 2.1 2.6 2.8 2.6 3.1 2.6 2.6 2.6 3.8 2.6 4 2.6 2.7 2.6 4.6 2.6 7 2.6 5.4 2.6 2.7 2.6 2.4 2.6 3.4 2.6 4.3 2.6 4.2 2.6 3.3 2.6 3.9 2.6 4.2 2.6 2.9 2.6 2.9 2.6 3.9 2.6 3.4 2.6 1.8 2.6 1 2.6 1.9 2.6 2.5 2.6 2.4 2.6 1.3 2.6 0.9 2.6 1.3 2.6 0.9 2.6 1.2 2.6 0.9 2.6 0 2.6-0.4 2.6 0.1 2.6 0.5 2.6 0 2.6 0.8 2.6 1 2.6-0.6 2.6-2.6 2.6-1.4 2.6 0.5 2.6-0.7 2.6-1 2.6-0.9 2.6-2.1 2.6-2 2.6-0.9 2.6-1.5 2.6-2.8 2.6-2.1 2.6-1.5 2.6-3 2.6-2.6 2.6-2 2.6-5 2.6-5 2.6-3.4 2.6-4.9 2.6-5.2 2.6-5.4 2.6-5.4 2.6-5.2 2.6-7.7 2.6-8.9 2.6-6.3 2.6-7.2 2.6-8.2 2.6-5.7 2.6-3.2 2.6-1.9 2.6-1.3 2.6 0.9 2.6 2.6 2.6 2.9 2.6 5.9 2.6 9.1 2.6 9.1 2.6 8.5 2.6 10 2.6 10.4 2.6 8.8 2.6 9 2.6 10 2.6 8.8 2.6 6.7 2.6 6 2.6 6.4 2.6 6.4 2.6 5.3 2.6 5.1 2.6 4.7 2.6 4.1 2.6 3.2 2.6 3 2.6 3.4 2.6 2.7 2.6 2.5 2.6 2.6 2.6 2 2.6 2.1 2.6 2.2 2.6 0.6 2.6-0.1 2.6 1.7 2.6 2.5 2.6 1.2 2.6-0.5 2.6-0.2 2.6 1.3 2.6 1.1 2.6 0.4 2.6 0.6 2.6 0.6 2.6-0.1 2.6-0.4 2.6 0.4 2.6 0.6 2.6-0.7 2.6-0.7 2.6 0.5 2.6 1.4 2.6 0.8 2.6-1.6 2.6-1.4 2.6 0.4 2.6 0.4 2.6-0.8 2.6-0.4 2.6 1.4 2.6 0.3 2.6-1 2.6 0.6 2.6 0.8 2.6-1.1 2.6-0.7 2.6 0.1 2.6-0.7 2.6 0 2.6 0.3 2.6-1.7 2.6-2 0.7 0.2" stroke="#d6a300" stroke-width="3.6"/>
<path d="M335.2 2412.3l2.6 0.1 2.6-0.9 2.6 0 2.6 0.8 2.6-0.4 2.6-1.2 2.6-0.1 2.6 0.2 2.6 0.1 2.6 0.3 2.6 0.6 2.6 0.7 2.6 0.6 2.6 0.3 2.6-0.3 2.6-0.1 2.6-0.4 2.6-0.6 2.6-0.3 2.6 0.2 2.6 0.3 2.6-0.3 2.6-0.4 2.6 0.4 2.6 1.1 2.6 1.2 2.6-0.8 2.6-1.2 2.6 0.7 2.6 0.1 2.6-0.5 2.6 0.1 2.6-0.3 2.6 0.1 2.6 1.2 2.6 0 2.6-0.6 2.6 0.7 2.6 0 2.6-0.8 2.6 0.1 2.6-0.3 2.6-0.1 2.6 0.6 2.6 0.5 2.6-0.3 2.6-0.3 2.6 0 2.6-0.5 2.6-0.4 2.6 0.1 2.6 0 2.6-0.1 2.6-0.1 2.6-0.1 2.6 0.2 2.6 0.6 2.6 1 2.6 0.4 2.6-1.2 2.6-0.5 2.6 1.1 2.6 0.6 2.6-0.7 2.6-1.1 2.6-0.3 2.6 0.9 2.6 0.5 2.6-0.7 2.6-0.7 2.6-0.2 2.6 0 2.6 0.1 2.6-0.7 2.6-0.2 2.6 1.2 2.6 0.1 2.6-2 2.6-1.4 2.6 0.8 2.6 0.4 2.6-0.6 2.6 0.5 2.6 0.6 2.6-1.4 2.6-1.7 2.6-0.2 2.6-1.8 2.6-4 2.6-4.1 2.6-4.6 2.6-5.7 2.6-8.9 2.6-11.9 2.6-11.9 2.6-6.7 2.6 3 2.6 9.5 2.6 10.2 2.6 7.6 2.6 4.2 2.6 2.5 2.6 2.1 2.6 2 2.6 1.5 2.6 1.1 2.6 0.5 2.6-0.4 2.6-0.8 2.6-0.6 2.6 0.1 2.6-0.2 2.6 0.3 2.6 1.3 2.6-0.1 2.6-1.1 2.6-0.2 2.6-0.2 2.6-1.3 2.6-0.9 2.6-0.1 2.6 0.3 2.6 0.1 2.6-0.6 2.6 0.6 2.6 0.5 2.6-1.3 2.6-0.8 2.6 0.7 2.6 0.7 2.6-0.6 2.6-0.2 2.6-0.2 2.6-1.7 2.6-1 2.6 0.3 2.6-0.2 2.6 0.7 2.6 0.4 2.6-0.9 2.6-0.1 2.6 1.2 2.6 0.6 2.6-0.8 2.6-1.1 2.6-0.8 2.6-0.4 2.6 0.8 2.6 0.5 2.6 0 2.6 0.1 2.6 0.1 2.6 0.5 2.6 0.5 2.6 0.9 2.6 0.3 2.6-0.7 2.6 0.2 2.6-0.1 2.6-0.9 2.6-0.3 2.6-0.5 2.6-0.5 2.6 0.6 2.6 1 2.6 0.4 2.6-0.8 2.6 0 2.6 0.8 2.6-0.3 2.6-0.1 2.6 0.4 2.6-0.8 2.6-0.5 2.6 1.2 2.6 0.7 2.6-0.2 2.6 0.6 2.6 0.4 2.6-1.1 2.6-1.3 2.6 0.2 2.6 1.6 2.6 0.7 2.6-0.4 2.6 0.2 2.6 0.1 2.6-0.2 2.6 0 2.6-0.1 2.6 0.1 2.6-0.4 2.6-1 2.6 0.5 2.6 1.7 2.6 0.5 2.6-0.2 2.6 0.1 2.6-0.3 2.6-1.2 2.6 0.3 2.6 1.1 2.6-0.2 2.6-0.3 2.6 0.2 2.6-0.1 2.6-0.7 2.6-0.1 2.6 0.3 2.6 0.5 2.6 0.2 2.6-0.2 2.6 0 2.6 1 2.6 1.3 2.6 0.2 2.6-0.6 2.6-0.9 2.6-0.1 2.6 0 2.6-0.7 2.6 0.2 2.6 1 2.6-0.9 2.6-0.5 2.6 1.5 2.6 0.7 2.6-0.6 2.6 0.1 2.6 0.4 2.6-0.6 2.6-1.1 2.6 0.5 2.6 1.7 2.6 1 2.6-0.6 2.6-0.7 2.6 0.2 2.6-0.2 2.6-0.7 2.6 0.1 2.6 0.1 2.6-0.8 2.6-0.7 2.6 0.1 2.6 0.3 2.6-0.3 2.6 0.1 2.6 1.2 2.6 0.6 2.6-1.4 2.6-1.9 2.6 0.2 2.6 1.6 2.6 0 2.6-0.8 2.6-0.5 2.6 0 2.6 0.9 2.6 0.3 2.6-1.5 2.6-0.4 2.6 1.6 2.6 0.5 2.6-0.5 2.6-0.5 2.6-0.7 2.6-0.6 2.6-0.6 2.6-0.2 2.6-0.4 2.6-0.4 2.6 0.5 2.6 0 2.6-0.5 2.6-0.2 2.6-0.7 2.6 0.1 2.6 0.1 2.6-0.9 2.6-0.6 2.6 0.4 2.6 0.9 2.6-0.4 2.6-1.3 2.6-0.5 2.6-0.5 2.6-0.5 2.6-0.1 2.6-0.6 2.6-0.5 2.6 0.4 2.6 0 2.6-0.7 2.6-0.5 2.6 0.2 2.6 0.2 2.6-1.1 2.6-0.9 2.6 0.4 2.6 0.1 2.6-0.6 2.6 0 2.6 0 2.6-1.6 2.6-0.6 2.6 0.3 2.6-0.8 2.6-1 2.6-0.3 2.6-0.6 2.6-0.6 2.6-0.2 2.6-0.8 2.6-1 2.6 0.3 2.6 0.1 2.6-1.6 2.6-1.2 2.6 0.3 2.6-0.4 2.6-1.1 2.6-0.5 2.6-0.2 2.6-1.2 2.6-1.9 2.6-0.2 2.6 0.1 2.6-1.2 2.6-1.4 2.6-0.6 2.6 0.1 2.6-1.4 2.6-1.5 2.6 0.1 2.6-1.2 2.6-2 2.6-1.2 2.6-1.1 2.6-0.9 2.6-0.5 2.6-2.1 2.6-2.7 2.6-1 2.6-1.3 2.6-1.9 2.6-2 2.6-1.6 2.6-2 2.6-2.1 2.6-0.8 2.6-0.5 2.6-2.8 2.6-4 2.6-2.3 2.6-0.6 2.6-1.2 2.6-3.7 2.6-4.7 2.6-3 2.6-1.3 2.6-0.7 2.6-2.2 2.6-3.4 2.6-3.3 2.6-3.5 2.6-3.4 2.6-3.7 2.6-3.2 2.6-3.2 2.6-4 2.6-3.5 2.6-2.7 2.6-2.8 2.6-2.4 2.6-1.5 2.6-2.6 2.6-4.2 2.6-4.6 2.6-3.5 2.6-1.1 2.6-0.3 2.6-1.1 2.6-1.4 2.6-1.6 2.6-1.2 2.6-0.5 2.6-0.6 2.6-0.2 2.6 1.5 2.6 1.9 2.6 1.2 2.6 1.8 2.6 1.7 2.6 1.1 2.6 1.9 2.6 3.3 2.6 3.6 2.6 2.4 2.6 2.3 2.6 3.2 2.6 3.2 2.6 1.8 2.6 1.7 2.6 2.8 2.6 4.1 2.6 4.3 2.6 3.1 2.6 3 2.6 2.5 2.6 1.6 2.6 2.7 2.6 2.5 2.6 2 2.6 1.2 2.6 0.7 2.6 2 2.6 2.6 2.6 1 2.6 0.2 2.6 1.1 2.6 0.7 2.6 1.4 2.6 1.9 2.6-0.7 2.6-1.7 2.6-0.1 2.6 1.4 2.6 0.9 2.6-1.2 2.6-0.5 2.6 1.4 2.6 0.5 2.6-0.7 2.6 0.1 2.6 1 2.6-0.2 2.6-1.6 2.6-2.1 2.6-1.6 2.6-0.9 2.6-1.6 2.6-3 2.6-2.1 2.6 0.3 2.6 0.1 2.6-2.1 2.6-2 2.6-2.2 2.6-2.9 2.6-1.8 2.6-1.1 2.6-3 2.6-4.9 2.6-5.3 2.6-4.9 2.6-3.4 2.6-3.2 2.6-4.4 2.6-4.5 2.6-4.3 2.6-4.6 2.6-5 2.6-3.7 2.6-2 2.6-0.9 2.6 0.6 2.6 2.3 2.6 3.5 2.6 4.5 2.6 7 2.6 7.8 2.6 5.9 2.6 6.5 2.6 7.7 2.6 7.1 2.6 6.9 2.6 6.6 2.6 6 2.6 4.9 2.6 5.6 2.6 6 2.6 3.9 2.6 2.8 2.6 3.5 2.6 4.1 2.6 3.9 2.6 2.5 2.6 1.7 2.6 2 2.6 2.5 2.6 2.4 2.6 1.6 2.6 1.8 2.6 1.9 2.6 1.4 2.6 1.2 2.6 0.7 2.6-0.3 2.6-0.1 2.6 1.2 2.6 1.8 2.6 0.9 2.6 0.1 2.6 0.6 2.6 0.6 2.6 0.7 2.6 0.3 2.6-0.3 2.6 1.1 2.6 0.4 2.6-0.8 2.6-0.1 2.6-0.5 2.6-0.2 2.6 0.5 2.6 0.8 2.6 0.9 2.6-0.3 2.6-1 2.6 0 2.6 0.7 2.6 0 2.6-0.6 2.6-1 2.6-1 2.6-0.3 2.6-0.1 2.6-0.8 2.6-0.6 2.6 0.3 2.6 0.5 2.6-0.6 2.6-0.2 2.6 0.6 2.6-1 0.7-0.5" stroke="#ff3a3a" stroke-width="3.6"/>
<path d="M335.2 2357.7l2.6 4.7 2.6 5 2.6 5.6 2.6 4.6 2.6 3.1 2.6 3.2 2.6 2.4 2.6-0.1 2.6 0 2.6 1.5 2.6 1.3 2.6 0.1 2.6 0.3 2.6 0.8 2.6 0.9 2.6 0.9 2.6 0.3 2.6-0.6 2.6-0.9 2.6-0.2 2.6-0.7 2.6-1 2.6 1 2.6 2 2.6 1.1 2.6 0.2 2.6 0.1 2.6 1.4 2.6 2.1 2.6 0.9 2.6-0.2 2.6-0.1 2.6 0.2 2.6 0.2 2.6 0.1 2.6-1.1 2.6-0.3 2.6 0.7 2.6-1.2 2.6-1.8 2.6-0.9 2.6-0.6 2.6-0.6 2.6-0.9 2.6-0.6 2.6-1 2.6-1.2 2.6-0.4 2.6 0.6 2.6 1 2.6-0.2 2.6-0.5 2.6 0.2 2.6 0 2.6-0.4 2.6-1.3 2.6 0 2.6 1.3 2.6 1 2.6 0.2 2.6-1.3 2.6-1.4 2.6 0.2 2.6-0.1 2.6-0.9 2.6 0.1 2.6 0.7 2.6 0 2.6-1.2 2.6-1.1 2.6 1.2 2.6 1.2 2.6-1.4 2.6-1.8 2.6 0.1 2.6 0.6 2.6 0.1 2.6-0.3 2.6-1 2.6-0.6 2.6-0.7 2.6-1.3 2.6-2.2 2.6-3.3 2.6-2.4 2.6-1.7 2.6-3.7 2.6-5.2 2.6-5.1 2.6-7.1 2.6-11.5 2.6-16 2.6-19.8 2.6-23.5 2.6-22.5 2.6-10.9 2.6 8.3 2.6 22.4 2.6 24.1 2.6 19.6 2.6 13.7 2.6 9.3 2.6 7.3 2.6 5.5 2.6 3.3 2.6 3 2.6 2.6 2.6 0.6 2.6 1.2 2.6 1.7 2.6 0.3 2.6 0.1 2.6 0.8 2.6 0.7 2.6 0.3 2.6 0.7 2.6 1.3 2.6 0.2 2.6-0.5 2.6 0.6 2.6 0.9 2.6 0.3 2.6 0 2.6 0.4 2.6 1.1 2.6 0.7 2.6-0.3 2.6-1.6 2.6-1.6 2.6 0.3 2.6 0.9 2.6 0.4 2.6-0.1 2.6 0.6 2.6 0.5 2.6 0.5 2.6 1.7 2.6 1.4 2.6-1 2.6-1.6 2.6 0 2.6 1 2.6 0.8 2.6 0.1 2.6 0.2 2.6 0.3 2.6 0.2 2.6 0 2.6-0.2 2.6 0.8 2.6 0.9 2.6 0.2 2.6 0.1 2.6 0.5 2.6 0.6 2.6-0.3 2.6-0.8 2.6 0.1 2.6 0 2.6 0.4 2.6 1.1 2.6 0.2 2.6-0.3 2.6 0.1 2.6-0.4 2.6-0.3 2.6 0.8 2.6 0.1 2.6-0.9 2.6 0.7 2.6 0.8 2.6 0.1 2.6 0.7 2.6 0 2.6 0 2.6 1 2.6-0.1 2.6-1.3 2.6-0.2 2.6 1.2 2.6 0.5 2.6 0.3 2.6 1.2 2.6 0.6 2.6 0.5 2.6 1.4 2.6 0.4 2.6-1.5 2.6-1.4 2.6-0.2 2.6 1.3 2.6 1.9 2.6-0.6 2.6-0.8 2.6 1.3 2.6 0.8 2.6-0.6 2.6-0.2 2.6 0.2 2.6 0.1 2.6-0.1 2.6 0.3 2.6 1 2.6 0.5 2.6 0.2 2.6 0.3 2.6-0.4 2.6-0.4 2.6 1.1 2.6 1.2 2.6-0.1 2.6-0.5 2.6 0.8 2.6 1.3 2.6 0.2 2.6-0.9 2.6-0.3 2.6 0.6 2.6 0.1 2.6-0.4 2.6-0.3 2.6 1.3 2.6 1.5 2.6-0.3 2.6-1 2.6-0.5 2.6 0.5 2.6 1.2 2.6 0.6 2.6-0.5 2.6-0.7 2.6-0.8 2.6 0.6 2.6 1.9 2.6 0.7 2.6-1.2 2.6-0.7 2.6 0.4 2.6-0.6 2.6-1.2 2.6 0.4 2.6 0.9 2.6-0.7 2.6-0.6 2.6-0.2 2.6-0.6 2.6-1.1 2.6-0.8 2.6 0.9 2.6 0.9 2.6-0.5 2.6-1.6 2.6-1.1 2.6 0.2 2.6 0.2 2.6 0 2.6 0.1 2.6-0.1 2.6-0.4 2.6-1.1 2.6-0.8 2.6 0.3 2.6 0.1 2.6-0.3 2.6-0.7 2.6-0.7 2.6-0.5 2.6-0.8 2.6-1.1 2.6 0 2.6 0.8 2.6 0.2 2.6-0.9 2.6-0.9 2.6-0.5 2.6-0.5 2.6-0.3 2.6-0.2 2.6 0.1 2.6-0.1 2.6-0.6 2.6-0.3 2.6-0.4 2.6-0.9 2.6-0.8 2.6 0.2 2.6 1.2 2.6 0.5 2.6-0.1 2.6-0.1 2.6-1.6 2.6-0.8 2.6 0.4 2.6-0.4 2.6-0.6 2.6-0.4 2.6 0.5 2.6 0.4 2.6-0.6 2.6-0.5 2.6-0.7 2.6-1.2 2.6-0.3 2.6-0.1 2.6 0.5 2.6 0.6 2.6 0 2.6-0.5 2.6-1.3 2.6-0.8 2.6 0.5 2.6 0.4 2.6-0.3 2.6 0.6 2.6 0.4 2.6-1 2.6-0.4 2.6-0.7 2.6-1 2.6-0.4 2.6-0.9 2.6-1.5 2.6-0.9 2.6-0.1 2.6 0.2 2.6-0.6 2.6-0.7 2.6 0.2 2.6-0.3 2.6-0.8 2.6-0.8 2.6-0.8 2.6-0.7 2.6-0.4 2.6-0.3 2.6-0.5 2.6-0.9 2.6-1.7 2.6-1.1 2.6 0.1 2.6-0.4 2.6-1.3 2.6-0.8 2.6 0.1 2.6-1.3 2.6-2.3 2.6-0.6 2.6 0.4 2.6-0.9 2.6-1.7 2.6-1.7 2.6-2.2 2.6-2.7 2.6-1.8 2.6-0.7 2.6-1.3 2.6-1.2 2.6-1.5 2.6-2.4 2.6-2.8 2.6-3.1 2.6-1.5 2.6-2.2 2.6-3.2 2.6-1.3 2.6-1.7 2.6-2.5 2.6-2.7 2.6-3.7 2.6-2.6 2.6-1.2 2.6-2.3 2.6-2.6 2.6-1.8 2.6-2.5 2.6-2.9 2.6-2.7 2.6-3.1 2.6-2.6 2.6-1.5 2.6-0.8 2.6-0.5 2.6-1.2 2.6-1.7 2.6-0.7 2.6 0.1 2.6 0.3 2.6 1.3 2.6 1.4 2.6 0.6 2.6 2.1 2.6 2.1 2.6 0.7 2.6 1.5 2.6 2.9 2.6 2.8 2.6 2.2 2.6 2.8 2.6 3.8 2.6 4.1 2.6 3 2.6 2.3 2.6 3.6 2.6 3.1 2.6 2.1 2.6 3.1 2.6 3.2 2.6 3.2 2.6 4 2.6 2.9 2.6 1.6 2.6 0.9 2.6 2.1 2.6 3.1 2.6 1.8 2.6 1 2.6 1.6 2.6 1.3 2.6 0.4 2.6 0.7 2.6 2.1 2.6 1.8 2.6 0.2 2.6 0 2.6 0.1 2.6-0.6 2.6-0.5 2.6-0.1 2.6 0.1 2.6 0.4 2.6 0.3 2.6-0.3 2.6-0.9 2.6-1.1 2.6-0.9 2.6-0.8 2.6-1 2.6-1.1 2.6-1.6 2.6-0.9 2.6-0.5 2.6-1.6 2.6-0.8 2.6-0.8 2.6-1.5 2.6-1.8 2.6-3 2.6-2.4 2.6-1.5 2.6-3.1 2.6-3.9 2.6-3.4 2.6-3.6 2.6-3.6 2.6-4.2 2.6-5.3 2.6-5.6 2.6-5.5 2.6-5.4 2.6-5.3 2.6-6 2.6-6.1 2.6-4.1 2.6-1.7 2.6-1.4 2.6-1.1 2.6 0.4 2.6 2.3 2.6 4.2 2.6 5.7 2.6 7.1 2.6 9.4 2.6 9.8 2.6 9.1 2.6 8.7 2.6 8.7 2.6 9.1 2.6 8.9 2.6 7.6 2.6 6.5 2.6 6.8 2.6 6.5 2.6 5.1 2.6 4 2.6 3.7 2.6 4.9 2.6 5.6 2.6 4.7 2.6 4.2 2.6 3.5 2.6 2 2.6 1.3 2.6 2.6 2.6 3.1 2.6 2 2.6 1.6 2.6 1.2 2.6 1.4 2.6 2.5 2.6 1.3 2.6 0.4 2.6 1.7 2.6 1.9 2.6 0.9 2.6 0.9 2.6 1.2 2.6 0.4 2.6-1 2.6-0.9 2.6 1.4 2.6 2.1 2.6 0.7 2.6-0.9 2.6-0.1 2.6 0.7 2.6 0.3 2.6 0.8 2.6 0 2.6-0.6 2.6-0.3 2.6-1.2 2.6-0.8 2.6 0.2 2.6-0.5 2.6-0.7 2.6-0.3 2.6-0.5 2.6 0 2.6 0 2.6-1.2 2.6-0.5 2.6 0.2 2.6-0.4 2.6-0.3 2.6 0.1 2.6 0.2 0.7-0.3" stroke="#1f60dc" stroke-width="3.6"/>
<path d="M335.2 2214l2.6 62.7 2.6 43.2 2.6 29.8 2.6 19.9 2.6 14.1 2.6 10.6 2.6 5.9 2.6 3 2.6 2.9 2.6 1.7 2.6 1.1 2.6 2.2 2.6 2.3 2.6 0.7 2.6-0.5 2.6-2.2 2.6-4 2.6-3.4 2.6 4.4 2.6 3.1 2.6 0.9 2.6 1.1 2.6 0.7 2.6-0.2 2.6-0.2 2.6 0.4 2.6 0.5 2.6 0 2.6-0.3 2.6 0.1 2.6 0.6 2.6 0.3 2.6-0.4 2.6-0.3 2.6 0.5 2.6 0.4 2.6-0.2 2.6-0.5 2.6-0.4 2.6 0.3 2.6-0.5 2.6-1 2.6 0.6 2.6 0.5 2.6-0.4 2.6 0.4 2.6 0.2 2.6-0.2 2.6 0.3 2.6-0.4 2.6-1 2.6 0 2.6 0.6 2.6 0.1 2.6-0.8 2.6-0.1 2.6 0.4 2.6-0.6 2.6-1 2.6 0.1 2.6 0.3 2.6-0.2 2.6 0 2.6-0.1 2.6 0.4 2.6 0.6 2.6-1.2 2.6-1.4 2.6-0.2 2.6 0.7 2.6 0 2.6-0.9 2.6-0.6 2.6-0.9 2.6-0.4 2.6 0.6 2.6 0.4 2.6 0.4 2.6 0.1 2.6-1.3 2.6-1.4 2.6-0.4 2.6-0.2 2.6-0.4 2.6 0.5 2.6 0.3 2.6-0.1 2.6-0.3 2.6-0.3 2.6-0.3 2.6-0.6 2.6-0.9 2.6-0.1 2.6-0.1 2.6-0.7 2.6-0.4 2.6-0.7 2.6 0 2.6 0.7 2.6-1 2.6-1.4 2.6 0 2.6 0.1 2.6-0.7 2.6-0.8 2.6-0.5 2.6-0.5 2.6-0.5 2.6 0.6 2.6 0.4 2.6-0.4 2.6-0.8 2.6-1.2 2.6-0.1 2.6 1.4 2.6 0.5 2.6-0.2 2.6 0 2.6 0.3 2.6 0.4 2.6 0.5 2.6 0.6 2.6-0.6 2.6-1.4 2.6 0.1 2.6 1.2 2.6 0.2 2.6 0.2 2.6 0.8 2.6 0.2 2.6 0.6 2.6 0.7 2.6 0 2.6-0.3 2.6 0.5 2.6 0.2 2.6-0.5 2.6-0.3 2.6-0.8 2.6-0.2 2.6 0.8 2.6 0.2 2.6-0.7 2.6-1 2.6-1.5 2.6-2.4 2.6-1.7 2.6-0.1 2.6-1.8 2.6-3.7 2.6-3.8 2.6-3.3 2.6-2.7 2.6-0.3 2.6 2.2 2.6 0.6 2.6-0.7 2.6 0.9 2.6 1.4 2.6 0.8 2.6 0.3 2.6-0.3 2.6-0.6 2.6-0.6 2.6-0.4 2.6-0.5 2.6 0 2.6-0.4 2.6-1.3 2.6 0.4 2.6 0.8 2.6-0.9 2.6-0.8 2.6 0 2.6 1.1 2.6 1.2 2.6 0.4 2.6 0.5 2.6-0.3 2.6-1.4 2.6-1.1 2.6 0.3 2.6 0.2 2.6 0.4 2.6 0.4 2.6-0.2 2.6 0.6 2.6 1.3 2.6 0.3 2.6-0.3 2.6-0.6 2.6 0.1 2.6 1.2 2.6 0.2 2.6-1.6 2.6-0.9 2.6 1.1 2.6 1.6 2.6-0.1 2.6-2.1 2.6-3.5 2.6-4 2.6 1.8 2.6 4.9 2.6 4.9 2.6 2.6 2.6 1.1 2.6 0.3 2.6 0.1 2.6 0.4 2.6-0.5 2.6-0.7 2.6 0 2.6-1.1 2.6-5.1 2.6-4.7 2.6 5.9 2.6 5 2.6 2.3 2.6 0.2 2.6 0 2.6 1.2 2.6 1.4 2.6 0.7 2.6 0.7 2.6 0 2.6 0.2 2.6 0 2.6-1.3 2.6 0.6 2.6 1.9 2.6 0.6 2.6-0.2 2.6 0.4 2.6 0.5 2.6 0.2 2.6 0.4 2.6-0.9 2.6-1.2 2.6 0.5 2.6 0.2 2.6-0.8 2.6 0 2.6 0.5 2.6 0 2.6-0.4 2.6-0.2 2.6-0.4 2.6-0.8 2.6-0.6 2.6 0.3 2.6 1 2.6 0.6 2.6-0.3 2.6-0.9 2.6-1 2.6 1 2.6 0.7 2.6-1.6 2.6-0.8 2.6 0.2 2.6-0.1 2.6 0 2.6-0.6 2.6-0.6 2.6-0.6 2.6-0.1 2.6-0.1 2.6-0.5 2.6-0.1 2.6-0.7 2.6-0.6 2.6 0.5 2.6-0.7 2.6-1.6 2.6 0.1 2.6 1.1 2.6-0.1 2.6-0.7 2.6-0.1 2.6 0.1 2.6-0.2 2.6-0.4 2.6 0 2.6-0.9 2.6-0.8 2.6 0.7 2.6 0.7 2.6 0.1 2.6-1.2 2.6-1.4 2.6 0.8 2.6 0 2.6-1.5 2.6-1 2.6-1 2.6-0.5 2.6 0.4 2.6 0.5 2.6 0 2.6-0.7 2.6-1.2 2.6-0.4 2.6 0.5 2.6 0.9 2.6-0.2 2.6-0.7 2.6-0.3 2.6-0.7 2.6-1.5 2.6-1.5 2.6-0.3 2.6 0.8 2.6 0 2.6-0.6 2.6-0.2 2.6-0.4 2.6-0.4 2.6 0.4 2.6-0.1 2.6-0.9 2.6-1.1 2.6-0.1 2.6-0.5 2.6-1.1 2.6-0.8 2.6-0.9 2.6-1.5 2.6-1.1 2.6 0.6 2.6-0.4 2.6-1.8 2.6-1.1 2.6-0.7 2.6-0.9 2.6-1.3 2.6-1.3 2.6-0.4 2.6 0 2.6-1 2.6-1.6 2.6-0.8 2.6-1.1 2.6-1.2 2.6-1.1 2.6-2 2.6-1 2.6-0.4 2.6-1.3 2.6-1.6 2.6-1.8 2.6-1.5 2.6-2.1 2.6-1.7 2.6-0.8 2.6-2.2 2.6-3.4 2.6-2.9 2.6-2.7 2.6-3.2 2.6-3.2 2.6-2.3 2.6-2.4 2.6-2.1 2.6-2.3 2.6-2.6 2.6-2.2 2.6-3.5 2.6-4.2 2.6-2.2 2.6-2.3 2.6-3.5 2.6-3 2.6-3.7 2.6-4.2 2.6-3.7 2.6-2.9 2.6-2 2.6-1.6 2.6-1.6 2.6-1.5 2.6-2.1 2.6-2 2.6-0.6 2.6-0.2 2.6 0.1 2.6 1.7 2.6 2.3 2.6 0.5 2.6-0.1 2.6 0.3 2.6 2.2 2.6 4.1 2.6 2.8 2.6 2.2 2.6 3.4 2.6 3.6 2.6 3.9 2.6 4 2.6 2.9 2.6 4.9 2.6 6.3 2.6 3.2 2.6 1.5 2.6 2.5 2.6 5.1 2.6 4.4 2.6 2.2 2.6 3.1 2.6 3.3 2.6 2.9 2.6 3.3 2.6 2.5 2.6 1.6 2.6 2 2.6 2.3 2.6 1.9 2.6 1.7 2.6 2.9 2.6 1.6 2.6-0.1 2.6 0.5 2.6 0.7 2.6 0.4 2.6 0.9 2.6 0.3 2.6-1 2.6-0.5 2.6 0 2.6-1.4 2.6-0.4 2.6 0.7 2.6-0.2 2.6-0.3 2.6-0.5 2.6-0.8 2.6-0.5 2.6-1 2.6-1.6 2.6-1.3 2.6-0.7 2.6-1.5 2.6-3.4 2.6-3 2.6-1 2.6-1.1 2.6-1.9 2.6-2.5 2.6-2.5 2.6-2.7 2.6-3.8 2.6-4.8 2.6-4.8 2.6-4.8 2.6-5.8 2.6-6.6 2.6-5.7 2.6-4.6 2.6-5.7 2.6-7.7 2.6-8 2.6-6.8 2.6-6.3 2.6-4.8 2.6-1.7 2.6 0.3 2.6 2.1 2.6 3.7 2.6 4.4 2.6 5.9 2.6 9.4 2.6 10.6 2.6 7.9 2.6 8.3 2.6 10.5 2.6 11 2.6 10.3 2.6 8.7 2.6 8.7 2.6 8.7 2.6 7.1 2.6 6.6 2.6 6.1 2.6 5.5 2.6 6.3 2.6 5.5 2.6 4.1 2.6 3.4 2.6 3.5 2.6 4.5 2.6 3.3 2.6 1.5 2.6 2.3 2.6 2.7 2.6 2.1 2.6 2.3 2.6 1.6 2.6 1.7 2.6 1.2 2.6 0.4 2.6 1.9 2.6 1.8 2.6 0.2 2.6 0.2 2.6 1.8 2.6 1.5 2.6 0.7 2.6 1 2.6 0.6 2.6-0.2 2.6-0.1 2.6 0.3 2.6-0.2 2.6-0.7 2.6 0.6 2.6 1.4 2.6 0.4 2.6-0.5 2.6-0.7 2.6-0.3 2.6 0.2 2.6 0.4 2.6 0.4 2.6-0.5 2.6-1.3 2.6-0.5 2.6-0.2 2.6-0.7 2.6-1.1 2.6-0.5 2.6 0.2 2.6 0.4 2.6 0.4 2.6-0.4 2.6-0.7 2.6-0.9 0.7-0.9" stroke="#6aa6dc" stroke-width="3.6"/>
<path d="M335.2 2411l2.6 0.1 2.6 0.2 2.6 0.2 2.6 0.3 2.6 0.4 2.6 0.1 2.6-0.1 2.6 0.4 2.6 0.4 2.6-0.5 2.6-0.7 2.6 0.3 2.6 0.9 2.6-0.1 2.6-0.7 2.6 0.1 2.6 0.2 2.6 0.6 2.6 0.8 2.6 0.1 2.6-0.4 2.6-0.1 2.6-0.4 2.6-0.9 2.6 0.3 2.6 0.3 2.6-1 2.6 0.2 2.6 1.4 2.6 0.4 2.6-0.7 2.6-0.2 2.6 0.3 2.6-0.5 2.6-0.2 2.6 0 2.6 0.1 2.6-0.2 2.6-0.5 2.6 0.2 2.6 0.2 2.6-0.1 2.6 0.7 2.6-0.2 2.6-0.5 2.6-0.1 2.6 0.4 2.6 0.8 2.6-0.6 2.6-0.9 2.6 0.6 2.6 0.6 2.6-0.5 2.6-0.1 2.6-0.1 2.6-0.6 2.6 0.6 2.6 0.4 2.6-0.4 2.6-0.1 2.6-0.2 2.6-0.3 2.6-0.1 2.6-0.4 2.6-0.5 2.6 0.1 2.6 0.7 2.6-0.2 2.6-0.5 2.6 0.5 2.6 1.1 2.6-0.5 2.6-1.4 2.6-0.6 2.6 0.1 2.6-0.4 2.6-0.4 2.6 0.6 2.6-0.2 2.6-1.2 2.6-0.2 2.6 0.5 2.6-0.5 2.6-1.2 2.6 0 2.6-0.5 2.6-1.2 2.6-0.6 2.6-1.8 2.6-2.7 2.6-2.5 2.6-4 2.6-5.8 2.6-6.9 2.6-7.9 2.6-4.1 2.6 3 2.6 6.5 2.6 7.1 2.6 5.8 2.6 3.5 2.6 2.3 2.6 1.7 2.6 0.7 2.6-0.2 2.6 1 2.6 1.2 2.6-0.2 2.6 0 2.6 0.2 2.6-0.3 2.6 0.1 2.6 0 2.6-0.8 2.6-0.3 2.6 0.5 2.6-0.4 2.6-1 2.6-0.5 2.6 0.2 2.6-0.1 2.6-0.2 2.6-0.1 2.6-0.3 2.6-0.1 2.6 0.5 2.6 0.7 2.6-0.8 2.6-2.1 2.6-1.2 2.6-0.3 2.6 0.1 2.6-0.3 2.6-0.5 2.6-0.2 2.6-0.9 2.6-0.5 2.6 0.8 2.6-0.1 2.6-0.3 2.6 0.4 2.6-0.9 2.6-1.9 2.6-0.4 2.6-0.2 2.6-0.2 2.6-0.2 2.6-0.7 2.6 0.2 2.6 0.2 2.6-1 2.6-0.3 2.6 0.3 2.6 0.6 2.6 1.1 2.6-0.2 2.6-1.8 2.6-1 2.6 0.4 2.6 0.3 2.6 0.5 2.6-0.2 2.6-1.4 2.6-1.2 2.6-0.7 2.6 0.1 2.6 0.8 2.6-0.3 2.6-0.5 2.6 0.4 2.6-0.2 2.6-0.6 2.6-0.7 2.6-0.7 2.6 0.1 2.6 1.1 2.6 0.3 2.6-1.8 2.6-1.2 2.6 0 2.6 0 2.6-0.5 2.6-0.2 2.6 0.5 2.6 0.3 2.6-0.1 2.6-0.3 2.6-0.2 2.6 0.2 2.6-0.3 2.6-1.7 2.6-0.7 2.6 0.1 2.6-2.1 2.6-1.7 2.6-1.3 2.6-3 2.6-3.7 2.6-4.2 2.6-2.3 2.6 2.2 2.6 4 2.6 3.3 2.6 2.4 2.6 1.5 2.6 0.7 2.6-0.1 2.6-0.4 2.6 0.1 2.6-0.4 2.6-0.6 2.6 0.5 2.6 0.4 2.6 0.1 2.6 0.5 2.6 0.2 2.6 1 2.6-0.1 2.6-1 2.6 0.6 2.6 0.9 2.6-0.7 2.6-0.8 2.6-0.2 2.6-1.3 2.6-1.5 2.6-0.1 2.6 0.5 2.6 0.4 2.6-1.2 2.6-1.9 2.6-0.4 2.6 0.5 2.6-0.6 2.6 0 2.6 0.1 2.6-1.2 2.6-0.2 2.6-0.3 2.6-2 2.6-1.2 2.6-0.7 2.6-0.7 2.6-1.4 2.6-2.1 2.6-0.7 2.6 0.2 2.6-0.4 2.6-1.4 2.6-1.1 2.6-0.5 2.6-0.6 2.6-1.3 2.6-0.5 2.6 0.1 2.6-0.7 2.6-1.1 2.6-1.4 2.6-0.6 2.6-1.1 2.6-1.9 2.6 0.4 2.6 0.6 2.6-0.8 2.6-1.1 2.6-0.3 2.6-0.4 2.6-1 2.6 0 2.6 0.3 2.6-0.6 2.6-1.7 2.6-1.9 2.6 0.3 2.6 0.5 2.6-1.1 2.6-1.6 2.6-0.9 2.6-0.2 2.6-1.5 2.6-1.8 2.6 0.5 2.6 0.9 2.6-0.6 2.6-1.2 2.6-1.2 2.6-1.6 2.6-0.8 2.6 0.4 2.6 0.4 2.6-0.2 2.6-0.8 2.6-0.8 2.6-0.4 2.6-0.6 2.6-1 2.6-0.7 2.6-0.8 2.6-1.6 2.6-0.7 2.6-0.5 2.6-1.5 2.6-0.8 2.6-1 2.6-0.3 2.6 0.8 2.6-1.2 2.6-2.1 2.6-1.1 2.6-0.7 2.6 0 2.6 0.7 2.6-1.1 2.6-1.4 2.6-0.2 2.6-1.4 2.6-2.2 2.6-2 2.6-1.6 2.6-0.6 2.6-0.1 2.6-1.5 2.6-2.5 2.6-2.1 2.6-1.4 2.6-1.4 2.6-0.9 2.6-1.1 2.6-2.7 2.6-2.3 2.6-1.5 2.6-2.7 2.6-3.7 2.6-2.7 2.6-1 2.6-0.9 2.6-1.6 2.6-2.1 2.6-2.1 2.6-3.5 2.6-4.6 2.6-3.6 2.6-2.2 2.6-1.5 2.6-2.2 2.6-5 2.6-6.5 2.6-3.7 2.6-2.1 2.6-4.2 2.6-4.3 2.6-3.5 2.6-5 2.6-6.2 2.6-5.5 2.6-4.8 2.6-4.7 2.6-5.1 2.6-5.5 2.6-6.3 2.6-6.7 2.6-5.8 2.6-5.6 2.6-5.7 2.6-6 2.6-7 2.6-6.7 2.6-7.3 2.6-9.2 2.6-8.4 2.6-5.8 2.6-5.5 2.6-5.8 2.6-7.1 2.6-8.7 2.6-7.1 2.6-5.3 2.6-5.8 2.6-6.5 2.6-6.6 2.6-4.8 2.6-4.6 2.6-2.9 2.6-0.6 2.6-3 2.6-2.7 2.6-0.2 2.6-0.9 2.6 0.2 2.6 2.9 2.6 1.8 2.6 0.4 2.6 3.1 2.6 4.8 2.6 4.8 2.6 5.8 2.6 6.1 2.6 5.4 2.6 5.7 2.6 7.3 2.6 7.1 2.6 5.1 2.6 5.2 2.6 6 2.6 5.8 2.6 5.6 2.6 5.9 2.6 6.4 2.6 5.8 2.6 4.5 2.6 4.9 2.6 6.2 2.6 4.4 2.6 3 2.6 4.2 2.6 3.9 2.6 3.3 2.6 2.1 2.6 0.9 2.6 3 2.6 4.9 2.6 4.3 2.6 1.4 2.6-2.1 2.6-1.3 2.6 1.8 2.6 1.1 2.6 0.3 2.6 0.4 2.6-1.2 2.6-1.7 2.6-0.5 2.6 0.4 2.6 0.5 2.6-0.4 2.6-2.1 2.6-3.5 2.6-1.6 2.6-0.1 2.6-1.4 2.6-1.8 2.6-2.1 2.6-3.2 2.6-3.2 2.6-2.7 2.6-1.5 2.6-1.9 2.6-4.4 2.6-4.2 2.6-5.9 2.6-7.9 2.6-5.4 2.6-5.4 2.6-7.1 2.6-8.7 2.6-9.2 2.6-8.2 2.6-10 2.6-11.6 2.6-11.8 2.6-10.5 2.6-7.6 2.6-7.5 2.6-8.7 2.6-5.9 2.6-0.8 2.6 2.1 2.6 4.8 2.6 7.9 2.6 9.6 2.6 11.8 2.6 14.8 2.6 15.4 2.6 15 2.6 15.6 2.6 14.1 2.6 12.6 2.6 13.6 2.6 13.5 2.6 11.3 2.6 10.1 2.6 10.3 2.6 9.2 2.6 7.5 2.6 7.6 2.6 7.9 2.6 5.7 2.6 4.3 2.6 4.7 2.6 4.3 2.6 4.4 2.6 4.7 2.6 3 2.6 2.6 2.6 3.8 2.6 3.5 2.6 2.2 2.6 2 2.6 1.8 2.6 1.7 2.6 1.5 2.6 0.6 2.6 0.6 2.6 1.7 2.6 0.9 2.6-0.7 2.6 0.2 2.6 2.4 2.6 1.4 2.6-0.1 2.6 0.3 2.6 0.2 2.6 0.4 2.6 0.8 2.6-0.1 2.6 0.7 2.6 0.6 2.6-1.5 2.6-1.1 2.6 0.4 2.6 0.3 2.6-0.2 2.6-0.8 2.6-1 2.6-0.5 2.6 0.1 2.6 1 2.6 0.3 2.6-1.7 2.6-1.5 2.6-0.2 2.6-0.4 2.6-0.9 2.6-0.3 2.6 0.5 2.6-0.7 0.7-0.8" stroke="#6e2f2f" stroke-width="3.6"/>
<path d="M335.2 2422.1l2.6 1 2.6 0.2 2.6-1.3 2.6-1.2 2.6-0.4 2.6 0.8 2.6 0.8 2.6-0.3 2.6 0.1 2.6 0.7 2.6 0.7 2.6 0.1 2.6-0.7 2.6-0.7 2.6-0.4 2.6-0.2 2.6-0.7 2.6-0.5 2.6 0.2 2.6 0.3 2.6 0.9 2.6 0.5 2.6 0.2 2.6-0.4 2.6-1.3 2.6-0.4 2.6-0.2 2.6-0.4 2.6 0.1 2.6 0.9 2.6 0.9 2.6-0.7 2.6-0.3 2.6 0.3 2.6-0.5 2.6 0.4 2.6 1.1 2.6-0.2 2.6-0.6 2.6 0.7 2.6-0.8 2.6-1.5 2.6 0.5 2.6 1 2.6 0.2 2.6-0.2 2.6-0.3 2.6 0.3 2.6 0.8 2.6-0.3 2.6-0.8 2.6 0.6 2.6-0.5 2.6-1.2 2.6 1 2.6 1.2 2.6-0.6 2.6-0.8 2.6 0.2 2.6 0.7 2.6 0.7 2.6-0.7 2.6-0.9 2.6-0.7 2.6-0.6 2.6 1.2 2.6 2 2.6 0 2.6-1.1 2.6-0.8 2.6-0.6 2.6 0.2 2.6 1.4 2.6 0.1 2.6-1.2 2.6 0.5 2.6 0.9 2.6-0.7 2.6-0.6 2.6 0.2 2.6-0.6 2.6-0.9 2.6 0 2.6-0.4 2.6-0.5 2.6-0.9 2.6-0.8 2.6-0.4 2.6-1 2.6-0.4 2.6-1.1 2.6-3.2 2.6-3.9 2.6-4 2.6-3.5 2.6-2.3 2.6 0.8 2.6 4.3 2.6 5 2.6 3 2.6 2.4 2.6 2.4 2.6 2.2 2.6 0.8 2.6 0.6 2.6 1.2 2.6-0.3 2.6-0.4 2.6 0.2 2.6-1.3 2.6 0 2.6 1.5 2.6 0.3 2.6-0.1 2.6 0.4 2.6-0.2 2.6-1 2.6-0.5 2.6 0.7 2.6 0.5 2.6 0.2 2.6 0.1 2.6-0.2 2.6 0.5 2.6 0.1 2.6-0.1 2.6 0.7 2.6-0.1 2.6-0.6 2.6 0.2 2.6 0.6 2.6-0.2 2.6-0.9 2.6-0.5 2.6 0.2 2.6 0.5 2.6 0.1 2.6 0.6 2.6 0.4 2.6-1.4 2.6-1 2.6 0.8 2.6 0.1 2.6-0.5 2.6-0.1 2.6-0.2 2.6 0.5 2.6 0.7 2.6-0.1 2.6-0.1 2.6-0.4 2.6-0.3 2.6 0.3 2.6 0.2 2.6-0.4 2.6-0.3 2.6 0 2.6-0.3 2.6-0.1 2.6 0 2.6 0 2.6 0 2.6-0.3 2.6 0 2.6 0.2 2.6 0.9 2.6 0.8 2.6-0.4 2.6-0.8 2.6-0.2 2.6-0.4 2.6 0.1 2.6 1.4 2.6 0.6 2.6-0.7 2.6-0.4 2.6-0.5 2.6-1.3 2.6-0.2 2.6 1.7 2.6 0.8 2.6-0.3 2.6 0.4 2.6-0.7 2.6-1.1 2.6 0.2 2.6 0 2.6 0.1 2.6 0.8 2.6-0.2 2.6-0.6 2.6 0.2 2.6 0.5 2.6-0.1 2.6-0.6 2.6-0.2 2.6 0.2 2.6 0.4 2.6 0.5 2.6-0.9 2.6-0.5 2.6 0.7 2.6 0 2.6-0.5 2.6-0.6 2.6-0.4 2.6 0.4 2.6 0.6 2.6-0.1 2.6-0.5 2.6-0.4 2.6 0.4 2.6 0.6 2.6 0.2 2.6 0.2 2.6 0.1 2.6-0.3 2.6-0.5 2.6-0.2 2.6 0.4 2.6 0.2 2.6-0.3 2.6-0.7 2.6-0.6 2.6-0.2 2.6 0.6 2.6 0.8 2.6 0 2.6 0 2.6 0.3 2.6 0 2.6-0.4 2.6-0.6 2.6-0.9 2.6-0.7 2.6 0.8 2.6 0.7 2.6 0 2.6 0.1 2.6-0.2 2.6-0.2 2.6-0.3 2.6-0.5 2.6 0.2 2.6 0.5 2.6-0.4 2.6-0.4 2.6 0.1 2.6 0 2.6-0.5 2.6-0.5 2.6 0.1 2.6 0.3 2.6-0.7 2.6-0.4 2.6 0.2 2.6-0.2 2.6-1.3 2.6-1.5 2.6 0.7 2.6 1.1 2.6 0.5 2.6 0.4 2.6-1.2 2.6-1.5 2.6 0.2 2.6 0.5 2.6-0.2 2.6 0 2.6 0 2.6-0.7 2.6-0.2 2.6 0.4 2.6 0.4 2.6 0.6 2.6-0.9 2.6-2.3 2.6-1.5 2.6 0.2 2.6 1.1 2.6 0 2.6-0.9 2.6-0.9 2.6-0.2 2.6-0.1 2.6-0.2 2.6-0.2 2.6-0.5 2.6-0.4 2.6-0.5 2.6-0.3 2.6 0.4 2.6 0.6 2.6 0.3 2.6-0.8 2.6-0.8 2.6-0.5 2.6-1.2 2.6-0.1 2.6 0.2 2.6-0.6 2.6-0.4 2.6-0.6 2.6-1.1 2.6-1.2 2.6-0.7 2.6 0 2.6-0.1 2.6-0.7 2.6-0.3 2.6-0.3 2.6-0.7 2.6 0 2.6-0.1 2.6-0.6 2.6-0.4 2.6-1.1 2.6-0.9 2.6-0.2 2.6-0.6 2.6-1.2 2.6-1 2.6-0.4 2.6 0 2.6-0.5 2.6-1.6 2.6-0.9 2.6 0.2 2.6-0.6 2.6-1.3 2.6-1 2.6-1.3 2.6-1.8 2.6-1.1 2.6-0.7 2.6-1.4 2.6-1 2.6 0 2.6-1.1 2.6-2.6 2.6-1.2 2.6 0.7 2.6-1.5 2.6-2.4 2.6-1.5 2.6-1.9 2.6-1.2 2.6-0.7 2.6-2.1 2.6-2.2 2.6-1.8 2.6-2.5 2.6-2.1 2.6-1.9 2.6-2.2 2.6-2.2 2.6-2.2 2.6-2.7 2.6-3.2 2.6-2.9 2.6-3.6 2.6-3.9 2.6-2.3 2.6-1.7 2.6-2.6 2.6-3.3 2.6-3 2.6-2.3 2.6-2.9 2.6-4.6 2.6-4.6 2.6-4.5 2.6-3 2.6-1.1 2.6-3 2.6-4.8 2.6-3.6 2.6-2.1 2.6-1.4 2.6-2.5 2.6-3.6 2.6-1.6 2.6-1.2 2.6-1.1 2.6-0.4 2.6-1.7 2.6-0.7 2.6 1.2 2.6 0.9 2.6 0.4 2.6 1 2.6 2.4 2.6 3.6 2.6 2.9 2.6 3.2 2.6 3.8 2.6 2.4 2.6 1.9 2.6 3.3 2.6 3.1 2.6 2.4 2.6 3.1 2.6 3.7 2.6 4.2 2.6 4.2 2.6 3.3 2.6 3.4 2.6 3.9 2.6 2.6 2.6 1.4 2.6 2.4 2.6 3.5 2.6 3 2.6 1.9 2.6 2.2 2.6 2.3 2.6 1.2 2.6 0 2.6 1.6 2.6 3.1 2.6 1.8 2.6 0.1 2.6-0.3 2.6 0.5 2.6 1.6 2.6 1.1 2.6-0.4 2.6 0.3 2.6 0.8 2.6-0.5 2.6-0.4 2.6-0.4 2.6-1.4 2.6-1.6 2.6-0.3 2.6 0.5 2.6-0.9 2.6-1.7 2.6-0.8 2.6-1.8 2.6-1.4 2.6 0.4 2.6-1.2 2.6-2.5 2.6-3 2.6-2.9 2.6-1.5 2.6-1.8 2.6-2.8 2.6-3.1 2.6-4.4 2.6-4.3 2.6-2.6 2.6-3.6 2.6-4.2 2.6-4.7 2.6-6.7 2.6-5.6 2.6-5 2.6-7 2.6-6.7 2.6-5.9 2.6-5.6 2.6-3.1 2.6-2.4 2.6-2.4 2.6 0.2 2.6 3.1 2.6 5.1 2.6 5.7 2.6 5.8 2.6 6.5 2.6 7 2.6 7 2.6 8 2.6 9.1 2.6 7.6 2.6 6.5 2.6 7 2.6 6.8 2.6 6.3 2.6 5.6 2.6 4.9 2.6 4.3 2.6 3.8 2.6 3.7 2.6 3 2.6 1.7 2.6 2.7 2.6 3.8 2.6 2 2.6 1.2 2.6 1.7 2.6 1.2 2.6 1.3 2.6 1.7 2.6 1.6 2.6 1.2 2.6 1.1 2.6 0.9 2.6 0.6 2.6 1 2.6 1.1 2.6 0 2.6-0.5 2.6 0.8 2.6 0.6 2.6-0.3 2.6 0.2 2.6 0.3 2.6 0.1 2.6 0 2.6 0.8 2.6 0.4 2.6-1.4 2.6 0 2.6 0.9 2.6-0.4 2.6-0.2 2.6-0.3 2.6-0.8 2.6-0.3 2.6-0.4 2.6-0.5 2.6 0.6 2.6 1.5 2.6 0.1 2.6-0.5 2.6 0.3 2.6-0.3 2.6-0.5 2.6-0.7 2.6-1.1 2.6-0.1 2.6 0 2.6-0.4 0.7 0.3" stroke="#7b3a3a" stroke-width="3.6"/>
<path d="M335.2 2452.1l2.6-0.4 2.6 0.8 2.6 0.1 2.6 0 2.6 1 2.6 0.2 2.6-0.3 2.6-0.4 2.6-1 2.6-0.7 2.6 0 2.6-0.4 2.6-0.7 2.6-0.5 2.6 0.1 2.6 0.5 2.6-0.3 2.6-0.7 2.6-0.2 2.6 0.1 2.6 0.5 2.6 0.3 2.6-0.1 2.6-0.4 2.6-0.3 2.6-0.4 2.6-0.3 2.6 0.5 2.6 0 2.6 0 2.6 0 2.6-0.2 2.6-0.2 2.6-0.1 2.6 0.5 2.6 0.2 2.6-0.4 2.6-0.9 2.6-0.9 2.6 0.2 2.6 0.9 2.6 0 2.6-0.3 2.6-0.2 2.6-0.5 2.6-0.2 2.6 0.1 2.6-0.1 2.6-0.4 2.6 0.3 2.6 0.2 2.6 0 2.6 0.9 2.6-0.2 2.6-0.9 2.6 0.7 2.6 0.6 2.6-1.2 2.6-0.4 2.6 1.2 2.6 0.5 2.6-0.7 2.6-0.3 2.6 0.5 2.6 0 2.6-0.7 2.6 0.2 2.6 1 2.6 0.2 2.6-0.5 2.6-0.3 2.6-0.5 2.6-0.7 2.6-0.5 2.6 0.3 2.6 0.8 2.6 1 2.6-0.3 2.6-0.5 2.6 0.1 2.6-0.7 2.6-0.2 2.6 0.4 2.6 0.5 2.6 0.5 2.6 0 2.6-0.6 2.6-0.9 2.6-0.8 2.6 0.1 2.6 0 2.6-1.3 2.6-2.4 2.6-3 2.6-3.1 2.6-1.4 2.6 2 2.6 3.3 2.6 2.1 2.6 1.6 2.6 1.8 2.6 1.2 2.6 0.6 2.6 0.7 2.6 0.2 2.6 0.8 2.6 0.7 2.6-1.4 2.6-0.8 2.6 1.2 2.6 0.5 2.6 0 2.6 0.5 2.6 0 2.6-0.2 2.6 0.3 2.6 0.3 2.6 0.3 2.6-0.2 2.6-0.2 2.6 0.5 2.6 0.4 2.6-0.3 2.6-0.3 2.6 0.4 2.6 0.2 2.6 0.2 2.6 1 2.6 0.1 2.6-1.6 2.6-0.8 2.6 0.7 2.6 0.8 2.6 0.4 2.6-0.4 2.6-0.4 2.6 0.2 2.6-0.1 2.6-0.2 2.6 0.2 2.6 0.2 2.6 0.3 2.6-0.4 2.6-1 2.6 0.1 2.6 1.5 2.6 0.9 2.6-0.4 2.6 0.3 2.6 0.6 2.6 0 2.6-0.3 2.6-0.5 2.6-0.2 2.6 0 2.6 0.3 2.6 0.4 2.6-0.2 2.6-0.6 2.6 0.1 2.6 1 2.6 1.1 2.6 0.5 2.6-0.1 2.6-0.2 2.6 0.3 2.6 0.8 2.6 0 2.6-0.1 2.6 0.3 2.6 0.1 2.6 0 2.6 0.2 2.6 0.2 2.6 0.2 2.6 0.3 2.6-0.1 2.6-0.7 2.6-0.3 2.6 0.5 2.6 1.3 2.6 1 2.6 0.1 2.6-0.8 2.6-0.7 2.6 0 2.6 0.8 2.6 0.6 2.6-0.5 2.6 0.1 2.6 1.5 2.6 1.2 2.6-0.4 2.6-1.1 2.6-0.6 2.6 0.5 2.6 0.3 2.6-0.6 2.6 0 2.6 0.8 2.6 0.1 2.6 0.3 2.6 0.8 2.6 0.3 2.6 0.4 2.6 0.3 2.6-0.7 2.6-0.8 2.6-0.1 2.6 0.4 2.6 0.5 2.6 1.2 2.6 0.9 2.6-0.2 2.6-0.4 2.6-0.2 2.6-0.7 2.6 0.2 2.6 0.6 2.6-0.1 2.6-0.1 2.6 0.4 2.6 0.7 2.6 0.4 2.6 0.3 2.6 0 2.6-0.7 2.6-0.2 2.6 0.8 2.6 0.8 2.6 0.5 2.6-0.2 2.6-0.1 2.6 0.5 2.6 0.2 2.6-0.2 2.6-0.8 2.6-0.7 2.6 0.1 2.6 0.5 2.6 0.5 2.6-0.2 2.6-1.4 2.6-1.1 2.6 0.2 2.6 0.1 2.6 0 2.6-0.5 2.6-1.3 2.6-0.2 2.6 0.8 2.6-0.7 2.6-1.3 2.6-0.1 2.6 0 2.6-0.5 2.6-0.6 2.6-0.3 2.6-0.1 2.6-1.1 2.6-2.2 2.6-1 2.6 0.5 2.6-0.1 2.6-0.4 2.6-0.2 2.6-0.2 2.6-0.7 2.6-0.6 2.6 0.2 2.6-0.6 2.6-1 2.6-0.7 2.6-1.1 2.6-0.5 2.6-0.6 2.6-1 2.6-0.2 2.6-0.1 2.6-0.5 2.6-1.1 2.6-0.5 2.6-0.2 2.6-1.1 2.6-1.1 2.6 0 2.6-0.2 2.6-1.4 2.6-0.8 2.6 0.7 2.6 0.4 2.6-1.1 2.6-1.7 2.6-1.6 2.6-0.8 2.6 0.1 2.6-0.2 2.6-0.9 2.6-0.3 2.6 0.3 2.6-0.8 2.6-1.3 2.6-0.9 2.6-2 2.6-1.5 2.6 0.5 2.6 0.3 2.6-0.7 2.6-1.2 2.6-1.7 2.6-1 2.6-0.2 2.6-0.6 2.6-1.4 2.6-1.9 2.6-0.9 2.6-0.1 2.6-1 2.6-1 2.6-0.4 2.6-1.6 2.6-1.5 2.6-1 2.6-1.8 2.6-1.5 2.6-1.5 2.6-1.6 2.6-1.2 2.6-1.6 2.6-2 2.6-1.7 2.6-1.3 2.6-2.1 2.6-2.5 2.6-2.4 2.6-1.4 2.6-0.6 2.6-1.7 2.6-2.7 2.6-3.4 2.6-2.7 2.6-1.7 2.6-2.6 2.6-3.2 2.6-2.2 2.6-1.7 2.6-2.1 2.6-3.7 2.6-3.8 2.6-2.8 2.6-3.8 2.6-4 2.6-3.7 2.6-3.8 2.6-3.9 2.6-4.4 2.6-4.3 2.6-4.2 2.6-4.2 2.6-4.5 2.6-5.5 2.6-5.2 2.6-4 2.6-5.4 2.6-6.9 2.6-5.5 2.6-4.6 2.6-4.8 2.6-5.3 2.6-6.5 2.6-7.1 2.6-6.7 2.6-6.2 2.6-5.6 2.6-4.4 2.6-4.2 2.6-5.8 2.6-6.2 2.6-4.8 2.6-3.4 2.6-2.2 2.6-2.9 2.6-3.7 2.6-2.7 2.6-1.1 2.6-0.8 2.6-0.5 2.6 0.6 2.6-0.5 2.6 0.2 2.6 2.2 2.6 2.3 2.6 2.8 2.6 2.8 2.6 2.8 2.6 3.5 2.6 4.8 2.6 4.7 2.6 3.8 2.6 5.4 2.6 5.6 2.6 4.6 2.6 4.7 2.6 4.3 2.6 5.4 2.6 6.4 2.6 5.6 2.6 5.1 2.6 4.3 2.6 3.2 2.6 2.9 2.6 4.3 2.6 4 2.6 3.4 2.6 3.8 2.6 4 2.6 2 2.6 0.8 2.6 1.6 2.6 1 2.6 1.3 2.6 2.4 2.6 1.8 2.6 1.6 2.6 1 2.6 0.4 2.6-0.2 2.6-0.2 2.6 0.4 2.6 0.1 2.6-0.2 2.6-0.8 2.6-0.3 2.6 0.6 2.6-0.8 2.6-0.7 2.6-0.6 2.6-0.9 2.6-0.4 2.6 0 2.6-1.8 2.6-4.3 2.6-2.1 2.6 0.2 2.6-1.4 2.6-4 2.6-3.9 2.6-1.5 2.6-1.5 2.6-4.1 2.6-5.1 2.6-5.2 2.6-5.2 2.6-4.6 2.6-5 2.6-7.1 2.6-9.7 2.6-8.8 2.6-6.7 2.6-8 2.6-9.1 2.6-7 2.6-5.4 2.6-4.9 2.6-3.5 2.6-1.3 2.6 0.9 2.6 3 2.6 7.2 2.6 11 2.6 12.4 2.6 13.5 2.6 14.1 2.6 13.9 2.6 14.6 2.6 13.8 2.6 13.1 2.6 13.6 2.6 12 2.6 10.6 2.6 11.4 2.6 10.3 2.6 8.4 2.6 7.7 2.6 8 2.6 7.9 2.6 4.9 2.6 3.8 2.6 5 2.6 5.6 2.6 5.2 2.6 4.6 2.6 4.6 2.6 3.9 2.6 2.2 2.6 2.2 2.6 3.2 2.6 2.8 2.6 2.2 2.6 2.1 2.6 2.3 2.6 3 2.6 2.4 2.6 0.6 2.6 1.1 2.6 1.9 2.6 0.9 2.6 1.5 2.6 1.2 2.6-0.8 2.6 0.4 2.6 1.8 2.6 1.3 2.6-0.6 2.6-1.4 2.6 0.4 2.6 0.9 2.6 0.3 2.6-0.2 2.6-0.5 2.6 0.2 2.6-0.4 2.6-0.8 2.6-0.9 2.6-0.6 2.6-0.5 2.6-0.6 2.6 0 2.6-0.3 2.6-0.8 2.6-0.9 2.6-0.1 2.6 0.8 2.6-0.2 2.6-1.8 2.6-2.5 0.7-0.7" stroke="#a3a300" stroke-width="3.6"/>
<path d="M335.2 2361.1l2.6 0.8 2.6 1.2 2.6-0.5 2.6-1 2.6-0.1 2.6 0.6 2.6 1.1 2.6 0.5 2.6 0.3 2.6 0.5 2.6-0.1 2.6-0.6 2.6-0.2 2.6 0.2 2.6-0.1 2.6-0.6 2.6-0.9 2.6-1.6 2.6-3.1 2.6-3.2 2.6-2.5 2.6-1.5 2.6 0.8 2.6 2.9 2.6 3.5 2.6 2.4 2.6 1.5 2.6 2.4 2.6 2.9 2.6 0.6 2.6-1.1 2.6-0.1 2.6 0.5 2.6 0.7 2.6 1.5 2.6 0.8 2.6-0.5 2.6-1 2.6 0.4 2.6 0.7 2.6 0.4 2.6 0.5 2.6 0.7 2.6 0.6 2.6-0.5 2.6-1 2.6-1.5 2.6-0.9 2.6 0.8 2.6 1.1 2.6-0.4 2.6-1.2 2.6-0.3 2.6 0.3 2.6-0.3 2.6-1 2.6-1.1 2.6-0.3 2.6 0.2 2.6 0 2.6-0.5 2.6-1.3 2.6-1 2.6-0.9 2.6-0.8 2.6-0.8 2.6-1.9 2.6-1.4 2.6-0.8 2.6-0.8 2.6-0.7 2.6-2 2.6-2.7 2.6-2.1 2.6-2.1 2.6-2.8 2.6-3.7 2.6-3.2 2.6-3.9 2.6-6.3 2.6-6.2 2.6-6 2.6-7.5 2.6-9.5 2.6-12.9 2.6-15 2.6-15.2 2.6-19.4 2.6-26 2.6-31.7 2.6-35.3 2.6-37.4 2.6-38.1 2.6-32.9 2.6-18.8 2.6 3.3 2.6 27.1 2.6 40.6 2.6 44.5 2.6 42.3 2.6 36.1 2.6 28 2.6 21.4 2.6 16.9 2.6 14.5 2.6 12.1 2.6 8.9 2.6 7.1 2.6 6.2 2.6 5.4 2.6 3.2 2.6 1.5 2.6 1.5 2.6 1.4 2.6 1.6 2.6 1 2.6 0.9 2.6 0.5 2.6 0.1 2.6 0.6 2.6 0.5 2.6 0.2 2.6-1.1 2.6-1.1 2.6-1 2.6-0.2 2.6 1.4 2.6 1 2.6 0.4 2.6-0.2 2.6-0.4 2.6-0.1 2.6 0 2.6 0.4 2.6 1.1 2.6 1.6 2.6 1.4 2.6 1.3 2.6 1.8 2.6 1.8 2.6 0.2 2.6 0.4 2.6 1.6 2.6 2 2.6 1.8 2.6 1.1 2.6 0.6 2.6 0.7 2.6 1.4 2.6 2.2 2.6 2 2.6 2.3 2.6 2.9 2.6 2.2 2.6 6.6 2.6 11.1 2.6 9.7 2.6 4.3 2.6 3.1 2.6 4.1 2.6 4.4 2.6 3.1 2.6 2.7 2.6 2.3 2.6 1.5 2.6 1.8 2.6 2.1 2.6 1.7 2.6 1.1 2.6 0.4 2.6 0.5 2.6 1.4 2.6 0.6 2.6 0.5 2.6 1.2 2.6 1.2 2.6 0.6 2.6 0.5 2.6 0.5 2.6 0.4 2.6 0.4 2.6 0.4 2.6 0 2.6 0.4 2.6 0.7 2.6 0.2 2.6 0.5 2.6 0.6 2.6-0.3 2.6 0 2.6 1.3 2.6 0.8 2.6-1 2.6-0.1 2.6 1.1 2.6 0 2.6 0.3 2.6 0.7 2.6-0.9 2.6-0.9 2.6-0.2 2.6 0.4 2.6 0.8 2.6-0.8 2.6 0 2.6 1.8 2.6-0.1 2.6-0.8 2.6 0.9 2.6 0.4 2.6-0.9 2.6-0.3 2.6 0.3 2.6-0.6 2.6-0.7 2.6-0.2 2.6 0.8 2.6 0.8 2.6 0.4 2.6 0.5 2.6-0.6 2.6-1.3 2.6-0.5 2.6 0.1 2.6 0.6 2.6 0.8 2.6 0 2.6-0.6 2.6-0.5 2.6-1.1 2.6-1.5 2.6 0.3 2.6 1.3 2.6 0.2 2.6-0.4 2.6-0.2 2.6 0.2 2.6-0.3 2.6-1.5 2.6-0.9 2.6 0.1 2.6 0 2.6 0 2.6 0.6 2.6 0.3 2.6-1 2.6-0.4 2.6 0.8 2.6-0.3 2.6-1.4 2.6-0.2 2.6 0 2.6-1 2.6-0.6 2.6 0.1 2.6 0.2 2.6 0 2.6-0.9 2.6 0 2.6 0.5 2.6-1.2 2.6-0.5 2.6 0 2.6-1 2.6-0.9 2.6 0 2.6 0.5 2.6-0.2 2.6-0.8 2.6-0.8 2.6-0.2 2.6-0.6 2.6-1.2 2.6-0.4 2.6-0.8 2.6-0.3 2.6 1 2.6 0.1 2.6-1.6 2.6-1.5 2.6-0.7 2.6-0.2 2.6 0.1 2.6 0.2 2.6-1.4 2.6-2.3 2.6 0.3 2.6 1.2 2.6-0.9 2.6-0.4 2.6 0.3 2.6-1.1 2.6-2 2.6-1.5 2.6-0.3 2.6 0.6 2.6 0 2.6-0.8 2.6-1.2 2.6-0.7 2.6 0 2.6-0.5 2.6-0.7 2.6-0.5 2.6-1.7 2.6-2.3 2.6-1.4 2.6 0.4 2.6 0.7 2.6-1.8 2.6-2.2 2.6 0.1 2.6 0.1 2.6-1.1 2.6-0.8 2.6-0.8 2.6-1.4 2.6-1.1 2.6-0.8 2.6-0.6 2.6-0.7 2.6-1.7 2.6-1.8 2.6-0.9 2.6-0.4 2.6-1.1 2.6-1.9 2.6-1.2 2.6-1.5 2.6-1.7 2.6-2 2.6-1.5 2.6 0.2 2.6 0.5 2.6-1.8 2.6-2.8 2.6-2.6 2.6-3.2 2.6-3.1 2.6-1.3 2.6-1.5 2.6-2.3 2.6-2 2.6-2.3 2.6-1.5 2.6-1.7 2.6-4.1 2.6-3.5 2.6-1.9 2.6-2.8 2.6-2.9 2.6-2.3 2.6-3.4 2.6-3.7 2.6-2.8 2.6-3.6 2.6-4.9 2.6-4.7 2.6-3.7 2.6-2.5 2.6-3.8 2.6-5 2.6-3.9 2.6-4.6 2.6-6.3 2.6-5.9 2.6-3.9 2.6-3.9 2.6-6.2 2.6-5.6 2.6-3.3 2.6-5.3 2.6-7.1 2.6-4.9 2.6-3.9 2.6-5.2 2.6-4.7 2.6-3.6 2.6-5 2.6-5.4 2.6-3.6 2.6-2.6 2.6-1.5 2.6-1.3 2.6-1.5 2.6-0.7 2.6-0.6 2.6 0.3 2.6 1.2 2.6 1.7 2.6 1.4 2.6 2 2.6 3.8 2.6 3.8 2.6 3.3 2.6 3.3 2.6 4.3 2.6 4.6 2.6 4.5 2.6 5.1 2.6 5.2 2.6 5.1 2.6 5.4 2.6 5.8 2.6 5.2 2.6 5 2.6 5.1 2.6 3.9 2.6 4 2.6 4.5 2.6 3.5 2.6 3.9 2.6 3.9 2.6 3.5 2.6 3.2 2.6 1.9 2.6 2.2 2.6 3.3 2.6 3 2.6 1.3 2.6 0.2 2.6 1.1 2.6 2.1 2.6 2.6 2.6 1.8 2.6 0.4 2.6 0.8 2.6-0.4 2.6-0.9 2.6 0.5 2.6 1 2.6-0.3 2.6-2 2.6-1.2 2.6-0.2 2.6-0.5 2.6 0 2.6-1.3 2.6-2.7 2.6-2 2.6-0.6 2.6-0.7 2.6-2.5 2.6-3 2.6-1.8 2.6-2.6 2.6-2.8 2.6-2.6 2.6-2.7 2.6-3.1 2.6-4.8 2.6-6 2.6-6.3 2.6-5.9 2.6-5.6 2.6-6.8 2.6-7.2 2.6-7.2 2.6-8.4 2.6-9.2 2.6-8.3 2.6-8.8 2.6-8.5 2.6-4.7 2.6-2.3 2.6-2.1 2.6 1.3 2.6 6.5 2.6 6.8 2.6 6.8 2.6 9.9 2.6 12.8 2.6 12.8 2.6 11.4 2.6 13 2.6 13.7 2.6 12.4 2.6 11.2 2.6 11.1 2.6 10.5 2.6 8.8 2.6 7.9 2.6 7.3 2.6 7.4 2.6 6.6 2.6 5 2.6 5.6 2.6 6.3 2.6 5.1 2.6 3.5 2.6 2.7 2.6 3.2 2.6 4.2 2.6 3 2.6 1.9 2.6 2.4 2.6 2.3 2.6 2.1 2.6 1.3 2.6 0.7 2.6 1.8 2.6 1.9 2.6 0.5 2.6 0.7 2.6 1.8 2.6 1.7 2.6 1.1 2.6 0.5 2.6 0 2.6 0.5 2.6 1.7 2.6 1.1 2.6-0.5 2.6 0 2.6 0.8 2.6-0.1 2.6-0.1 2.6-0.1 2.6-1.1 2.6-0.3 2.6 0.5 2.6-0.3 2.6-0.7 2.6-0.5 2.6 0 2.6-0.2 2.6-1 2.6-0.2 2.6 0.9 2.6 0.2 2.6-1.2 2.6-1.6 2.6-0.8 2.6 0.1 2.6 0.2 2.6-0.1 0.7-0.7" stroke="#2ea84f" stroke-width="3.6"/>
<path d="M335.2 2445.4l2.6 0.3 2.6 0.1 2.6 0.3 2.6-0.1 2.6-0.2 2.6 0.2 2.6-0.8 2.6-0.6 2.6 0.6 2.6 0.5 2.6 0.3 2.6 0.2 2.6-0.2 2.6-0.1 2.6-0.3 2.6 0 2.6 0 2.6-0.8 2.6-0.9 2.6 0.2 2.6 0.5 2.6 0.5 2.6 0.2 2.6-0.4 2.6-0.9 2.6-0.5 2.6 0.4 2.6 0.6 2.6-0.6 2.6-0.6 2.6 0.1 2.6 0.1 2.6 0.1 2.6 0.6 2.6 0.6 2.6-0.3 2.6-0.1 2.6-0.2 2.6-0.6 2.6-0.3 2.6-0.2 2.6 0.6 2.6 0.5 2.6-0.3 2.6 0.1 2.6 0.2 2.6 0.2 2.6-0.1 2.6-0.5 2.6 0.4 2.6-0.4 2.6-0.2 2.6 1.4 2.6-0.1 2.6-1.4 2.6-0.3 2.6-0.2 2.6 0.3 2.6 0.1 2.6-0.2 2.6 0.4 2.6 0 2.6-0.2 2.6 0.6 2.6 0.6 2.6-0.6 2.6-1.8 2.6-1.2 2.6 0.6 2.6 1.2 2.6 0.5 2.6-0.1 2.6-0.9 2.6-0.6 2.6 0.2 2.6 1.1 2.6 0.7 2.6-0.8 2.6-0.6 2.6-0.5 2.6-0.8 2.6-0.5 2.6-0.8 2.6 0.1 2.6 1.3 2.6-0.8 2.6-2.4 2.6-0.8 2.6-0.2 2.6-1.6 2.6-2.6 2.6-3.1 2.6-3.1 2.6-3.4 2.6-3.8 2.6-2.7 2.6 1.5 2.6 4.7 2.6 4.4 2.6 2.6 2.6 1.3 2.6 1 2.6 2 2.6 2.5 2.6 1.7 2.6 0.5 2.6 0.2 2.6 0.2 2.6-0.1 2.6 0 2.6 0.6 2.6 0.3 2.6-0.4 2.6 0.6 2.6 0.7 2.6-0.4 2.6-0.5 2.6-0.2 2.6-0.6 2.6-0.7 2.6 0 2.6 0.7 2.6 1 2.6 0.5 2.6-1 2.6-0.6 2.6 0.2 2.6 0.3 2.6-0.1 2.6 0 2.6 0.7 2.6 1 2.6 0.3 2.6-1.2 2.6-0.7 2.6-0.2 2.6-0.7 2.6 0.1 2.6 0.9 2.6 0.6 2.6-0.5 2.6-0.8 2.6-0.2 2.6 0.6 2.6 0.5 2.6-1 2.6-0.8 2.6 0.3 2.6-0.1 2.6 0.7 2.6 0.8 2.6-1.6 2.6-1.3 2.6 1 2.6 1.2 2.6 0.2 2.6-1 2.6-1.4 2.6 1.1 2.6 1.5 2.6-0.9 2.6-0.3 2.6 0.8 2.6 0.1 2.6-1 2.6-0.6 2.6 0.9 2.6 0.3 2.6-0.5 2.6 0.6 2.6 0.4 2.6-0.7 2.6-0.6 2.6 0.3 2.6-0.1 2.6-0.9 2.6 0.4 2.6 1.7 2.6 0.5 2.6-0.5 2.6-0.6 2.6-0.4 2.6 0 2.6-0.2 2.6 0.3 2.6 1.1 2.6 0.3 2.6-1.5 2.6-1.1 2.6 0.5 2.6 0.4 2.6-0.2 2.6 0.4 2.6 0.6 2.6-0.7 2.6-0.9 2.6-0.3 2.6 0.2 2.6 0.2 2.6-0.7 2.6-0.4 2.6 0.7 2.6 0 2.6-0.8 2.6 0.4 2.6 0.7 2.6-0.7 2.6-1.2 2.6-0.6 2.6-0.4 2.6 0.2 2.6 0.1 2.6 0 2.6 0 2.6-0.4 2.6 0.1 2.6 0 2.6-0.3 2.6 0.3 2.6 0.4 2.6-0.6 2.6-1.2 2.6-0.4 2.6-0.3 2.6-0.1 2.6 0.4 2.6-0.7 2.6-0.8 2.6-0.1 2.6-0.3 2.6-0.3 2.6-0.2 2.6-0.2 2.6 0 2.6-0.7 2.6-0.4 2.6 0.5 2.6-0.2 2.6-1 2.6-0.1 2.6-0.1 2.6-0.4 2.6 0.3 2.6 0 2.6-0.8 2.6-0.4 2.6 0 2.6-0.8 2.6-1.6 2.6-0.9 2.6 0 2.6-0.3 2.6-0.1 2.6-0.2 2.6-0.6 2.6-0.6 2.6-0.2 2.6 0.4 2.6-0.4 2.6-0.8 2.6 0 2.6-1 2.6-1.8 2.6-0.2 2.6 0.1 2.6-0.5 2.6-0.4 2.6-0.4 2.6-0.6 2.6-0.4 2.6-0.5 2.6-1 2.6-0.9 2.6-0.6 2.6-1.1 2.6-1.3 2.6-0.3 2.6 0.9 2.6-0.1 2.6-1.3 2.6-0.9 2.6-0.3 2.6-0.5 2.6-0.4 2.6-0.2 2.6-0.4 2.6-1.1 2.6-1.7 2.6 0.3 2.6 0.2 2.6-2.2 2.6-1.7 2.6-0.1 2.6 0.3 2.6-1.3 2.6-1.3 2.6-0.3 2.6-0.5 2.6-0.5 2.6-1.1 2.6-1.2 2.6-0.3 2.6-0.8 2.6-1.3 2.6-1 2.6-0.3 2.6-0.3 2.6-1.3 2.6-0.8 2.6-0.8 2.6-1.5 2.6-1.3 2.6-0.7 2.6-1.1 2.6-2.2 2.6-1.5 2.6 0.3 2.6-0.2 2.6-1 2.6-0.8 2.6-1.2 2.6-2.2 2.6-1.9 2.6-0.8 2.6-0.9 2.6-1.6 2.6-2.4 2.6-3.2 2.6-1.4 2.6 0.5 2.6-0.2 2.6-1.7 2.6-1.9 2.6-1.1 2.6-1.5 2.6-2.6 2.6-2.4 2.6-1.6 2.6-2.2 2.6-2.6 2.6-1.4 2.6-1.3 2.6-3.4 2.6-4.3 2.6-2.7 2.6-1.4 2.6-2.8 2.6-3.8 2.6-3 2.6-2.4 2.6-2.9 2.6-2.5 2.6-3.1 2.6-4.7 2.6-4.2 2.6-3.5 2.6-3.4 2.6-3.4 2.6-4.6 2.6-4.5 2.6-4.7 2.6-6.6 2.6-4.7 2.6-2.7 2.6-5.2 2.6-5.8 2.6-5.4 2.6-5.2 2.6-5.4 2.6-5.8 2.6-5.9 2.6-5.8 2.6-4.1 2.6-3.7 2.6-5.7 2.6-5.5 2.6-4 2.6-5.2 2.6-6 2.6-3.5 2.6-1.9 2.6-2.6 2.6-3.7 2.6-3.1 2.6-2.7 2.6-1.1 2.6 1.6 2.6 0.4 2.6-1.1 2.6 0.8 2.6 2.3 2.6 2.8 2.6 3.5 2.6 3.4 2.6 4.5 2.6 4.6 2.6 2.5 2.6 3.9 2.6 6.1 2.6 4.9 2.6 3.8 2.6 4.6 2.6 5.7 2.6 5.3 2.6 4.5 2.6 5.2 2.6 5.5 2.6 4.4 2.6 3.7 2.6 4.2 2.6 5 2.6 4 2.6 2.7 2.6 1.8 2.6 2 2.6 3.5 2.6 2.7 2.6 1.9 2.6 1.6 2.6 1.8 2.6 3 2.6 2.9 2.6 0.6 2.6-1 2.6-0.1 2.6 0.6 2.6 0.6 2.6 1.7 2.6 1.6 2.6-0.4 2.6-1.1 2.6-1 2.6-0.1 2.6-0.2 2.6-1.1 2.6-0.8 2.6-1.3 2.6-2 2.6-1.5 2.6-1.1 2.6-0.9 2.6-2.2 2.6-2.6 2.6-1.3 2.6-0.7 2.6-2.3 2.6-4.2 2.6-4.1 2.6-3.6 2.6-3.8 2.6-4.6 2.6-6 2.6-5.9 2.6-5 2.6-6.2 2.6-8.6 2.6-8.3 2.6-7.7 2.6-9 2.6-9.2 2.6-7.7 2.6-7 2.6-7.7 2.6-6.6 2.6-3.6 2.6-1.2 2.6 1.9 2.6 4.2 2.6 4.2 2.6 6.3 2.6 10.4 2.6 11.8 2.6 11.2 2.6 12.2 2.6 14.1 2.6 13.4 2.6 11.3 2.6 10 2.6 9 2.6 9.1 2.6 9.8 2.6 8.1 2.6 5.7 2.6 6.5 2.6 6.8 2.6 5.4 2.6 5.2 2.6 5 2.6 4.2 2.6 4.4 2.6 4.1 2.6 2.9 2.6 1.7 2.6 1.5 2.6 1.6 2.6 2.2 2.6 2.6 2.6 2.2 2.6 2.1 2.6 0.8 2.6 0 2.6 0.5 2.6 0.4 2.6 1.4 2.6 2.1 2.6 1.7 2.6 0.5 2.6-1.3 2.6-1.4 2.6-0.8 2.6 1 2.6 2.5 2.6 2 2.6 0.7 2.6-0.8 2.6-0.2 2.6 0.1 2.6-1.1 2.6-0.4 2.6 0.9 2.6 0.5 2.6-0.5 2.6-0.9 2.6 0.4 2.6 0.9 2.6 0 2.6-0.4 2.6-1.1 2.6-2 2.6-0.3 2.6 0.9 2.6-0.2 2.6-1.2 2.6-0.4 2.6-0.6 2.6-1.5 0.7-0.2" stroke="#b070ee" stroke-width="3.6"/>
<path d="M335.2 2334.7l2.6 2.4 2.6 0.1 2.6-2 2.6-0.3 2.6 0.9 2.6 0.2 2.6-0.5 2.6-0.6 2.6-1 2.6-0.5 2.6 1.2 2.6 1.3 2.6-1.3 2.6-2.1 2.6-0.6 2.6 0.1 2.6 0.6 2.6 0.1 2.6-1.9 2.6-1.6 2.6-0.1 2.6 0.1 2.6 0.3 2.6 0.8 2.6 1 2.6 0.8 2.6 1.4 2.6 1.6 2.6-0.2 2.6-0.7 2.6-0.5 2.6-0.5 2.6-0.1 2.6 0.5 2.6 0.6 2.6 0.4 2.6 0.9 2.6 0.1 2.6-0.9 2.6 0.3 2.6 0.3 2.6-1.1 2.6-0.8 2.6 0.2 2.6-0.1 2.6 0.1 2.6 0.8 2.6 1.7 2.6 0.8 2.6 0.2 2.6 0.4 2.6-0.9 2.6-1.3 2.6-0.7 2.6-0.4 2.6-0.3 2.6-0.2 2.6-1.2 2.6-1 2.6 1.1 2.6-0.2 2.6-2.4 2.6-0.9 2.6 0.5 2.6-0.2 2.6-0.7 2.6-0.9 2.6-0.9 2.6 0 2.6-0.3 2.6-0.9 2.6-0.6 2.6-0.5 2.6-0.1 2.6-0.7 2.6-1.1 2.6-1 2.6-1.2 2.6-0.6 2.6 0.4 2.6-0.1 2.6-1.6 2.6-0.4 2.6 0.3 2.6-1.6 2.6-1.2 2.6 0.3 2.6 0.3 2.6-0.8 2.6-1.6 2.6-1 2.6-1.3 2.6-1.4 2.6 0.2 2.6 0.9 2.6 0.1 2.6-1.5 2.6-1 2.6-0.4 2.6-0.9 2.6 0.3 2.6 0.4 2.6-0.2 2.6 1 2.6 0.3 2.6-0.9 2.6-0.6 2.6-0.7 2.6 0.2 2.6-0.7 2.6-1.2 2.6 1.4 2.6 1.4 2.6 0.4 2.6-0.4 2.6-1.1 2.6 0.9 2.6 2.2 2.6-0.3 2.6-1.3 2.6 0.5 2.6 1.2 2.6-0.4 2.6-0.9 2.6 0.1 2.6 0.7 2.6 2 2.6 0.9 2.6-0.2 2.6 0.1 2.6 0 2.6 0.3 2.6 0.5 2.6 0.8 2.6 0 2.6-1.1 2.6 0.2 2.6 1.5 2.6 0.5 2.6-0.5 2.6 0.1 2.6-0.5 2.6-0.7 2.6 1.4 2.6 1.2 2.6-0.8 2.6 0.1 2.6 2 2.6 0.6 2.6-0.2 2.6 1 2.6 1.2 2.6 0.8 2.6 0.4 2.6 0.2 2.6 2 2.6 2.7 2.6 1.9 2.6 0.9 2.6 1.1 2.6 1.6 2.6 0.9 2.6 2 2.6 1.6 2.6-0.1 2.6 0.7 2.6 1.9 2.6 1.7 2.6 1.5 2.6 0.9 2.6-0.2 2.6 0.8 2.6 1.9 2.6 1.1 2.6 0.1 2.6 0 2.6 0.6 2.6 0.7 2.6-0.2 2.6-0.4 2.6 0.2 2.6-0.4 2.6-0.9 2.6-0.2 2.6 0.5 2.6 0.3 2.6-0.4 2.6-0.1 2.6 0.5 2.6 0.3 2.6-0.2 2.6-0.6 2.6-0.7 2.6-1.2 2.6-1.3 2.6-0.1 2.6 0.1 2.6-0.4 2.6-0.9 2.6-2.4 2.6-3.5 2.6-4.5 2.6-4.5 2.6 1.5 2.6 5.2 2.6 2.5 2.6 1.3 2.6 1.5 2.6 0.8 2.6 0.9 2.6 1.6 2.6 0.3 2.6-0.6 2.6 0.5 2.6 0.4 2.6-1.3 2.6-0.7 2.6 0.5 2.6-0.4 2.6 0.4 2.6 1.3 2.6-0.1 2.6-0.9 2.6-0.2 2.6 0.3 2.6-0.4 2.6-1.9 2.6-0.9 2.6 0.4 2.6-1 2.6-0.9 2.6-0.2 2.6 0.1 2.6 0.4 2.6 0.1 2.6 0.9 2.6-0.3 2.6-1.6 2.6-0.2 2.6 1.3 2.6 0 2.6-1.8 2.6-1.3 2.6-0.3 2.6 0.6 2.6 0 2.6-1.6 2.6-0.8 2.6-0.5 2.6-0.9 2.6-0.2 2.6 0.1 2.6 1.5 2.6 1.7 2.6-0.1 2.6-0.8 2.6-2.2 2.6-1.3 2.6 0.3 2.6-0.7 2.6-1.1 2.6-0.7 2.6 0.1 2.6 0.2 2.6-0.8 2.6-0.9 2.6-1.3 2.6-0.8 2.6 0.1 2.6-0.4 2.6 0 2.6-0.2 2.6-0.1 2.6 0.1 2.6-0.5 2.6-0.7 2.6-0.4 2.6 0.4 2.6-0.7 2.6-1.8 2.6-1 2.6-0.3 2.6-0.7 2.6-0.7 2.6-0.4 2.6 0 2.6 0.1 2.6-0.4 2.6 0.2 2.6-0.1 2.6-1.5 2.6-1.4 2.6-1.1 2.6-1.3 2.6-0.3 2.6 0.1 2.6 0.3 2.6 0.2 2.6-1.2 2.6-1.8 2.6-1 2.6 0.4 2.6 0 2.6-0.8 2.6-0.4 2.6-0.3 2.6-1.5 2.6-1.3 2.6-1.8 2.6-1.7 2.6 0.2 2.6 0.1 2.6-1 2.6-2 2.6-2 2.6-0.3 2.6 1.2 2.6 0.3 2.6-0.8 2.6-0.2 2.6-0.8 2.6-1.3 2.6-1.1 2.6-1.5 2.6-1 2.6-1.1 2.6-1.4 2.6-1.4 2.6-2.1 2.6-1 2.6-0.4 2.6-1 2.6-0.7 2.6-1.6 2.6-1.6 2.6-0.6 2.6-2.6 2.6-1.8 2.6-0.4 2.6-1.8 2.6 0.5 2.6 0.5 2.6-1.9 2.6-2.7 2.6-2 2.6-1.5 2.6-3.1 2.6-2.8 2.6-1.3 2.6-2.3 2.6-3.4 2.6-2.5 2.6-1.5 2.6-2.1 2.6-2.3 2.6-1.8 2.6-2.3 2.6-3.3 2.6-2.5 2.6-1.6 2.6-3.2 2.6-4.2 2.6-3.4 2.6-3.9 2.6-4.3 2.6-2.4 2.6-2.4 2.6-4.1 2.6-2.7 2.6-3.3 2.6-4.7 2.6-2.5 2.6-2.7 2.6-5 2.6-4.5 2.6-2.3 2.6-2.3 2.6-3.5 2.6-3.2 2.6-2.2 2.6-0.8 2.6-0.5 2.6-1.2 2.6-2.7 2.6-2.8 2.6 0.1 2.6 0.5 2.6-0.3 2.6 1 2.6 1.7 2.6 2.3 2.6 2.9 2.6 2.5 2.6 2.3 2.6 2.7 2.6 3.6 2.6 4.8 2.6 6.2 2.6 4.7 2.6 2.5 2.6 3.2 2.6 4.8 2.6 5 2.6 4.4 2.6 4.2 2.6 3.6 2.6 3.6 2.6 3.7 2.6 3.6 2.6 3.8 2.6 2.9 2.6 1.8 2.6 2.3 2.6 3.2 2.6 2.7 2.6 1.8 2.6 1 2.6 2.2 2.6 3.2 2.6 1.7 2.6 0.4 2.6 1.8 2.6 3 2.6 1.3 2.6-0.8 2.6-1.5 2.6-0.5 2.6 0.3 2.6-0.1 2.6-0.1 2.6-0.2 2.6 0.9 2.6 0.1 2.6-2 2.6-1.3 2.6-0.4 2.6-1.6 2.6-2 2.6-0.2 2.6-0.9 2.6-3.3 2.6-1.9 2.6 0.2 2.6-0.9 2.6-2.9 2.6-3.7 2.6-3.8 2.6-3 2.6-2 2.6-2.5 2.6-4.2 2.6-4.9 2.6-3.8 2.6-4.4 2.6-6.2 2.6-6.9 2.6-6.7 2.6-7.4 2.6-9.3 2.6-7.3 2.6-4.9 2.6-6 2.6-5.8 2.6-4.4 2.6-3 2.6-2 2.6-0.1 2.6 3.9 2.6 7.3 2.6 8.5 2.6 7.2 2.6 7.3 2.6 10.2 2.6 10.5 2.6 10.4 2.6 11.5 2.6 10.4 2.6 9.5 2.6 9.5 2.6 9.1 2.6 7.1 2.6 5.9 2.6 6.8 2.6 6.6 2.6 4.5 2.6 3.8 2.6 4.4 2.6 3.8 2.6 3.6 2.6 4 2.6 3.5 2.6 3 2.6 2.5 2.6 1.5 2.6 1.4 2.6 0.9 2.6 1 2.6 2.4 2.6 2.3 2.6 1.4 2.6 0.6 2.6 1 2.6 2.4 2.6 2.3 2.6 0.3 2.6-0.9 2.6 0 2.6 1.5 2.6 1.7 2.6 0.8 2.6 0.4 2.6 0.1 2.6-0.4 2.6-0.9 2.6-0.5 2.6 1.1 2.6 0.6 2.6-0.5 2.6-0.9 2.6-0.4 2.6 1.1 2.6 0.6 2.6-1.1 2.6-0.8 2.6-0.2 2.6-0.5 2.6 0.2 2.6 0.1 2.6-1.5 2.6-1.9 2.6-0.2 2.6 0.9 2.6 0.9 2.6 0 2.6-1.6 2.6-2.3 0.7-0.3" stroke="#5b9bd5" stroke-width="3.6"/>
<path d="M335.2 2349.6l2.6 3.1 2.6 2.7 2.6 1.2 2.6 0.8 2.6 1.6 2.6 2.2 2.6 1.7 2.6 0.7 2.6 0.1 2.6 0.1 2.6 0.3 2.6 0.3 2.6 0.6 2.6 0.3 2.6-0.1 2.6 0.3 2.6-0.4 2.6-0.5 2.6-0.8 2.6-1.5 2.6-0.9 2.6-0.3 2.6 0.5 2.6 1.1 2.6 1.2 2.6 1.5 2.6 2.3 2.6 1.9 2.6 0 2.6 0.3 2.6 1.8 2.6 0.4 2.6-0.6 2.6 0.1 2.6 0.3 2.6 1.2 2.6 1 2.6-0.5 2.6-0.4 2.6 0.3 2.6 0.6 2.6-0.7 2.6-0.9 2.6 0.2 2.6 0.4 2.6 0.7 2.6-0.1 2.6-0.8 2.6-0.2 2.6 0.4 2.6-0.1 2.6-0.5 2.6 0.4 2.6-0.1 2.6-2.5 2.6-3.4 2.6-2.1 2.6-1.1 2.6 0.4 2.6 0.8 2.6-0.8 2.6-1.2 2.6 0.2 2.6 0.3 2.6-0.2 2.6 0 2.6-0.4 2.6-1.1 2.6-1.1 2.6-1.5 2.6-0.8 2.6 0.3 2.6-0.7 2.6-0.7 2.6 0.2 2.6-0.7 2.6-1.5 2.6-0.7 2.6-0.2 2.6-1 2.6-2.1 2.6-2.7 2.6-2 2.6-1.9 2.6-3.5 2.6-4.7 2.6-5.6 2.6-7.1 2.6-9.5 2.6-13.5 2.6-19 2.6-24.2 2.6-30.9 2.6-34 2.6-25 2.6-4.3 2.6 19.4 2.6 32.1 2.6 31 2.6 26.1 2.6 20.6 2.6 14.1 2.6 10.5 2.6 10.1 2.6 6.9 2.6 4.2 2.6 4.2 2.6 3.7 2.6 2.4 2.6 1.6 2.6 1.1 2.6 0.2 2.6-0.2 2.6 1 2.6 0.7 2.6-0.6 2.6 0.1 2.6 0.9 2.6 0.2 2.6-0.6 2.6-1.3 2.6-0.7 2.6 0 2.6 0 2.6 0.7 2.6 0.4 2.6-0.3 2.6-0.8 2.6-0.2 2.6 0.9 2.6-0.1 2.6-0.6 2.6 0.2 2.6 1.4 2.6-0.3 2.6-2 2.6-0.7 2.6 0.8 2.6 0.5 2.6 0.1 2.6 1 2.6 1.2 2.6 0.3 2.6 0.6 2.6 1.2 2.6 0.7 2.6 0.3 2.6-0.1 2.6 0 2.6 0.6 2.6 1.6 2.6 1.7 2.6 0.3 2.6 0.1 2.6 1.3 2.6 2.6 2.6 1.6 2.6-0.4 2.6-0.1 2.6 0.7 2.6 1.2 2.6 0.5 2.6 1.1 2.6 1.3 2.6 0.2 2.6-0.4 2.6-0.4 2.6-0.2 2.6 0.1 2.6 0.7 2.6 1.1 2.6 0.3 2.6-0.2 2.6 0.6 2.6 1.3 2.6-0.2 2.6-1.6 2.6-1.2 2.6-0.2 2.6 0.4 2.6 0.1 2.6-0.2 2.6 0.1 2.6-0.3 2.6-0.5 2.6 0.2 2.6 0.6 2.6 0 2.6-0.4 2.6-0.4 2.6-0.3 2.6 0.2 2.6-0.2 2.6-0.1 2.6-0.2 2.6-1.5 2.6-0.3 2.6 0.7 2.6-2 2.6-2.4 2.6-1.1 2.6-1.5 2.6-0.1 2.6 1.3 2.6 1.4 2.6 1 2.6 0.2 2.6 0.3 2.6 0.7 2.6 0.8 2.6 1.1 2.6-0.5 2.6-2 2.6-0.3 2.6 1.3 2.6 1.1 2.6-0.8 2.6-2 2.6-1.4 2.6-1 2.6-0.7 2.6-0.2 2.6 0.7 2.6 1 2.6-0.6 2.6-0.6 2.6 0.1 2.6-0.6 2.6-1 2.6-0.7 2.6 0.3 2.6-0.3 2.6-0.1 2.6 0.3 2.6-1.8 2.6-1.2 2.6 0 2.6-0.7 2.6-0.6 2.6-0.7 2.6-0.8 2.6-0.2 2.6 0.3 2.6-1.1 2.6-1.9 2.6-0.2 2.6 0.6 2.6 0 2.6-0.9 2.6-0.7 2.6-0.3 2.6-0.8 2.6-0.2 2.6 0 2.6-1.9 2.6-1.6 2.6 0.1 2.6-0.3 2.6-0.7 2.6 0.3 2.6 0 2.6-1.3 2.6-0.8 2.6-1.1 2.6-1.5 2.6-0.1 2.6 0.6 2.6-1.2 2.6-2 2.6 0.2 2.6 0.8 2.6-1 2.6-0.5 2.6-0.7 2.6-1.6 2.6-0.3 2.6 0.5 2.6-0.8 2.6-1.1 2.6-0.4 2.6-0.2 2.6-0.7 2.6-1.7 2.6-0.6 2.6 1.3 2.6 0.4 2.6-1.5 2.6-1.7 2.6-0.5 2.6-0.3 2.6 0 2.6 0 2.6-1 2.6-1 2.6-0.7 2.6-1 2.6-0.1 2.6-0.6 2.6-1.7 2.6-1 2.6-0.3 2.6-0.7 2.6-0.8 2.6-0.3 2.6-0.4 2.6-2.1 2.6-1.8 2.6 0.3 2.6-0.2 2.6-1.5 2.6-0.4 2.6 0.2 2.6-0.7 2.6-1.4 2.6-1 2.6-0.7 2.6-1.3 2.6-0.8 2.6-0.7 2.6-1.2 2.6-1.7 2.6-1.8 2.6-0.2 2.6 0.2 2.6-1.3 2.6-2.6 2.6-1.9 2.6 0 2.6-0.2 2.6-1.4 2.6-2.1 2.6-1.6 2.6-1.4 2.6-2.7 2.6-2.3 2.6-1 2.6-2.1 2.6-1.7 2.6 0.2 2.6-1.9 2.6-2.9 2.6-0.9 2.6-1.7 2.6-2 2.6-1.3 2.6-2.2 2.6-3.2 2.6-3.3 2.6-3 2.6-2.6 2.6-2.3 2.6-2.8 2.6-2.9 2.6-1.9 2.6-2.9 2.6-3.7 2.6-2.9 2.6-5 2.6-4.3 2.6-1.4 2.6-2.4 2.6-5.4 2.6-5.3 2.6-4.6 2.6-5.5 2.6-4.3 2.6-3.6 2.6-4.5 2.6-3.9 2.6-4.9 2.6-6.5 2.6-5.9 2.6-5.1 2.6-3.6 2.6-4.3 2.6-5.6 2.6-2.9 2.6-3.8 2.6-5.1 2.6-3.4 2.6-2 2.6-0.5 2.6-1.4 2.6-2.6 2.6-2 2.6-1.3 2.6 0.2 2.6 0.5 2.6 0.4 2.6 1.7 2.6 1.2 2.6 1.2 2.6 2.7 2.6 2.2 2.6 1.6 2.6 2.4 2.6 3.7 2.6 4.7 2.6 5.6 2.6 6 2.6 4.8 2.6 4 2.6 3.8 2.6 4.2 2.6 4.5 2.6 3.3 2.6 3 2.6 5.4 2.6 5.1 2.6 2.6 2.6 2.4 2.6 2.1 2.6 1.2 2.6 2.3 2.6 3.4 2.6 3.4 2.6 2.1 2.6 1.8 2.6 2.5 2.6 1.7 2.6 1.5 2.6 1.1 2.6-1.8 2.6-1.9 2.6 2.4 2.6 3 2.6 0 2.6-0.4 2.6-0.2 2.6-1.6 2.6-1.9 2.6-0.3 2.6 0.2 2.6-1.4 2.6-2.3 2.6-1.2 2.6 0.4 2.6-0.7 2.6-1.9 2.6-1.2 2.6-0.9 2.6-2.5 2.6-3.3 2.6-2.1 2.6-2.4 2.6-3.2 2.6-2.9 2.6-3.1 2.6-4.4 2.6-4.9 2.6-4 2.6-3.8 2.6-6.7 2.6-7.2 2.6-5.7 2.6-7.3 2.6-9 2.6-9.8 2.6-9.3 2.6-7.5 2.6-6.7 2.6-7.1 2.6-7.5 2.6-6.4 2.6-5.4 2.6-3.9 2.6 0.9 2.6 5.6 2.6 7.6 2.6 8.8 2.6 10.3 2.6 11 2.6 12.1 2.6 14 2.6 13.6 2.6 12.1 2.6 10.5 2.6 10.4 2.6 11.6 2.6 11 2.6 9.3 2.6 8.5 2.6 7.4 2.6 5.6 2.6 5.8 2.6 6.6 2.6 6.3 2.6 5.1 2.6 4.4 2.6 5.5 2.6 3.2 2.6 1.8 2.6 4.1 2.6 4.4 2.6 2.3 2.6 0.4 2.6 1.2 2.6 3.4 2.6 2.9 2.6 1.3 2.6 0.7 2.6 0 2.6 0.4 2.6 1.7 2.6 0.9 2.6-0.1 2.6 1.3 2.6 2.1 2.6 1.1 2.6 0.9 2.6-0.1 2.6-0.5 2.6 0.9 2.6-0.3 2.6-1.1 2.6 0.9 2.6 1.4 2.6-0.4 2.6-0.4 2.6-0.7 2.6-1.4 2.6 0.1 2.6 0.2 2.6-0.8 2.6 0.6 2.6 0.6 2.6-1 2.6-1.1 2.6-0.7 2.6-1 2.6-0.5 2.6 0.1 2.6 0.1 2.6-1.2 2.6-0.6 2.6 0.4 0.7-0.4" stroke="#1560d0" stroke-width="3.6"/>
<path d="M335.2 2403.3l2.6 0.6 2.6-0.1 2.6 0.3 2.6 0.8 2.6-0.2 2.6-0.1 2.6 0.8 2.6-0.4 2.6-0.5 2.6 0.9 2.6 1.6 2.6 1.1 2.6-0.3 2.6-1.1 2.6 0 2.6 0.6 2.6 0.4 2.6-0.2 2.6-0.8 2.6-0.2 2.6 0.9 2.6 1.1 2.6-0.1 2.6 0.1 2.6 1.3 2.6 0.5 2.6-0.5 2.6-0.8 2.6 0.4 2.6 0.6 2.6-0.1 2.6 0.3 2.6 0.2 2.6 0.2 2.6 0.1 2.6-0.5 2.6 0.9 2.6 1.1 2.6-1 2.6-0.5 2.6 0.9 2.6-0.5 2.6-0.1 2.6 0.8 2.6 0 2.6 0.5 2.6-0.1 2.6-1 2.6 0.1 2.6 0.9 2.6-0.4 2.6-0.3 2.6 0 2.6-0.7 2.6-0.1 2.6-0.3 2.6-0.1 2.6 0.5 2.6-0.4 2.6-0.4 2.6 0 2.6-0.1 2.6-0.7 2.6-0.7 2.6-0.5 2.6 0.6 2.6 1.3 2.6-0.3 2.6-1.4 2.6-0.4 2.6 0.3 2.6-0.4 2.6-0.7 2.6-0.7 2.6-0.5 2.6-0.2 2.6-0.6 2.6-0.9 2.6-1 2.6-0.9 2.6-1.8 2.6-2.1 2.6-1.5 2.6-2.8 2.6-3.7 2.6-3.7 2.6-4.9 2.6-6.6 2.6-9 2.6-12.9 2.6-17.2 2.6-21.9 2.6-26.9 2.6-29.1 2.6-22.5 2.6-3.9 2.6 17.4 2.6 28.3 2.6 28.2 2.6 24.1 2.6 19.2 2.6 13.1 2.6 9.1 2.6 7.3 2.6 6.2 2.6 4 2.6 2.9 2.6 3.3 2.6 2.1 2.6 1.7 2.6 2.3 2.6 0.6 2.6 0.3 2.6 1.6 2.6 1.9 2.6 0.8 2.6 0.1 2.6-0.2 2.6-0.2 2.6-0.1 2.6-0.1 2.6 0.4 2.6 0.7 2.6 0.8 2.6 0.2 2.6-0.7 2.6 0 2.6 0.3 2.6-0.1 2.6-0.2 2.6 0.3 2.6 1 2.6 0 2.6-0.6 2.6 0.3 2.6 0.2 2.6-0.7 2.6-0.2 2.6 0.4 2.6 0.1 2.6 0.5 2.6-0.1 2.6-0.6 2.6 0.5 2.6 0.1 2.6-0.3 2.6 0.7 2.6 0.2 2.6-0.6 2.6-0.7 2.6-0.3 2.6 0.5 2.6 0.8 2.6 0.2 2.6-0.4 2.6-0.7 2.6-0.2 2.6 1.3 2.6 0.9 2.6-0.5 2.6-1.2 2.6-1.4 2.6 0 2.6 1 2.6 0.1 2.6-0.8 2.6-0.9 2.6-0.3 2.6 0.1 2.6 0.2 2.6-0.1 2.6 0.3 2.6 0.3 2.6-0.4 2.6 0.8 2.6 0.9 2.6-0.5 2.6-0.6 2.6-1.2 2.6-0.9 2.6 0.2 2.6 0.7 2.6 0.8 2.6 0.1 2.6-1.2 2.6-1.1 2.6 0.4 2.6 0.8 2.6 0.6 2.6-0.6 2.6-0.9 2.6-0.1 2.6-0.2 2.6-0.6 2.6 0.1 2.6 0.9 2.6-0.2 2.6-1.4 2.6-0.3 2.6 0.5 2.6-0.2 2.6 0.1 2.6-0.9 2.6-0.6 2.6 0.7 2.6-0.3 2.6-0.4 2.6-0.2 2.6-0.6 2.6 0.1 2.6 0.2 2.6-0.6 2.6-1.2 2.6-1.2 2.6-0.5 2.6 0.6 2.6-0.3 2.6-1 2.6-0.3 2.6-0.9 2.6-1.3 2.6 0.6 2.6 1.3 2.6-0.3 2.6-1.4 2.6-1.1 2.6-0.5 2.6-0.8 2.6-0.6 2.6-0.3 2.6-0.1 2.6-0.6 2.6-1.2 2.6-0.8 2.6-0.2 2.6 1 2.6-0.1 2.6-1.3 2.6-0.2 2.6-0.2 2.6-0.5 2.6-0.3 2.6-0.1 2.6 0.3 2.6-0.5 2.6-1 2.6-1 2.6-1.1 2.6-0.5 2.6-0.1 2.6 0 2.6-0.1 2.6 0.3 2.6 0.1 2.6-0.7 2.6-1.6 2.6-1 2.6 1.1 2.6 0 2.6-1.3 2.6-0.4 2.6-0.6 2.6-0.6 2.6 0.1 2.6 0.4 2.6-0.3 2.6-1.4 2.6-1.3 2.6-0.9 2.6-0.6 2.6-0.1 2.6-0.2 2.6 0.3 2.6-0.5 2.6-1.7 2.6-1.2 2.6-0.8 2.6 0 2.6 0.1 2.6-1.2 2.6-1.4 2.6-0.9 2.6-1.3 2.6-1.5 2.6-0.9 2.6-0.9 2.6-0.5 2.6-0.3 2.6-0.1 2.6-1 2.6-2.8 2.6-1.7 2.6 0.3 2.6-0.4 2.6-1.6 2.6-1.9 2.6-1.3 2.6-0.8 2.6-0.6 2.6-0.6 2.6-1.7 2.6-2 2.6-1.3 2.6-0.6 2.6-1.3 2.6-2.8 2.6-2.2 2.6-0.7 2.6-1 2.6-0.6 2.6-0.6 2.6-1.9 2.6-2.4 2.6-1.4 2.6-1.4 2.6-2.3 2.6-1.4 2.6-0.5 2.6-1.3 2.6-2 2.6-1.4 2.6-1.5 2.6-2.9 2.6-0.8 2.6-0.3 2.6-2.5 2.6-2.3 2.6-2.1 2.6-2.7 2.6-1.5 2.6-0.8 2.6-2.8 2.6-2.5 2.6-1.2 2.6-2.7 2.6-2.5 2.6-0.6 2.6-1.4 2.6-3.3 2.6-3.7 2.6-3.3 2.6-2.5 2.6-2.7 2.6-3.1 2.6-2.3 2.6-2.3 2.6-3.7 2.6-4.5 2.6-4 2.6-4.2 2.6-4.5 2.6-4.3 2.6-4.4 2.6-4.5 2.6-4.3 2.6-3.8 2.6-4.9 2.6-7 2.6-6.5 2.6-4.8 2.6-5.3 2.6-6.6 2.6-6.2 2.6-5.6 2.6-5.8 2.6-6.3 2.6-7.3 2.6-7.3 2.6-6.7 2.6-6.9 2.6-6.5 2.6-6.7 2.6-8.1 2.6-7.6 2.6-5.1 2.6-5.3 2.6-8.5 2.6-6.4 2.6-5.5 2.6-6.8 2.6-4.5 2.6-3.5 2.6-1.7 2.6-1.6 2.6-3.4 2.6-2 2.6-1.1 2.6 0.7 2.6 3.3 2.6 2.7 2.6 1.3 2.6 1.8 2.6 3.3 2.6 3.8 2.6 4 2.6 5.4 2.6 4.8 2.6 3.7 2.6 6.9 2.6 7.9 2.6 7.2 2.6 7.5 2.6 6.3 2.6 5.6 2.6 6.8 2.6 5.8 2.6 5.1 2.6 6.4 2.6 6.3 2.6 5.2 2.6 4.3 2.6 3.6 2.6 5.1 2.6 4.8 2.6 2.1 2.6 3 2.6 5 2.6 3.7 2.6 2.3 2.6 1.8 2.6 1.5 2.6 1 2.6 1.8 2.6 2.8 2.6 0.9 2.6-0.4 2.6 0.6 2.6 0.8 2.6-0.9 2.6-1.9 2.6-0.5 2.6 0.1 2.6-0.1 2.6-0.8 2.6-2.6 2.6-3.2 2.6-2.5 2.6-2 2.6-1.8 2.6-1 2.6-0.4 2.6-2.3 2.6-3.4 2.6-2.7 2.6-3 2.6-2.9 2.6-3.5 2.6-4.9 2.6-4.8 2.6-6.1 2.6-7 2.6-6.9 2.6-7.3 2.6-7.8 2.6-8.3 2.6-10.1 2.6-10.5 2.6-10.1 2.6-12.5 2.6-11.6 2.6-8.7 2.6-10.1 2.6-11.1 2.6-9.2 2.6-5.5 2.6-2.2 2.6-0.5 2.6 4.6 2.6 10.6 2.6 12.1 2.6 12.9 2.6 16.5 2.6 19.4 2.6 18 2.6 16.3 2.6 15.8 2.6 15.1 2.6 16.1 2.6 15.4 2.6 13.2 2.6 12 2.6 10.6 2.6 9.6 2.6 8.8 2.6 6.7 2.6 6.9 2.6 9 2.6 7.7 2.6 4 2.6 4.5 2.6 6.3 2.6 4.6 2.6 3.6 2.6 3.6 2.6 3.1 2.6 3.7 2.6 3.8 2.6 2.8 2.6 2.2 2.6 1.5 2.6 0.9 2.6 1.9 2.6 1.9 2.6 1.1 2.6 1 2.6 0.4 2.6 0.7 2.6 2 2.6 2 2.6 0.2 2.6-1 2.6 0.7 2.6 1.4 2.6 0.6 2.6-0.2 2.6-1 2.6 0.1 2.6 1.2 2.6-0.4 2.6-1.7 2.6 0.8 2.6 1.6 2.6-0.9 2.6-1.4 2.6-0.3 2.6-0.4 2.6-1.5 2.6-0.7 2.6 0.3 2.6 0.6 2.6 0.1 2.6-1.3 2.6-1 2.6-0.5 2.6-1.7 2.6-1.1 0.7 0.4" stroke="#ff6a00" stroke-width="3.6"/>
<path d="M335.2 2295.7l2.6 3.8 2.6 3.3 2.6 5.4 2.6 6.5 2.6 3.2 2.6 1.9 2.6 3.1 2.6 2 2.6 1 2.6 1.2 2.6 1.3 2.6 0.5 2.6 0.1 2.6 0.4 2.6-0.4 2.6-0.8 2.6-0.5 2.6-0.8 2.6-0.8 2.6-1.9 2.6-3 2.6-2 2.6 0.3 2.6 2.5 2.6 3.2 2.6 3.4 2.6 2.6 2.6 0.6 2.6 0.1 2.6 1.1 2.6 0.5 2.6 0.5 2.6 1.2 2.6 0.6 2.6-0.2 2.6 0.3 2.6 1.1 2.6 0.4 2.6-0.3 2.6 0.1 2.6-0.8 2.6-0.9 2.6 0.6 2.6 1.1 2.6 0.7 2.6 0 2.6-0.6 2.6-0.8 2.6-1.2 2.6-0.3 2.6-0.3 2.6-0.5 2.6 0 2.6-0.3 2.6-1.3 2.6-1.5 2.6-0.6 2.6-1.1 2.6-2 2.6-1.1 2.6-1.2 2.6-1.1 2.6-0.4 2.6-1.6 2.6-1.8 2.6-0.7 2.6-0.7 2.6-2.2 2.6-3 2.6-3.3 2.6-3.2 2.6-2.3 2.6-2.8 2.6-3.2 2.6-3.5 2.6-5.2 2.6-6.7 2.6-7.4 2.6-6.5 2.6-6.2 2.6-8.5 2.6-11.1 2.6-13.7 2.6-16.5 2.6-16.7 2.6-18.5 2.6-22.5 2.6-27.1 2.6-30.8 2.6-33.8 2.6-38 2.6-39 2.6-32.4 2.6-21.3 2.6-9.3 2.6 9.4 2.6 30.3 2.6 41.9 2.6 43.8 2.6 39.9 2.6 36.6 2.6 33.2 2.6 26.4 2.6 20.6 2.6 17.1 2.6 13.5 2.6 11.1 2.6 10.1 2.6 8.1 2.6 5.8 2.6 4.9 2.6 3 2.6 2.6 2.6 3.5 2.6 2.1 2.6 1.3 2.6 1.8 2.6 1.4 2.6 0.5 2.6 0.6 2.6 1.3 2.6 0.1 2.6-0.2 2.6 1.2 2.6 0.4 2.6-1.2 2.6-0.6 2.6 0.4 2.6 1.2 2.6 0.3 2.6-1 2.6 0.1 2.6 1.6 2.6 1.7 2.6 1.2 2.6 1.6 2.6 1.1 2.6 0.2 2.6 0.5 2.6 1.2 2.6 0.9 2.6 1.2 2.6 2.2 2.6 1.5 2.6 1.5 2.6 1.9 2.6 1.4 2.6 0.9 2.6 3.2 2.6 4.6 2.6 2.7 2.6 3.2 2.6 4 2.6 4.3 2.6 4.8 2.6 4.5 2.6 3.4 2.6 3.7 2.6 5 2.6 4.3 2.6 3.6 2.6 4.1 2.6 3.8 2.6 2.8 2.6 2.3 2.6 1 2.6 1.3 2.6 1.7 2.6 1 2.6 1.5 2.6 1 2.6-0.5 2.6 0.4 2.6 1.4 2.6 0.1 2.6 0.1 2.6-0.1 2.6-0.5 2.6 0.9 2.6 0.7 2.6-0.4 2.6-0.3 2.6 0 2.6 0.1 2.6-0.2 2.6-0.6 2.6-0.4 2.6-1.1 2.6-0.5 2.6 0.6 2.6 0.2 2.6-0.4 2.6-1.2 2.6-1.2 2.6 0.4 2.6-0.1 2.6-0.7 2.6 0.4 2.6-0.4 2.6-1.4 2.6-0.2 2.6 0.1 2.6 0 2.6 0 2.6-0.3 2.6-0.8 2.6 0 2.6 1.9 2.6 1 2.6-0.8 2.6-0.7 2.6-0.4 2.6-0.3 2.6-1 2.6-0.8 2.6 0.6 2.6-0.1 2.6-0.6 2.6 0 2.6-0.2 2.6 0 2.6-0.2 2.6-0.7 2.6-0.3 2.6-0.8 2.6-0.1 2.6 0.6 2.6-0.6 2.6-1 2.6-0.8 2.6-0.5 2.6 0.3 2.6 0.3 2.6 0.4 2.6-0.7 2.6-0.7 2.6 0.5 2.6-0.4 2.6 0 2.6 0 2.6-0.7 2.6-0.7 2.6-0.4 2.6-0.2 2.6 0.4 2.6-0.4 2.6-2.8 2.6-1.6 2.6 0.7 2.6 0.9 2.6-0.1 2.6-1 2.6-0.5 2.6 0.1 2.6-0.8 2.6-1.2 2.6-0.3 2.6-0.1 2.6-0.2 2.6-0.2 2.6-0.7 2.6-0.5 2.6-0.2 2.6-1 2.6-1.5 2.6 0.2 2.6 1.4 2.6-0.8 2.6-2.3 2.6-1 2.6 0.3 2.6 0.1 2.6-1.1 2.6-1.4 2.6-0.3 2.6 0.2 2.6-0.6 2.6-1.2 2.6-1.2 2.6-0.1 2.6 0.9 2.6-1.1 2.6-1.7 2.6 0 2.6-1.1 2.6-1.1 2.6 0.2 2.6-1.3 2.6-1.1 2.6 1.4 2.6-0.1 2.6-2 2.6-0.8 2.6-0.4 2.6-1.3 2.6-1.1 2.6-0.4 2.6-1 2.6-0.7 2.6-0.5 2.6-0.9 2.6-0.5 2.6-1.3 2.6-1.1 2.6 1.4 2.6 0.4 2.6-1.5 2.6-1.6 2.6-1.4 2.6-1.8 2.6-1.6 2.6 0.4 2.6 0.1 2.6-1.5 2.6-1.1 2.6-1.4 2.6-1.9 2.6-1.6 2.6-0.7 2.6-0.5 2.6-1.5 2.6-1.3 2.6-0.3 2.6-1 2.6-1.8 2.6-2 2.6-2.5 2.6-2.2 2.6-2.5 2.6-2.9 2.6-0.3 2.6 0.3 2.6-2.6 2.6-2.8 2.6-1.6 2.6-2.2 2.6-1.6 2.6-0.5 2.6-2.9 2.6-4.5 2.6-3.3 2.6-2.6 2.6-2 2.6-2.8 2.6-3.8 2.6-2.4 2.6-2.5 2.6-4 2.6-3.7 2.6-4.2 2.6-4.2 2.6-4.2 2.6-3.8 2.6-3.4 2.6-4.6 2.6-4.6 2.6-4.4 2.6-4.8 2.6-5 2.6-5.6 2.6-5.5 2.6-5.6 2.6-6.5 2.6-5.3 2.6-5.1 2.6-7.2 2.6-6.2 2.6-5.3 2.6-6.9 2.6-7.1 2.6-6.6 2.6-6.7 2.6-6.8 2.6-5.2 2.6-4.8 2.6-7.6 2.6-7.7 2.6-6.3 2.6-5.5 2.6-4.6 2.6-4.8 2.6-3.2 2.6-1.4 2.6-2.9 2.6-3.9 2.6-0.6 2.6 1.9 2.6-0.8 2.6-1.9 2.6 2.1 2.6 3.3 2.6 0.7 2.6 1.3 2.6 4 2.6 5 2.6 5.1 2.6 5.1 2.6 4.7 2.6 3.2 2.6 2.5 2.6 5.8 2.6 9.2 2.6 7.7 2.6 4.9 2.6 5 2.6 6.2 2.6 5.9 2.6 4.5 2.6 4.4 2.6 5.1 2.6 4.9 2.6 4.1 2.6 4.3 2.6 3.9 2.6 3.1 2.6 3 2.6 3 2.6 2.7 2.6 2.6 2.6 2.2 2.6 1.8 2.6 0.3 2.6-0.2 2.6 1.8 2.6 3.2 2.6 1.1 2.6-0.9 2.6 0.1 2.6-0.1 2.6 0.5 2.6 1.6 2.6-0.6 2.6-2.5 2.6-1.6 2.6-0.1 2.6-0.5 2.6-1.2 2.6-1.4 2.6-1.4 2.6-1 2.6-1.5 2.6-2.8 2.6-3.6 2.6-2.9 2.6-1.7 2.6-2.8 2.6-4.1 2.6-3.7 2.6-3.3 2.6-3.4 2.6-4.4 2.6-5.7 2.6-6.2 2.6-6.3 2.6-6 2.6-7.5 2.6-7.8 2.6-7.5 2.6-8.6 2.6-8.8 2.6-9.2 2.6-10.4 2.6-8.6 2.6-4.3 2.6-3.3 2.6-2.1 2.6 0.7 2.6 3.6 2.6 5.2 2.6 5.4 2.6 10 2.6 12.9 2.6 11.2 2.6 11.6 2.6 12 2.6 10 2.6 9.8 2.6 10.3 2.6 8.7 2.6 8.4 2.6 8.8 2.6 6.4 2.6 7.5 2.6 9.1 2.6 4.7 2.6 2.8 2.6 5.1 2.6 4.5 2.6 2.5 2.6 4 2.6 4.3 2.6 2 2.6 2.1 2.6 2.8 2.6 2.2 2.6 1 2.6 1.6 2.6 2.2 2.6 0.4 2.6-0.7 2.6 1.4 2.6 2.5 2.6 0.7 2.6 0.6 2.6 0.8 2.6-0.6 2.6-0.5 2.6 1.3 2.6 1.6 2.6-0.2 2.6-0.8 2.6-0.1 2.6 0.7 2.6 0.4 2.6-0.3 2.6 0.6 2.6 0.6 2.6-1.4 2.6-0.4 2.6 1.1 2.6 0.3 2.6-1.6 2.6-1.1 2.6 1.7 2.6 0.9 2.6-1.4 2.6-0.7 2.6 0.6 2.6 0.1 2.6-1.4 2.6 0.8 2.6 1.9 2.6-2.3 2.6-2 2.6 1.3 2.6 0.5 0.7-1.4" stroke="#ff2a2a" stroke-width="3.6"/>
<path d="M335.2 2331.8l2.6 0.2 2.6 0.3 2.6 1.2 2.6 1.7 2.6 0.1 2.6-0.1 2.6 1.3 2.6 0.7 2.6-0.4 2.6-0.2 2.6 0.8 2.6 1.4 2.6-0.5 2.6-1.4 2.6 0.4 2.6 1 2.6 0.3 2.6 0.3 2.6 0 2.6-0.7 2.6 0 2.6 0.5 2.6 0.2 2.6 0.6 2.6 0.2 2.6-0.5 2.6 0.6 2.6 0.1 2.6-0.8 2.6 0.2 2.6-0.3 2.6 0 2.6 1.2 2.6-0.3 2.6-1 2.6 0.4 2.6 0.2 2.6-0.3 2.6-0.3 2.6-0.5 2.6-0.8 2.6-1 2.6-1.1 2.6-0.5 2.6-0.5 2.6-0.5 2.6-0.6 2.6-0.4 2.6-0.7 2.6-1 2.6-0.7 2.6 0.2 2.6-0.6 2.6-1.3 2.6-1.3 2.6-1.9 2.6-1.3 2.6-1.5 2.6-2 2.6-0.9 2.6-0.4 2.6-0.8 2.6-1.9 2.6-2.8 2.6-2.8 2.6-3.3 2.6-3.2 2.6-2.3 2.6-3.4 2.6-6 2.6-5.4 2.6-3.7 2.6-5.2 2.6-7.1 2.6-7.9 2.6-7.7 2.6-8.3 2.6-10.6 2.6-11.9 2.6-14.2 2.6-14.9 2.6-14.9 2.6-19.5 2.6-24.5 2.6-28.8 2.6-34 2.6-39.3 2.6-44.8 2.6-48.3 2.6-51 2.6-54.8 2.6-55.5 2.6-48.2 2.6-35.8 2.6-18.5 2.6 9.1 2.6 50.7 2.6 76.7 2.6 83.8 2.6 76.8 2.6 64.8 2.6 54 2.6 42.7 2.6 31.9 2.6 26.2 2.6 22.4 2.6 19 2.6 16.4 2.6 13.4 2.6 9.2 2.6 4.9 2.6 1.9 2.6 0.5 2.6-1 2.6-0.3 2.6 2 2.6 2.7 2.6 1.7 2.6 1.7 2.6 1.4 2.6 1.3 2.6 2.5 2.6 2 2.6 0.8 2.6 0.6 2.6 0.4 2.6 0.7 2.6 0.7 2.6 0.9 2.6 1.9 2.6 0.5 2.6 0.7 2.6 2.2 2.6 1.3 2.6-0.1 2.6 0.5 2.6 2.3 2.6 2.7 2.6 2.6 2.6 2.5 2.6 1.9 2.6 1.4 2.6 1.8 2.6 3.1 2.6 3.1 2.6 1.7 2.6 2.6 2.6 3.7 2.6 2.7 2.6 2.7 2.6 3.6 2.6 4.1 2.6 3.5 2.6 3 2.6 3.5 2.6 3.9 2.6 3.3 2.6 2.5 2.6 3.1 2.6 3.9 2.6 3.1 2.6 2.7 2.6 2.4 2.6 2.5 2.6 3.3 2.6 3.7 2.6 2.6 2.6 1.1 2.6 2.1 2.6 2.9 2.6 0.9 2.6 0.9 2.6 0.9 2.6-0.4 2.6 0.1 2.6 0.9 2.6 1.9 2.6 1.5 2.6 0.6 2.6 0.3 2.6 0.5 2.6-0.4 2.6-0.8 2.6 0 2.6 0.4 2.6 0.4 2.6 0.4 2.6 0.9 2.6 0.6 2.6-0.4 2.6 0.2 2.6 0.8 2.6-0.2 2.6-0.3 2.6 0.9 2.6 0.1 2.6-1 2.6-0.3 2.6 0.7 2.6 0.5 2.6-0.7 2.6 0.4 2.6 0.4 2.6-0.7 2.6 0.4 2.6 1.7 2.6 0.3 2.6-1.1 2.6-0.8 2.6-0.4 2.6 0.1 2.6 0.2 2.6-0.5 2.6 0.1 2.6 0.3 2.6-0.6 2.6-0.2 2.6 0.2 2.6 0.1 2.6 0.5 2.6 0 2.6-0.2 2.6-0.6 2.6-1 2.6-0.2 2.6-0.3 2.6-0.8 2.6-0.5 2.6 0.5 2.6 0.7 2.6-0.1 2.6 0.3 2.6 0.2 2.6-0.4 2.6-0.2 2.6-0.1 2.6-0.8 2.6 0.2 2.6 1.5 2.6 0.5 2.6-1 2.6-1.2 2.6-0.7 2.6-0.8 2.6-0.6 2.6 0.9 2.6 0.7 2.6-1.4 2.6-1.7 2.6-0.1 2.6 0.9 2.6 0.2 2.6-0.5 2.6-0.3 2.6 0.2 2.6-0.4 2.6-1.5 2.6-0.4 2.6 0.9 2.6 0.5 2.6 0.1 2.6 0.1 2.6-0.4 2.6-0.8 2.6-0.7 2.6-0.5 2.6-0.1 2.6 0 2.6 0.1 2.6-0.1 2.6-1.3 2.6-1.4 2.6-0.7 2.6 0.2 2.6 0.2 2.6-1 2.6-1.5 2.6-0.5 2.6 0 2.6 0 2.6 0 2.6 0.1 2.6-0.3 2.6-0.6 2.6-0.7 2.6-1.3 2.6-1.2 2.6-0.1 2.6 0.6 2.6-0.2 2.6-1.2 2.6-0.5 2.6 0.1 2.6-1 2.6-1.4 2.6-0.3 2.6 0.2 2.6-0.2 2.6-1.1 2.6-1.6 2.6-0.3 2.6 0.3 2.6-0.9 2.6-0.6 2.6-1 2.6-1.9 2.6-0.3 2.6 0.8 2.6-0.6 2.6-1 2.6-0.4 2.6-1.4 2.6-1 2.6-0.4 2.6-1.3 2.6-1.1 2.6-0.6 2.6-1.3 2.6-1.4 2.6-0.5 2.6-0.6 2.6-1.3 2.6-0.9 2.6-0.9 2.6-1.2 2.6-0.3 2.6-0.7 2.6-2.4 2.6-1.7 2.6-1 2.6-1.1 2.6-0.9 2.6-1.4 2.6-1 2.6-0.2 2.6-1.6 2.6-2.2 2.6-1.8 2.6-1.5 2.6-1.7 2.6-2.6 2.6-2.5 2.6-2 2.6-2 2.6-2.2 2.6-2.7 2.6-1.8 2.6-0.7 2.6-1.4 2.6-2.5 2.6-3.2 2.6-3.4 2.6-2.8 2.6-2.2 2.6-2.2 2.6-3 2.6-3.5 2.6-2.4 2.6-2.3 2.6-4.8 2.6-4.6 2.6-3.7 2.6-4.8 2.6-4.2 2.6-2.8 2.6-3.1 2.6-4.9 2.6-4.7 2.6-3.1 2.6-2.5 2.6-4.4 2.6-5.2 2.6-5.1 2.6-5 2.6-4 2.6-4.4 2.6-5.5 2.6-4.4 2.6-2.7 2.6-2.3 2.6-1.4 2.6-1.6 2.6-3.6 2.6-2.4 2.6-0.8 2.6-1.2 2.6-0.5 2.6 0.8 2.6 0.6 2.6 1.3 2.6 1.8 2.6 1.3 2.6 2.1 2.6 4.4 2.6 3.6 2.6 1.6 2.6 2.6 2.6 3.7 2.6 3.8 2.6 3.7 2.6 3.9 2.6 4.2 2.6 3.6 2.6 4.4 2.6 4.3 2.6 2.2 2.6 3 2.6 5.1 2.6 4.3 2.6 2.4 2.6 2.2 2.6 2.8 2.6 3.7 2.6 2.8 2.6 2.6 2.6 3.6 2.6 1.8 2.6 1.8 2.6 2.7 2.6 0.8 2.6-0.3 2.6 0.1 2.6 0.1 2.6 1.8 2.6 1.8 2.6-0.1 2.6-0.1 2.6 1 2.6-0.1 2.6-2 2.6-0.9 2.6 1.3 2.6 1 2.6 0 2.6-1.4 2.6-1.5 2.6-0.8 2.6-1.8 2.6-1.5 2.6-1.4 2.6-2.6 2.6-2.4 2.6-0.7 2.6-0.7 2.6-2.1 2.6-2.2 2.6-2.3 2.6-2.3 2.6-2.7 2.6-3.3 2.6-3.9 2.6-4.8 2.6-4 2.6-4.4 2.6-6.7 2.6-6.5 2.6-5.1 2.6-5.1 2.6-7.3 2.6-9.7 2.6-8.5 2.6-5.5 2.6-5 2.6-4.3 2.6-2.8 2.6-1.7 2.6 1.1 2.6 3.3 2.6 5.4 2.6 7 2.6 7.6 2.6 8.5 2.6 8.2 2.6 8.3 2.6 10.3 2.6 10.4 2.6 9 2.6 8.3 2.6 7.2 2.6 7.4 2.6 7.8 2.6 6.5 2.6 5.9 2.6 6 2.6 4.9 2.6 3.8 2.6 3.8 2.6 2.8 2.6 2.6 2.6 3.1 2.6 1.9 2.6 2 2.6 2.6 2.6 2.2 2.6 2.8 2.6 2.1 2.6 0.7 2.6 1.5 2.6 1.2 2.6-0.3 2.6 0.9 2.6 2 2.6 0.8 2.6 0.7 2.6 0.8 2.6 0.4 2.6 1.2 2.6 0.1 2.6-1 2.6 0.6 2.6 0.9 2.6 0 2.6-0.7 2.6-1.2 2.6 0.1 2.6 0.4 2.6-0.7 2.6 0.6 2.6 1.5 2.6-0.4 2.6-0.8 2.6-0.2 2.6-0.7 2.6 0.6 2.6 1 2.6-0.6 2.6-1.1 2.6 0.1 2.6 0.6 2.6-0.9 2.6-1.1 2.6-0.4 2.6 0.5 2.6 0.6 2.6-1.2 2.6-0.6 0.7 0.5" stroke="#4a4a4a" stroke-width="3.6"/>
<path d="M335.2 2268.9l2.6 0 2.6-0.5 2.6 0.9 2.6 1.5 2.6-0.2 2.6 0 2.6 0.4 2.6-0.3 2.6-0.1 2.6 0.5 2.6 0.5 2.6 0.2 2.6-0.3 2.6 0.3 2.6-0.2 2.6-1.1 2.6-1.3 2.6-1.4 2.6-1.5 2.6-2.5 2.6-1.8 2.6-0.5 2.6-0.2 2.6 0 2.6 0.5 2.6 2.3 2.6 2.3 2.6 0.5 2.6 0.5 2.6 0.5 2.6 0.4 2.6-0.5 2.6-0.9 2.6-0.3 2.6-0.1 2.6 0.1 2.6 0.1 2.6-1.1 2.6-2.4 2.6-1.6 2.6-0.5 2.6-0.8 2.6-0.4 2.6-2 2.6-2.9 2.6-2.9 2.6-4.4 2.6-3.2 2.6-1.5 2.6-0.5 2.6-0.7 2.6-2.2 2.6-3.2 2.6-2.8 2.6-1.3 2.6-2.3 2.6-2.7 2.6-0.3 2.6-1.7 2.6-4.3 2.6-1.9 2.6 1.7 2.6-0.3 2.6-3.9 2.6-4.1 2.6-2.7 2.6-2.1 2.6-3.4 2.6-4.7 2.6-3.7 2.6-4 2.6-6.3 2.6-6.8 2.6-6.9 2.6-7.5 2.6-6.8 2.6-7.2 2.6-8.9 2.6-12.4 2.6-14.9 2.6-15.5 2.6-18.3 2.6-21.7 2.6-25.3 2.6-30.7 2.6-36.6 2.6-41.4 2.6-47.5 2.6-56.2 2.6-65 2.6-73.5 2.6-74.9 2.6-67.9 2.6-55.5 2.6-34.7 2.6-4.9 2.6 44.3 2.6 80.8 2.6 91.8 2.6 92.1 2.6 85.6 2.6 71.3 2.6 55.4 2.6 45.1 2.6 37.7 2.6 29.7 2.6 25.1 2.6 21.4 2.6 15 2.6 11.3 2.6 10.4 2.6 9.5 2.6 7.1 2.6 4.3 2.6 3.3 2.6 2.4 2.6 2.2 2.6 3 2.6 2.3 2.6 1 2.6 0.9 2.6 1.4 2.6 1.9 2.6 3.5 2.6 1.9 2.6-0.5 2.6-0.3 2.6-0.2 2.6 0.4 2.6 1.8 2.6 2 2.6 0.6 2.6 0.8 2.6 2.3 2.6 1.5 2.6 1.4 2.6 2.8 2.6 2.4 2.6 2 2.6 3.9 2.6 4.1 2.6 2.3 2.6 2 2.6 1.6 2.6 1.3 2.6 3.1 2.6 4.1 2.6 3 2.6 1.9 2.6 2.1 2.6 2.5 2.6 2.8 2.6 3.5 2.6 3.7 2.6 2.9 2.6 2.7 2.6 2.8 2.6 2.2 2.6 2.6 2.6 2.8 2.6 2.2 2.6 2.4 2.6 2.1 2.6 0.9 2.6 1.4 2.6 1.8 2.6 1.8 2.6 2.6 2.6 1.9 2.6 1.1 2.6 1.7 2.6 2.2 2.6 1.7 2.6 0.2 2.6-0.7 2.6-0.1 2.6 0.3 2.6 0.9 2.6 1.6 2.6 0.8 2.6 0.4 2.6 0.8 2.6 0.3 2.6 0.8 2.6 1.7 2.6 0 2.6-0.9 2.6-0.2 2.6 0.1 2.6 0.8 2.6 0.5 2.6-0.6 2.6-0.1 2.6 0.3 2.6 0.5 2.6 0.2 2.6-0.4 2.6-0.6 2.6-0.7 2.6-1.2 2.6-2.3 2.6-2.4 2.6-0.1 2.6 0.9 2.6 1.2 2.6 1.9 2.6 0.7 2.6-0.3 2.6 0.6 2.6 1 2.6 0 2.6-1.4 2.6 0.2 2.6 1.4 2.6 0.4 2.6 0.7 2.6 0 2.6-1.6 2.6-0.6 2.6-0.1 2.6 0 2.6 0.1 2.6-0.7 2.6 0.4 2.6 0.3 2.6-1.2 2.6-0.6 2.6 0.2 2.6-1.1 2.6-1.4 2.6 0.1 2.6 0.8 2.6-0.6 2.6-1 2.6 1.2 2.6 0.6 2.6-1.6 2.6 0.5 2.6 1.3 2.6-0.3 2.6-0.3 2.6-0.3 2.6-1.2 2.6-2 2.6-1.5 2.6 0.3 2.6 0.5 2.6-0.6 2.6-1.2 2.6-1.3 2.6 0.3 2.6 1.9 2.6-0.1 2.6-2.5 2.6-1.7 2.6 0.1 2.6-0.1 2.6 0.3 2.6 0.1 2.6-1.4 2.6-1.2 2.6 0.2 2.6-0.3 2.6-1.2 2.6-0.7 2.6-0.4 2.6-1.2 2.6-1.1 2.6 0.4 2.6 0.7 2.6-0.5 2.6-0.7 2.6 0.1 2.6 0.3 2.6-0.5 2.6-0.4 2.6-1.6 2.6-3.3 2.6-0.4 2.6 1.4 2.6-0.7 2.6-1.3 2.6 0.5 2.6-0.9 2.6-2.2 2.6-1.1 2.6-0.9 2.6-0.6 2.6-0.2 2.6-0.8 2.6-1.5 2.6-1.3 2.6-0.5 2.6-1.1 2.6-1.7 2.6-0.9 2.6-0.3 2.6 0.5 2.6-0.9 2.6-2.3 2.6-0.8 2.6-0.8 2.6-2.5 2.6-1.7 2.6-0.1 2.6-0.7 2.6-1.8 2.6-1.3 2.6 0 2.6-0.4 2.6-1.8 2.6-2.2 2.6-1.7 2.6-0.4 2.6-0.6 2.6-1.4 2.6-2.2 2.6-2.1 2.6-0.3 2.6-0.6 2.6-0.6 2.6-0.9 2.6-1.8 2.6-1 2.6-0.1 2.6-0.8 2.6-3.4 2.6-2.9 2.6 0.4 2.6 0.3 2.6-2.2 2.6-2 2.6 1.1 2.6 0.9 2.6-1.6 2.6-2.8 2.6-2.1 2.6-1.1 2.6-1.9 2.6-2.6 2.6-1.9 2.6 0.5 2.6 1.3 2.6-1.9 2.6-3.9 2.6-1.2 2.6-0.7 2.6-3.6 2.6-3.4 2.6-1.2 2.6-0.2 2.6-1 2.6-2.3 2.6-2.4 2.6-1.9 2.6-2.8 2.6-4.6 2.6-2.6 2.6-0.3 2.6-2.4 2.6-3.7 2.6-1.6 2.6-2.4 2.6-3.7 2.6-4.2 2.6-4.9 2.6-4 2.6-2.2 2.6-2.7 2.6-5.1 2.6-4.4 2.6-3.7 2.6-3 2.6-0.6 2.6-1.6 2.6-3.3 2.6-3.8 2.6-3.9 2.6-2.5 2.6-2.2 2.6-2.7 2.6-1 2.6-0.2 2.6-0.4 2.6-0.5 2.6-0.8 2.6-0.3 2.6-0.3 2.6-0.2 2.6 1.4 2.6 1.2 2.6 1.5 2.6 3.3 2.6 2.5 2.6 2.4 2.6 3.6 2.6 4.2 2.6 3.2 2.6 3.3 2.6 4.4 2.6 3.8 2.6 4.5 2.6 3.9 2.6 2.3 2.6 2 2.6 3.2 2.6 4.9 2.6 3.3 2.6 2.3 2.6 3.4 2.6 4.1 2.6 3 2.6 0.9 2.6 1.4 2.6 2.7 2.6 1.9 2.6 1.2 2.6 1.6 2.6 2.6 2.6 2.1 2.6 1.2 2.6 1.5 2.6 1.3 2.6 1 2.6 0.1 2.6-0.4 2.6 0.3 2.6 0.2 2.6-0.2 2.6-0.6 2.6-0.9 2.6-1.2 2.6 0.4 2.6 1.6 2.6 0.4 2.6-2.1 2.6-2 2.6 1.1 2.6-0.1 2.6-3.3 2.6-2.3 2.6-0.1 2.6-0.6 2.6-2.1 2.6-2.8 2.6-3.7 2.6-2.7 2.6-0.4 2.6-0.9 2.6-1.9 2.6-3.4 2.6-4.2 2.6-4.4 2.6-5.4 2.6-4.7 2.6-5.2 2.6-5.8 2.6-5 2.6-6.7 2.6-6.8 2.6-5.6 2.6-4.8 2.6-4.6 2.6-5.7 2.6-2.7 2.6 0.7 2.6-0.1 2.6 1.2 2.6 3.5 2.6 4.7 2.6 6.6 2.6 6.7 2.6 7.1 2.6 9 2.6 8.3 2.6 7.5 2.6 7.5 2.6 5.8 2.6 5.4 2.6 5.5 2.6 5.3 2.6 7.7 2.6 6.4 2.6 3.1 2.6 2.2 2.6 1.6 2.6 3.3 2.6 4.1 2.6 2.3 2.6 0.5 2.6 0.5 2.6 2.6 2.6 2.5 2.6 1.2 2.6 1.5 2.6 1.9 2.6 1.5 2.6 0.3 2.6 1 2.6 1.4 2.6 0.7 2.6 1.3 2.6 0.8 2.6-1.1 2.6-1.1 2.6 0.4 2.6 1.9 2.6 1.5 2.6-0.2 2.6-0.8 2.6-0.5 2.6-0.2 2.6-0.2 2.6 0 2.6 0.4 2.6-0.3 2.6-0.6 2.6 0 2.6 0.7 2.6 0.4 2.6-0.5 2.6 0 2.6 0.6 2.6-0.2 2.6-0.6 2.6 0 2.6-0.2 2.6-0.7 2.6 0 2.6-0.6 2.6-0.7 2.6-0.3 2.6 0.7 2.6 0.5 2.6-1.1 2.6-1.8 0.7-0.7" stroke="#1fc4c4" stroke-width="3.6"/>
<path d="M335.2 2239l2.6-1.1 2.6 1.1 2.6 1.3 2.6-0.8 2.6-2 2.6-2 2.6-1.4 2.6-0.7 2.6-0.5 2.6-0.2 2.6 0.2 2.6-0.5 2.6-1.1 2.6-0.9 2.6-0.5 2.6 0.4 2.6 0.4 2.6-0.7 2.6-0.9 2.6 1 2.6 1 2.6-1.1 2.6-1.2 2.6-0.5 2.6-0.6 2.6-0.7 2.6 0.1 2.6 0 2.6-0.3 2.6 0.5 2.6 1.1 2.6 1.1 2.6 0 2.6-0.4 2.6-0.3 2.6-0.3 2.6-0.8 2.6-1 2.6-1.8 2.6-2.2 2.6-0.7 2.6-0.6 2.6-0.8 2.6-0.4 2.6-1.2 2.6-1.8 2.6-1.9 2.6-2.1 2.6-2.4 2.6-4 2.6-6.1 2.6-6 2.6-4.4 2.6-4.6 2.6-4.4 2.6-3.9 2.6-3.3 2.6-2.3 2.6-3.7 2.6-4.3 2.6-3.4 2.6-3.1 2.6-4.5 2.6-6.3 2.6-4.4 2.6-3.9 2.6-5.8 2.6-5.7 2.6-5.5 2.6-5.7 2.6-7.5 2.6-9.9 2.6-9.6 2.6-10 2.6-11.1 2.6-11.3 2.6-13.3 2.6-14.9 2.6-16.2 2.6-20.9 2.6-23 2.6-23.9 2.6-26.6 2.6-26.4 2.6-29.6 2.6-34.6 2.6-35.9 2.6-36 2.6-36 2.6-35.7 2.6-32.5 2.6-27.5 2.6-19.8 2.6-9.2 2.6-1.8 2.6 14 2.6 33.9 2.6 49.7 2.6 55.8 2.6 54.3 2.6 51.9 2.6 48.8 2.6 44.2 2.6 36.5 2.6 28.6 2.6 27.4 2.6 25.9 2.6 20.2 2.6 16.8 2.6 13.4 2.6 8.9 2.6 7.3 2.6 6 2.6 3.7 2.6 4.2 2.6 3.9 2.6 1.9 2.6 1.6 2.6 2.3 2.6 2.2 2.6 1.7 2.6 1.5 2.6 2.8 2.6 2.6 2.6-0.8 2.6-1.4 2.6 2 2.6 3.8 2.6 2.3 2.6 2.1 2.6 1.9 2.6 0.3 2.6 0.3 2.6 1.6 2.6 2.9 2.6 1.1 2.6-0.5 2.6 1.6 2.6 1.2 2.6 0.2 2.6 1.7 2.6 3.3 2.6 4.5 2.6 2.7 2.6 2.3 2.6 3.7 2.6 2.4 2.6 2 2.6 2.9 2.6 1.9 2.6 2.6 2.6 4.5 2.6 3.7 2.6 2 2.6 1.8 2.6 2.2 2.6 1.9 2.6 1.5 2.6 1.9 2.6 2 2.6 1.3 2.6 0.4 2.6 1.5 2.6 3.2 2.6 2.6 2.6 1.2 2.6 0.5 2.6 1.3 2.6 1.8 2.6 1.3 2.6 0.3 2.6 0.9 2.6 1.6 2.6 1.7 2.6 1.6 2.6-0.2 2.6-0.5 2.6 1.3 2.6 0.2 2.6-0.6 2.6 0.5 2.6-1.5 2.6-2 2.6-0.2 2.6-0.3 2.6 0.5 2.6 1.9 2.6 0.3 2.6-1.1 2.6-1 2.6-0.4 2.6 0.6 2.6 1.3 2.6 0.4 2.6-0.5 2.6-0.2 2.6-0.9 2.6 0.2 2.6 0.8 2.6-0.9 2.6-0.2 2.6-0.1 2.6-0.9 2.6-0.4 2.6-0.1 2.6 0.3 2.6 1.2 2.6 1.5 2.6-0.2 2.6-1.2 2.6-0.2 2.6 0.9 2.6 1.4 2.6 0.3 2.6-2.2 2.6-1.8 2.6 1.6 2.6 1.2 2.6-0.8 2.6-0.3 2.6 1.4 2.6 1.5 2.6-0.2 2.6-1.2 2.6-0.6 2.6 0.4 2.6 0.5 2.6 0.3 2.6-1.3 2.6-2.1 2.6 0.1 2.6 1.5 2.6 1.4 2.6-0.2 2.6-1.4 2.6-0.4 2.6-0.1 2.6 0 2.6 1.3 2.6 0.8 2.6-2.3 2.6-1.7 2.6 1.1 2.6 0.5 2.6-0.2 2.6 0.6 2.6 0.6 2.6-1.1 2.6-1.9 2.6-0.7 2.6 0.6 2.6-0.4 2.6-1.4 2.6-1.8 2.6-1.6 2.6-0.2 2.6 0.7 2.6-0.4 2.6-0.9 2.6-0.5 2.6-1.9 2.6-1.4 2.6 0.5 2.6-0.3 2.6-1.4 2.6-1.6 2.6-0.2 2.6 0.7 2.6-0.6 2.6-1.2 2.6-2.1 2.6-2.5 2.6-1 2.6 0.1 2.6 0.2 2.6-1 2.6-2.4 2.6-2.3 2.6-0.8 2.6-0.6 2.6-1.9 2.6-2.1 2.6-0.3 2.6 0.4 2.6-1.4 2.6-0.6 2.6-0.8 2.6-3.4 2.6-1.8 2.6-0.6 2.6-1.9 2.6-1.3 2.6-0.7 2.6-1.3 2.6-0.8 2.6-1.3 2.6-1.3 2.6-1.2 2.6-2.4 2.6-0.9 2.6 0 2.6-0.9 2.6-0.4 2.6-2.1 2.6-2.9 2.6-0.4 2.6 0.4 2.6-1.3 2.6-2.1 2.6-1 2.6-0.6 2.6-1.4 2.6-0.6 2.6-0.9 2.6-1.2 2.6 0.3 2.6-0.3 2.6-2.6 2.6-2.3 2.6-1.1 2.6-1.9 2.6-1.2 2.6 0.1 2.6-0.7 2.6-1.5 2.6-1.7 2.6-1.1 2.6-1.3 2.6-1.6 2.6-0.5 2.6 0.1 2.6-0.2 2.6-1.9 2.6-2.3 2.6-0.7 2.6 0.1 2.6-0.1 2.6-0.2 2.6-1.8 2.6-2.5 2.6-1 2.6-1.4 2.6-1.6 2.6-0.1 2.6-1.3 2.6-2.9 2.6-0.4 2.6 0.4 2.6-1.5 2.6-1.8 2.6-1.6 2.6-1.4 2.6-0.8 2.6-3.4 2.6-3.9 2.6-1 2.6-1.4 2.6-2.2 2.6-1.1 2.6-2.9 2.6-3.9 2.6-1.9 2.6-1.8 2.6-2.4 2.6-3 2.6-2.8 2.6-2 2.6-2.6 2.6-1.8 2.6-2 2.6-5.2 2.6-4.7 2.6-1.8 2.6-1.1 2.6-2 2.6-4 2.6-4.3 2.6-1.5 2.6-0.6 2.6-2 2.6-0.5 2.6-0.7 2.6-2.3 2.6-1.8 2.6-0.9 2.6-1 2.6-0.9 2.6 0.7 2.6 2.2 2.6 0.3 2.6-1.1 2.6 2 2.6 4 2.6 2.6 2.6 1.4 2.6 0.8 2.6 1.5 2.6 1.4 2.6 1.3 2.6 2.9 2.6 3.3 2.6 0.9 2.6 1.4 2.6 4.6 2.6 3.9 2.6 2.4 2.6 2.5 2.6 2.6 2.6 2.8 2.6 2.8 2.6 0.2 2.6 0.6 2.6 4.3 2.6 2.4 2.6 0.8 2.6 3.6 2.6 3.5 2.6 0.3 2.6-1.6 2.6-0.3 2.6 1.6 2.6 1 2.6 0.3 2.6 0.7 2.6-0.4 2.6 0.6 2.6 1.4 2.6-0.1 2.6 0.4 2.6 1.2 2.6-0.3 2.6-0.1 2.6 1.9 2.6-0.1 2.6-3.5 2.6-1.8 2.6 0.5 2.6 0.9 2.6 1.7 2.6-0.1 2.6-1.9 2.6-1.7 2.6-1.3 2.6-0.9 2.6-1.2 2.6-1.8 2.6-2.4 2.6-2.4 2.6-2 2.6-1.5 2.6-0.5 2.6-0.4 2.6-0.9 2.6-3.6 2.6-5.6 2.6-4.1 2.6-2.6 2.6-2.5 2.6-2.1 2.6-3.2 2.6-5.3 2.6-3.6 2.6-3 2.6-4.6 2.6-2.6 2.6-1.6 2.6-1.8 2.6 1.3 2.6 3.3 2.6 2.5 2.6 3.4 2.6 4.9 2.6 5.3 2.6 5.1 2.6 4.4 2.6 4.5 2.6 4 2.6 2.9 2.6 3.2 2.6 4.2 2.6 3.8 2.6 1.3 2.6 0.8 2.6 3.5 2.6 3.7 2.6 2.6 2.6 1.6 2.6 1.5 2.6 0.5 2.6-1.2 2.6 0 2.6 1.7 2.6 1.2 2.6 1.1 2.6 1.1 2.6-0.3 2.6-0.5 2.6 0.9 2.6 1.2 2.6 0 2.6-0.4 2.6-0.3 2.6 0.3 2.6 0.6 2.6-0.2 2.6 0 2.6-1.2 2.6-2.3 2.6 0.6 2.6 1.9 2.6-0.3 2.6-1.7 2.6-0.5 2.6 0.2 2.6 0 2.6 1.7 2.6 0.7 2.6-2.4 2.6-1.4 2.6-0.3 2.6-0.2 2.6 0.4 2.6-0.6 2.6-2 2.6-1.6 2.6-0.7 2.6 0 2.6 0.5 2.6 0.4 2.6-0.9 2.6 0.3 2.6 1.7 2.6-0.9 2.6-2.9 2.6-2.5 2.6-1.9 0.7 0.2" stroke="#a864e6" stroke-width="3.6"/>
</g>
<g stroke="#111" stroke-width="5" fill="none">
<line x1="643.6" y1="57.8" x2="643.6" y2="1111.5" stroke-dasharray="27.5 26.5"/>
<line x1="1348.9" y1="57.8" x2="1348.9" y2="1111.5" stroke-dasharray="27.5 26.5"/>
<line x1="1536.3" y1="57.8" x2="1536.3" y2="1111.5" stroke-dasharray="27.5 26.5"/>
<line x1="584.6" y1="1376.8" x2="584.6" y2="2529" stroke-dasharray="29.5 29.7"/>
<line x1="1342.6" y1="1376.8" x2="1342.6" y2="2529" stroke-dasharray="29.5 29.7"/>
<line x1="1548.6" y1="1376.8" x2="1548.6" y2="2529" stroke-dasharray="29.5 29.7"/>
</g>
<g stroke="#262626" stroke-width="4.8" fill="none" stroke-linecap="square">
<rect x="293" y="47" width="1408" height="1064.5"/>
<rect x="286" y="1366" width="1443.5" height="1163"/>
</g>
<path d="M269.6 1111.50H293M269.6 579.25H293M269.6 47.00H293M281.5 845.38H293M281.5 313.12H293M293.00 1111.5V1131.9M371.22 1111.5V1121.5M449.44 1111.5V1131.9M527.67 1111.5V1121.5M605.89 1111.5V1131.9M684.11 1111.5V1121.5M762.33 1111.5V1131.9M840.55 1111.5V1121.5M918.78 1111.5V1131.9M997.00 1111.5V1121.5M1075.22 1111.5V1131.9M1153.44 1111.5V1121.5M1231.66 1111.5V1131.9M1309.89 1111.5V1121.5M1388.11 1111.5V1131.9M1466.33 1111.5V1121.5M1544.55 1111.5V1131.9M1622.77 1111.5V1121.5M1701.00 1111.5V1131.9M262.6 2529.00H286M274.5 2412.70H286M262.6 2296.39H286M274.5 2180.09H286M262.6 2063.79H286M274.5 1947.49H286M262.6 1831.18H286M274.5 1714.88H286M262.6 1598.58H286M274.5 1482.28H286M262.6 1365.97H286M286.00 2529V2540.0M370.91 2529V2550.5M455.82 2529V2540.0M540.74 2529V2550.5M625.65 2529V2540.0M710.56 2529V2550.5M795.47 2529V2540.0M880.38 2529V2550.5M965.30 2529V2540.0M1050.21 2529V2550.5M1135.12 2529V2540.0M1220.03 2529V2550.5M1304.94 2529V2540.0M1389.86 2529V2550.5M1474.77 2529V2540.0M1559.68 2529V2550.5M1644.59 2529V2540.0M1729.50 2529V2550.5" stroke="#262626" stroke-width="4.6" fill="none"/>
<text transform="translate(255.45 59.42) scale(0.4874 0.4746)" text-anchor="end" fill="#262626" stroke="#262626" stroke-width="2">20000</text>
<text transform="translate(255.45 592.22) scale(0.4874 0.4746)" text-anchor="end" fill="#262626" stroke="#262626" stroke-width="2">10000</text>
<text transform="translate(255.45 1125.02) scale(0.4874 0.4746)" text-anchor="end" fill="#262626" stroke="#262626" stroke-width="2">0</text>
<text transform="translate(292.10 1181.23) scale(0.4850 0.4690)" text-anchor="middle" fill="#262626" stroke="#262626" stroke-width="2">0</text>
<text transform="translate(448.54 1181.23) scale(0.4850 0.4690)" text-anchor="middle" fill="#262626" stroke="#262626" stroke-width="2">200</text>
<text transform="translate(604.99 1181.23) scale(0.4850 0.4690)" text-anchor="middle" fill="#262626" stroke="#262626" stroke-width="2">400</text>
<text transform="translate(761.43 1181.23) scale(0.4850 0.4690)" text-anchor="middle" fill="#262626" stroke="#262626" stroke-width="2">600</text>
<text transform="translate(917.88 1181.23) scale(0.4850 0.4690)" text-anchor="middle" fill="#262626" stroke="#262626" stroke-width="2">800</text>
<text transform="translate(1074.32 1181.23) scale(0.4850 0.4690)" text-anchor="middle" fill="#262626" stroke="#262626" stroke-width="2">1000</text>
<text transform="translate(1230.76 1181.23) scale(0.4850 0.4690)" text-anchor="middle" fill="#262626" stroke="#262626" stroke-width="2">1200</text>
<text transform="translate(1387.21 1181.23) scale(0.4850 0.4690)" text-anchor="middle" fill="#262626" stroke="#262626" stroke-width="2">1400</text>
<text transform="translate(1543.65 1181.23) scale(0.4850 0.4690)" text-anchor="middle" fill="#262626" stroke="#262626" stroke-width="2">1600</text>
<text transform="translate(1700.10 1181.23) scale(0.4850 0.4690)" text-anchor="middle" fill="#262626" stroke="#262626" stroke-width="2">1800</text>
<text transform="translate(248.00 2543.07) scale(0.5000 0.5150)" text-anchor="end" fill="#262626" stroke="#262626" stroke-width="2">0</text>
<text transform="translate(248.00 2310.47) scale(0.5000 0.5150)" text-anchor="end" fill="#262626" stroke="#262626" stroke-width="2">15000</text>
<text transform="translate(248.00 2077.86) scale(0.5000 0.5150)" text-anchor="end" fill="#262626" stroke="#262626" stroke-width="2">30000</text>
<text transform="translate(248.00 1845.25) scale(0.5000 0.5150)" text-anchor="end" fill="#262626" stroke="#262626" stroke-width="2">45000</text>
<text transform="translate(248.00 1612.65) scale(0.5000 0.5150)" text-anchor="end" fill="#262626" stroke="#262626" stroke-width="2">60000</text>
<text transform="translate(248.00 1380.04) scale(0.5000 0.5150)" text-anchor="end" fill="#262626" stroke="#262626" stroke-width="2">75000</text>
<text transform="translate(370.91 2605.67) scale(0.5050 0.5150)" text-anchor="middle" fill="#262626" stroke="#262626" stroke-width="2">200</text>
<text transform="translate(540.74 2605.67) scale(0.5050 0.5150)" text-anchor="middle" fill="#262626" stroke="#262626" stroke-width="2">400</text>
<text transform="translate(710.56 2605.67) scale(0.5050 0.5150)" text-anchor="middle" fill="#262626" stroke="#262626" stroke-width="2">600</text>
<text transform="translate(880.38 2605.67) scale(0.5050 0.5150)" text-anchor="middle" fill="#262626" stroke="#262626" stroke-width="2">800</text>
<text transform="translate(1050.21 2605.67) scale(0.5050 0.5150)" text-anchor="middle" fill="#262626" stroke="#262626" stroke-width="2">1000</text>
<text transform="translate(1220.03 2605.67) scale(0.5050 0.5150)" text-anchor="middle" fill="#262626" stroke="#262626" stroke-width="2">1200</text>
<text transform="translate(1389.86 2605.67) scale(0.5050 0.5150)" text-anchor="middle" fill="#262626" stroke="#262626" stroke-width="2">1400</text>
<text transform="translate(1559.68 2605.67) scale(0.5050 0.5150)" text-anchor="middle" fill="#262626" stroke="#262626" stroke-width="2">1600</text>
<text transform="translate(1729.50 2605.67) scale(0.5050 0.5150)" text-anchor="middle" fill="#262626" stroke="#262626" stroke-width="2">1800</text>
<text transform="translate(92.90 984.80) rotate(-90) scale(0.7005 0.7457)" font-weight="bold" fill="#000">Normalized counts (a.u.)</text>
<text transform="translate(81.40 2390.30) rotate(-90) scale(0.7653 0.7543)" font-weight="bold" fill="#000">Normalized counts (a.u.)</text>
<text transform="translate(661.50 1297.00) scale(0.7484 0.7000)" font-weight="bold" fill="#000">Raman shift (cm</text>
<text transform="translate(1246.66 1270.60) scale(0.4880 0.4600)" fill="#000">−</text>
<text transform="translate(1275.70 1268.20) scale(0.5140 0.4810)" font-weight="bold" fill="#000">1</text>
<text transform="translate(1308.35 1297.00) scale(0.7484 0.7000)" font-weight="bold" fill="#000">)</text>
<text transform="translate(653.80 2732.10) scale(0.7671 0.7695)" font-weight="bold" fill="#000">Raman shift (cm</text>
<text transform="translate(1253.25 2701.60) scale(0.4900 0.4900)" fill="#000">−</text>
<text transform="translate(1282.90 2699.90) scale(0.5300 0.5300)" font-weight="bold" fill="#000">1</text>
<text transform="translate(1316.50 2732.10) scale(0.7671 0.7695)" font-weight="bold" fill="#000">)</text>
<text transform="translate(512.60 140.40) scale(0.6994 0.6577)" font-weight="bold" fill="#008200">449</text>
<text transform="translate(1366.70 123.60) scale(0.6528 0.6634)" font-weight="bold" fill="#008200">1351</text>
<text transform="translate(1540.60 123.60) scale(0.6925 0.6940)" font-weight="bold" fill="#008200">1590</text>
<text transform="translate(745.50 121.90) scale(0.7450 0.7010)" font-weight="bold" fill="#008200">USED Ni</text>
<text transform="translate(1047.00 141.10) scale(0.5056 0.4810)" font-weight="bold" fill="#008200">4</text>
<text transform="translate(1076.70 121.90) scale(0.7330 0.7010)" font-weight="bold" fill="#008200">Ce</text>
<text transform="translate(1170.70 141.40) scale(0.5390 0.4900)" font-weight="bold" fill="#008200">6</text>
<text transform="translate(449.20 1448.50) scale(0.7290 0.7210)" fill="#0000ff" stroke="#0000ff" stroke-width="1.5">452</text>
<text transform="translate(1359.05 1448.60) scale(0.7066 0.7280)" fill="#0000ff" stroke="#0000ff" stroke-width="1.5">1346</text>
<text transform="translate(1562.76 1448.60) scale(0.7060 0.7280)" fill="#0000ff" stroke="#0000ff" stroke-width="1.5">1588</text>
<text transform="translate(700.40 1440.10) scale(0.7657 0.7700)" font-weight="bold" fill="#0000ff">USED Cu</text>
<text transform="translate(1035.50 1460.20) scale(0.5200 0.5290)" font-weight="bold" fill="#0000ff">4</text>
<text transform="translate(1065.80 1440.10) scale(0.7480 0.7700)" font-weight="bold" fill="#0000ff">Ce</text>
<text transform="translate(1163.30 1461.35) scale(0.5220 0.5490)" font-weight="bold" fill="#0000ff">6</text>
</g></svg></body></html>
